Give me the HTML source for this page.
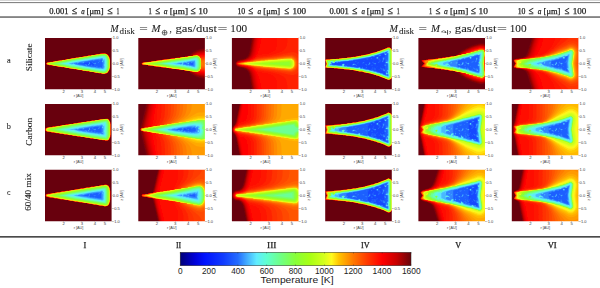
<!DOCTYPE html><html><head><meta charset="utf-8"><style>html,body{margin:0;padding:0;background:#fff;width:600px;height:288px;overflow:hidden}svg{display:block}</style></head><body>
<svg width="600" height="288" viewBox="0 0 600 288">
<defs><filter id="bl" x="-5%" y="-5%" width="110%" height="110%"><feGaussianBlur stdDeviation="0.45"/></filter><filter id="tb" x="-2%" y="-10%" width="104%" height="120%"><feGaussianBlur stdDeviation="0.3"/></filter></defs><rect width="600" height="288" fill="#fff"/>
<rect x="0" y="0" width="600" height="0.7" fill="#c4c4c4"/>
<rect x="0" y="2.1" width="600" height="1.0" fill="#777"/>
<rect x="0" y="16.4" width="600" height="1.3" fill="#505050"/>
<rect x="0" y="236.1" width="600" height="1.5" fill="#383838"/>
<g filter="url(#tb)" stroke="#222" stroke-width="0.25">
<text x="49.25" y="13.60" textLength="19.24" lengthAdjust="spacingAndGlyphs" style="font-family:'Liberation Serif';font-size:8.6px" fill="#222" >0.001</text>
<text x="72.04" y="13.60" textLength="5.28" lengthAdjust="spacingAndGlyphs" style="font-family:'Liberation Serif';font-size:10.4px" fill="#222" >≤</text>
<text x="81.30" y="13.60" textLength="3.44" lengthAdjust="spacingAndGlyphs" style="font-family:'Liberation Serif';font-size:8.6px;font-style:italic" fill="#222" >a</text>
<text x="86.55" y="13.60" textLength="16.96" lengthAdjust="spacingAndGlyphs" style="font-family:'Liberation Serif';font-size:8.6px" fill="#222" >[μm]</text>
<text x="107.54" y="13.60" textLength="5.28" lengthAdjust="spacingAndGlyphs" style="font-family:'Liberation Serif';font-size:10.4px" fill="#222" >≤</text>
<text x="116.50" y="13.60" textLength="2.86" lengthAdjust="spacingAndGlyphs" style="font-family:'Liberation Serif';font-size:8.6px" fill="#222" >1</text>
<text x="148.62" y="13.60" textLength="3.29" lengthAdjust="spacingAndGlyphs" style="font-family:'Liberation Serif';font-size:8.6px" fill="#222" >1</text>
<text x="155.38" y="13.60" textLength="4.80" lengthAdjust="spacingAndGlyphs" style="font-family:'Liberation Serif';font-size:10.4px" fill="#222" >≤</text>
<text x="163.78" y="13.60" textLength="3.78" lengthAdjust="spacingAndGlyphs" style="font-family:'Liberation Serif';font-size:8.6px;font-style:italic" fill="#222" >a</text>
<text x="169.80" y="13.60" textLength="18.15" lengthAdjust="spacingAndGlyphs" style="font-family:'Liberation Serif';font-size:8.6px" fill="#222" >[μm]</text>
<text x="190.86" y="13.60" textLength="5.04" lengthAdjust="spacingAndGlyphs" style="font-family:'Liberation Serif';font-size:10.4px" fill="#222" >≤</text>
<text x="198.38" y="13.60" textLength="9.40" lengthAdjust="spacingAndGlyphs" style="font-family:'Liberation Serif';font-size:8.6px" fill="#222" >10</text>
<text x="237.42" y="13.60" textLength="7.79" lengthAdjust="spacingAndGlyphs" style="font-family:'Liberation Serif';font-size:8.6px" fill="#222" >10</text>
<text x="248.47" y="13.60" textLength="4.92" lengthAdjust="spacingAndGlyphs" style="font-family:'Liberation Serif';font-size:10.4px" fill="#222" >≤</text>
<text x="257.49" y="13.60" textLength="3.67" lengthAdjust="spacingAndGlyphs" style="font-family:'Liberation Serif';font-size:8.6px;font-style:italic" fill="#222" >a</text>
<text x="263.36" y="13.60" textLength="16.75" lengthAdjust="spacingAndGlyphs" style="font-family:'Liberation Serif';font-size:8.6px" fill="#222" >[μm]</text>
<text x="284.58" y="13.60" textLength="4.80" lengthAdjust="spacingAndGlyphs" style="font-family:'Liberation Serif';font-size:10.4px" fill="#222" >≤</text>
<text x="292.41" y="13.60" textLength="13.64" lengthAdjust="spacingAndGlyphs" style="font-family:'Liberation Serif';font-size:8.6px" fill="#222" >100</text>
<text x="329.50" y="13.60" textLength="19.24" lengthAdjust="spacingAndGlyphs" style="font-family:'Liberation Serif';font-size:8.6px" fill="#222" >0.001</text>
<text x="352.29" y="13.60" textLength="5.28" lengthAdjust="spacingAndGlyphs" style="font-family:'Liberation Serif';font-size:10.4px" fill="#222" >≤</text>
<text x="361.55" y="13.60" textLength="3.44" lengthAdjust="spacingAndGlyphs" style="font-family:'Liberation Serif';font-size:8.6px;font-style:italic" fill="#222" >a</text>
<text x="366.80" y="13.60" textLength="16.96" lengthAdjust="spacingAndGlyphs" style="font-family:'Liberation Serif';font-size:8.6px" fill="#222" >[μm]</text>
<text x="387.79" y="13.60" textLength="5.28" lengthAdjust="spacingAndGlyphs" style="font-family:'Liberation Serif';font-size:10.4px" fill="#222" >≤</text>
<text x="396.75" y="13.60" textLength="2.86" lengthAdjust="spacingAndGlyphs" style="font-family:'Liberation Serif';font-size:8.6px" fill="#222" >1</text>
<text x="428.88" y="13.60" textLength="3.29" lengthAdjust="spacingAndGlyphs" style="font-family:'Liberation Serif';font-size:8.6px" fill="#222" >1</text>
<text x="435.63" y="13.60" textLength="4.80" lengthAdjust="spacingAndGlyphs" style="font-family:'Liberation Serif';font-size:10.4px" fill="#222" >≤</text>
<text x="444.03" y="13.60" textLength="3.78" lengthAdjust="spacingAndGlyphs" style="font-family:'Liberation Serif';font-size:8.6px;font-style:italic" fill="#222" >a</text>
<text x="450.05" y="13.60" textLength="18.15" lengthAdjust="spacingAndGlyphs" style="font-family:'Liberation Serif';font-size:8.6px" fill="#222" >[μm]</text>
<text x="471.11" y="13.60" textLength="5.04" lengthAdjust="spacingAndGlyphs" style="font-family:'Liberation Serif';font-size:10.4px" fill="#222" >≤</text>
<text x="478.63" y="13.60" textLength="9.40" lengthAdjust="spacingAndGlyphs" style="font-family:'Liberation Serif';font-size:8.6px" fill="#222" >10</text>
<text x="517.67" y="13.60" textLength="7.79" lengthAdjust="spacingAndGlyphs" style="font-family:'Liberation Serif';font-size:8.6px" fill="#222" >10</text>
<text x="528.72" y="13.60" textLength="4.92" lengthAdjust="spacingAndGlyphs" style="font-family:'Liberation Serif';font-size:10.4px" fill="#222" >≤</text>
<text x="537.74" y="13.60" textLength="3.67" lengthAdjust="spacingAndGlyphs" style="font-family:'Liberation Serif';font-size:8.6px;font-style:italic" fill="#222" >a</text>
<text x="543.61" y="13.60" textLength="16.75" lengthAdjust="spacingAndGlyphs" style="font-family:'Liberation Serif';font-size:8.6px" fill="#222" >[μm]</text>
<text x="564.83" y="13.60" textLength="4.80" lengthAdjust="spacingAndGlyphs" style="font-family:'Liberation Serif';font-size:10.4px" fill="#222" >≤</text>
<text x="572.66" y="13.60" textLength="13.64" lengthAdjust="spacingAndGlyphs" style="font-family:'Liberation Serif';font-size:8.6px" fill="#222" >100</text>
<g stroke-width="0.08">
<text x="110.20" y="32.00" textLength="8.36" lengthAdjust="spacingAndGlyphs" style="font-family:'Liberation Serif';font-size:11.4px;font-style:italic" fill="#222" >M</text>
<text x="119.62" y="33.70" textLength="15.09" lengthAdjust="spacingAndGlyphs" style="font-family:'Liberation Serif';font-size:8px" fill="#222" >disk</text>
<text x="139.24" y="32.00" textLength="8.54" lengthAdjust="spacingAndGlyphs" style="font-family:'Liberation Serif';font-size:11.4px" fill="#222" >=</text>
<text x="151.60" y="32.00" textLength="8.93" lengthAdjust="spacingAndGlyphs" style="font-family:'Liberation Serif';font-size:11.4px;font-style:italic" fill="#222" >M</text>
<circle cx="164.6" cy="32.7" r="2.4" fill="none" stroke="#222" stroke-width="0.6"/><path d="M162.2 32.7H167.0M164.6 30.300000000000004V35.1" stroke="#222" stroke-width="0.6"/>
<text x="169.50" y="32.00" textLength="2.29" lengthAdjust="spacingAndGlyphs" style="font-family:'Liberation Serif';font-size:11.4px" fill="#222" >,</text>
<text x="175.44" y="32.00" textLength="41.66" lengthAdjust="spacingAndGlyphs" style="font-family:'Liberation Serif';font-size:11.4px" fill="#222" >gas/dust</text>
<text x="217.63" y="32.00" textLength="9.95" lengthAdjust="spacingAndGlyphs" style="font-family:'Liberation Serif';font-size:11.4px" fill="#222" >=</text>
<text x="230.32" y="32.00" textLength="16.82" lengthAdjust="spacingAndGlyphs" style="font-family:'Liberation Serif';font-size:11.4px" fill="#222" >100</text>
<text x="389.60" y="32.00" textLength="8.36" lengthAdjust="spacingAndGlyphs" style="font-family:'Liberation Serif';font-size:11.4px;font-style:italic" fill="#222" >M</text>
<text x="399.02" y="33.70" textLength="15.09" lengthAdjust="spacingAndGlyphs" style="font-family:'Liberation Serif';font-size:8px" fill="#222" >disk</text>
<text x="418.64" y="32.00" textLength="8.54" lengthAdjust="spacingAndGlyphs" style="font-family:'Liberation Serif';font-size:11.4px" fill="#222" >=</text>
<text x="431.00" y="32.00" textLength="8.93" lengthAdjust="spacingAndGlyphs" style="font-family:'Liberation Serif';font-size:11.4px;font-style:italic" fill="#222" >M</text>
<text x="439.06" y="35.20" textLength="11.47" lengthAdjust="spacingAndGlyphs" style="font-family:'Liberation Sans';font-size:8.7px" fill="#222" >♃</text>
<text x="448.90" y="32.00" textLength="2.29" lengthAdjust="spacingAndGlyphs" style="font-family:'Liberation Serif';font-size:11.4px" fill="#222" >,</text>
<text x="454.84" y="32.00" textLength="41.66" lengthAdjust="spacingAndGlyphs" style="font-family:'Liberation Serif';font-size:11.4px" fill="#222" >gas/dust</text>
<text x="497.03" y="32.00" textLength="9.95" lengthAdjust="spacingAndGlyphs" style="font-family:'Liberation Serif';font-size:11.4px" fill="#222" >=</text>
<text x="509.72" y="32.00" textLength="16.82" lengthAdjust="spacingAndGlyphs" style="font-family:'Liberation Serif';font-size:11.4px" fill="#222" >100</text>
</g>
<g stroke-width="0.1">
<text x="7.06" y="62.70" textLength="3.68" lengthAdjust="spacingAndGlyphs" style="font-family:'Liberation Serif';font-size:8.8px" fill="#222" >a</text>
<text x="6.77" y="128.60" textLength="4.11" lengthAdjust="spacingAndGlyphs" style="font-family:'Liberation Serif';font-size:8.8px" fill="#222" >b</text>
<text x="7.08" y="194.50" textLength="3.46" lengthAdjust="spacingAndGlyphs" style="font-family:'Liberation Serif';font-size:8.8px" fill="#222" >c</text>
<text transform="translate(32.40,71.23) rotate(-90)" x="0" y="0" textLength="27.77" lengthAdjust="spacingAndGlyphs" style="font-family:'Liberation Serif';font-size:8.8px" fill="#222">Silicate</text>
<text transform="translate(32.30,145.77) rotate(-90)" x="0" y="0" textLength="28.04" lengthAdjust="spacingAndGlyphs" style="font-family:'Liberation Serif';font-size:8.8px" fill="#222">Carbon</text>
<text transform="translate(30.60,210.82) rotate(-90)" x="0" y="0" textLength="37.72" lengthAdjust="spacingAndGlyphs" style="font-family:'Liberation Serif';font-size:8.8px" fill="#222">60/40 mix</text>
</g>
</g>
<clipPath id="cp00"><rect x="45.0" y="37.9" width="66.6" height="51.4"/></clipPath>
<g clip-path="url(#cp00)"><g filter="url(#bl)">
<rect x="43.0" y="35.9" width="70.6" height="55.4" fill="rgb(104,4,10)"/>
<path fill="#68040a" d="M100.8 53.6l.2-.2 4.2 0 .3.3 1.3.2 1.4 1.3.8 1 .7 1.4.3 2 .2.3 0 7.5-.2.2-.3 2-1.5 2.6-.7.7-.7.5-.8 0-1.2.5-2.6 0-.2-.3-1 0-.2-.2-2 0-1.3-.5-2 0-.3-.3-1 0-1.2-.5-2 0-.2-.2-1 0-1.3-.5-2 0-.3-.3-1 0-.2-.2-2 0-1.2-.5-1 0-.3-.3-2 0-.3-.2-2-.3-.2-.2-2 0-1.2-.5-2 0-.3-.3-1 0-1.3-.5-2 0-.2-.2-1 0-1.2-.5-2 0-.3-.3-1 0-.3-.2-2 0-.2-.3-2-.2-.2-.3-2 0-.3-.2-2-.3-.3-.2-2 0-1.2-.5-1-.1-.7-.4-.2-.5.2-1 .5-.4.4-.1.3-.2 1.5 0 .2-.3 1 0 .3-.2 2 0 1.3-.5 1 0 .2-.3 2 0 1.2-.5 1 0 .3-.2 2 0 1.3-.5 2 0 .2-.3 2-.2.2-.3 2 0 .3-.2 2-.3.3-.2 2 0 .2-.3 2-.2.2-.3 2 0 .3-.2 1 0 .3-.3 2 0 1.2-.5 1 0 .2-.2 2 0 1.3-.5 1 0 .3-.3 2 0 1.2-.5 2 0 .2-.2 2-.3.3-.2 2 0 .3-.3z"/>
<path fill="#980205" d="M100.9 53.6l4.3-.1.3.2.7.1 1.3.7.9.9 1.2 2.2.3 2 .2.3 0 7.5-.2.2-.3 2-1.5 2.6-.6.6-.7.5-.8 0-1.2.5-2.6 0-1.4-.5-2 0-1.3-.5-2 0-.3-.2-1-.1-1.2-.4-2-.1-.2-.2-1 0-1.3-.5-2 0-1.5-.5-2 0-1.2-.5-3.3-.3-.3-.2-2-.3-.2-.2-2 0-1.2-.5-2 0-.3-.2-1-.1-1.3-.4-2-.1-.2-.2-1 0-1.2-.5-2 0-1.6-.5-2 0-.2-.2-2-.3-.2-.2-2-.1-.3-.2-2-.3-.3-.2-2 0-1.2-.5-1 0-.6-.4-.3-.5.3-1 1.1-.6 1.5 0 1.5-.5 2-.1 1.3-.4 1-.1.2-.2 2 0 1.2-.5 1 0 .3-.2 2-.1 1.3-.4 2-.1.2-.2 2-.3.2-.2 2 0 .3-.2 2-.3.3-.2 2-.1.2-.2 2-.3.2-.2 2 0 1.6-.5 2 0 1.2-.5 1 0 .2-.2 2-.1 1.3-.4 1-.1.3-.2 2 0 1.2-.5 2 0 .2-.2 2-.3.3-.2 2-.1.3-.2z"/>
<path fill="#d60000" d="M100.9 53.6l4.3 0 .3.2.7 0 1.3.8.8.8 1.3 2.2.2 2 .3.3 0 7.5-.3.2-.2 2-1.5 2.6-.6.5-.7.5-.8.1-1.2.4-2.3.1-1.7-.5-2-.1-1.3-.4-2-.1-2.5-.7-2 0-2.5-.7-1.7 0-1.8-.5-2-.1-1.2-.4-3.3-.3-2.5-.7-2-.1-1.2-.4-2-.1-2.6-.7-2 0-2.4-.7-2-.1-1.6-.4-2-.1-2.4-.7-2 0-2.6-.8-1.7 0-1.5-.5-1 0-.5-.3-.3-.5.3-1 1-.6 1.5 0 1.8-.5 1.7 0 2.5-.7 2 0 2.5-.8 2 0 1.5-.5 1.8 0 2.4-.7 2-.1 2.6-.7 2 0 2.4-.7 2-.1 1.6-.4 2-.1 2.4-.7 2 0 2.6-.7 2-.1 1.4-.5 1.8 0 2.5-.7 2 0 .3-.2 1-.1z"/>
<path fill="#ff0000" d="M101 53.6l4 0 1.2.3 1.3.7.8.8 1.2 2.2.3 2 .2.3 0 7.5-.2.2-.3 2-2 3.1-.7.5-2 .5-2.3 0-1.7-.5-1.8 0-1.5-.5-1.7 0-.6-.2-1-.1-1.2-.4-2-.1-2.5-.7-1.7 0-1.8-.5-1.8 0-2.7-.7-2-.1-2.5-.7-1.8 0-1.4-.5-1.8 0-.5-.2-1-.1-1.3-.5-2 0-2.4-.7-1.8 0-1.8-.5-2 0-2.4-.8-1.8 0-2.8-.7-1.7 0-1.5-.5-.9-.1-.8-.7.3-1 1-.5 1.4 0 1.8-.5 1.7 0 2.5-.8 2 0 1.2-.5 1 0 .6-.2 1.7 0 1.5-.5 1.8 0 2.4-.8 2 0 2.8-.8 1.8 0 2.4-.7 2 0 1.8-.5 1.8 0 1.2-.5 1 0 .5-.3 1.7 0 2.6-.7 2 0 1.4-.5 1.8 0 2.5-.7 2-.1z"/>
<path fill="#ff2a00" d="M101.2 53.6l3.8 0 1.2.4 1.3.8 1.1 1.4.8 1.4.3 2 .2.3 0 7.3-.5 2.4-1.9 2.9-1 .7-2 .4-2 .1-1.7-.5-1.8 0-1.5-.5-1.7 0-2.8-.8-3-.3-1.5-.4-1.7 0-1.8-.6-1.8 0-1.4-.5-3-.2-2.8-.8-1.8 0-1.4-.5-3-.2-1.6-.5-1.7 0-2.7-.8-1.8 0-1.8-.5-1.7 0-2.7-.7-1.8 0-2.8-.8-1.7 0-1.5-.5-.8 0-.4-.3-.4-.7.4-.7 1-.4 1.2 0 1.8-.5 1.7-.1 2.7-.7 1.8 0 1.5-.5 3-.3 1.5-.5 1.8 0 2.7-.7 3-.3 1.5-.5 1.8 0 2.7-.7 1.7 0 1.8-.5 1.8 0 1.4-.5 3-.3 2.8-.8 1.8 0 1.4-.5 1.8 0 2.7-.7 3.1-.3z"/>
<path fill="#ff5800" d="M101 53.9l4-.2 1 .3 1.5.9 1 1.3.7 1.5.6 2.5 0 7-.6 2.4-1.7 2.8-1 .7-2 .5-2 0-1.7-.5-1.8 0-1.5-.5-1.7 0-2.8-.8-3-.2-1.5-.5-1.7 0-1.8-.5-1.8 0-1.4-.5-3-.3-2.8-.7-1.8-.1-1.4-.4-3-.3-1.6-.5-1.7 0-2.7-.8-1.8 0-1.8-.5-1.7 0-2.7-.7-1.8 0-2.8-.8-1.7 0-2.3-.5-.7-.9.4-.7.9-.3 1.2 0 1.8-.5 1.7-.1 1.5-.5 3-.2 2.8-.8 1.7 0 1.5-.5 1.8 0 2.7-.7 1.7-.1 2.8-.7 1.8 0 2.7-.8 1.7 0 1.8-.5 1.8 0 2.7-.7 1.7 0 2.8-.8 1.8 0 1.4-.5 1.8 0 2.8-.7 1.7 0z"/>
<path fill="#ff8b00" d="M101.2 53.9l3.8-.1 1 .3 1.3.8 1 1.3.9 1.7.5 2.3 0 7-.5 2.2-1.9 3-.8.6-2 .5-2 0-1.7-.5-1.8 0-1.5-.5-3-.3-1.5-.5-1.8 0-2.7-.7-1.7 0-1.8-.5-1.8 0-1.4-.5-3-.3-2.8-.7-1.8 0-1.4-.5-3-.3-1.6-.5-1.7 0-2.7-.7-1.8-.1-1.8-.5-1.7 0-2.7-.7-1.8 0-2.5-.7-2-.2-2.3-.5-.5-.7.3-.6.8-.3 1.4-.1 1.7-.4 1.6-.1 2.7-.7 1.8 0 1.5-.5 3-.3 1.5-.5 1.8 0 2.7-.7 1.7-.1 2.8-.7 1.8 0 2.7-.8 1.7 0 1.8-.5 1.8 0 1.4-.5 3-.2 2.8-.8 1.8 0 1.4-.5 1.8 0 2.8-.7 1.7 0z"/>
<path fill="#ffc400" d="M100.8 54.2l.7-.3 3.3 0 1.2.3 1.2.8 1 1.2.9 1.7.5 2.3 0 7-.5 2.2-1.9 2.9-.7.5-2.3.6-1.4 0-2-.5-1.6 0-1.7-.5-1.5 0-2.8-.7-3-.3-1.4-.5-1.8 0-2-.5-1.5 0-1.5-.5-3-.3-3-.7-1.5 0-1.5-.5-1.8 0-3-.8-1.4 0-3-.8-1.6 0-2-.5-1.4 0-2.8-.7-1.8-.1-2.7-.7-1.7-.1-2.3-.5-.6-.6.3-.4.8-.4 1.2 0 1.8-.5 1.8-.1 2.7-.7 1.5 0 3-.8 1.5 0 1.7-.5 1.6 0 3-.8 1.4 0 3-.7 3-.3 1.6-.5 5-.5 3-.7 1.4 0 3-.8 1.6 0 1.7-.5 1.5 0 3-.7 1.5 0z"/>
<path fill="#eafc1e" d="M101.2 54.2l3.6-.2 1.2.4 1.2.7 1.7 2.8.5 2.3 0 7-.5 2.2-1.7 2.8-1 .6-2 .5-1.4 0-1.8-.5-1.8 0-1.4-.5-1.8 0-2.8-.8-3-.3-1.4-.4-1.8-.1-2-.5-1.5 0-1.5-.4-3-.3-2.8-.7-1.7-.1-1.5-.4-3-.3-1.5-.5-1.7 0-2.8-.8-5.2-.5-2.8-.8-1.8 0-2.7-.8-1.7-.1-2.3-.5-.3-.4.8-.5 1.2-.1 1.8-.5 1.8-.1 2.7-.8 1.7 0 2.8-.7 1.5 0 1.7-.6 1.8 0 2.8-.7 1.7-.1 2.7-.7 3-.3 1.6-.4 1.4 0 2-.5 1.8-.1 2.8-.7 1.7 0 2.7-.7 1.6 0 1.7-.5 1.7-.1 2.8-.7 1.8 0z"/>
<path fill="#caff1c" d="M101.5 54.2l3.3-.1 1 .3 1.3.8 1 1.2.7 1.5.5 2.3 0 6.7-.5 2.5-1.7 2.8-.9.5-2 .5-1.4 0-1.8-.5-1.8 0-1.4-.5-1.8 0-2.8-.8-3-.2-1.4-.5-1.8 0-1.8-.5-1.7 0-1.5-.5-3-.3-2.8-.7-1.7-.1-1.5-.4-1.8-.1-2.7-.7-1.7 0-2.8-.8-5.2-.6-2.8-.7-1.8-.1-2.7-.7-1.5-.1-2.5-.8.7-.4 3-.6 1.6 0 2.7-.8 1.7-.1 2.8-.7 1.8-.1 1.4-.4 1.8-.1 2.8-.7 3-.3 1.4-.5 1.8 0 2.8-.7 1.7-.1 1.7-.5 1.8 0 1.5-.5 3-.2 2.7-.8 1.8 0 1.5-.5 1.7 0 2.8-.7 1.8 0z"/>
<path fill="#b4ff16" d="M101.3 54.4l3.5-.1 1 .2 1.2.8.9 1.1.7 1.5.6 2.5 0 6.5-.6 2.5-1.6 2.6-.8.5-2 .5-5-.5-1.4-.4-3-.3-1.6-.5-1.7 0-2.7-.8-5.3-.5-2.7-.7-1.8-.1-2.8-.7-5-.5-2.7-.8-1.7 0-2.8-.7-1.8-.1-1.7-.5-1.5 0-3-.8-1.5 0-3-.9-1.5 0-1.5-.6 2.7-.8 1.6 0 7.3-1.6 4.9-.6 7.2-1.5 1.8-.1 2.8-.7 1.7 0 1.7-.5 1.8 0 2.8-.7 1.7-.1 2.7-.7 5-.5 2.8-.8 1.8 0z"/>
<path fill="#a0ff1d" d="M101 54.6l.8-.2 2.7 0 1.3.3 1.1.7 1.5 2.5.6 2.5 0 6.5-.6 2.5-1.5 2.5-.9.5-2 .5-4.5-.5-1.7-.5-1.6 0-7.4-1.5-5-.5-3-.8-1.6 0-6.2-1.3-1.5 0-7.5-1.5-5-.6-9.4-2.1 1.6-.5 1.6-.1 3-.8 1.4-.1 3-.8 1.6 0 6.2-1.3 1.5 0 3-.8 1.5 0 3-.7 5-.6 3-.7 1.5 0 3-.8 4.7-.5 3-.7 1.6-.1z"/>
<path fill="#90ff2f" d="M101.7 54.6l2.8 0 1.3.4 1 .6 1.4 2.6.5 2.2 0 6.5-.5 2.3-1.4 2.5-.8.5-2 .5-1 0-2-.5-1.5 0-1.7-.5-1.6 0-7.4-1.5-5-.5-7.6-1.6-4.7-.5-7.5-1.6-5-.6-7.1-1.8 3.9-1.1 1.7-.1 2.7-.8 4.8-.6 3-.8 1.5 0 7.5-1.5 5-.6 3-.7 1.5 0 3-.8 4.7-.5 3-.7 1.6 0z"/>
<path fill="#82ff4a" d="M101.9 54.9l2.6 0 1 .3 1.1.7 1.3 2.3.5 2.2 0 6.5-.5 2.3-1.7 2.4-2.2.8-4.5-.5-1.7-.5-1.6 0-7.2-1.5-5.2-.5-7.6-1.6-4.7-.5-7.3-1.6-5-.7-5.7-1.4 2.5-.7 1.5-.1 6.3-1.4 1.4-.1 2.8-.7 1.8-.1 2.7-.7 1.7-.1 2.8-.7 5.2-.6 2.8-.7 1.8-.1 2.7-.7 5-.6 2.7-.6 1.8-.1z"/>
<path fill="#76ff70" d="M101.5 55.4l2.7-.1 1 .2 1 .6 1.2 2.1.5 2.4 0 6-.5 2.6-1.5 2.2-2.1.6-4-.5-1.8-.4-1.5-.1-7.5-1.4-5-.6-3-.7-1.5-.1-6.3-1.2-1.4-.1-7.6-1.6-5-.8-3.2-.9.2-.2 1.3-.1 3-.9 4.7-.7 3-.7 1.6-.1 3-.8 1.4 0 3-.8 1.6 0 2-.5 1.4 0 3-.8 1.6 0 3-.7 4.7-.6z"/>
<path fill="#6cff96" d="M101.3 55.9l2.9-.2 1.6.7 1 1.8.6 2.4 0 6-.5 2.3-1.4 2.2-1.7.5-7.3-1-7.5-1.5-5-.6-3-.7-1.5 0-3-.8-1.5 0-6.2-1.3-1.3-.1-9.4-2 2.7-.7 4.7-.7 7.3-1.6 1.7-.1 2.7-.7 5-.6 3-.7 1.6-.1 3-.7 4.7-.5z"/>
<path fill="#64ffbc" d="M101.2 56.4l1-.2 1.8 0 1.2.4 1.1 1.8.5 2.2 0 6-.5 2.3-1.1 1.7-1.7.5-5.3-.9-1.4-.1-3-.7-1.6 0-3-.7-5-.6-10.7-2.1-1.5 0-11.4-2.4.4-.2 3-.6 1.5-.1 3-.8 1.5-.1 7.5-1.5 5-.6 3-.7 1.5-.1 3-.7 4.8-.6z"/>
<path fill="#60f8e1" d="M102.3 56.6l1.7.1.8.2.9 1.5.5 2.5 0 5.5-.5 2.5-.9 1.4-1.3.3-6.7-1-3-.6-1.6-.1-3-.7-5-.6-21.3-4 14.6-2.8 5-.7 3-.6 9.3-1.4z"/>
<path fill="#5ee7ff" d="M102.3 57.2l1.5-.1.6.3.7 1.2.5 2.3 0 5.5-.2 1.2-.3 1-.8 1.3-.8.2-11-1.7-3-.7-5-.6-18.8-3.5 3.1-.7 1.4-.1 7.6-1.6 5-.6 3-.7 9.2-1.4z"/>
<path fill="#48b9ff" d="M101.6 57.9l1.2 0 .2 1.9.5-.1.7-.9.4.8.2 1.6 0 3-1 .7.7.7.3.8-.5 2.2-.3.2-.5-.1-1.5.4-1-.6-.2.4-.6.2-4.2-.7-1.8-.5-1.2 0-.8-.3-1 0-6.7-1-2.7-.8-1.8 0-4.2-1-1.3-.6-1.5-.1-1 .3-3.3-.8 4.5-1 9.6-1.5 7.4-1.4 6.3-.9.7.1 1-.5 1 .2.6-.3zM102.8 60.8l-.3.4 0 .5.3 0 .3-.5-.1-.5z"/>
<path fill="#3086ff" d="M101.7 58.6l.5-.1.5.9-.1.8-.6 1.4.2.6.6-.1.7-1.4.3.1 0 .4 0 3-.4.7.4.5 0 .8-.3 1.7-.7.6-1-.1-1.3-.6-.5-.5-.4.3-.1.6-1.7-.5-.8.3-2.5-.7-2.8-.1-7.2-1.2-2.5-.6-1.8-.1-4.4-.9-1.8-.7-.2-.3.2-.3 3.2-.6.3.7.3.1.6-.4.4-.6 2.4-.5 4.8-.8 1 .2.5-.3 1.7-.5 4-.6.6.6.7-.7 3.7-.7 1.3.3.5-.3zM83.2 62.6l-.4.3.3.3.7-.3 0-.4zM86.2 64.7l0 .5.3.1.1-.4zM89.5 62.3l-.3.3.2.6-.2.4-.9 1-.1.3.3.1 1.3-1.4zM95 63l-.5.6.3.4.9-.6-.2-.4zM98.2 62.1l0 .5.5-.2 0-.2zM72.4 63.4l.6-.2.4.2-.2.2-.7.3-1.2-.3z"/>
<path fill="#1f60ff" d="M101.5 59.6l.8 0-.3 1.3-.4.7.4.8.6.2 0 3-.5.8.1 1.1-1.4.1-.8-.6-.5.4-2.3-.1-.2-.1.5-.8-.3-.3-1.4.9-8.6-1.3-.2-.1 0-.7-.8-.6-1.4.1 0 .4 1 .3 0 .3-1 0-7.3-1.5 1.3-1 4-.5-.8 0-.2.5.2.3 1.2.2.9-.5.1-.9.8-.2 8-1.2.8.4.4-.6 3.6-.5.4.6.8-.6.7.3.1.2-.5 1.5.5.1.4-.6-.1-.8.1-.2.8-.7zM89.8 61.8l-.7.6 0 1-1.1 1.2 0 .5.2.2.6-.2 1.3-1.5zM91.8 64.6l-.8.8.2.4.7-.6zM92.5 61.8l-.3.4.6.3.1-.6zM93 62.7l.1.7.9.3.8.7 1.2-1-.2-.5-.3-.1-1.3.4zM98.2 61.8l-.3.8.6.2.7-.6-.3-.3zM95 64.9l-.4.5.2.4.5-.4zM76.2 63.4l.6-.1.4.3-.2.3-1.8-.3z"/>
<path fill="#1548ff" d="M93.4 61.9l1 0 0 .7-.7 0-.4-.4zM90.2 62.2l1-.2.3.8.7.1 1 1 1.1.5-.1.8-1.4.2-.3-.2-.1-.8-.4-.3-.5.1-.7.9-1.6-.2 1.2-1 .2-.5-.4-.5zM88.5 62.4l.3 0 0 1-1.3 1.3-1.3-.7-1.2 0-.5.2-3-.6 2 0 1.4-.7z"/>
</g></g>
<text x="112.8" y="39.3" style="font-family:'Liberation Sans',sans-serif;font-size:4px" fill="#3c3c3c">1.0</text>
<rect x="111.6" y="37.7" width="0.9" height="0.4" fill="#888"/>
<text x="112.8" y="52.1" style="font-family:'Liberation Sans',sans-serif;font-size:4px" fill="#3c3c3c">0.5</text>
<rect x="111.6" y="50.5" width="0.9" height="0.4" fill="#888"/>
<text x="112.8" y="65.0" style="font-family:'Liberation Sans',sans-serif;font-size:4px" fill="#3c3c3c">0.0</text>
<rect x="111.6" y="63.4" width="0.9" height="0.4" fill="#888"/>
<text x="111.9" y="77.8" style="font-family:'Liberation Sans',sans-serif;font-size:4px" fill="#3c3c3c">−0.5</text>
<rect x="111.6" y="76.2" width="0.9" height="0.4" fill="#888"/>
<text x="111.9" y="90.7" style="font-family:'Liberation Sans',sans-serif;font-size:4px" fill="#3c3c3c">−1.0</text>
<rect x="111.6" y="89.1" width="0.9" height="0.4" fill="#888"/>
<text transform="translate(123.1,63.6) rotate(-90)" text-anchor="middle" style="font-family:'Liberation Sans',sans-serif;font-size:3.8px" fill="#3c3c3c">z [AU]</text>
<text x="63.7" y="93.1" text-anchor="middle" style="font-family:'Liberation Sans',sans-serif;font-size:4.2px" fill="#3c3c3c">2</text>
<rect x="63.5" y="89.3" width="0.4" height="0.9" fill="#888"/>
<text x="81.9" y="93.1" text-anchor="middle" style="font-family:'Liberation Sans',sans-serif;font-size:4.2px" fill="#3c3c3c">3</text>
<rect x="81.7" y="89.3" width="0.4" height="0.9" fill="#888"/>
<text x="94.9" y="93.1" text-anchor="middle" style="font-family:'Liberation Sans',sans-serif;font-size:4.2px" fill="#3c3c3c">4</text>
<rect x="94.7" y="89.3" width="0.4" height="0.9" fill="#888"/>
<text x="104.9" y="93.1" text-anchor="middle" style="font-family:'Liberation Sans',sans-serif;font-size:4.2px" fill="#3c3c3c">5</text>
<rect x="104.7" y="89.3" width="0.4" height="0.9" fill="#888"/>
<text x="78.5" y="96.7" text-anchor="middle" style="font-family:'Liberation Sans',sans-serif;font-size:3.8px" fill="#3c3c3c">r [AU]</text>
<clipPath id="cp01"><rect x="138.3" y="37.9" width="66.6" height="51.4"/></clipPath>
<g clip-path="url(#cp01)"><g filter="url(#bl)">
<rect x="136.3" y="35.9" width="70.6" height="55.4" fill="rgb(104,4,10)"/>
<path fill="#68040a" d="M204 42.4l2.8-.2 0 42.8-4.5-.4-4.3-.9-3.7-1.2-3.5-1.8-3-2-2.7-2.5-2.5-3.3-1.6-3-2.2-.3-.2-.2-1.8 0-.2-.3-4-.2-.3-.3-1 0-.3-.2-4-.3-1.2-.5-4-.2-.2-.3-1 0-.3-.2-6-.5-.3-.3-1 0-.2-.2-4-.3-1.2-.5-4-.2-.3-.3-1 0-.7-1 .7-.9 1 0 1.3-.5 2 0 .2-.3 1.8 0 .2-.2 2 0 1.2-.5 4-.3 1.3-.5 4.3-.2 1.2-.5 2 0 .2-.3 1.8 0 .2-.2 2 0 1.3-.5 2 0 .3-.3 1.7 0 1.3-.5 2 0 .2-.2 2 0 .2-.3.8 0 1.9-3.2 2.1-2.8 2.2-2.3 2.8-2 3.2-1.8 3.3-1.3 3.7-1z"/>
<path fill="#68040a" d="M203.8 44.9l3-.2 0 37.8-3.8-.3-4-.8-3.4-1.1-2.8-1.3-2.8-1.8-2.2-2-1.9-2.3-1.4-2.5-.5-.3-2 0-.2-.2-1.8 0-.2-.3-1 0-.2-.2-6-.5-.3-.3-3-.2-.3-.3-2 0-1.2-.5-2 0-.2-.2-1.8 0-.2-.3-1 0-.3-.2-6-.5-.3-.3-1 0-.2-.2-4-.3-1.2-.5-4-.2-.3-.3-1 0-.7-1 .7-.9 1 0 1.3-.5 2 0 .2-.3 1.8 0 .2-.2 2 0 1.2-.5 4-.3 1.3-.5 4.3-.2 1.2-.5 2 0 .2-.3 1.8 0 .2-.2 2 0 1.3-.5 4-.3 1.3-.5 4.2-.2 1.2-.5 3.5-.3 1.2-2.3 1.9-2.3 2.2-2.1 2.2-1.5 2.6-1.3 3-1.2 2.7-.7z"/>
<path fill="#68040a" d="M204.9 46.4l1.9-.1 0 34.6-3.5-.3-3.3-.6-2.7-.8-2.7-1.1-2.6-1.5-2.2-1.7-2.2-2.4-1.3-1.9-1 0-1.3-.5-4-.2-.2-.3-1 0-.2-.2-6-.6-.3-.2-1 0-.3-.2-4-.3-1.2-.5-4-.3-.2-.2-1 0-.3-.2-6-.6-.3-.2-3-.3-.2-.2-2 0-1.2-.5-4-.3-.3-.2-1 0-.7-1 .7-.9 1 0 1.3-.5 2 0 .2-.2 1.8 0 .2-.3 2 0 1.2-.5 4-.3 1.3-.4 4.3-.3 1.2-.5 2 0 .2-.2 1.8-.1.2-.2 2 0 1.3-.5 4-.3 1.3-.4 4.2-.3 1.2-.5 2 0 .3-.3 2.9-.3 1.1-1.6 1.6-1.8 1.9-1.7 2.8-1.9 2.4-1.1 2.8-1z"/>
<path fill="#6d040a" d="M204.8 47.6l2-.1 0 32.2-6.5-.9-2.7-.7-2.3-1-2.7-1.5-2-1.5-3.3-3.5-2 0-1.3-.5-4-.3-.2-.2-3-.3-.2-.2-4-.3-1.6-.5-4-.2-1.2-.5-4-.3-1.5-.5-6-.5-1.5-.5-4-.2-1.2-.5-4-.3-.3-.2-1 0-.7-1 .7-.9 1 0 1.3-.5 2 0 .2-.2 1.8 0 .2-.3 2 0 1.2-.5 4-.2 1.3-.5 4.3-.3 1.2-.5 2 0 .2-.2 1.8 0 .2-.3 2 0 1.3-.5 4-.2 1.3-.5 2 0 .2-.3 2 0 1.2-.5 2 0 .3-.3 1.7 0 .3-.2 2 0 3.3-3.5 3.7-2.6 4.5-1.8z"/>
<path fill="#800308" d="M205.1 48.6l1.7-.1 0 30.2-5.8-.7-4.7-1.5-4-2.2-1.8-1.4-1.8-2-3.4-.3-1.3-.5-4-.3-1.4-.5-6-.5-1.6-.5-4-.2-1.2-.5-4-.3-1.5-.5-6-.5-.3-.2-3-.3-.2-.2-2-.1-1.2-.4-4-.3-.3-.2-1-.1-.6-.9.6-.8 1-.1 1.3-.4 6.2-.6 1.2-.4 4-.3 1.3-.5 4.3-.3 1.2-.5 6.2-.5 1.3-.5 4-.2 1.3-.5 2 0 .2-.3 2 0 1.2-.5 2 0 .3-.2 1.7-.1.3-.2 2 0 .3-.3 1.2-.2 1.8-1.9 2.2-1.7 3.2-1.8 4-1.3z"/>
<path fill="#930206" d="M204.1 49.6l2.7-.2 0 28.4-5.5-.7-4.3-1.1-2.2-1-2-1.3-3.5-2.8-4-.3-1.3-.5-4-.3-.2-.2-3-.3-.2-.2-4-.3-1.6-.5-4-.3-1.2-.4-4-.3-1.5-.5-6-.5-1.5-.5-4-.3-1.2-.5-4-.2-.3-.3-1 0-.6-.9.6-.8 1 0 1.3-.5 6.2-.5 1.2-.5 4-.3 1.3-.5 2 0 .3-.2 2-.1 1.2-.4 6.2-.6 1.3-.4 4-.3 1.3-.5 4.2-.3 1.2-.5 2 0 .3-.2 4-.3 1.3-.5 1.1 0 3.6-3.1 2.7-1.4 3-1.1z"/>
<path fill="#a60104" d="M204.6 50.4l2.2-.2 0 26.8-5.5-.7-4-1-2.7-1.2-4-3-1 0-.3-.2-4-.3-1.3-.5-4-.3-.2-.3-3-.2-.2-.3-4-.2-1.6-.5-4-.3-1.2-.5-4-.2-1.5-.5-6-.5-1.5-.5-4-.3-1.2-.5-4-.3-.3-.2-1 0-.6-.9.6-.8 1 0 1.3-.5 6.2-.5 1.2-.5 4-.3 1.3-.5 4.3-.2 1.2-.5 6.2-.5 1.3-.5 4-.3 1.3-.5 4.2-.2 1.2-.5 2-.1.3-.2 1.7 0 .3-.3 2 0 1.3-.5 2 0 3-2.5 3.4-1.7 3-.9z"/>
<path fill="#ba0102" d="M204.5 51.2l2.3-.2 0 25.2-5.8-.6-3.4-.8-2.8-1.2-3.1-2.2-2.1-.3-.3-.2-4-.4-1.3-.5-4-.2-.2-.3-3-.2-.2-.3-4-.3-1.6-.4-4-.3-1.2-.5-4-.3-1.5-.4-6-.6-1.5-.4-4-.3-1.2-.5-4-.3-.3-.2-1 0-.6-.9.6-.8 1 0 1.3-.5 6.2-.5 1.2-.5 4-.3 1.3-.4 4.3-.3 1.2-.5 6.2-.5 1.3-.5 4-.3 1.3-.5 4.2-.2 1.2-.5 2 0 .3-.3 1.7 0 .3-.2 2-.1 1.3-.5 2 0 .2-.3.8 0 2.2-1.7 3.8-1.7 2.4-.7z"/>
<path fill="#cb0000" d="M203.9 51.9l2.9-.2 0 23.8-6.8-.7-2.7-.7-2.5-1.1-2.3-1.6-1.7 0-.2-.3-3-.3-.3-.2-2-.1-1.3-.5-4-.3-1.4-.4-6-.6-.3-.2-3-.3-.3-.2-2 0-1.2-.5-4-.3-1.5-.4-6-.6-.3-.2-3-.3-.2-.2-2 0-1.2-.5-4-.3-.3-.2-1 0-.6-.9.6-.8 1 0 1.3-.5 6.2-.5 1.2-.5 4-.3 1.3-.4 4.3-.3 1.2-.5 6.2-.5 1.3-.5 4-.3 1.3-.4 4.2-.3 1.2-.5 2 0 .3-.3 1.7 0 .3-.2 2-.1 1.3-.5 3.9-.3 1.3-1.1 3.8-1.8z"/>
<path fill="#d60000" d="M205.3 52.4l1.5-.1 0 22.6-8.2-1-2-.6-3.1-1.7-.7 0-.2-.2-1.8-.1-.2-.2-3-.3-.3-.3-2 0-1.3-.5-4-.3-1.4-.5-6-.5-1.6-.5-4-.2-1.2-.5-4-.3-1.5-.5-6-.5-.3-.2-3-.3-.2-.2-2-.1-1.2-.4-4-.3-.3-.2-1-.1-.5-.8.5-.7 1-.1 1.3-.4 6.2-.6 1.2-.4 4-.3 1.3-.5 4.3-.3 1.2-.5 6.2-.5 1.3-.5 4-.2 1.3-.5 4.2-.3 1.2-.5 2 0 .3-.2 1.7-.1.3-.2 2 0 1.3-.5 4-.4 5.2-2.4z"/>
<path fill="#e10000" d="M204 53.2l2.8-.3 0 21.4-8-.8-2.2-.7-2.3-1.2-3.5-.3-.2-.2-3-.3-.3-.3-2 0-1.3-.5-1.7 0-.5-.3-3-.3-.2-.2-5.8-.5-1.8-.5-1.7 0-.3-.2-1.7 0-1.5-.5-1.8 0-.4-.3-1.8 0-1.5-.5-5.7-.5-1.8-.5-3.8-.2-1.4-.5-4-.3-.3-.3-1 0-.5-.8.5-.7 1 0 1.5-.6 6-.5 1.2-.4 4-.3 1.6-.5 4-.3 1.2-.4 6.2-.6 1.3-.4 4-.3 1.3-.5 4.2-.3 1.2-.5 2 0 .3-.2 1.7-.1.3-.2 2 0 1.3-.5 4-.4 5.2-1.9z"/>
<path fill="#ec0000" d="M204.8 53.6l2-.1 0 20.2-8-.7-2-.5-2-.9-4-.3-.2-.2-3-.4-.3-.2-2 0-1.3-.5-1.7 0-.5-.3-3-.3-.2-.2-5.8-.5-1.8-.5-1.7 0-.3-.2-1.7 0-1.5-.5-1.8 0-.4-.3-1.8 0-1.5-.5-5.7-.5-1.8-.5-3.8-.3-1.4-.5-3.8-.2-1.5-.3-.5-.8.6-.7.9 0 1.5-.5 6-.5 1.2-.5 4-.3 1.6-.5 4-.3 1.4-.5 6-.5 1.3-.4 4-.3 1.5-.5 4-.3 1.5-.5 1.7 0 .3-.2 1.7 0 .6-.3 1.7 0 1.3-.5 2-.1.2-.2 1.8 0 1.2-.6 1.4 0 3.4-1.1z"/>
<path fill="#f70000" d="M205.9 54.2l.9-.1 0 19-8.2-.5-2.4-.7-1.2 0-.2-.3-4-.3-.2-.3-3-.3-.3-.2-2-.1-1.3-.4-1.7 0-.5-.3-3-.3-.2-.2-5.8-.5-1.8-.5-1.7 0-.3-.3-1.7 0-1.5-.5-1.8 0-.4-.2-1.8 0-1.5-.5-5.7-.5-1.8-.5-3.8-.3-1.4-.5-3.8-.2-1.5-.4-.4-.7.6-.7.8 0 1.5-.5 6-.5 1.3-.5 3.9-.3 1.6-.5 4-.2 1.4-.5 6-.5 1.3-.5 4-.3 1.5-.5 4-.3 1.5-.5 1.7 0 .3-.2 1.7 0 .6-.3 1.7 0 1.3-.5 4-.3 1.2-.5 2.3-.1 2.5-.7z"/>
<path fill="#ff0300" d="M203.7 54.9l3.1-.2 0 17.8-8.5-.4-1.3-.3-2 0-.2-.2-2-.1-.2-.2-1.8 0-1.5-.5-4-.4-1.3-.5-1.7 0-.5-.2-1.7-.1-1.5-.4-5.8-.5-1.8-.5-1.6 0-.4-.3-1.7 0-1.5-.5-1.8 0-.4-.2-1.7 0-1.6-.5-5.7-.5-1.8-.5-3.8-.3-1.4-.5-3.8-.3-1.5-.3-.4-.7.7-.7.7 0 1.5-.5 6-.5 1.4-.5 3.8-.3 1.6-.5 4-.2 1.4-.5 6-.5 1.4-.5 3.9-.3 1.5-.5 1.8 0 .4-.2 1.8 0 1.5-.5 1.7 0 .3-.3 1.7 0 .6-.3 1.7 0 1.3-.5 4-.3 1.2-.5z"/>
<path fill="#ff0e00" d="M204.5 55.4l2.3-.1 0 16.6-4.8-.3-7 .2-.2-.2-4-.4-1.5-.5-4-.3-1.3-.5-3.7-.2-1.7-.5-5.8-.5-1.8-.5-3.7-.3-1.5-.5-3.8-.2-1.7-.5-3.7-.3-3.8-.8-3.8-.2-1.4-.5-3.8-.3-1.2-.2-.6-.8.6-.7.7 0 1.5-.5 6-.5 1.5-.5 3.7-.3 1.6-.5 4-.2 1.4-.5 6-.5 1.5-.5 3.8-.3 1.5-.5 1.8 0 .4-.2 1.8 0 1.5-.5 1.7 0 .4-.2 1.6-.1.6-.2 1.7-.1 1.3-.4 4-.4 1.2-.5 3.5-.1.3.3 1.2-.2z"/>
<path fill="#ff1900" d="M193.7 55.6l3.6-.2 1 .5 4 .2 4.5-.3 0 15.6-5.5-.3-2.5.2-.8.3-1 0-.2.2-1.8 0-.2-.2-4-.4-1.5-.5-3.9-.3-1.4-.5-3.7-.2-1.7-.5-5.8-.6-1.8-.5-3.7-.2-1.5-.5-3.8-.3-1.7-.5-3.7-.2-3.8-.8-3.8-.2-1.4-.5-3.8-.3-1.2-.3-.6-.7.6-.6.7 0 1.5-.5 6-.6 1.5-.5 3.7-.2 1.6-.5 1.7 0 .5-.3 1.8 0 1.4-.5 6-.5 1.6-.5 1.7 0 .5-.2 1.5 0 1.5-.5 4-.3 1.5-.5 1.7 0 2.6-.5 1.7 0 1.3-.5 2-.1.2-.2 1.8-.1z"/>
<path fill="#ff2400" d="M193.7 55.6l3.6-.1 1.7.7 3 .4 4.8-.2 0 14.4-6.2-.1-1.8.2-.8.7-3 .2-.2-.3-4-.3-1.5-.5-3.8-.3-1.5-.5-3.7-.3-1.7-.5-5.8-.5-1.8-.5-3.7-.2-1.5-.5-3.8-.3-1.7-.5-3.7-.3-3.8-.7-3.8-.3-1.4-.5-3.8-.3-1.2-.2-.5-.7.5-.6.7 0 1.5-.5 6-.5 1.5-.5 3.7-.3 1.6-.5 1.7 0 .5-.2 1.8-.1 1.4-.5 6-.5 1.6-.5 1.7 0 .5-.2 1.5 0 1.5-.5 4-.3 1.5-.5 6-.5 1.3-.5 4-.4z"/>
<path fill="#ff3000" d="M193.7 55.6l3.6-.1 1.3.4.7.8 3 .5 4.5-.2 0 13.2-4.8-.1-2.2.3-1 .5-.8.7-2.7.2-.5-.3-4-.3-1.5-.5-3.7-.3-1.6-.5-3.7-.3-1.7-.5-5.8-.5-1.8-.5-3.7-.3-1.5-.5-3.8-.2-1.7-.5-3.7-.3-3.8-.7-3.8-.3-1.4-.5-3.8-.3-1.2-.2-.5-.7.5-.6 2.2-.5 6-.5 1.5-.5 3.7-.3 1.6-.5 1.7 0 .5-.2 1.8 0 1.4-.5 6-.5 1.6-.5 1.7 0 .5-.3 1.5 0 1.5-.5 4-.3 1.5-.5 6-.5 1.3-.5 4-.3z"/>
<path fill="#ff3b00" d="M193.7 55.6l3.6-.1 1.3.5 1.2 1.2 2 .5 5-.1 0 12-5-.1-2 .5-1.8 1.6-2.7.2-.5-.3-4-.3-1.5-.5-3.7-.3-1.6-.6-3.7-.2-1.7-.5-5.8-.5-1.8-.5-3.7-.3-1.5-.5-3.8-.3-1.7-.5-3.7-.2-3.8-.8-3.8-.2-1.4-.5-3.8-.3-1.2-.3-.4-.6.4-.5 2.2-.5 6-.6 1.5-.5 3.7-.2 1.6-.5 1.7 0 .5-.3 1.8 0 1.4-.5 6-.5 1.6-.5 1.7 0 .5-.3 1.5 0 1.5-.5 4-.2 1.5-.5 6-.6 1.4-.5 3.9-.3z"/>
<path fill="#ff4800" d="M193.8 55.6l3.2-.1 1 .3 2 1.6 0 .3 1 .4 2.6.3 3.2-.1 0 10.6-3.2-.1-2 .2-1.6.6-.5.8-1.5 1.1-2.7.2-.5-.2-3.9-.3-1.6-.5-3.7-.4-1.6-.5-3.7-.3-1.7-.5-5.8-.5-1.8-.5-3.7-.2-1.5-.5-3.8-.3-1.7-.5-3.7-.2-3.8-.8-3.8-.3-1.4-.5-3.8-.2-1.2-.3-.4-.6.4-.5 2.2-.5 6-.6 1.5-.4 3.7-.3 1.6-.5 4-.3 1.4-.5 6-.5 1.6-.5 3.7-.2 1.5-.5 4-.3 1.5-.5 6-.6 1.5-.5 3.8-.3z"/>
<path fill="#ff5500" d="M193.8 55.6l3.2-.1 1 .3 2 1.6.3 1 2.3.7 4.2-.1 0 9.2-3-.2-1.5.2-2 .7 0 .5-.8.8 0 .2-1.5 1.1-2.7.2-.5-.2-3.8-.3-1.7-.6-3.7-.3-1.6-.5-3.7-.3-1.7-.5-5.8-.5-1.8-.5-3.7-.3-1.5-.4-3.8-.3-1.7-.5-3.7-.3-3.8-.7-3.8-.3-1.4-.5-3.8-.3-1.2-.2-.3-.6.3-.5 2.2-.5 6-.5 1.5-.5 3.7-.3 1.6-.5 4-.2 1.4-.5 6-.6 1.6-.4 3.7-.3 1.5-.5 4-.3 1.5-.5 6-.5 1.5-.6 3.8-.3z"/>
<path fill="#ff6200" d="M193.8 55.6l3.2 0 1.6.4 1.4 1.4.3 1 1.5 1.3 2 .3 3-.2 0 7.6-3.2-.2-1.8.2-1.3 1-.2 1-.8.8 0 .2-1.5 1.1-2.7.2-.5-.2-3.8-.4-1.7-.5-3.7-.3-1.6-.5-3.7-.3-1.7-.5-5.8-.5-1.8-.5-3.7-.3-1.5-.5-3.8-.2-1.7-.5-3.7-.3-3.8-.7-3.8-.3-1.4-.5-3.7-.3-1.3-.3-.3-.5.3-.4 2.3-.6 5.9-.5 1.5-.5 3.7-.3 1.6-.4 4-.3 1.4-.5 6-.5 1.6-.5 3.7-.3 1.5-.5 4-.2 1.5-.5 6-.6 1.5-.5 3.8-.4z"/>
<path fill="#ff6e00" d="M193.9 55.6l3.1 0 1.6.5 1.4 1.3.2 1 .6.5 0 1.1 1.8.9 1.2.1 3-.3 0 5.8-3-.3-1.5.2-1.5.8 0 .9-.6.8 0 .5-1.2 1.4-1 .7-2.7.2-.5-.3-3.8-.3-1.7-.5-3.7-.4-1.6-.5-3.7-.2-1.7-.5-5.8-.6-1.8-.4-3.7-.3-1.5-.5-3.8-.3-1.7-.5-3.7-.2-3.8-.8-3.6-.2-1.6-.5-3.6-.3-1.4-.4-.2-.4.4-.4 2.2-.5 5.8-.6 1.5-.5 3.7-.2 1.6-.5 4-.3 1.4-.5 6-.5 1.6-.5 3.7-.3 1.5-.4 4-.3 1.5-.5 6-.6 1.5-.5 3.8-.3z"/>
<path fill="#ff7c00" d="M194 55.6l3 0 1.6.5 1.3 1.3.3 1 .5.5.1 1.3.2.2 0 .5 1.9 2.5 0 .5-2.1 3-.1 1.3-.5.7 0 .5-1.1 1.2-1.1.8-1 .1-.4.2-3.6-.3-3.7-.9-3.7-.3-1.6-.5-3.7-.3-1.7-.5-5.8-.5-1.8-.5-3.7-.2-1.5-.5-3.7-.3-1.8-.5-5.6-.5-1.9-.5-3.5-.3-1.7-.5-3.6-.3-1.2-.2-.3-.5.3-.4 2.2-.5 5.8-.5 1.8-.5 3.7-.3 1.4-.5 3.9-.3 1.5-.4 5.9-.6 1.6-.5 3.7-.2 1.5-.5 4-.3 1.5-.5 6-.6 1.5-.5 3.8-.3zM205.8 62.4l1-.2 0 2.8-1.9-.6-.8-.8.3-.4z"/>
<path fill="#ff8b00" d="M194.9 55.6l2.1 0 1.6.5 1.3 1.3.3 1 .5.5 0 1.3.3.2 0 6.2-.2.3-.1 1.3-.5.7 0 .5-1.2 1.3-1 .7-1 0-.2.2-3.8-.3-3.7-.8-3.7-.3-1.6-.5-1.7 0-3.7-.8-5.6-.5-4-.7-1.5-.1-1.5-.4-3.7-.3-2-.5-5.5-.5-4-.8-1.5 0-1.7-.5-3.6-.3-1.2-.3-.3-.4.3-.3 2.2-.5 5.8-.6 1.8-.5 3.4-.3 1.8-.5 3.8-.2 1.7-.5 5.7-.6 1.8-.4 3.8-.3 1.3-.5 3.9-.3 1.5-.5 6-.5 1.5-.5 1.8-.1z"/>
<path fill="#ff9a00" d="M196 55.6l1.2 0 1.4.5 1.3 1.3.3 1 .5.5 0 1.3.3.2 0 6.2-.3.3 0 1.3-.5.7-.1.5-1.1 1.3-1 .7-1 0-.4.2-5.6-.6-1.7-.5-3.7-.3-1.3-.5-3.7-.3-2-.5-5.6-.5-2-.5-3.4-.3-1.8-.5-1.5 0-4-.8-5.5-.5-4-.7-1.5-.1-1.7-.5-3.6-.3-1.2-.2-.2-.4.2-.3 2.2-.5 5.8-.6 1.8-.5 3.4-.2 1.8-.5 3.8-.3 1.7-.5 5.7-.5 1.8-.5 1.5 0 .7-.3 1.6 0 1.4-.5 3.8-.2 1.8-.5 5.7-.6 1.5-.5 3.8-.4 1.4-.5z"/>
<path fill="#ffa900" d="M193.8 55.9l3.2-.2 1.6.5 1.3 1.2.2 1 .6.5 0 1.3.3.2 0 3.2 0 3-.3.3 0 1.3-.6.7 0 .5-.8.8 0 .2-1.4 1-1.6.2-3.3-.3-3.7-.8-3.5-.3-1.8-.6-1.4 0-4-.8-5.6-.5-4-.7-1.4 0-1.8-.5-1.5 0-4-.8-5.5-.5-2-.5-3.5-.3-1.5-.5-3.8-.3-1.2-.3-.1-.3.1-.2 2.2-.6 5.8-.5 1.8-.5 3.4-.3 1.8-.5 3.8-.3 1.7-.5 5.7-.5 1.8-.5 3.8-.3 1.4-.4 3.8-.3 1.8-.5 5.7-.6 1.5-.5 1.8 0z"/>
<path fill="#ffb900" d="M193.9 55.9l3.1-.2 1.6.5 1.2 1.2.3 1 .5.5.1 1.3.2.2.1 3.2-.1 3-.2.3-.1 1.3-.5.7 0 .5-.8.8 0 .2-1.5 1-2.2.2-.8-.3-1.8-.1-3.7-.8-3.5-.3-1.8-.5-1.4 0-4-.8-5.6-.5-4-.8-1.4 0-1.6-.4-1.7-.1-4-.7-5.5-.6-2-.5-3.5-.2-1.5-.5-3.8-.4-1.3-.5 2.3-.7 6-.6 1.6-.5 3.7-.3 1.5-.5 3.8-.2 1.7-.5 5.7-.5 1.8-.5 3.8-.3 1.4-.5 3.8-.3 1.8-.5 5.7-.5 1.5-.6 3.8-.3z"/>
<path fill="#ffc903" d="M193.9 55.9l3.1-.2 1.6.6 1.2 1.1.3 1 .5.5 0 1.3.3.2 0 3.2 0 3-.3.3 0 1.3-.5.7 0 .5-.9 1-1.4 1-2.2.1-.8-.2-1.8-.1-3.7-.8-3.5-.3-1.8-.6-1.4 0-4-.7-5.6-.6-4-.7-1.4 0-1.6-.5-3.7-.3-1.7-.4-5.8-.6-1.8-.5-3.7-.3-1.5-.5-3.8-.3-1.2-.5 2.2-.6 6-.6 1.6-.5 3.7-.3 1.5-.5 4-.3 1.5-.5 6-.5 1.5-.5 3.8-.3 1.4-.5 4-.3 1.6-.4 5.7-.6 1.7-.5 3.6-.4z"/>
<path fill="#ffdf0f" d="M194 55.9l3-.1.8.2.8.3 1.1 1.1.4 1 .5.5 0 1.3.3.2 0 3.2 0 3-.3.3 0 1.3-.5.7-.1.5-.8 1-1.4.9-2.2.2-.8-.3-1.8 0-3.7-.8-3.5-.4-1.8-.5-1.4 0-3.8-.7-5.8-.6-3.7-.7-1.7-.1-1.6-.4-3.7-.3-1.7-.5-5.8-.5-1.8-.5-3.7-.4-1.5-.4-1.8-.1-3.1-.7 2.1-.6 6-.6 1.6-.5 3.7-.3 1.5-.5 4-.3 1.5-.4 6-.6 1.5-.5 3.8-.2 1.4-.5 3.8-.3 1.8-.5 5.7-.6 1.7-.5 3.6-.3z"/>
<path fill="#fff51b" d="M194 55.9l3-.1 1.3.4 1.4 1.2.3 1 .5.5.1 1.3.2.2.1 3-.1 3.2-.2.3 0 1.3-.6.7 0 .5-.9 1-1.3.9-2.2.2-.8-.3-1.7 0-3.8-.9-3.5-.3-1.5-.5-1.7-.1-3.8-.7-5.8-.5-3.7-.8-1.7 0-1.6-.5-1.7 0-3.7-.7-5.8-.6-1.8-.5-3.7-.3-1.5-.5-4.8-.7 2-.5 6-.6 1.6-.5 3.7-.3 1.5-.5 4-.3 1.5-.5 6-.5 1.5-.5 3.8-.3 1.4-.5 4-.3 1.6-.4 5.7-.6 1.7-.6 3.8-.4z"/>
<path fill="#f3fc1e" d="M194.2 55.9l2.8-.1 1.3.5 1.3 1.1.4 1 .5.5 0 1.3.3.2 0 3 0 3.2-.2.3-.1 1.3-.6 1.2-.9 1-1.2.8-1.5.3-3-.4-4-.8-3.5-.4-1.5-.5-1.7 0-3.8-.7-5.8-.6-4-.8-1.4 0-1.6-.4-1.7-.1-3.7-.7-5.8-.6-1.8-.5-3.7-.3-1.5-.5-1.5 0-2.6-.6 1.6-.4 5.7-.7 1.6-.4 3.7-.4 1.5-.4 4-.4 1.5-.4 6-.6 1.5-.4 3.8-.3 1.4-.5 4-.3 1.6-.5 6-.6 1.4-.5 3.8-.4z"/>
<path fill="#e2fe1e" d="M194.9 55.9l2.1 0 1.4.5 1.1 1 .4 1 .5.5.1 1.3.2.2.1 6-.3.5-.1 1.3-.6 1.2-.8 1-1.2.8-1.2.2-5.3-.6-3.7-.8-1.8-.1-1.5-.5-1.7-.1-3.8-.7-5.8-.6-3.7-.7-1.7 0-1.6-.5-1.7 0-3.7-.8-5.8-.6-1.8-.4-3.4-.3-1.8-.6-3.8-.5 1.3-.3 5.7-.7 1.6-.5 3.7-.3 1.5-.5 4-.3 1.5-.4 6-.6 1.5-.5 3.8-.3 1.4-.4 4-.4 1.6-.4 6-.7 1.4-.5 3.6-.3z"/>
<path fill="#d4ff1e" d="M196.1 55.9l1.7.2 1.7 1.3.8 1.5.2 1.3.2.4 0 5.8-.2.5-.2 1.3-.5 1.1-.9 1.1-1.1.8-1.2.2-5.3-.7-3.7-.8-1.8-.1-1.5-.5-11.3-1.3-3.7-.8-1.7 0-1.6-.5-1.4 0-4-.7-5.6-.6-2-.5-3.4-.3-1.8-.6-3.5-.4 5.3-.9 1.4 0 1.8-.5 3.5-.3 1.6-.5 11.4-1.3 1.5-.5 1.8-.1 3.4-.7 4-.3 1.6-.5 1.7 0 2.5-.5 1.8-.1 1.4-.5 3.6-.4 1.7-.5z"/>
<path fill="#caff1c" d="M194 56.2l2.8-.3 1.5.5 1.1 1 1 1.8 0 1 .3.4 0 3 0 2.8-.3.5 0 1-.7 1.5-.8 1-1.1.7-2.2.2-.8-.2-3.5-.4-1.7-.5-3.8-.4-1.5-.5-3.7-.4-1.8-.4-5.5-.6-2-.5-3.6-.2-1.7-.5-1.4-.1-4-.7-5.6-.6-2-.5-3.4-.3-1.8-.6-2.1-.3 1.9-.5 3.4-.3 1.8-.5 3.5-.3 1.7-.5 3.8-.4 1.8-.4 5.7-.6 1.6-.5 3.7-.2 1.4-.5 4-.3 1.6-.5 6-.6 1.4-.6 3.6-.3z"/>
<path fill="#b4ff16" d="M194.3 56.2l2.5-.1 1.5.5 1 .9 1 1.7 0 1 .3.4 0 2.8 0 3-.3.5 0 1-.6 1.3-.9 1.1-1.2.7-2 .2-.6-.2-1.7-.1-3.7-.9-3.6-.4-1.7-.5-3.5-.3-2-.5-5.5-.6-2-.5-3.5-.3-1.8-.5-1.4 0-4-.7-5.6-.6-2-.6-3.4-.3-1.7-.6 1.7-.5 6.7-.9 1.7-.5 3.8-.3 1.8-.5 5.7-.6 1.7-.5 3.6-.2 1.7-.5 3.7-.3 1.8-.5 5.8-.7 1.4-.5 3.8-.4z"/>
<path fill="#a0ff1d" d="M194.2 56.4l2.6-.2 1.4.4 1 1 .4 1 .5.6 0 1 .3.4.1 3-.1 2.8-.3.5 0 1-.6 1.3-.8 1-1.1.7-2 .1-4-.6-2-.6-3.6-.4-1.7-.6-11-1.4-2-.5-3.5-.3-1.5-.4-3.7-.4-2-.5-5.3-.6-6-1.1 3.7-.7 3.6-.4 1.4-.5 3.8-.3 1.8-.5 5.7-.6 1.7-.5 3.6-.3 1.7-.5 3.7-.3 1.8-.5 5.8-.6 1.7-.6 3.5-.4z"/>
<path fill="#90ff2f" d="M196.5 56.4l1.5.4 1 .8.4 1 .5.6 0 1 .3.4 0 5.6-.3 1.7-.6 1.3-1.7 1.5-1.8.2-4.2-.8-2-.6-3.6-.5-1.7-.5-16.3-2.2-1.7-.5-3.5-.3-2-.5-3.5-.4-5.4-1 1.1-.3 3.6-.4 1.7-.5 3.7-.4 1.8-.4 5.5-.6 2-.5 3.3-.3 2-.5 3.4-.3 2-.5 5.6-.7 1.7-.6 3.5-.5 1.8-.6z"/>
<path fill="#82ff4a" d="M194.4 56.9l2.2-.2 1.2.3.8.6.9 1.5.5 1.8 0 5.3-.4 1.4-.7 1.6-1.6 1.2-1.5.2-11.2-2.5-16.6-2.2-1.7-.5-3.5-.4-8.2-1.4 4-.8 3.4-.3 1.8-.5 5.8-.6 1.7-.5 3.5-.3 1.8-.5 3.7-.3 1.7-.5 5.6-.7z"/>
<path fill="#76ff70" d="M195.4 57.2l1.9.1 1 .6.9 1.5.4 1.5 0 5.3-.4 1.4-.6 1.3-1.6 1.1-1 .2-2.2-.4-9.2-2.1-16.3-2.3-2-.5-9-1.3 6.7-1.2 5.6-.6 2-.5 3.2-.3 2-.5 3.5-.3 2-.5 5.5-.7z"/>
<path fill="#6cff96" d="M195.3 57.6l1.5.1.8.5 1 1.4.4 1.6-.1 5-.4 1.4-.6 1-1.1.9-.8.1-2-.3-9.4-2.1-16.3-2.2-7.5-1.4 3.2-.7 5.8-.7 1.8-.4 3.4-.4 1.8-.4 3.5-.4 2-.5 5.5-.7z"/>
<path fill="#64ffbc" d="M195.7 58.2l.9 0 .4.4.7 1.3.4 1.5 0 4.5-.5 1.7-.5.8-.8.6-2.3-.2-9.2-2-21.8-3.2 24.8-3.7z"/>
<path fill="#60f8e1" d="M194.7 58.9l1.1-.2.5.2.5 1 .4 1.5 0 4.2-.4 1.8-.8 1-11.2-2.1-16.2-2.2-1.7-.5 4.9-.9 16.2-2.4z"/>
<path fill="#5ee7ff" d="M194.9 59.4l.7 0 .7 2 0 4.2-.3 1.6-.4.6-3.3-.5-2.3-.6-1 0-4.4-.9-4-.5-1-.7-.8.3-2.5-.2-7-1.1 5-.8 2.3.4 1-.9 10.7-1.5zM181.8 64.4l-.2.5.2.1.5-.6z"/>
<path fill="#48b9ff" d="M194.5 60.2l.6 0 .1 1.7.3.7 0 2.8-.5 1.8-3.7-.7-.7-.4-1.3.1-1-.2.2-.6-.2-.3-.7.8-2-.5-.6-.6-1 .5-1.6-.4 1.2-2.9 1.4-.3.6.5.4 0 .4-.6.4-.1 5.8-1 .7.1zM188.6 63.1l-.5.3.1.2.5-.2.1-.3zM182.2 62.2l.1 0 .3 1.2-1.6 1.4-1.4-.5-3.3-.1-3.4-.6 1.4-.2 2.3 0 1.2-.6z"/>
<path fill="#3086ff" d="M194.3 60.9l.3.7 0 1.8 0 2-.3 1-5.5-1-.5-.6-.7.5-.6 0-1.2-.4-.5-.5-1 .3-1.3-.3.6-1.8 1-.2 1.2.2 1 .9.4-.3-.6-.7.1-.3 5.9-1 0 .4.4.3.8-.9zM188.6 62.8l-1 .6 0 .5.4.3 1.1-.8-.1-.4zM191.6 61.7l-.3.7.5.3.4-.5-.2-.3zM181.7 62.9l.3-.1.3.6-1 .8-4.2-.6z"/>
<path fill="#1f60ff" d="M193.2 62.2l.2 0-.1 3-4.7-.8.9-1-.2-.8 1.5-.3.8.6zM185.6 63.2l1.5.7.5.5-3.8-.7.2-.3z"/>
</g></g>
<text x="206.1" y="39.3" style="font-family:'Liberation Sans',sans-serif;font-size:4px" fill="#3c3c3c">1.0</text>
<rect x="204.9" y="37.7" width="0.9" height="0.4" fill="#888"/>
<text x="206.1" y="52.1" style="font-family:'Liberation Sans',sans-serif;font-size:4px" fill="#3c3c3c">0.5</text>
<rect x="204.9" y="50.5" width="0.9" height="0.4" fill="#888"/>
<text x="206.1" y="65.0" style="font-family:'Liberation Sans',sans-serif;font-size:4px" fill="#3c3c3c">0.0</text>
<rect x="204.9" y="63.4" width="0.9" height="0.4" fill="#888"/>
<text x="205.2" y="77.8" style="font-family:'Liberation Sans',sans-serif;font-size:4px" fill="#3c3c3c">−0.5</text>
<rect x="204.9" y="76.2" width="0.9" height="0.4" fill="#888"/>
<text x="205.2" y="90.7" style="font-family:'Liberation Sans',sans-serif;font-size:4px" fill="#3c3c3c">−1.0</text>
<rect x="204.9" y="89.1" width="0.9" height="0.4" fill="#888"/>
<text transform="translate(216.4,63.6) rotate(-90)" text-anchor="middle" style="font-family:'Liberation Sans',sans-serif;font-size:3.8px" fill="#3c3c3c">z [AU]</text>
<text x="157.0" y="93.1" text-anchor="middle" style="font-family:'Liberation Sans',sans-serif;font-size:4.2px" fill="#3c3c3c">2</text>
<rect x="156.8" y="89.3" width="0.4" height="0.9" fill="#888"/>
<text x="175.2" y="93.1" text-anchor="middle" style="font-family:'Liberation Sans',sans-serif;font-size:4.2px" fill="#3c3c3c">3</text>
<rect x="175.0" y="89.3" width="0.4" height="0.9" fill="#888"/>
<text x="188.2" y="93.1" text-anchor="middle" style="font-family:'Liberation Sans',sans-serif;font-size:4.2px" fill="#3c3c3c">4</text>
<rect x="188.0" y="89.3" width="0.4" height="0.9" fill="#888"/>
<text x="198.2" y="93.1" text-anchor="middle" style="font-family:'Liberation Sans',sans-serif;font-size:4.2px" fill="#3c3c3c">5</text>
<rect x="198.0" y="89.3" width="0.4" height="0.9" fill="#888"/>
<text x="171.8" y="96.7" text-anchor="middle" style="font-family:'Liberation Sans',sans-serif;font-size:3.8px" fill="#3c3c3c">r [AU]</text>
<clipPath id="cp02"><rect x="231.9" y="37.9" width="66.6" height="51.4"/></clipPath>
<g clip-path="url(#cp02)"><g filter="url(#bl)">
<rect x="229.9" y="35.9" width="70.6" height="55.4" fill="rgb(104,4,10)"/>
<path fill="#68040a" d="M248.7 35.9l51.7 0 0 55.3-51.7 0-2.1-12.6-.7-3.1-.7-1.8-.8-1-1-.7-5.2-1.2-2.6-1.4-1-1.1-.7-1.4-.4-1.5-.2-1.8.2-1.7.4-1.5 1-1.8 1-1 1.7-1 6-1.5.8-.6.7-.9.8-2 .7-3z"/>
<path fill="#68040a" d="M249.9 35.9l50.5 0 0 55.3-50.5 0-2.3-13.5-.7-2.8-.7-2-1.2-1.5-1.6-1.1-5-1.1-2.2-1.2-.9-.8-.7-1.3-.5-2.3.2-1.2.4-1.2.7-1.3 1-1 1-.5 2.5-.8 2.3-.4 1.7-.6 1.1-.7 1.1-1.5.8-2 .7-2.9z"/>
<path fill="#68040a" d="M250.8 35.9l49.6 0 0 55.3-49.6 0-2.4-14.4-.8-2.8-.9-2.1-1.1-1.3-2.2-1.3-5-1.1-1.8-.8-.7-.8-.7-1-.5-2 .5-2 1.4-1.8 3.6-1.3 2.2-.4 2-.7 1.1-.8 1.4-1.7.9-2 .7-2.7z"/>
<path fill="#6d040a" d="M251.6 35.9l48.8 0 0 55.3-48.8 0-2.4-14.6-.7-2.7-.9-2-1.4-1.7-2.7-1.6-5.1-1.1-1.5-.7-1.3-1.4-.5-1.8.4-1.4 1.4-1.9 3.3-1.1 2.2-.4 2.6-.9 1.5-1.3 1.1-1.4.9-2 .8-3z"/>
<path fill="#800308" d="M252.4 36.2l0-.3 48 0 0 55.3-48 0-2.4-14.6-.8-3.1-.9-1.9-1.7-1.9-1.2-.8-2-.8-5-1.1-1.5-.8-1.1-1.3-.3-1.3.4-1.4 1.3-1.5 3.2-1 2.2-.4 2.8-.9 1.9-1.5 1-1.3.9-2.2.8-3z"/>
<path fill="#930206" d="M253.1 35.9l47.3 0 0 55.3-47.3 0-2.4-14.6-.8-3-.9-2.2-1.3-1.5-1.7-1.3-2.4-.9-5-1.1-1.4-.7-1-1-.4-1.3.4-1.2 1.2-1.4 3-.9 2.2-.3 2.8-.9 2.2-1.5 1.1-1.2 1.1-2.3.8-3z"/>
<path fill="#a60104" d="M253.9 35.9l46.5 0 0 55.3-46.6 0-2.5-15-.8-3-1.1-2.3-.9-1-2-1.5-2.9-1.1-2.2-.3-3-.8-1.2-.6-.9-1-.2-1 .2-1 1.1-1.2 3-.9 2.2-.3 3-1 2.6-1.6 1.4-1.7 1-2 .8-3z"/>
<path fill="#ba0102" d="M254.6 35.9l45.8 0 0 55.3-45.9 0-2.5-15.3-.8-2.7-1.1-2.3-1.1-1.3-2.4-1.6-3-1-2.2-.3-3.2-.9-1.3-.8-.6-1.4.2-.7.9-1.1 3-1 2.2-.3 3-.9 3-1.6 1.8-2.1.9-2 .8-3z"/>
<path fill="#cb0000" d="M255.3 35.9l45.1 0 0 55.3-45.1 0-2.6-15.3-.8-3-1.1-2-1.2-1.5-2.7-1.7-3.3-1-2.2-.3-3-.8-1.3-.7-.6-1.3.4-1 .7-.7 2.8-.8 2.5-.4 2.7-.8 2.8-1.2 2.6-2.5.9-2 .9-3.3z"/>
<path fill="#d60000" d="M256 35.9l44.4 0 0 55.3-44.4 0-2.5-15-.9-3.3-1-2-2-2-2.7-1.5-3-.9-2.5-.4-3-.8-1.2-.7-.5-1 .7-1.2.5-.3 7.7-1.9 3-1.2 2-1.6.9-1 1.1-2.2.9-3z"/>
<path fill="#e10000" d="M256.8 35.9l43.6 0 0 55.3-43.6 0-2.5-15-.9-3-1.1-2.3-1.1-1.3-2-1.4-2.3-1.1-3-.9-2.3-.3-3.2-.8-1-.5-.5-1 .5-1 .5-.3 2.7-.8 2.3-.3 3-.8 3-1.1 2-1.4 1-1 1.3-2.3.9-3z"/>
<path fill="#ec0000" d="M257.6 35.9l42.8 0 0 55.3-42.8 0-2.6-15.3-.9-3-1.4-2.5-1-1-2.2-1.5-2.6-1.1-8.3-1.8-1.2-.7-.4-.7.9-1.1 2.7-.8 5.3-1 3-1.1 2.8-1.7 1.3-1.5 1.2-2.2.9-3z"/>
<path fill="#f70000" d="M258.5 35.9l41.9 0 0 55.3-41.9 0-2.6-15.6-1-3-1.4-2.2-1.3-1.2-2.4-1.6-2.6-1-8.6-1.8-1.1-.6-.3-.6.7-.9 2.7-.8 5.3-1 3.1-1 2.9-1.5 2.1-2.2 1.1-2 .9-3.3z"/>
<path fill="#ff0300" d="M259.7 35.9l40.7 0 0 55.3-40.7 0-2.5-14.6-1.1-3.4-1.3-2.3-1.9-1.9-3-1.7-2.7-.9-8.6-1.8-1-.5-.4-.5.7-.7 2.7-.8 5.3-1 3.3-.9 3-1.5 2.4-2.2 1.5-2.6 1-3z"/>
<path fill="#ff0e00" d="M262.1 35.9l38.3 0 0 55.3-38.3 0-1.3-7.8-1.5-5.8-1.5-3.7-2-3-2.6-2.3-3-1.5-3-.9-8.6-1.8-.2-.3-.8 0-.3-.5.6-.6 11.3-2.6 3-1.2 2.8-2 2.5-3.3 1.5-3.5 1.8-6.8z"/>
<path fill="#ff1900" d="M277.5 35.9l22.9 0 0 55.3-22.9 0-.2-7.3-.5-3.7-1-2.3-2.4-2.3-3.2-1.4-3-.9-8-1.2-1.3-.6-2-1.6-2.7-1.8-3-1.3-6-1.5-2.6-.3-.4-.3-2.6-.3-.2-.3-.8-.1-.3-.4.6-.6 8.3-1.5.7-.4 2.3-.4 3-1.1 2.7-1.5 4-3 7.3-1 3-.7 3.2-1.3 1.5-.9 1.8-1.8 1.2-2.8.5-3.7z"/>
<path fill="#ff2400" d="M287.6 35.9l12.8 0 0 55.3-12.8 0-.3-7.6-.4-2.2-.6-1.8-1.2-1.7-2-1.7-3.5-1.8-2.7-.9-6.5-1.5-12.2-1.7-5-2.6-3-1.1-2.3-.4-.5-.3-2.5-.4-.7-.3-2.6-.3-.4-.3-2.6-.3-1.2-.7.8-.6 2-.1.4-.4 2.6-.3.7-.3 5.3-1 3.2-1.1 4-2.1 2.5-1 7.5-.8 6.2-1.1 6-1.7 3.3-1.3 3-2.2 1.1-1.4.7-1.6.7-3.7z"/>
<path fill="#ff3000" d="M291 52.2l2.6-.1 2.8.9 2.4 1.9 1.6 2.3 0 12.6-1.1 1.8-1.9 1.9-1.2.8-2.6.8-2.7 0-7.7-1.9-9.3-1.8-16-2.1-4.5-1.9-3.2-1-2-.4-.8-.3-2.5-.3-.7-.4-2.6-.2-.4-.4-2.3-.1-1.4-.7.7-.5 2.2-.2.2-.2 2.8-.4.5-.3 5.5-1 3-.8 3.8-1.7 2.7-.8 7.7-.8 9.6-1.4z"/>
<path fill="#ff3b00" d="M288.6 54.4l3.6-.2 3 1.2 1.4 1.1.9.9 1 2 .6 2 0 4.5-.6 1.7-.9 1.8-2.2 2.3-3.2 1.3-4.3-.2-10.7-1.8-19.6-2.4-7.2-2.4-2.2-.3-.8-.4-2.5-.3-.5-.3-2.8-.3-.2-.2-2.5-.2-1.3-.6.6-.5 2.2-.1.2-.3 2.8-.2.5-.3 5.5-.9.5-.3 2.5-.5 3.8-1.5 3-.7 13.7-1.5z"/>
<path fill="#ff4800" d="M288.7 55.4l3.2-.1 2.6 1.1 2 1.8.9 1.7.5 1.7 0 4-1.2 3-2.1 2.1-3 1.3-3.7-.2-10.5-1.5-19.8-2.2-7.2-2.1-5.5-.9-.5-.3-2.8-.2-.2-.3-2.5-.1-1.1-.6.6-.4 5-.6.5-.3 5.5-.9 6-1.6.8-.4 3.2-.6 13.8-1.4 13.4-1.9z"/>
<path fill="#ff5500" d="M287.7 56.2l3.9-.1 2 .7 2.1 1.6 1.1 2.2.3 1.6 0 2.7-.5 2-.7 1.5-1.3 1.3-2.7 1.4-4 0-10.5-1.3-19.8-2.1-7.2-1.9-5.5-.8-.5-.3-5.2-.6-1.3-.5.5-.3 2-.2.5-.3 2.7-.1.3-.3 5.5-.8.8-.3 2.4-.4 3.6-1.1 3.2-.5 17-1.7z"/>
<path fill="#ff6200" d="M289 56.6l2.6 0 2 .9 1.7 1.4.8 1.5.4 1.5 0 3.5-1 2.5-1.6 1.6-2.5 1.2-3.5-.1-1-.3-8.5-.7-.8-.3-2.4-.1-.8-.2-2.5-.1-.7-.2-2.3-.1-.7-.3-2.6 0-.7-.3-2.3 0-3-.6-2-.1-3.4-.7-.6-.3-2.4-.3-.8-.4-2.2-.2-.6-.3-2.7-.2-.3-.3-2.7-.1-.5-.3-2.2-.2-1.1-.4.3-.2 2-.3.5-.2 5.5-.6.5-.3 5.7-.9 3.8-1 5-.7 5.8-.4.7-.3 8.7-.7.8-.3 5.2-.4 4-.6z"/>
<path fill="#ff6e00" d="M286.8 57.2l5.1 0 1.4.7 1.3 1 1.1 1.7.3 1.8 0 2.8-.3 1.2-.8 1.5-1 1-2.3 1.2-3.4.1-1-.3-8.8-.7-.8-.2-15-1.4-3-.5-2.2-.1-.5-.3-2.5-.3-.8-.3-2.4-.3-.8-.3-2.2-.2-.6-.3-5.7-.6-.5-.2-2.2-.3-.6-.3.2-.2 1.6-.2.5-.3 5.7-.5.3-.3 2.7-.2.6-.3 2.4-.3 3.8-.9 2.2-.2 2.8-.5 15.2-1.3.8-.3 5.5-.4z"/>
<path fill="#ff7c00" d="M286.3 57.6l5.1-.1 1.8.7 1.4 1.2.7 1.5.3 1.3 0 2.9-1 2.4-1.2 1.3-2.2 1-6.3-.3-1-.3-2.3 0-1-.3-8.4-.6-3.8-.6-5.8-.3-2.7-.6-2.3 0-.7-.3-2.5-.3-.8-.3-2.4-.3-.6-.2-2.4-.3-.3-.2-5.9-.5-.6-.3-2.5-.5 2.3-.6 8.4-1 .6-.3 2.4-.2 3.8-.9 2.5-.1 2.5-.5 2.8-.1.7-.3 2.5 0 .8-.3 2 0 1-.3 2.2 0 1-.3 2.2 0 .8-.3z"/>
<path fill="#ff8b00" d="M286.5 57.9l4.9-.1 1.5.7 1.4 1.1 1 2.6 0 3-1 2.2-1.1 1.2-2.3.9-6-.3-.7-.3-2.6 0-.7-.3-8.7-.6-.8-.2-2.2-.1-.8-.2-2.5-.1-.7-.2-4.6-.4-.7-.2-2.3-.1-.7-.3-2.5-.2-.5-.3-2.7-.2-.6-.3-5.4-.5-.6-.2-2.4-.2-.8-.3-2.3-.4 2.1-.5 2.4-.2.6-.3 5.7-.4.3-.3 2.7-.2.5-.3 2.2-.2.8-.3 2.5-.1 2.7-.6 2.6-.1.7-.2 2.5-.1.8-.2 8.7-.6.7-.3 2.3 0 .5-.3 2.8 0 .4-.3z"/>
<path fill="#ff9a00" d="M286.6 58.2l4.8-.1 1.2.6 1.5 1.2.9 2.3 0 3-.9 2-1.2 1.2-2 .8-2.7 0-.8-.2-5.8-.4-3.7-.5-2.5 0-.8-.3-2.4 0-3.8-.6-5.5-.3-3-.6-5.5-.5-.5-.3-2.7-.1-.3-.3-5.7-.4-.6-.3-5.2-.8 4.2-.6.6-.3 8.7-.9.5-.3 5.5-.5 2.8-.6 2.5 0 .7-.3 2.5 0 .8-.3 8.7-.6.7-.2 5.6-.4.4-.2 2.6 0z"/>
<path fill="#ffa900" d="M286.7 58.4l4.7 0 2.4 1.5.9 2.3 0 2.7-.9 2.3-.9.9-1.7.8-3 .1-.8-.3-2.5 0-.7-.3-2.6 0-3.7-.5-2.5-.1-.8-.2-2.4 0-3.8-.6-5.5-.3-.5-.3-1.7 0-.5-.3-5.8-.5-.2-.2-2.8-.1-.5-.2-5.5-.5-.8-.3-4.2-.7 4-.8 2.2-.2.6-.2 6-.5.2-.2 5.8-.5 2.4-.6 2.8 0 .5-.3 2.5 0 .8-.3 8.7-.6.7-.2 5.6-.3.7-.3 2.3 0z"/>
<path fill="#ffb900" d="M286.6 58.6l4.6 0 1.2.5 1.2 1 .9 2.3 0 2.5-.8 2-1 1-1.8.8-6-.2-.5-.3-2.8 0-.4-.3-2.6 0-.4-.2-2.8-.1-.5-.2-5.7-.3-.6-.3-2.7 0-.5-.3-4.8-.3-.4-.3-2.6 0-.2-.3-2.8 0-.4-.3-5.8-.4-.5-.2-2.5-.2-3.9-.9.1-.2 5-.7.8-.3 5.8-.4.4-.3 2.6 0 .2-.3 2.8 0 2.4-.6 2.8 0 .5-.3 2.7 0 .6-.3 5.7-.3.5-.2 2.8-.1.4-.2 2.6 0 .4-.3 2.8 0 .5-.2 2.5-.1z"/>
<path fill="#ffc903" d="M286.6 58.9l4.6-.1 2.2 1.4.9 2.2 0 2.5-.9 2-.8.8-1.7.8-2.7 0-.6-.2-6-.3-.4-.3-9-.5-.6-.3-2.4 0-.3-.2-3-.1-.3-.2-2.7 0-.3-.3-1.9 0-.3-.3-2.5 0-.5-.2-6-.4-.5-.3-2.3-.1-.7-.3-2.5-.2-.5-.2-2.9-.5 5.4-1 2.5-.2.5-.3 2.8 0 .4-.3 2.6 0 .4-.3 2.8 0 .2-.3 1.8 0 .2-.2 3-.1.3-.2 3 0 .3-.3 2.4 0 .6-.3 2.7 0 .5-.2 2.8-.1.4-.2 2.6 0 .4-.3 2.8 0 .5-.2z"/>
<path fill="#ffdf0f" d="M286.7 59.2l.2-.3 4.3 0 2.2 1.5.7 2 0 2.5-.7 1.7-1 1-1.8.8-5.7-.3-.3-.2-2.9-.1-.3-.2-6-.3-.2-.2-3 0-.3-.3-2.7 0-.3-.2-5.7-.3-.6-.3-2 0-.2-.2-2.5-.1-.5-.2-2.8-.1-.4-.2-2.6-.1-.7-.3-2.3-.1-.7-.3-5.6-.8 4.6-.7.5-.2 2.5-.2.7-.2 5.6-.5.4-.2 2.8-.1.2-.2 1.8 0 .5-.3 2.7 0 .6-.3 5.7-.2.3-.3 3 0 .2-.2 3 0 .2-.3 2.8 0 .2-.2z"/>
<path fill="#fff51b" d="M286.8 59.2l4.4-.2 2.1 1.4.7 2 0 2.5-.7 1.7-.9.9-1.8.8-5.4-.3-.6-.2-2.7 0-.5-.3-5.8-.2-.4-.3-2.8 0-.5-.2-2.5-.1-.5-.2-5.7-.3-.6-.2-1.9-.1-.3-.2-2.5 0-.5-.3-5.8-.5-.7-.2-2-.1-5.5-1 4.2-.8 2.6-.2.4-.2 5.6-.5.4-.2 2.8-.1.3-.2 1.7 0 .5-.3 2.7 0 .6-.3 2.7 0 .5-.2 2.5 0 .5-.3 2.8 0 .4-.3 2.8 0 .5-.2 2.5 0 .5-.3 2.7 0 .3-.2z"/>
<path fill="#f3fc1e" d="M286.9 59.2l4.3-.1 2 1.3.7 2 0 2.5-.7 1.7-.8.8-1.8.8-5.4-.3-.6-.2-2.7 0-.5-.3-2.5 0-.5-.2-2.8 0-.4-.3-2.8 0-.5-.2-2.5 0-.5-.3-5.7-.3-2.8-.5-2.2-.1-.8-.3-5.5-.4-.7-.3-5.6-.6-.6-.3.4-.2 2.2-.4 5.6-.6.7-.2 2.3-.1.7-.3 2.5 0 2.8-.6 5.7-.3.5-.3 2.5 0 .5-.2 2.8 0 .4-.3 2.8 0 .5-.2 2.5 0 .5-.3 2.7 0 .6-.2 2.4 0z"/>
<path fill="#e2fe1e" d="M287 59.4l.4-.2 3.5.1 1.2.6 1 1 .5 1.7 0 2-.8 2-.6.7-1.6.7-2 .1-.7-.3-2.5 0-.8-.2-2.4 0-.8-.3-2.2 0-.8-.3-2.5 0-.7-.2-2.6 0-3.7-.5-5.5-.4-2.8-.5-8.7-.8-.7-.2-5.7-.8 2.1-.4 8.8-1 .8-.2 2.2-.1 2.8-.5 2.4-.1.8-.2 2.5 0 3.7-.6 2.6 0 .7-.2 2.5 0 .8-.3z"/>
<path fill="#d4ff1e" d="M286.8 59.6l.6-.2 3.3 0 1.9 1.2.8 2 0 2-.8 1.8-.7.8-1.5.7-1.8 0-.7-.3-2.5 0-.8-.2-2.4 0-.8-.3-2.2 0-.8-.2-2.5-.1-.7-.2-2.6 0-.7-.3-8.3-.5-3-.6-5.4-.4-.8-.3-2.5-.1-5.1-.8 4.1-.7 5.5-.5.8-.2 2.4-.1 2.8-.5 5.5-.4 4-.5 2.3 0 .7-.2 2.5-.1.8-.2 2.2 0 .8-.3 2.4 0 .8-.2z"/>
<path fill="#caff1c" d="M287.6 59.6l3 .1 1 .5 1.2 1.4.2 1 0 2-.2.8-1 1.5-1.4.7-1.5.1-.7-.3-2.6 0-.7-.2-2.5 0-3.8-.5-12-.9-6-.8-8.4-.8-3.6-.6 2.6-.5 5.2-.5.8-.2 2.4-.1 2.8-.5 18.2-1.4.8-.3 2.5 0z"/>
<path fill="#b4ff16" d="M287.4 60.4l2.8-.2.7.4.8 1 .4 1.3 0 1.5-.9 2-1 .6-1 .1-1-.3-2.3 0-1-.2-18-1.4-14.7-1.6 7.4-.7 3-.5z"/>
<path fill="#a0ff1d" d="M287.4 61.2l2.5-.2.8.9.3 1.3 0 1.2-.7 1.5-.7.4-22.4-1.8-8.4-.9 4.1-.5z"/>
<path fill="#90ff2f" d="M288 61.9l1.2-.1.2.4.3 2-.5 1.2-22-1.8z"/>
</g></g>
<text x="299.7" y="39.3" style="font-family:'Liberation Sans',sans-serif;font-size:4px" fill="#3c3c3c">1.0</text>
<rect x="298.5" y="37.7" width="0.9" height="0.4" fill="#888"/>
<text x="299.7" y="52.1" style="font-family:'Liberation Sans',sans-serif;font-size:4px" fill="#3c3c3c">0.5</text>
<rect x="298.5" y="50.5" width="0.9" height="0.4" fill="#888"/>
<text x="299.7" y="65.0" style="font-family:'Liberation Sans',sans-serif;font-size:4px" fill="#3c3c3c">0.0</text>
<rect x="298.5" y="63.4" width="0.9" height="0.4" fill="#888"/>
<text x="298.8" y="77.8" style="font-family:'Liberation Sans',sans-serif;font-size:4px" fill="#3c3c3c">−0.5</text>
<rect x="298.5" y="76.2" width="0.9" height="0.4" fill="#888"/>
<text x="298.8" y="90.7" style="font-family:'Liberation Sans',sans-serif;font-size:4px" fill="#3c3c3c">−1.0</text>
<rect x="298.5" y="89.1" width="0.9" height="0.4" fill="#888"/>
<text transform="translate(310.0,63.6) rotate(-90)" text-anchor="middle" style="font-family:'Liberation Sans',sans-serif;font-size:3.8px" fill="#3c3c3c">z [AU]</text>
<text x="250.6" y="93.1" text-anchor="middle" style="font-family:'Liberation Sans',sans-serif;font-size:4.2px" fill="#3c3c3c">2</text>
<rect x="250.4" y="89.3" width="0.4" height="0.9" fill="#888"/>
<text x="268.8" y="93.1" text-anchor="middle" style="font-family:'Liberation Sans',sans-serif;font-size:4.2px" fill="#3c3c3c">3</text>
<rect x="268.6" y="89.3" width="0.4" height="0.9" fill="#888"/>
<text x="281.8" y="93.1" text-anchor="middle" style="font-family:'Liberation Sans',sans-serif;font-size:4.2px" fill="#3c3c3c">4</text>
<rect x="281.6" y="89.3" width="0.4" height="0.9" fill="#888"/>
<text x="291.8" y="93.1" text-anchor="middle" style="font-family:'Liberation Sans',sans-serif;font-size:4.2px" fill="#3c3c3c">5</text>
<rect x="291.6" y="89.3" width="0.4" height="0.9" fill="#888"/>
<text x="265.4" y="96.7" text-anchor="middle" style="font-family:'Liberation Sans',sans-serif;font-size:3.8px" fill="#3c3c3c">r [AU]</text>
<clipPath id="cp03"><rect x="325.2" y="37.9" width="66.6" height="51.4"/></clipPath>
<g clip-path="url(#cp03)"><g filter="url(#bl)">
<rect x="323.2" y="35.9" width="70.6" height="55.4" fill="rgb(104,4,10)"/>
<path fill="#68040a" d="M387.7 47.6l.3-.2 1.4 0 1 .5 1.3 1.3.7 1.4 0 26-.7 1.6-1.3 1.2-1 .5-1.4 0-.8-.5-1.8-.5-2-1-2-.5-3.2-1.5-1.8-.3-.7-.5-.7 0-.3-.2-.7 0-.8-.5-2-.3-.8-.5-.7 0-.3-.2-1 0-.2-.3-3.5-.5-2.7-1-2.6 0-.2-.2-1 0-.2-.3-1 0-.3-.2-1 0-.3-.3-1 0-.2-.2-1 0-.2-.3-2.3 0-.3-.2-1.2 0-.2-.3-4.8-.2-.2-.3-1 0-.3-.2-5-.3-.3-.2-3.4 0-.3-.3-2.3 0-.2-.2-3.8 0-.2-.3-1.8 0-.2-.2 1-3.2.3-.3-1.3-4 1-.5 3.8 0 .2-.2 2.2 0 .3-.3 3.5 0 .2-.2 2.6 0 .2-.3 2.2 0 .3-.2 2.3 0 .2-.3 2.2 0 .3-.2 1 0 .3-.3 2.4 0 .3-.2 1 0 .3-.3 1 0 .2-.2 2.2 0 .3-.3 2.3-.2.2-.3 1 0 .2-.2 1.3 0 .3-.3 1 0 .2-.2 1 0 .2-.3 1 0 .3-.2 3.5-.5.2-.3.8 0 .8-.5 1.7-.2 1-.5 3-.5 2-1 1.7-.3 2-1 2-.5.8-.5.5 0 .7-.5.6 0 .7-.5z"/>
<path fill="#980205" d="M387.8 47.6l.2-.1 1.4 0 1 .5 1.2 1.2.8 1.4 0 26-.8 1.6-1.2 1.1-1 .5-1.4 0-.8-.5-.5 0-3.3-1.5-2-.5-3.2-1.5-1.8-.2-.7-.5-.7 0-.3-.3-.7 0-.8-.5-2-.2-.8-.5-.7 0-.3-.3-4.7-.7-2.7-1-2.6 0-1.4-.5-3.6-.5-.2-.3-1 0-.2-.2-2.3 0-.3-.3-1.2 0-.2-.2-4.8-.3-1.5-.5-5-.2-.3-.3-3.4 0-.3-.2-2.3 0-.2-.3-3.8 0-.2-.2-1.8 0-.1-.2 1-3.2.2-.3-1.2-4 .9-.4 3.8 0 .2-.3 2.2 0 .3-.2 3.5 0 .2-.3 2.6 0 .2-.2 7.2-.5 1.6-.5 2.4 0 .3-.3 1 0 1.5-.5 2.2 0 .3-.2 1 0 .3-.3 1 0 1.4-.5 1.3 0 .3-.2 1 0 .2-.3 1 0 .2-.2 4.8-.8.2-.2.8 0 .8-.5 1.7-.3 1-.5 3-.5 2-1 1.7-.2 2-1 2-.5.8-.5.5 0 .7-.5.6 0z"/>
<path fill="#d60000" d="M387.8 47.6l1.6-.1 1 .5 1.2 1.2.7 1.4 0 26-.7 1.6-1.2 1.1-1 .5-1.4 0-.8-.5-.5 0-3.3-1.5-2-.5-3.2-1.5-1.8-.3-.7-.5-1.7-.2-.8-.5-2-.3-.8-.5-.7 0-.3-.2-4.7-.8-2.7-1-2.6 0-.2-.2-1 0-.2-.3-1 0-.3-.2-1 0-.3-.3-1 0-1.4-.5-2.3 0-.3-.2-1.2 0-.2-.3-4.8-.2-1.5-.5-5-.3-.3-.2-3.4 0-.3-.3-2.3 0-.2-.2-3.8 0-.2-.3-1.9-.1 1-3.2.3-.3 0-.5-1.3-3.2.1-.4.8-.3 3.8 0 .2-.2 2.2 0 .3-.3 3.5 0 .2-.2 2.6 0 .2-.3 7.2-.5 1.6-.5 2.4 0 1.6-.5 1 0 .2-.2 2.2 0 .3-.3 1 0 .3-.2 1 0 1.4-.5 1.3 0 .3-.3 2.2-.2.2-.3 1 0 .3-.2 1 0 1.5-.5 1 0 4.5-1.5 3-.5 2-1 1.7-.3.8-.5 3.2-1 .8-.5.5 0z"/>
<path fill="#ff0000" d="M387.9 47.6l1.5 0 1 .5 1.1 1.1.8 1.4 0 26-.8 1.6-1.1 1-1 .5-1.4 0-.8-.5-.5 0-3.3-1.5-2-.5-3.2-1.5-1.8-.2-.7-.5-1.7-.3-.8-.5-2-.2-.8-.5-.7 0-.3-.3-4.7-.7-2.7-1-2.6 0-.2-.3-1 0-.2-.2-1 0-.3-.3-1 0-.3-.2-1 0-1.4-.5-2 0-.6-.3-1.2 0-.2-.2-4.8-.3-1.5-.5-4.7-.2-.6-.3-3.2 0-.5-.2-2.3 0-.2-.3-3.5 0-.5-.2-1.8-.1 1-3.2.2-.3 0-.5-1.2-3.2 0-.4.8-.2 3.8 0 .2-.3 2.2 0 .6-.2 3.2 0 .2-.3 2.6 0 .2-.2 7.2-.5 1.6-.5 2.4 0 .3-.3 1 0 1.5-.5 2.2 0 .3-.2 1 0 .3-.3 1 0 1.4-.5 1.3 0 .3-.2 7.2-1.3 4.5-1.5 3-.5 2-1 1.7-.2 2-1 2-.5z"/>
<path fill="#ff2a00" d="M387.9 47.6l1.5 0 1 .5 1.1 1.1.7 1.4 0 26-.7 1.6-1.1 1-1 .5-1.4 0-4.6-2-4.4-1.5-.8-.5-1.8-.3-.7-.5-1.7-.2-.8-.5-2-.3-1.8-.7-4.7-.8-2.7-1-2.6 0-1.4-.5-3.6-.5-.2-.2-1 0-.2-.3-2 0-.6-.2-1.2 0-.2-.3-4.6-.2-1.7-.5-2 0-.5-.3-2.5 0-.3-.2-3.2 0-.5-.3-2.3 0-.2-.2-3.5 0-.5-.3-1.8 0 1-3.2.3-.3 0-.5-1.3-3.2 0-.3.8-.3 3.8 0 .2-.2 2.2 0 .6-.3 3.2 0 .5-.2 2.3 0 .4-.3 7-.5 1.6-.5 2.4 0 2.8-.7 2.2 0 .3-.3 1 0 2.7-.7 1.3 0 .3-.3 7.2-1.2 4.5-1.5 3-.5 2-1 1.7-.3 2-1 2-.5z"/>
<path fill="#ff5800" d="M388.1 47.6l1.2 0 1.1.6 1 1 .7 1.7 0 25.5-.7 1.8-1 .9-1.1.5-1.2 0-9.9-3.9-1.6-.3-.9-.5-1.6-.3-1.9-.7-.8 0-2-.7-5.5-1-1.9-.8-2.4 0-6.6-1.5-2 0-2-.5-4.6-.2-1.7-.5-4.7-.3-.6-.2-3.2 0-.5-.3-2.1 0-.4-.2-3.5 0-.5-.3-1.6 0-.1-.2 1.3-3.3 0-.5-1.3-3.2.1-.3.8-.3 3.6 0 .4-.2 2 0 .6-.3 3.2 0 .5-.2 2.3 0 .4-.3 7-.5 1.7-.5 2.3 0 3-.7 2 0 4.2-1 1.1 0 .4-.3 7.1-1.2 4.7-1.5 2.8-.5 2.2-1 1.5-.3 2.2-.9 1.8-.6z"/>
<path fill="#ff8b00" d="M387.9 47.9l1.3-.2 1.2.7.8.8.8 1.7 0 25.5-.8 1.8-.8.7-1.2.7-1 0-10-4-1.5-.3-3.5-1.2-1.8-.3-1-.5-5.4-1-3-1-2.3 0-6.7-1.5-2 0-2-.5-4.6-.2-1.7-.5-4.7-.3-.6-.2-3.2 0-.5-.3-2 0-.5-.2-3.5 0-2-.4 1.2-3.3-1.2-3.7.7-.5 3.6 0 .4-.2 2 0 .6-.3 3.2 0 .5-.2 2.3 0 .4-.3 2 0 .6-.2 4.4-.3 1.8-.5 2.2 0 3-.7 2 0 4.3-1 1 0 7.5-1.5 4.8-1.5 2.7-.5z"/>
<path fill="#ffc400" d="M388.1 47.9l1.1 0 1.1.5.7.8.9 1.7 0 25.5-.9 1.8-.7.7-1.1.5-1 0-9.8-3.9-1.7-.3-3.3-1.2-2-.3-.7-.4-5.7-1.1-3-1-2.3 0-6.7-1.5-2 0-2-.5-4.6-.3-1.7-.4-4.7-.3-.6-.2-3.2-.1-.5-.2-2 0-.5-.2-3.5-.1-.5-.2-1.3 0 1.1-3.3-1.1-3.7.5-.3 3.6-.1.4-.2 2 0 .6-.2 3.2-.1.5-.2 2.3 0 .4-.2 2-.1.6-.2 4.4-.3 1.8-.4 2.2-.1 3-.7 2 0 4.3-1 1 0 7.7-1.6 4.6-1.4 3-.6 2-.9 1.7-.3 2-.9 2-.6z"/>
<path fill="#eafc1e" d="M388 48.2l1-.2 1.2.6.8.8.7 1.5 0 25.5-.9 1.8-.6.5-1 .5-1 0-9.8-3.8-1.4-.3-3.6-1.2-1.7-.3-1-.5-5.5-1-3-1-2.2 0-7-1.5-1.8 0-2.2-.5-4.3-.3-2-.5-4.5-.2-.8-.3-3 0-3.2-.5-3.2 0-1.8-.4 1-3-.1-.7-.9-2.6.2-.5 3.6-.1 3.2-.5 3 0 .8-.3 2 0 3.2-.5 4.2-.2 2-.5 2 0 3.3-.8 1.7 0 5.6-1 7.4-1.5 4.8-1.5 2.8-.5 2-.9 1.7-.4 4-1.5z"/>
<path fill="#caff1c" d="M388.4 48.2l.6-.1 1 .5.8.8.7 1.8 0 25.2-.8 1.6-.7.6-1 .6-.6 0-10-4-4-1-1-.5-1.7-.3-1-.4-5.5-1.1-3-.9-2.2-.1-6.8-1.4-2-.1-2-.4-2-.1-.8-.2-1.7 0-1.7-.5-4.8-.3-.8-.2-3 0-3.2-.5-3.2 0-1.6-.3 1-3-.1-.7-.9-2.6.3-.5 3.3 0 3.2-.5 3 0 .8-.2 2 0 .7-.3 7-.5 1.7-.5 2.3 0 3-.7 2-.1 4.3-.9 1-.1 7.4-1.5 4.8-1.4 2.8-.6 2.2-.9 1.5-.3 4-1.5z"/>
<path fill="#b4ff16" d="M388.3 48.4l.7-.1 1 .5.5.6.8 1.8 0 25-.8 1.7-1.5 1.1-.6 0-9.7-3.9-5.3-1.6-1.7-.3-1-.4-5.5-1.1-3-.9-2.2-.1-6.8-1.4-8.5-.8-1.7-.5-4.6-.3-1-.2-2.7 0-3.5-.5-3 0-1.6-.4 1-2.7-.9-3.6 3.3 0 3.4-.5 2.8 0 1-.2 9.5-.8 1.7-.5 2.3 0 3-.7 2-.1 5.3-1 7.4-1.5 4.8-1.4 3-.6 2-.9 1.8-.4 4-1.5z"/>
<path fill="#a0ff1d" d="M388.3 48.6l.7 0 .9.6 1.2 2 0 25-.9 1.7-1.2.8-.6 0-9.7-3.8-7.7-2.3-5.6-1.1-3.2-.9-2-.1-7-1.4-8.2-.8-2-.5-4.6-.3-1-.2-2.7 0-3.5-.5-3 0-1.1-.4.7-2.5 0-.7-.9-2.6.3-.1 3 0 3.2-.5 3 0 .8-.2 9.5-.8 2-.5 2 0 3.3-.7 1.7-.1 5.3-1 7.7-1.5 4.7-1.4 2.8-.6zM334.4 60.8l-.2.4.2.5.6-.5-.1-.3z"/>
<path fill="#90ff2f" d="M388.3 48.9l.4-.2 1 .6 1.1 1.9 0 25-.7 1.4-1.4 1-10-4-7.7-2.2-5.6-1.1-3-.9-2.2-.1-7-1.5-1.8 0-2.2-.5-4.2-.2-2-.5-4.6-.3-.7-.2-3 0-3.5-.5-3 0-.8-.4.7-2.3 0-.7-.7-2 0-.4 2.8-.1 3.2-.5 3 0 .8-.2 9.5-.8 2-.5 2 0 3.3-.7 1.7 0 5.5-1.1 7.5-1.5 4.7-1.4 2.8-.6zM330.2 62.6l-.1.6.3.1.3-.1 0-.4-.3-.2zM334.7 60.6l-.5.2-.2.4.4.6.7-.6 0-.3z"/>
<path fill="#82ff4a" d="M388.3 49.2l.4-.2 1 .6.8 1.8 0 24.8-.8 1.4-1 .7-9.7-3.8-8-2.3-5.6-1.1-2.7-.9-2.5-.1-6.9-1.5-8.3-.7-2-.5-5.3-.5-2.7 0-3.6-.5-3 0-.7-.2.6-2 .1-.8-.7-2.4 2.5-.1 3.5-.5.3.2-.1.8.5.5.5-.3.5-1.1.3-.1 11-1 2.3-.5 1.7 0 3.3-.7 1.7 0 5.5-1.1 7.5-1.5 7.7-2 2-.9 1.8-.4zM330.4 62.4l-.2 0-.2.5.2.5.6-.2z"/>
<path fill="#76ff70" d="M388.5 49.4l.2-.1.7.5.7 1.6-.2 2.5.2 1-.1 5-.5 1.3.1 1.4.4 1 .1 12.3-.5 1.5-.9.6-.5-.3-.8-.1-5.1-2-3.3-1.5-1.8-.2-8.5-2.6-.7.1-2.6-.5-2.7-1-2.3 0-2.2-.7-1.5 0-3.5-.8-1.5 0-2.3-.5-1.7 0-1-.3-1.5.1-4.8-.8-4.3-.3-.3-.2.5-.5-.3-.4-.5.1 0 .8-.5.3-3.6-.5-3 0-.4-.3.6-1.7.1-1.3-.7-1.8 1.2.1.5.3 1.3-.5 2.4-.3.5.9.5.4.4-.1.9-1.2 1.7-.3 8.6-.6 3-.6 2-.1 3.2-.7 1.8-.1 5.2-1 7.5-1.5 7.7-2 2-.9 2-.4zM330.2 62.2l-.4 1 .6.3.3-.1.2-.5-.2-.4z"/>
<path fill="#6cff96" d="M388.7 49.6l.5.3.6 1.5-.1 8.5-.4 1-.1 1.5.5 1.2.1 8-.6.9-.1.7.7 1.2 0 1.5-.6 1.5-.5.3-7.5-2.7-2.2-1.3-.8.2-.8-.2-5.4-1.5-3.3-1.3-.7.2-2.3-.4-3.3-1-2 0-1.2-.2-1-.5-1.5 0-3.3-.7-1.7-.1-1.5-.3-.8-.5-.7.3-1 0-1-.4-1.5.2-2.2-.5-6.6-.6.3-.5-.7-.5-.6.2-.4.9-3.6-.5-3.1-.1.7-3-.6-1 0-.6.8.1.6 1 .1 1 .5.2.5-.2.1-.5-.8-1.3.8-.5 2.4 0 .6.8.7.2.7-1 .6-.3 12.2-1.1 6-1.1 1.8-.1 9-1.7 4-.8 7.4-2 2.3-.9 1.7-.3 2-1zM333 62l-.2.4.4.2.1-.4z"/>
<path fill="#64ffbc" d="M387.5 50.2l1.2-.3.5.5.3 1-.1 8.5-.5 2.7.5 1 .1 8-.5.7-.3.9.8 1.4 0 1.3-.5 1.3-.3.3-7.5-2.7-2-1.4-1.8.1-3-1-3.7-1-.7-.5-1.3-.3-.7.2-1-.1-4.6-1.3-3.2-.3-.8-.5-1 .2-4-.8-1.7-.1-1.5-.3-.8-.6-1 .4-.7 0-1-.5-1.5.3-2.2-.5-4.3-.3-1.5-.8-1.2-.3-.6 0-.4.8-6.4-.6.5-2.2.3-.5-.2-.7-.5-.3 0-.4.4.1.1.6.3.2 0 .8.9.5.6-.2.1-.3-.7-1.6.8-.3 2 .2 1.2.7 1.3-1.1 1.7-.3 2.6.1.4-.4 4.8-.4 2.2-.2.8.2 1-.5 1.8-.1 3.2-.7 1.8-.1 5.2-1 7.8-1.5 7.7-2.1 2-.8 1.7-.3zM333 61.7l-.3.7.3.3.4-.1 0-.7z"/>
<path fill="#60f8e1" d="M387.6 50.4l1.1-.1.6 1.1-.2 8.5-.4 2.7.4 1 .1 7.8-.5.5-.2 1.5.7 1.2.1 1.3-.6 1.3-7.3-2.6-2.2-1.4-1.8.1-2-.7-.7-.4-3.7-.8-.8-.5-1.8-.6-.7.4-.7-.1-4.6-1.3-3.2-.4-.3-.3.5-.4-.2-.4-.8.6-1 .3-4-.8-3-.3-1-.6-1.4.3-1.3-.5-1.3.3-1.4-.3-.8-.4-1.5.2-3-.3-1.3-.7-1.4-.3-.6.1-.4.6-3.6-.4-2.2 0-.3-.2.5-1.9 1 .2.7-.3 0-.8-.5-.7.1-.3.5-.1 1.2.1.3 1 .5.2.5-.2.3-.4.7.1 1-1.1 2-.2 2.3.2.4-.5 4.8-.4 2-.1 1 .3 1-.7 1.8-.1 3.2-.7 1.8-.1 12.7-2.4 11.7-3.4zM343.2 64.5l-.3.4.3 1.2z"/>
<path fill="#5ee7ff" d="M387.6 50.6l.8-.1.6.9-.6.8.5.7.1 1.3-.1 6-.4 2.4.3 1 .1 7.3-.2.2-.7-.2.5 1.3-.2 1.2.7 1.5 0 1-.6 1-7-2.5-2-1.3-1.7.1-2.7-1.2-4-.8-2.8-1.2-.5.4-.5 0-4.5-1.2-2.3-.2-.5-.4-.1-.7-.4-.3-.4 0-1.6.8-4-.7-3-.3-1-.6-1.4.3-1.6-.5-1 .3-1.4-.3-.5-.4.3-1.8-.4-.3-.9.5.3 1-.1.6-.3.2-3.4-.3-1.8-.7-1.2-.2-.6.1-.4.5-5.6-.4-.1-.2.4-1.4 1 0 .6-.4-.5-1.5.4-.2 1 0 .5 1.1.9.1 1.1-.4 1-1.1 2-.2 2.3.2.4-.5 4.8-.4 1.8-.1 1.2.3 1-.7 7-.9 12.5-2.4 8.3-2.2zM377.2 57.5l-.2.1.2.5.2-.1.1-.4zM385.2 54.1l-.2.3.4.2.3-.2zM386.4 62.3l-.1.3.4.2.4-.2-.1-.4z"/>
<path fill="#48b9ff" d="M387.7 50.9l.5-.1.3.6-1.3 1-.1.2 1.1 0 .4.6.1.7-.1 6.7-.4 2 .3 1 .1 6.6-.2.3-.7-.3-.2.4.7 1.3-.1 1.7.6 1 0 1.3-.5.7-5.2-1.8-3.6-1.8-1.4 0-1.7-.6-.3-.6-1.8 0-.8-.2-.4-.4-.8.1-1.2-.4-2-.7-.8-.5-1 .5-4.5-1.2-2-.1-.4-.3-.3-.9-.6-.2-.4 0-1.6.7-3.7-.7-3.3-.3-.7-.5-1.7.2-1.6-.5-1 .3-1.3-.3-.5-.2.4-1.8-.3-.5-1.5.7.4 1-.2.5-3.4-.2-1.6-.5-1.7-.2-.7.4-5.3-.4.2-1.3 1.4-.3.1-.4-.4-1 .4-.3.8 0 .5 1.1 1.5 0 .5-.3.7-1.1 4-.2.6.2.4-.4 5-.6 2.8.2 1-.6 7-.9 11-2.2 1.8-.1 5-1.6 3-.7zM377 57.4l-.3.5.3.3.4.1.4-.4-.1-.4zM385.2 53.8l-.2.1-.2.5.2.3.4.1.6-.6zM387 61.8l-1.2.6 0 .2.9.4.7-.1 0-.5zM386.4 73l-.2.4.2.5.8 0 .1-.5-.6-.5z"/>
<path fill="#3086ff" d="M387 51.4l.7-.2.3.2-1 1 0 .6 1-.2.3.4-.1 8-.2.7-.3.1-.5-.8-1.8 1.2.6.6 2.1.4.2 6.2-.1.3-.8.1-.2.6.8 1.3 0 1.1-.6.2-.7-.6-.3 0-.4.8.2.6.5.4 1-.4.5.2.2 1.4-.2.6-5-1.6-1-1.2-1.5.1-1.3-.7-1.4-.1-1.3-.5-.5-.6-2.5-.2-.7-.6-.8.2-3-.8-1.2-.8-.8.5-5-1.4-1.5.2-.5-1.1-.5-.3-.7.1-1.6.6-3.7-.8-3.3-.3-.7-.3-1.7.1-1.6-.5-1 .2-1.2-.2-.2-.1-.2-.5.5-1.2-.2-.5-.4-.2-1.7.7 0 .5.4.7-.2.3-3.2-.2-3.3-.6-.7.2-2.3-.1-1.5-.6-.4.3-.8 0 .2-.7 1-.2.4-.4 0-.4-.4-.8.2-.3.8 0 .2.9 1.8.2.5-.3.7-1 4-.3.6.4.4-.6 5-.5 3 0 .8-.5 1.8 0 3.4-.8 1.8 0 12.8-2.4.7-.3.7 0 1-.6 1.6-.3 1 .7.3-.3-.1-.8 4.2-1.1.6-.3 4.4-1.6.8.1.8-.5zM337.2 62.1l-.5.7.3.4.5-.8-.1-.3zM353.2 64.1l-.5.3 0 .6 2-.6-1-.4zM362.2 67.6l-.2.3.2.4.3-.4zM369.7 62.9l-1 1.8 1-.8.2-.5zM375 63.4l-.2.2.2.2.7-.4-.3-.2zM377.2 57.1l-.5.3-.2.5.5.6.4.1.3-.2.3-.8-.3-.4zM383.4 58.3l-.2.6.2.5.4-.2.1-.6zM384 70l-.3.4.1.2.7 0 .2-.2-.3-.5zM385 53.6l-.4.6.4.7.7 0 .8-.7-.2-.3zM385 64.6l-.5.3.1.3.4.3.4 0 .2-.6z"/>
<path fill="#1f60ff" d="M386.7 51.9l.2 0-.3 1.5-.9.1-.7-.3 0-.6zM382.9 53.2l.8-.2.3.2.5 1.4.5.5.4.1 1.3-.8.3-1 .9-.2-.2 7.4-.3 0-.4-.9-.6-.1.2 1.8-1.4 1 .5.7 2 .5 0 .3 0 3.3-.2.4.3.6 0 1.2-.6.4-1 1.6.1.8-.5 1.2.5 1.5-.3.3-2.8-1-.8-1-1.7.1-1-.6-2.7-.7-.8-.6-1.2 0-1.2-.2-.8-.9-.8.3-3.2-.7-.8-.7-1 .4-4.5-1.2 0-.8-.3-.3-.4.2-.3.7-.7.2-.3 0-.4-1-.3-.2-1 0-1.3.5-4-.8-5.7-.5-1.8-.5-.8.2-1.2-.2-.2-.3.4-.5.8.2.3-.1-1.5-1.6-2 .6-.3.4.3.9-9.3-.6-1-.2-.2-.3 0-.2.7-1 2.2 0 1-1 1.3 0-.2.7.5.4 1-1.4 1.4 0 .6.4.4-.6 5-.5.8.1 2.2-.3 1-.3.8.3.2-.3 1.3-.1.5.6.5-.8.5-.2 3.2-.4 11.8-2.2 2.5-.5 1.7-.7.6-.1 1 .7.5-.4.2-.7.3-.2 3.2-.9.5.1.5-.5zM383.2 57.8l-.3.6.1 1.8-.8 1.4.2.4.5-.1.3-.4.2-1.3 1-1.6-.4-.7zM385 64.4l-.9.5.9.9.4.2.5-.4.1-.4-.6-.8zM353.2 63.9l-.8.5 0 1 2.6-.6 1.2.8.5-.2-.3-.4-1.4-1-1-.3zM355.7 61.2l-.3.5.6.1.2-.2 0-.3zM358 62.5l-.3.7.3.1.5-.7-.3-.2zM363.2 62.6l-.5.3.1.3.6.1.7-.4-.1-.5zM366 64.4l-.5.2.9.6.5 0-.2-.6zM369.4 62.4l-.2 1-.9 1.2.1.4.6-.1 1.2-1.3-.2-1.4zM371.4 58.3l-.2.3.5.3.2-.3zM373.4 62.9l0 .4 1.6 1 .4-.2.6-.7-.3-.4-1.5.3zM377 57.1l-.7.5 0 .6.9.7.5-.1.3-.4.2-1-.5-.4zM378.4 62.1l0 .4.3 0 .3-.3zM379 55.1l-.1.5.3.5 1.5-.4.3-.3-.3-.4-1 .2zM381.2 68.5l-.2.1.2.5.5.2.1-.4zM383 68.9l-.3.3 1 .4-.5 1 .1.3 1.5 0 .2-.5-.3-.7-.7-.3-.3-.6zM366 67.6l0 .4.2.2.2-.6-.2-.2zM331.4 62.6l.3-.2.5.2-.2.5zM387 71.6l.4 0 .3.2 0 .9-.6-.3zM387.6 74.4l.3 0 0 .2 0 .8-.2.2-.5 0-.4-.4z"/>
<path fill="#1548ff" d="M383 53.6l.7-.2.6 1.5 1 .7-.1.3-.2.5-.6.3-1 0-.7.7-.9.2.5.6.2 1.2-.8 2.5.5.6.8-.2.6-.9.4-1.3.6-.7.5 0-.2 2.8-.1.2.1 1.5-1.3 1 1.4 1.5.2 3-.2 0-1-1.1-.6-.2-1.2.4-2-1.3-.4.4 0 .6 1.6 1.6.3.2.7-.3.4.2 0 .5-.4.5.3.4 1.9.1.6 1.3.2 1.5-2-.4-.7-.8-1.7-.1-5-1.8-2.3-.5-.1-1-.9-.1-.5-.6 1.2-1 .3.5 0 1 1.3 1.1.4 0 1-1.3 0-.3-.7-.3-.1-.7-.9-.5-1.3.4-.7-.6-.7.2-.5.5.4.7-.1.3-1.1.9-2-.4-.5-.5-1 .2-4-1.1-.8-1.3-.5.5-.5.7-.4 0-.3-.1-.2-.9-.3-.1-1.2.2-.8.3-4.2-.8-7-.8-.4-.5-.9-.3-.6-.5-.9-1.1-2.2.7-.5.4-.1.6-6-.3-3.5-.5.5-.8 1.8.2 1-1 1.1 0 .3.8.4.2 1-1.2 2 .2.5-.4 6.7-.6 2.2-.5.8.3 1.2-.3.8.5 1.1-1 3.1-.3 9.6-1.9.4 1.2.8.4.8-.2.6-.6-.2-1 .2-.3 4.4-1.1.7.5.5 0 .9-.7.2-.4 2.9-.9.3.1 0 1.2-2.1.4-.7 1.2 1.5 1.1.8-.1.4-.2.2.2-.3.7.1.6 1-.4 0 1-.2.3-.8.1-.4.7.2.7.5.1 1.6-1.1.3-.5.2-1.2-.6-.7-.3-.9-.5-.3-.7.1-.1-.5.3-1 .5-.5 1.6-.5.4-.5 0-.5-.2-.2-1.2-.1 1 0 0-.2zM382.7 66l-.3.4.2.5.4.2.1-.7zM347 64.1l0 .8.7-.2-.1-.5-.4-.3zM353.4 63.3l-1.3 1.1 0 1.2.3.4.8-.6 1-.3 1 0 1.2.9.7-.4-.2-.7-1.7-1.1-1.2-.6zM355.4 61.1l-.3.5.3.4.6.1 1.1-.9-1.1-.3zM358.2 62.1l-.5.2-.4.6.1.8.6.1.8-.9.1-.5zM361.7 65.6l0 .3.5.5.2-.2 0-.6-.2-.2zM364 59.8l-.4.4 0 .2.8.7.3-.5zM365.2 64l-.4.6 1.6 1.1.6 0 .6-.5 0-.3-1.2-.9zM369.7 61.7l-.6.7-.1.8-1.3 1.7.1.3 1.2.1 1.5-1.4.2-.5-.4-1.2-.3-.5zM371.2 58l-.3.6.3.5.5.2.6-.4-.3-.7zM372.7 61.6l-.7.6-.1.4 2.4 1.6.5.4-.1 1 .5.2.4-.6 0-.8.7-.8 0-.4-.6-.5-1.3.2-.4-.2-.4-.3-.2-.8zM374 59.6l-.4.6.1.9.3-.1.3-.8-.1-.6zM377 66.3l-.6.6-.2.6.5 0 .8-.6.1-.5-.2-.2zM377.7 67.8l-.2.4.7.3.2-.3-.2-.3zM379.2 69.1l-.5.2-.2.3.2.7.5-.1.4-.3.1-.5zM363.7 62.1l-1.5.5-.2.6.2.2.8.2 1.2-.3.4-.4-.1-.5-.3-.4zM366.2 66.8l-.5.4-.2.4.1.6.6.4.6-.4.4-1-.2-.4zM371.7 64.4l-.5.8 0 .4.5.4 1 .1.1-.5-.5-1.2zM385.1 57.2l.1.7-.2.1-.2-.6z"/>
</g></g>
<text x="393.0" y="39.3" style="font-family:'Liberation Sans',sans-serif;font-size:4px" fill="#3c3c3c">1.0</text>
<rect x="391.8" y="37.7" width="0.9" height="0.4" fill="#888"/>
<text x="393.0" y="52.1" style="font-family:'Liberation Sans',sans-serif;font-size:4px" fill="#3c3c3c">0.5</text>
<rect x="391.8" y="50.5" width="0.9" height="0.4" fill="#888"/>
<text x="393.0" y="65.0" style="font-family:'Liberation Sans',sans-serif;font-size:4px" fill="#3c3c3c">0.0</text>
<rect x="391.8" y="63.4" width="0.9" height="0.4" fill="#888"/>
<text x="392.1" y="77.8" style="font-family:'Liberation Sans',sans-serif;font-size:4px" fill="#3c3c3c">−0.5</text>
<rect x="391.8" y="76.2" width="0.9" height="0.4" fill="#888"/>
<text x="392.1" y="90.7" style="font-family:'Liberation Sans',sans-serif;font-size:4px" fill="#3c3c3c">−1.0</text>
<rect x="391.8" y="89.1" width="0.9" height="0.4" fill="#888"/>
<text transform="translate(403.3,63.6) rotate(-90)" text-anchor="middle" style="font-family:'Liberation Sans',sans-serif;font-size:3.8px" fill="#3c3c3c">z [AU]</text>
<text x="343.9" y="93.1" text-anchor="middle" style="font-family:'Liberation Sans',sans-serif;font-size:4.2px" fill="#3c3c3c">2</text>
<rect x="343.7" y="89.3" width="0.4" height="0.9" fill="#888"/>
<text x="362.1" y="93.1" text-anchor="middle" style="font-family:'Liberation Sans',sans-serif;font-size:4.2px" fill="#3c3c3c">3</text>
<rect x="361.9" y="89.3" width="0.4" height="0.9" fill="#888"/>
<text x="375.1" y="93.1" text-anchor="middle" style="font-family:'Liberation Sans',sans-serif;font-size:4.2px" fill="#3c3c3c">4</text>
<rect x="374.9" y="89.3" width="0.4" height="0.9" fill="#888"/>
<text x="385.1" y="93.1" text-anchor="middle" style="font-family:'Liberation Sans',sans-serif;font-size:4.2px" fill="#3c3c3c">5</text>
<rect x="384.9" y="89.3" width="0.4" height="0.9" fill="#888"/>
<text x="358.7" y="96.7" text-anchor="middle" style="font-family:'Liberation Sans',sans-serif;font-size:3.8px" fill="#3c3c3c">r [AU]</text>
<clipPath id="cp04"><rect x="418.4" y="37.9" width="66.6" height="51.4"/></clipPath>
<g clip-path="url(#cp04)"><g filter="url(#bl)">
<rect x="416.4" y="35.9" width="70.6" height="55.4" fill="rgb(104,4,10)"/>
<path fill="#68040a" d="M480.2 36.9l3.7.1 3 .8 0 51.7-3.7.9-3 0-2-.3-6.8-2.2-6.2-3-4.8-3.2-4-3.4-3-4.1-1.7-3.6-1.5 0-.3-.2-1 0-1.3-.5-2.2 0-.2-.3-1 0-.3-.2-2.3 0-.2-.3-1 0-.2-.2-4.6-.3-.2-.2-1 0-.2-.3-2.3 0-.3-.2-2.2 0-.2-.3-4.6-.2-.2-.3-3 0-.2-.2 3.2-3.3-3.2-3.2.2-.2 4.2-.3.3-.2 2 0 .3-.3 2.2 0 .2-.2 2.3 0 .3-.3 2.2 0 .2-.2 2 0 .3-.3 1 0 .3-.2 2.2 0 .2-.3 1 0 .3-.2 2.3 0 .2-.3 1 0 .2-.2 2 0 .3-.3 2.3-.2.5-.3 2.4-4.5 2.1-2.6 2.2-2.3 3.2-2.6 7.3-4 3.5-1.5 4-1.4z"/>
<path fill="#68040a" d="M478.4 39.9l2-.2 3 0 1.8.4 1.7.7 0 45.7-.3.1-3.2 1-4.2-.1-4.8-1.4-6.8-2.7-3.4-1.9-6.8-5-2.7-3.1-1.5-2.5-.6 0-.2-.3-2.2 0-.3-.2-1 0-1.3-.5-2.2 0-.2-.3-1 0-.3-.2-2.3 0-.2-.3-1 0-.2-.2-4.6-.3-.2-.2-1 0-.2-.3-2.3 0-.3-.2-2.2 0-.2-.3-4.6-.2-.2-.3-3 0-.2-.2 3.2-3.3-3.2-3.2.2-.2 4.2-.3.3-.2 2 0 .3-.3 2.2 0 .2-.2 2.3 0 .3-.3 2.2 0 .2-.2 2 0 .3-.3 1 0 .3-.2 2.2 0 .2-.3 1 0 .3-.2 2.3 0 .2-.3 1 0 .2-.2 2 0 .3-.3 2.3-.2.2-.3 1.8 0 1.5-2.5 2.7-3.2 2.5-2.2 2.3-1.6 7.7-4.1 3.7-1.5z"/>
<path fill="#68040a" d="M479.2 41.4l4.4 0 1.6.4 1.7.8 0 42-1.3.7-2.7.7-3.7-.2-6.6-2-4.7-2-3.3-1.7-4.4-3.1-3-2.4-2.9-3.4-.7-.3-1 0-.2-.3-2.2 0-.3-.2-1 0-1.3-.5-2.2 0-.2-.3-1 0-.3-.2-2.3 0-.2-.3-1 0-.2-.2-4.6-.3-.2-.2-1-.1-.2-.2-2.3 0-.3-.2-2.2-.1-.2-.2-2 0-.3-.3-2.3 0-.2-.2-3.2-.2 3.3-3.3-3.3-3.2.2-.2 4.2-.2.3-.3 2 0 .3-.2 2.2 0 .2-.3 2.3 0 .3-.2 2.2-.1.2-.2 2 0 .3-.2 1-.1.3-.2 2.2 0 .2-.3 1 0 .3-.2 2.3 0 .2-.3 1 0 .2-.2 2 0 .3-.3 2.3-.2.2-.3 2.2 0 .7-.2 1.7-2.3 2.9-2.9 4.7-3.3 7.6-3.7 3-1.2z"/>
<path fill="#6d040a" d="M478.9 42.6l1.5-.2 3 .1 1.5.4 2 1 0 39.3-1.7 1.1-2.6.5-3.2-.1-6.5-2-4.7-1.9-3.3-1.7-4.5-3-3-2.4-1.8-2-.7-.6-1 0-.3-.2-1 0-.2-.3-2.2 0-.3-.3-1 0-1.3-.5-2.2 0-.2-.2-1 0-.3-.3-2.3 0-.2-.2-1 0-.2-.3-2.3 0-.3-.2-2 0-.2-.3-1 0-.2-.2-2.3 0-.3-.3-2.2 0-.2-.2-2 0-.3-.3-5.6-.4 3.2-3.3-3.2-3.2.1-.1 6.5-.6.3-.2 2.2 0 .2-.3 2.3 0 .3-.2 2.2 0 .2-.3 2 0 .3-.2 1 0 .3-.3 2.2 0 .2-.2 1 0 .3-.3 2.3 0 .2-.2 1 0 .2-.3 2 0 .3-.2 2.3-.3.2-.3 2.2 0 .3-.2 1 0 4.3-4.2 4.7-3.3 6.7-3.3 3.6-1.4z"/>
<path fill="#800308" d="M479.7 43.4l3.9.1 3.3 1.5 0 37.2-2.3 1.3-2 .5-2.7-.1-8-2.5-7-3.2-5.5-3.8-2-1.6-1.2-1.4-1 0-.3-.3-1 0-.3-.2-1-.1-.2-.2-2.2 0-.3-.3-1 0-1.3-.5-2.2 0-1.5-.5-2.3 0-1.4-.5-2.3 0-.3-.2-2 0-1.4-.5-2.3 0-.3-.3-2.2 0-.2-.2-2-.1-.3-.2-5.6-.4 3.2-3.3-3.1-3.3 6.5-.6.3-.2 2.2 0 .2-.3 2.3 0 .3-.2 2.2 0 .2-.3 2 0 1.6-.5 2.2 0 1.5-.5 2.3 0 1.4-.5 2 0 .3-.2 2.3-.3.2-.2 2.2-.1.3-.2 1 0 .3-.3 1 0 3.2-3.2 2.2-1.7 3.6-2.1 6.7-3.1z"/>
<path fill="#930206" d="M479.6 44.2l2.8-.1 1.2.1 3.3 1.7 0 35.3-2.5 1.6-1.8.4-2.7 0-7.7-2.4-6.8-3.1-4.8-3.1-3-2.3-.4-.7-.8 0-.2-.2-1 0-.3-.3-1 0-.3-.2-1-.1-.2-.2-2.2 0-.3-.3-1 0-1.3-.5-2.2 0-1.5-.5-2.3 0-1.4-.5-2.3 0-.3-.2-2-.1-1.4-.4-2.3-.1-.3-.2-2.2 0-.2-.3-2 0-.3-.2-5.6-.4 3.2-3.3-3.1-3.3 6.5-.5.3-.3 2.2 0 .2-.2 2.3-.1.3-.2 2.2 0 .2-.2 2-.1 1.6-.4 2.2-.1 1.5-.5 2.3 0 1.4-.5 2 0 .3-.2 2.3-.3.2-.2 2.2-.1.3-.2 3.3-.6 1.2-1.3 2.2-1.8 4.8-3 6.5-3z"/>
<path fill="#a60104" d="M479.1 44.9l1.5-.2 2.8.1 2.2 1 1.3.9 0 33.7-2.7 1.8-1.6.4-2.7-.1-7.5-2.3-7-3.1-8-5.5-1 0-.2-.2-1-.1-.3-.2-1 0-.3-.3-1 0-.2-.2-2.2-.1-.3-.2-1 0-1.3-.5-2.2 0-1.5-.5-2.3 0-1.4-.5-4.6-.3-1.4-.5-4.8-.2-.2-.3-4.6-.3-.2-.2-3-.1 3.2-3.3-3.2-3.2 6.5-.6.3-.3 2.2 0 .2-.2 2.3 0 .3-.3 2.2 0 .2-.2 2 0 1.6-.5 2.2-.1 1.5-.4 2.3-.1 1.4-.4 2-.1.3-.2 2.3-.3.2-.2 2.2 0 .3-.3 1 0 .3-.2 1-.1.2-.2 1 0 .8-.4 1.4-1.5 2.3-1.6 4.7-2.6 5.6-2.5z"/>
<path fill="#ba0102" d="M479.3 45.4l1.3-.2 2.8.2 2.2 1 1.3 1 0 32.2-1.1 1-1.9 1.2-1.5.3-2.2-.1-7.8-2.3-6.8-3-4.7-3.1-2.1-1.7-1.2 0-.2-.3-1 0-.2-.2-1-.1-.3-.2-1 0-1.5-.5-2.2-.1-.3-.2-1 0-1.3-.5-2.2 0-1.5-.5-2.3 0-1.4-.5-4.6-.3-1.4-.5-4.8-.3-.2-.2-4.3-.3-.5-.2-3-.1 3.2-3.3-3.2-3.2 6.5-.6.5-.3 2 0 .2-.2 2.3 0 .3-.3 2.2 0 .2-.2 2 0 1.6-.5 2.2 0 1.5-.5 2.3 0 1.4-.5 2 0 .3-.3 2.3-.3.2-.2 2.2 0 .3-.3 1 0 .3-.2 1-.1.2-.2 1 0 .2-.3.8 0 3.7-2.8 4.5-2.5 5.6-2.5z"/>
<path fill="#cb0000" d="M479.3 45.9l1.3-.2 2.8.2 2.2 1 1.3 1.2 0 30.9-1.3 1.2-2 1.2-1.2.2-2.2 0-7.8-2.4-6.8-3-4.7-3.1-1.4-1.2-1.9 0-.2-.3-1 0-.2-.3-1 0-.3-.2-1-.1-1.5-.5-2.2 0-.3-.2-1 0-1.3-.5-2.2 0-1.5-.5-2.3 0-1.4-.5-4.6-.3-1.4-.5-4.8-.3-.2-.2-4.3-.3-.5-.2-2.8-.1 3-3.3-3-3.2 6.3-.6.5-.2 2 0 .5-.3 2 0 .3-.2 2.2-.1.2-.2 2 0 1.6-.5 2.2 0 1.5-.5 2.3 0 1.4-.5 2 0 .3-.3 2.3-.2.2-.3 2.2 0 1.6-.5 1 0 .2-.3 1 0 1.2-.5.9 0 1.4-1.3 3.5-2.2 6.8-3.2 3.7-1.4z"/>
<path fill="#d60000" d="M480.1 46.2l2.3-.1 1.2.3 2 1 1.3 1.3 0 29.6-1.5 1.5-2 1.2-1 .2-2.2-.1-7.6-2.2-6-2.6-7-4.4-2-.1-.2-.2-1 0-.2-.3-1 0-.3-.2-1-.1-1.5-.5-2 0-.5-.2-1-.1-1.3-.4-2.2-.1-1.5-.4-2.3-.1-1.4-.4-4.6-.3-1.4-.5-4.6-.3-.4-.2-2-.1-.3-.2-5-.3-.1-.3 2.8-3-2.8-3 .1-.2 1.3 0 .4-.3 2 0 .6-.3 1.7 0 .5-.2 2 0 .5-.3 6.7-.5 1.6-.5 2.2 0 1.5-.5 2.3 0 1.4-.5 2 0 .3-.2 2.3-.3.2-.3 2.2 0 1.6-.5 1 0 .2-.3 1 0 1.2-.5 1 0 4.8-3 7-3.4 3.8-1.3z"/>
<path fill="#e10000" d="M479.6 46.6l2.6-.1 1.2.2 2 1.1 1.5 1.7 0 28.1-1.6 1.8-1.9 1.2-1 .2-2.2-.1-7.6-2.2-6.7-3-5-3.4-1 0-.3-.2-2-.1-.2-.2-1 0-.2-.3-1 0-.3-.3-1 0-1.5-.5-2.2 0-2.6-.7-2.2-.1-1.5-.5-2.3 0-1.4-.5-4.6-.2-1.4-.5-4.6-.3-.4-.2-4.3-.3-.5-.3-2.2-.1-.3-.2 2.8-3-2.8-3 .3-.1 1-.1.4-.3 2 0 .6-.2 1.7 0 .5-.3 2 0 .5-.3 6.7-.5 1.6-.5 2.2 0 1.5-.5 2.3 0 1.4-.5 2 0 .3-.2 2.3-.3.2-.2 2.2-.1 1.6-.5 1 0 .2-.3 1 0 1.2-.5 2.3-.3 3.7-2.5 6.8-3.2z"/>
<path fill="#ec0000" d="M480 46.9l2.4-.1 1.2.4 1.8 1 .9 1 .6 1 0 10.1-.4 3.3.4 3.4 0 9.8-.6 1.1-1.1 1.2-2 1.2-3 .1-7.3-2.2-6-2.5-5-3.2-.7-.1-.3-.3-1 0-.3-.2-2-.1-.2-.2-1-.1-.2-.2-1 0-.3-.3-1 0-1.5-.5-2.2 0-2.6-.8-2.2 0-1.5-.5-2.3 0-1.4-.5-4.3-.2-1.7-.5-4.6-.3-.4-.3-1.8 0-.5-.2-2-.1-.5-.2-2.4-.3 2.7-3-2.7-3 .2-.1 1 0 .4-.3 2-.1.6-.2 1.7 0 .5-.3 2 0 .5-.2 6.7-.6 1.6-.4 2.2-.1 1.5-.5 2.3 0 1.4-.5 2 0 .3-.2 2.3-.3.2-.2 2.2-.1 1.6-.5 1 0 .2-.2 1-.1 1.2-.5 2.3-.3.3-.2.7-.1 4-2.5 5.7-2.6z"/>
<path fill="#f70000" d="M479.4 47.4l1-.2 2 0 2 .7 1.7 1.5.8 1.8 0 6-.8 6.2.8 6.8 0 5.9-1 1.8-1.3 1.2-1.4.9-2.8.1-7.5-2.2-6-2.6-4.7-2.9-1 0-.3-.3-1 0-.3-.3-2 0-.2-.2-1-.1-.2-.2-1 0-.3-.3-1 0-1.5-.5-2 0-.5-.3-1 0-1.3-.5-2.2 0-1.5-.5-2.3 0-1.4-.5-2 0-.6-.2-2-.1-1.4-.5-4.6-.2-.4-.3-1.8 0-.5-.3-4.8-.5 2.7-3-2.6-3 1.4-.3 2-.1.6-.3 1.7 0 .5-.3 2 0 .5-.2 6.7-.6 1.6-.4 2.2-.1 1.5-.4 2.3-.1 1.4-.4 2-.1.3-.2 2.3-.3.2-.2 2.2-.1 1.6-.5 1 0 .2-.2 1-.1 1.2-.5 3.6-.5 3.7-2.3 5.7-2.6z"/>
<path fill="#ff0300" d="M479.6 47.6l.8-.1 2.2 0 2 .9 1.4 1.5.8 2.3 0 2.4-.9 8.8.9 9.2 0 2.8-1.2 2.3-1.2 1.2-1.5.8-2.5.1-7.2-2.2-6-2.4-4-2.6-3.3-.5-.3-.3-2 0-.2-.3-1 0-.2-.2-1-.1-.3-.2-1 0-1.5-.5-2 0-.5-.3-1 0-1.3-.5-2 0-1.7-.5-2.3 0-1.4-.5-2 0-.6-.3-2 0-1.4-.5-4.6-.2-.4-.3-7-.8 2.6-3-2.6-3 1.4-.3 2-.1.6-.2 1.7-.1.5-.2 9.2-.8 1.6-.5 2.2-.1 1.8-.5 2 0 1.4-.4 2-.1.3-.2 2.3-.3.2-.2 2.2 0 1.6-.5 1-.1.2-.2 1 0 1.2-.5 1-.1.3-.2 3.3-.6 2.7-1.7 5.7-2.6z"/>
<path fill="#ff0e00" d="M479.8 47.9l2.6-.2 2 .9 1.3 1.3.9 2.3 0 2.4-1 8.8 1 9.2 0 2.6-1 2.2-1.2 1.2-1.5.9-2.5 0-6.2-1.8-7-2.8-3.8-2.3-1 0-.2-.2-1-.1-.3-.2-1 0-.3-.3-2 0-.2-.3-1 0-.2-.2-1-.1-.3-.2-1 0-1.5-.5-2 0-.5-.3-1 0-1.3-.5-2 0-1.7-.5-2.3 0-1.4-.5-2 0-.6-.3-1.9 0-1.5-.5-4.6-.3-.4-.2-6.4-.8-.3-.2 2.4-2.8-2.4-2.7.1-.2 1-.3 2-.1.6-.3 1.7 0 .5-.3 4.5-.3.5-.3 2 0 .5-.2 1.7 0 1.8-.5 2 0 1.8-.5 2 0 1.4-.5 2 0 2.8-.8 2.2 0 1.6-.5 1-.1.2-.2 1 0 1.2-.5 3.6-.6.2-.3 1 0 3.8-2 4.7-2.1z"/>
<path fill="#ff1900" d="M479.8 48.2l2.6-.2 2 .9 1.2 1.3.7 2 0 2.4-1 8.8 1 9.2 0 2.6-1.1 2.2-1 1-1.3.8-2.5.1-6.2-1.9-7-2.8-2.6-1.7-1 0-.2-.3-1 0-.2-.3-1 0-1.6-.5-2-.1-.2-.2-1 0-.2-.3-1 0-.3-.2-1-.1-1.5-.4-2-.1-.5-.2-1 0-1.3-.5-2 0-1.7-.5-2.2 0-1.5-.5-4.3-.3-1.7-.5-4.6-.3-.4-.3-4.3-.4-2.3-.5 2.4-2.8-2.4-2.7 1.3-.5 4-.4.5-.2 2-.1.5-.2 2-.1.5-.2 4.2-.3 1.7-.5 2.1 0 1.8-.5 2 0 1.5-.5 1.9 0 2.8-.8 2.2 0 1.6-.5 1 0 .2-.3 1 0 1.2-.5 3.6-.6.2-.2 1-.1.2-.2 1 0 1.6-1 5.7-2.6z"/>
<path fill="#ff2400" d="M479.8 48.4l2.6-.2 1.8.8 1.1 1.2.8 2 0 2.4-1 8.6.7 8.7.3.7 0 2.6-1 2-1 1-1.5.8-2.2 0-6.2-1.8-7-2.8-1.8-1.2-1.8-.3-.2-.3-1 0-.2-.3-1 0-.3-.2-1-.1-.3-.2-2-.1-.2-.2-1 0-.2-.3-1 0-.3-.2-1-.1-1.5-.5-2.2 0-2.6-.7-2 0-1.7-.5-2 0-1.7-.5-4.3-.3-1.7-.5-4.6-.4-.4-.2-4.1-.4-2.3-.5 2.2-2.8-2.2-2.7 1.1-.4 4-.4.5-.3 2-.1.5-.2 2 0 .5-.3 4.2-.3 1.8-.5 2 0 1.8-.5 2 0 1.6-.5 1.8 0 2.8-.8 2.2 0 1.6-.5 1 0 .2-.3 1 0 1.2-.5 4.8-.9.2-.2 1 0 7.3-3.4z"/>
<path fill="#ff3000" d="M479.8 48.6l2.6-.1 1.5.7 1.1 1 .8 2 0 2.4-1 8.6.8 8.7.2.7 0 2.6-.9 1.8-1 1-1.3.8-2 0-6.2-1.8-5-1.9-3-1.4-.8-.6-3.2-.5-.2-.3-1 0-.3-.3-1 0-.3-.2-2-.1-.2-.2-1-.1-.2-.2-1 0-2.8-.8-2.1 0-2.7-.7-2 0-1.7-.5-2-.1-1.7-.5-2 0-.6-.2-1.7-.1-1.7-.5-2 0-.6-.3-4.2-.3-.5-.3-1.7-.1-1.8-.4-.2-.3 1.9-2.5-1.9-2.4.7-.6 4-.5.5-.3 2 0 .5-.3 6.7-.6 1.8-.5 2 0 1.8-.5 2 0 1.7-.5 1.7 0 2.9-.8 2.1 0 1.6-.5 1 0 2.4-.8 4.8-.8.2-.3 1 0 .3-.3 1 0 6.3-2.9z"/>
<path fill="#ff3b00" d="M479.8 48.9l.8-.2 1.8 0 1.5.7 1 1 .7 1.8 0 2.4-1 8.6 1 9.7 0 2.3-.9 1.7-2.1 1.6-2 .1-3.7-1.1-3.5-1-1-.6-3-1-3.8-1.8-3.2-.6-.2-.2-1 0-.3-.3-1 0-.3-.2-2-.1-.2-.2-1-.1-.2-.2-1 0-2.8-.8-2 0-2.8-.8-2 0-1.7-.5-2 0-1.7-.5-2 0-.6-.3-1.7 0-1.7-.5-2-.1-.6-.2-4-.3-.7-.3-1.7-.2-1.8-.5 1.8-2.6-1.8-2.4.5-.5 4.5-.8 9.2-.9 1.8-.5 2-.1 1.8-.5 2 0 1.7-.5 1.7 0 3-.8 2 0 .3-.2 1 0 .3-.3 3.2-.5.2-.3 1 0 .3-.2 1-.1.3-.2 1-.1.2-.2 1 0 .2-.3 3.4-.6 5.2-2.4z"/>
<path fill="#ff4800" d="M480.4 48.9l2 0 1.5.7.9 1 .6 1.8 0 2-.2.8-.3 4.4-.5 3.6.8 9 .2.7 0 2.2-.8 1.6-1 1-1.2.7-1.8 0-1-.5-2.4-.5-1-.5-2.8-.6-5.2-2.3-1.8-.4-.8-.5-4.4-.9-.3-.2-1 0-.3-.3-2 0-.2-.2-1-.1-.2-.2-1 0-2.8-.8-2 0-2.8-.8-2 0-1.7-.5-2 0-1.7-.5-2-.1-.6-.2-1.7 0-1.7-.5-4.5-.4-.5-.2-4-.6-1.4-.4 0-.3 1.5-2.3-1.7-2.4.6-.4 4.4-.9 9-.9 1.8-.5 2 0 1.8-.5 2 0 1.7-.5 1.7-.1 3-.7 2-.1 1.6-.4 1-.1 2.4-.7 4.8-.9.2-.3 1 0 .3-.2 1-.1.3-.2 1 0 5-2.3z"/>
<path fill="#ff5500" d="M480.3 49.2l2.1-.1 1.2.6 1 .9.6 1.8 0 2-.2.8-.3 4.4-.5 3.3.5 6.7.5 3.3 0 2-.8 1.7-2 1.6-1.8 0-1-.5-6.2-1.6-5-2.2-1 0-.2-.3-.8 0-.8-.5-4.4-.9-.3-.2-1 0-.3-.3-2 0-.2-.3-1 0-4-1-2-.1-2.8-.7-2 0-1.7-.5-2-.1-1.7-.5-2 0-.6-.2-1.7-.1-1.7-.5-4.3-.3-4.5-.9-1.4-.6 1.5-2.3-1.5-2.2-.1-.2.3-.2 4.4-1 4.3-.4.5-.2 2-.1.5-.2 1.7-.1 1.8-.5 2 0 1.8-.5 2 0 1.7-.5 1.7 0 3-.8 3.3-.3 3.5-.8.2-.2 4.8-.9.2-.2 1-.1.3-.2 1 0 .3-.3 1 0 .2-.3 1 0 4.8-2.1z"/>
<path fill="#ff6200" d="M480.2 49.4l2.2-.1 1.2.6.8.8.6 1.7 0 2-.2.8-.3 4.4-.5 3.3.5 6.7.5 3.3 0 2-.6 1.5-2 1.6-1.8 0-1-.5-6.2-1.6-.8-.5-3-1-.2-.3-2-.2-.2-.3-.8 0-.8-.5-5.7-1.2-.3-.2-1.9-.1-.3-.2-.9 0-4.1-1.1-2 0-2.8-.8-2 0-1.7-.5-2 0-1.7-.5-2 0-.6-.3-1.7 0-1.7-.5-4.3-.4-4.5-.9-1-.5 1.2-2.3-.1-.4-1.3-1.8.2-.2 4.2-1.1 4.3-.5.5-.2 2 0 .5-.3 1.7 0 1.8-.5 2-.1 1.8-.5 2 0 1.7-.5 1.7 0 3-.8 2 0 2.9-.8.9 0 1.2-.5 1-.1.3-.2 1 0 .3-.3 1 0 .2-.2 1-.1.2-.2 1-.1.3-.2 1 0 .3-.3 3.2-.5 3.8-1.7z"/>
<path fill="#ff6e00" d="M480.1 49.6l.5-.2 1.6 0 1.2.6.9.9.6 1.5 0 2-.3.8-.2 4.4-.5 3.3.7 9.3.3.7 0 2-.7 1.5-1.8 1.4-1.8 0-.7-.4-6.5-1.7-.8-.5-1.7-.5-.3-.3-1 0-1.2-.5-1-.1-.2-.2-.8 0-.8-.5-5.7-1.2-.3-.2-1.9-.1-5.3-1.3-2 0-2.8-.8-2 0-1.7-.5-2 0-1.7-.5-2-.1-.6-.2-1.7 0-1.7-.6-4.3-.4-4.5-1-.8-.6 1-1.3.2-.7-.2-.6-1.1-1.6 2.1-.8 4.6-.8 6.4-.7 1.8-.5 2 0 1.8-.5 2-.1 1.7-.4 1.7-.1 3-.7 2-.1 3-.8.8 0 1.2-.5 6-1.1.3-.3 1 0 .3-.3 1 0 .2-.2 1-.1 1.2-.5 1 0 2.6-1.3z"/>
<path fill="#ff7c00" d="M480.5 49.6l1.7 0 1.2.6.7.7.6 1.5-.5 7.2-.2.6-.1 2-.2.7.3 4.3.2.4 0 2.3.2.5.1 2 .2.5 0 2-.6 1.3-1.7 1.4-1.7 0-.8-.4-6.3-1.6-1.8-1-.9 0-.3-.2-1 0-1.2-.6-1 0-.2-.2-.8-.1-.8-.5-5.7-1.1-.3-.2-1.8-.1-5.4-1.3-2-.1-2.8-.7-2 0-1.7-.5-2-.1-1.7-.5-2 0-4-.8-4.3-.5-4.5-1.1-.5-.4.9-1.2.2-.8-1.1-2.1 1.7-.7 4.6-.9 6.4-.8 1.8-.5 2 0 1.8-.5 2 0 1.7-.5 1.7 0 3-.8 2-.1 5.1-1.3 5.9-1.1.3-.3 1 0 .3-.2 1-.1.2-.2 1 0 1.2-.6 1 0 .3-.2.7 0 .8-.6 1-.4.8 0 2.8-1.1.9 0zM427.6 61.4l-.3.2.3.4.4-.4z"/>
<path fill="#ff8b00" d="M480.4 49.9l1.8-.1 1.2.6.5.5.6 1.5 0 2-.2.5 0 2-.3.5 0 2.2-.2.6 0 2-.3.4 0 2 .3.6 0 2 .2.4 0 2.3.3.5.2 4.5-.6 1.3-1.7 1.3-1.3 0-1-.5-6.3-1.6-.7-.5-3.3-.6-1.2-.5-1 0-.2-.2-.8-.1-.8-.5-5.6-1.1-.4-.2-1.7-.1-5.5-1.3-2-.1-2.8-.7-2-.1-1.7-.5-2 0-1.5-.5-2 0-.8-.3-1.4 0-2-.6-1.8-.1-4.5-.9-2.7-.9.9-1.4-.1-1.3.6-.1.2-.4-.6-.5-.6.5-.5-.8 1.5-.6 4.6-1 6.4-.8 2-.5 1.8-.1 1.8-.5 2 0 1.7-.5 1.7 0 3-.8 2 0 5.2-1.4 5.8-1.1.3-.2 1-.1.3-.2 1-.1.2-.2 1 0 1.2-.5 1-.1.3-.2.7 0 .8-.5.8 0 3-1.2 1.7-.2zM427.4 61.3l-.3.3.5.6.3-.1.2-.7z"/>
<path fill="#ff9a00" d="M480.4 50.2l.2-.3 1.6 0 1 .5.7.8.5 1.2-.3 4.5-.2.3 0 2.4-.3.3 0 2.3-.2.2 0 2.5.2.3 0 2.2.3.2 0 2.6.2.2.3 4.5-.5 1-1.7 1.5-1.3 0-.7-.5-2.8-.5-.8-.5-3-.5-.7-.5-3.3-.6-1.2-.5-1 0-.2-.3-.8 0-.8-.5-6-1.3-1.7-.1-5.5-1.4-2 0-2.8-.8-1.9 0-1.5-.5-2 0-2-.6-1.8 0-.8-.3-1.4 0-1.8-.5-2-.2-4.5-1-2.3-.6-.1-.3.8-1.2 0-1 .7-.6-.1-.4-.6-.6.1-.1.4-.3 2.1-.6 4.3-.7.4-.3 4-.3 2-.6 1.8 0 2-.5 1.8-.1 1.7-.5 1.7 0 3-.7 2-.1 6.5-1.6 5.8-1.2.3-.2 1 0 .2-.3 1 0 1.2-.5 1 0 .3-.3.7 0 .8-.5 2-.3.2-.2.8 0 .8-.5 2-.3 1.4-.7zM426.9 61.3l.1.6.6.5.3-.2.3-.9z"/>
<path fill="#ffa900" d="M480.4 50.2l.2-.3 1.6 0 1 .5.7.8.5 1.2-.3 4.5-.2.3 0 2.4-.3.3 0 2.3-.2.2 0 2.5.2.3 0 2.2.3.2 0 2.6.2.2.3 4.5-.5 1-1.7 1.5-1.3 0-.7-.5-2.8-.5-.8-.5-3-.5-.7-.5-3.3-.6-1.2-.5-1 0-.2-.3-.8 0-.8-.5-5.4-1.1-.6-.3-1.7 0-5.5-1.4-1.9 0-2.9-.8-1.7 0-2-.6-1.7 0-2-.5-4-.4-1.8-.5-4.2-.7-4.5-1.3.7-1 .2-1.2 1.3-.8.3-.5.2-.5-.7-.2 1.2-.5 4.7-.9 4.3-.5 1.7-.5 1.8 0 2-.6 1.8 0 2-.5 1.7-.1 2.7-.7 2-.1 6.6-1.6 5.7-1.1.3-.3 1 0 .2-.3 1 0 1.2-.5 1 0 .3-.3.7 0 .8-.5 3-.5.8-.5 2-.3 1.4-.7zM428.6 65.6l.3.4.5-.4-.5-.2z"/>
<path fill="#ffb900" d="M480.4 50.2l.2-.3 1.6 0 1 .5.7.8.5 1.2-.3 4.5-.2.3 0 2.4-.3.3 0 2.3-.2.2 0 2.5.2.3 0 2.2.3.2 0 2.6.2.2.3 4.5-.5 1-1.7 1.5-1.3 0-.7-.5-2.8-.5-.8-.5-3-.6-.7-.5-3.3-.5-1.2-.5-1-.1-.2-.2-.8 0-.8-.5-4.2-.8-1.8-.6-1.7-.1-5.3-1.3-2-.1-3-.8-1.7 0-2-.5-1.7-.1-1.8-.5-2 0-.5-.3-1.7-.1-1.8-.5-1.8-.2-3.9-.9.8-.3.1-.3-.4-.2-.5 0-.5.7-2.3-.7.6-1 .2-1 1.2-.9 1-1.6 5-1.1 4-.4 1.7-.5 1.8-.1 2-.5 1.8 0 2-.6 1.4 0 3.3-.8 2-.1 7.5-1.9 5.8-1.1.2-.2 1-.1 1.2-.5 1 0 .3-.3.7 0 .8-.5 3-.5.8-.5 2-.3 1.4-.7z"/>
<path fill="#ffc903" d="M480.5 50.2l.1-.2 1.6 0 1 .5.6.7.5 1.2-.2 4.5-.3.3 0 2.4-.2.3 0 2.3-.3.2 0 2.5.3.3 0 2.2.2.2 0 2.6.3.2.2 4.5-.5 1-1.6 1.4-1.3 0-.7-.5-2.8-.5-.8-.5-3-.5-.7-.5-3.3-.5-1.2-.5-1-.1-1.8-.7-6-1.4-1.7-.1-5.3-1.3-2-.1-2.7-.8-2-.1-1.7-.5-2 0-1.8-.5-4.2-.5-1.8-.6-4.2-.7-.5-.2.2-.6-.5-.2-.8 0-.4.5-2-.7.5-.8.1-1 .8-.5 1-1.6.6-.3 4.7-1 4-.5 1.7-.6 2 0 1.8-.6 1.8 0 2-.5 1.7-.1 3-.7 2-.1 8.7-2.3 5.8-1.1 1.2-.5 1 0 .3-.2.7-.1.8-.5 3-.5.8-.5 2-.2 1.4-.8z"/>
<path fill="#ffdf0f" d="M480.5 50.2l1.7-.2 1 .5.6.7.5 1.2-.2 4.5-.3.3 0 2.4-.2.3 0 2.3-.3.2 0 2.5.3.3 0 2.2.2.2 0 2.6.3.2.2 4.5-.5 1-1.6 1.4-1.3 0-.7-.5-2.8-.5-.8-.5-2-.2-.2-.3-.8 0-.7-.5-3.3-.6-1.2-.5-1 0-1.8-.8-6-1.4-1.7 0-5.3-1.4-2-.1-2.7-.8-2 0-1.7-.5-2-.1-1.8-.5-4-.5-2-.6-3.5-.6-.5-.2.1-.3-.2-.3-.9-.2-.8-.1-.4.4-1.7-.5.6-1.8.8-.7.7-1.3.6-.2 4.7-1.1 4-.5 1.7-.5 2-.2 1.8-.5 2 0 1.8-.5 1.7-.1 3-.8 1.7 0 9-2.3 5.8-1.1 1.2-.5 1-.1.3-.2.7 0 .8-.5 3-.6.8-.5 2-.2 1.4-.8z"/>
<path fill="#fff51b" d="M480.5 50.2l1.7-.2 1 .5.6.7.5 1.2-.3 4.5-.2.3 0 2.4-.3.3 0 2.3-.2.2 0 2.5.2.3 0 2.2.3.2 0 2.6.2.2.3 4.5-.5 1-1.6 1.4-1.3 0-.7-.5-2.8-.5-.8-.5-2-.3-.2-.2-.8 0-.7-.5-3.3-.6-1.2-.5-1 0-1.8-.8-6-1.4-1.7-.1-5.3-1.4-2-.1-2.7-.7-2-.1-1.7-.5-2-.1-1.8-.5-4-.5-5-1.2-.8-.7-1.4-.4-.6 0-.4.4-1.4-.7.5-1.5.6-.6.7-1.2.6-.3 4.7-1 4-.6 2-.6 1.7-.1 1.8-.5 2-.1 1.8-.5 1.7 0 3-.8 2-.1 10-2.6 4.5-.8 1.2-.5 1-.1.3-.2.7 0 .8-.5 3-.6.8-.4 2-.3 1.4-.7z"/>
<path fill="#f3fc1e" d="M480.5 50.2l1.7-.2 1 .5.6.7.5 1.2-.3 4.5-.2.3 0 2.4-.3.3 0 2.3-.2.2 0 2.5.2.3 0 2.2.3.2 0 2.6.2.2.3 4.5-.5 1-1.6 1.4-1.3 0-.7-.5-2.8-.5-.8-.5-2-.3-.2-.2-.8 0-.7-.5-3.3-.6-1.2-.5-1 0-1.8-.8-6-1.4-1.6-.1-5.4-1.4-2-.1-2.7-.8-2-.1-1.7-.5-1.8-.1-2-.6-4-.4-5-1.3-1.3-.7-1.2-.2-.7.2-1.2-.5.5-1.5.9-1.4.8-.5 2.4-.6 1.6-.1.7-.4 2.5-.5 1.5-.1 2-.6 1.7-.1 2-.5 1.8-.1 1.8-.5 1.7 0 3-.9 2-.1 11.2-2.8 3.3-.6 1.2-.5 1 0 .3-.3.7 0 .8-.5 3-.5.8-.5 2-.3 1.4-.7z"/>
<path fill="#e2fe1e" d="M480.6 50.2l1.6-.1 1 .5.5.6.5 1.2-.2 4.5-.3.3 0 2.4-.2.3 0 2.3-.3.2 0 2.5.3.3 0 2.2.2.2 0 2.6.3.2.2 4.5-.5 1-1.5 1.3-1.3 0-.7-.4-2.8-.6-.8-.4-2-.3-2.7-1-4.4-.9-2.9-1-4.7-1.1-1.7-.1-5.6-1.5-2-.2-2.7-.7-1.7-.1-2-.5-1.8-.1-2-.6-4-.5-2-.6-3-.6-1-.6-1.5-.3-.7.2-.9-.4.3-1.5.8-1.3.8-.5 2.4-.6 1.6.1 1-.6 3.7-.5 2-.6 1.7-.1 2-.6 1.8-.1 2-.5 1.5 0 3-.9 2-.1 6.3-1.7 7-1.5.3-.3.9 0 1.2-.5 1 0 .3-.3.7 0 .8-.5 3-.5.8-.5 2-.3 1.4-.7z"/>
<path fill="#d4ff1e" d="M480.6 50.2l1.6-.1 1 .5.5.6.5 1.2-.2 4.5-.3.3 0 2.4-.2.3 0 2.3-.3.2 0 2.5.3.3 0 2.2.2.2 0 2.6.3.2.2 4.5-.5 1-1.5 1.3-1.3 0-.7-.5-2.8-.5-.8-.5-2-.2-2.7-1-4.3-.9-2-.8-5.7-1.4-1.7-.1-5.6-1.5-1.9-.2-2.8-.7-1.7-.1-2-.6-1.8 0-2-.6-4-.5-2-.7-3-.5-1-.5-2.2-.3-.8-.5.3-1.2.7-1.2.8-.4 2.4-.6 1.6 0 1-.6 3.7-.5 2-.6 1.7-.1 2-.6 1.8 0 2-.6 1.5 0 3-.8 2-.2 7.5-2.1 10.2-2.3.8-.5 3-.5.8-.5 2-.2 1.4-.8z"/>
<path fill="#caff1c" d="M480.6 50.2l1.6-.1 1 .5.5.6.5 1.2-.2 4.5-.3.3 0 2.4-.2.3 0 2.3-.3.2 0 2.5.3.3 0 2.2.2.2 0 2.6.3.2.2 4.5-.5 1-1.5 1.3-1.3 0-.7-.5-2.8-.5-.8-.5-3-.5-.7-.5-3.2-.5-3.1-.9-2-.8-5-1.2-1.4-.1-5.6-1.5-1.7-.1-3-.9-1.7 0-2-.6-1.8-.1-2-.5-3.8-.5-2-.7-1.7-.2-2.5-.8-2.2-.4-.6-.3.2-1.2.6-1.1 1-.5 2.5-.5 1.3.1 1-.6 3.7-.6 2-.6 1.7-.1 2-.5 1.8-.1 2-.6 1.5 0 3.3-.9 1.7-.1 7.6-2.1 10.1-2.3.8-.5 3-.6.8-.5 2-.2 1.4-.8zM430.4 62.2l-.2.2 0 .5.5-.5zM436.2 64.9l-.2.5.4.4.2-.4-.2-.5z"/>
<path fill="#b4ff16" d="M480.6 50.2l1.6-.1 1 .5.5.6.5 1.2-.3 4.5-.2.3 0 2.4-.3.3 0 2.3-.2.2 0 2.5.2.3 0 2.2.3.2 0 2.6.2.2.3 4.5-.5 1-1.5 1.3-1.3 0-.7-.5-2.8-.5-.8-.5-1.9-.3-1.8-.7-6.3-1.5-1.7-.7-5-1.3-1.7-.2-5.6-1.6-1.7-.1-3-.9-1.7 0-2.8-.7-.8-.5-1.2.2-1.5-.6-1 .3-2.3-.4-.1-.3.3-1.2-.4-.6-.7.3.3 1-.4.4-7.2-1.6-.3-.3 0-1.2.3-.6 1-.4.6 0-.1.7.3.2.5-.5.4-.7.8-.3.7-.1.6.3 1-.7 5-.8 1-.4 1.2.4 1-.6 1.2-.4 1.8-.1 2-.5 1.8-.2 3-.8 1.7-.1 6.5-2 10.2-2.4 2.9-1 1.9-.3.8-.5 2-.3z"/>
<path fill="#a0ff1d" d="M480.5 50.4l.4-.2 1 0 1.3.6.5.8.3 1-.2 4-.3.6 0 2.2-.2.5 0 2-.3.5 0 2.5.3.5 0 2 .2.5 0 2.3.3.4.2 4-.5 1.3-1.6 1.2-.7 0-1-.5-2.6-.5-1-.5-1.7-.2-3-1.1-4.3-.9-2.7-1.1-13.3-3.5-.7.1-2.7-.7-1.8-.1-2.8-.6-1-.5-1.2.1-1.8-.6-.7.2-2-.3 0-1.2-.3-.9-1.1.3-.2.3.4.7-.1.4-.2 0-4.8-1-2.1-.8.1-1.3.8-.3.2 0 .3.6.3 0 1-1 .7-.3.7-.1.6.4 1-.7 5-.9 1-.4 1.2.5 1.2-.8 1.3-.3 1.7-.2 6.8-1.4 1.8-.2 8.7-2.6 7.7-1.9 2-.8 2.8-.6 1-.5 1.8-.2 1.7-.8zM452.4 67.6l-.4.3.2.2.6-.2z"/>
<path fill="#90ff2f" d="M480.8 50.4l1.1-.1 1.1.6.9 1.7-.2 4-.3.6 0 2.2-.2.5 0 2-.3.5 0 2.5.3.5 0 2 .2.5 0 2.3.3.4.2 4-.6 1.3-1.4 1.1-.7 0-.8-.4-2.8-.6-.7-.4-2-.4-1.7-.7-5.3-1.2-3-1.2-4.7-1.5-1.8-.2-4.8-1.4-.7-.4.2-.7-.5-.3-.6 0-.7.8-.7.1-2.4-.6-1.8-.1-2.8-.6-.7-.4-1.3.1-2-.6-.7.1-1.7-.3-.2-1.7-.4-.3-1.2.4-.5.8-.3.1-3.7-.8-1.9-.7.1-.7.5-.2.6.3 1.7-1 1.3 0 1.2-.6 5-.8.8-.3 1.2.2 1.2-.6 1.3-.4 1.7-.1 6.8-1.4 1.8-.2z"/>
<path fill="#82ff4a" d="M480.6 50.6l1-.2 1.3.6.8 1.6-.2 4-.3.6 0 2.2-.2.5 0 2-.3.5 0 2.5.3.5 0 2 .2.5 0 2.3.3.4.2 4-.6 1.3-1.2.9-.7 0-4.3-1.4-2.7-.6-2-.8-2-.3-5-1.9-3.2-.9-.4-.3-3-.5-4.7-1.3-.3-.2-.3-.7-.4-.4-.7 0-1 .7-.6.1-2.4-.7-1.8-.1-4.8-.9-2-.6-2.2-.2-.2-.2 0-1.2-.3-.4-1.7.4-.6.7-3.7-.9-1.4-.6.1-.2.6.1 1.7-.9 1.3-.1 1.2-.5 5-.8 1-.4 1.2.1 2.3-.8 1.7-.1 6.8-1.4 1.9-.2z"/>
<path fill="#76ff70" d="M480.7 50.9l.9-.2 1 .5.5.7.3 1-.2 3.7-.3.6 0 2.2-.2.5-.1 2-.2.5 0 2.5.2.5.1 2 .2.5 0 2.3.3.5.2 3.7-.5 1.2-1.3 1-13.4-4-6-2.2-.8-.7-.8.4-2-.3-4.7-1.3-.5-.9-.5-.2-.7 0-1.3.6-.7-.1-10.3-2-2.3-1.1-.7-1-1.7.4-.6.5-3.8-1.1 1.4-.6 8.2-1.9 1.2 0 1.3-.4.5.2.2-.4 1.3-.2.5.6.5-.6.7-.3 6-1.2 1.6-.1 3-.7z"/>
<path fill="#6cff96" d="M481.3 51.2l1.1.4.5 1.3-.2 3.5-.3.8 0 2-.2.7 0 1.7-.3.8 0 2.5.3.7 0 1.8.2.8 0 2 .3.7.2 3.5-.7 1.2-.8.5-14-4.2-1.2-.8-1.6-.2-2.4-.8-.8-.7-1 .3-1.5-.2-3.3-.8-.1-.3.2-.5-.3-.1-.5.7-1-.2-.5-.8-.5-.2-.7 0-1.3.5-2.7-.7-1.6-.1-6.7-1.4-2-1-1-.9-2.3.6-2.1-.7.2-.2 1.9-.7 5.8-1.3 3-.3.8-.4.4-.1.8.5 1.2-.8 6-1.2 1.8-.2 6.5-1.7 1-.1zM479.6 62.3l0 .5.6-.2 0-.2z"/>
<path fill="#64ffbc" d="M481.3 51.9l.6.4.4.9-.8 8.2-.3 1.2.8 8.6-.4-.1-.5-.7-.2-.1-.1.3 1 1.3-.2 1.5.6 1-.3.8-.5.4-4.8-1.4-1.3-.8-.9.1-1.8-.7-2-.3-.7-.3-.5-.6-2-.1-1.2-1-1 .1-3-.7-.8-.7-1 .2-1.5-.2-2.5-.6-.5-.2-.3-.8-.4 0-.6.5-.7-.1-.7-.8-.8 0-1.2.3-2.8-.7-1.8-.1-7.4-1.7-1.2-.6-.8-.8-1.8.3-1.2-.3.7-.4 5.7-1.5 2.8-.4 1-.4 1 .3 1.2-.6 6-1.2 1.8-.2 9.5-2.3 2-.7 1.3.5.4-.3 0-.5.8-.4 11.5-3.4.4.1-.1.4.4.1zM446.2 64.4l0 .4.5-.4zM478.2 53.8l-.2.4.2.4.3 0 .5-.2-.1-.5zM479.6 62.1l-.3.5.6.4.7-.1-.2-.8-.2-.2zM479.6 73.3l-.2.3.2.3.6.1 0-.6z"/>
<path fill="#60f8e1" d="M479 52.9l.6-.2.6.4 1.2-.3.3.4.1.4-.8 7.3-2 1.5.3.5 1.4.7.6 5.8-.1.3-.6.3-.2.6.9 1.3.1.5-.5.9-1-.4-.5.3-.2 1-.3.2-3.3-1.2-1.2-.1-3.8-1-1.2-.8-1.8-.1-.7-.4-.5-.5-1.5-.6-1.3.2-1.7-.5-.5-.3-2.5-.2-2.5-.6-.8-.9-1 .4-.7-.1-.7-.6-1.8.2-3-.8-5.2-.8-2.3-.7-.5-.3-1 .1-1.4-.6-.9-1 3.5-1.1 3.8-.8 1.2.1 2.3-.8 6.7-1.1 5.3-1.4 1.3-.2 5-1.4 1 .4.5-.3.7-.7 2.2-.7 1-.1.6.5.4.1.7-.3-.7-.2-.1-.3.4-.3 4-1.2.7.2.4 1 .6.2.8-.6-.1-.3-.8-.5 0-.2zM446.4 64.1l-.6.3.1.7 1.8-.7-.8-.4zM470.4 57.3l-.4.3.4.6.2-.1.2-.5zM480.7 73.9l.5-.1.4.4-.2.8-.9-.4z"/>
<path fill="#5ee7ff" d="M480.6 53.2l.6 0-.5 3.7 0 2-.3.9-.4.1-.1 1.5-1.1 1 .2.5 1.2.7.3 2.3 0 1.3-.3.4.5.8 0 .8-.5 1.7.7.9.1.6-.4.4-.7-.2-.3.1-1 1.2-10.7-3-3-1.5-1 .2-4.2-1-.3-.6-.1.4-.4.2-2.5-.6-.8-.7-1 .2-.7-.1-.5-.4-1.8.1-5.4-1.2-.1-.5.3-.3 2.2-.5-.4-.5-1-.3-1.3.4-.7 1.4-3.3-.7-.7-.3-.8-.6-.5.3-.7-.4 0-.5.7-.5 4.5-1.3 1.2 0 7.3-1.7 1.5-.1 4.8-1.2.7.4.3-.6 1 0 1.2-.6 3.8-1 1 .3 1.4-.9 2.3-.6.7-.1.8.5 1.2-.3.6-.5 0-.6 3-.8.7.9.7.2.8-.5.5-.9zM448.9 61l-.3.5.6.2.3-.3-.1-.2zM470.2 57.3l-.3.6.3.3.4.1.4-.4-.1-.5zM449.2 64.9l.1.5.3 0z"/>
<path fill="#48b9ff" d="M480.6 53.4l-.4 5.5-.7.7.2 1.6-1.1 1.2.2.5.9.7 0 2 .2.6-.2 1.7.5.7 0 1-.5 1.6 0 1-1.1 1.2-10-2.8-.2-.7-.2-.1-.2.1.1.5-.2.1-2.7-1.3-1.3.1-3.7-.9-.8-.9-.8.7-2.2-.6-.8-.5-.7.1-1.5-.4-1.8-.1-3-.8-1.7-.3-.5-.2 1.5-.5.7.2.8.7.6-.4-.3-.5-2.5-1.5-1.6.7-.4 1-2.1-.7 0-1.5 1.5-.7 3.6-.9.4.5.6.1 1.4-1 2.3-.6 1.7-.2 4.6-1.1 1 .3 1-.3.5-.6.9-.3 3.8-.9.8 0 3.7-1.2.7-.1.8.3 1.2-.3 1-.9 2.6-.7 1 .7.4 0 1.2-.6zM451.4 62.4l-.5.4 0 .5.5-.1.3-.3.1-.3zM456.6 62.6l-.4.3.2.3.8-.3 0-.3zM462.9 62.6l-.4 1-.7.8.1.4 1.3-1.2zM468.2 63.4l-.2.2.2.2.6-.4-.2-.2zM470.2 57.1l-.4.3-.1.5.5.5.4.2.5-.4.1-.8-.3-.3zM477.4 70.1l-.2.4.5-.1zM478.2 64.6l-.4.3.4.5.4.2.6-.2-.4-.8z"/>
<path fill="#3086ff" d="M476.8 54.9l.6-.2 1 .5 1.2-.4.3.1 0 1-.3.7 0 2-.4.8.2 1.8-.2.4-.8.8.7 1 0 1-.9 0-.7.5.7.8 1 .4.2.3.2 4-.3.8 0 1.2-.4.3-.5.1-2.5-.6-6.7-1.9-.6-.7-1-.6-.4.5-.8-.1-1.2-.5-5-1-.6-.7-.4.1-.6.4-3-.9-5-.9-.5-1-.9-.5-.7-.8 0-1.4.9-.1 1.2-.7 6-1.3.8.6.2-.9 1.6-.4 1 .3.7-.2 1-.8 2-.5.5.6.5.1.3-.3-.3-.4.3-.3 4.7-1.1.4.1-.7.3-.1.7.4.6.7.3.6-.4.2-1.2-1-.6 1.2-.2.6.1 1.7-.5.7-.6zM450.9 62.3l-.5.9.2.4.3.2.7-.5.4-.7-.4-.4zM456.6 62.4l-1 .3-.1.5 1.1.2.9-.5-.1-.5zM458.6 64.3l-.2.4 1.2.6.6-.1-.1-.6-.5-.3zM462.9 62.1l-.4.5-.3 1-.7 1 .1.5.7-.2 1.2-1.3-.3-1.2zM466.6 63l0 .2.8.3.8.7.4-.2.6-.6-.6-.4-1.2.3zM475.9 60.9l-.3.7.3.2.5-.9-.2-.2zM476.4 58.1l-.2 1.1.2.5.2.1.6-.6.1-.8-.4-.4zM477.2 69.8l-.6.8.6.2.7-.1 0-.8-.3-.2z"/>
<path fill="#1f60ff" d="M477.1 55.4l.8-.2 1.3.2-.6 1 .3.5 0 1.7-.3.3.1 2.3-.5 1.2.2 1.5 0 .3-1.3.7 1.6 1.7.3 4-.4.6 0 .7-1 .1-5.2-1.5-.2-.1.3-.8-.1-.1-.4.1-.4.7-2.2-.5-1-1 0-.9-.5-.3-.8.3 0 .7-.5.3-.7-.3.4-.7-.4-.6-1 .3-.3.8-3.9-1-.5-.7-1.6.3-1.1-.6 0-3 .3-.2.1-.6-.4-1.2.5-.2.3-.8 1.3-.4 1 0 1.3-.7 2-.5 1 .4.5-.3.2-.5 3.3-.8 1.3 1.3.7.2.5-.5.4-1.2.6-.6zM458.2 64.1l-.3.3.1.5 1.6.9.6-.1.6-.5.1-.3-1.3-.9zM462.9 61.8l-.6.6-.1.9-1.3 1.6.1.3 1.2.1 1.6-1.7-.3-1.4-.3-.4zM465.2 64.4l-.6.4-.2.6.2.4 1 .1-.1-1.3zM465.6 61.8l-.3.6 1.1 1.1 1.5.9.2.2-.1.8.2.3.2-.1.2-1.2.7-.8.1-.4-.5-.4-1.5.1-.7-.5-.3-.6zM470.4 66.3l-.4.3-.2.5.6-.2.2-.5zM473.2 60.7l-.6.9-1 .2-.2.8.5.2 1.5-1.1.1-.8zM476.4 57.5l-.4.4 0 2-.8 1.7.2.6.2 0 .8-.5.4-1.5 1-1.6-.4-.8-.5-.3zM473.4 67.5l-.2.3 0 .4 1.2 1.2.5.2.7-.2.8.5-.4 1.3 2.4-.3-.2-1-1.1-1.3-.5-.1-1.2.4z"/>
</g></g>
<text x="486.2" y="39.3" style="font-family:'Liberation Sans',sans-serif;font-size:4px" fill="#3c3c3c">1.0</text>
<rect x="485.0" y="37.7" width="0.9" height="0.4" fill="#888"/>
<text x="486.2" y="52.1" style="font-family:'Liberation Sans',sans-serif;font-size:4px" fill="#3c3c3c">0.5</text>
<rect x="485.0" y="50.5" width="0.9" height="0.4" fill="#888"/>
<text x="486.2" y="65.0" style="font-family:'Liberation Sans',sans-serif;font-size:4px" fill="#3c3c3c">0.0</text>
<rect x="485.0" y="63.4" width="0.9" height="0.4" fill="#888"/>
<text x="485.3" y="77.8" style="font-family:'Liberation Sans',sans-serif;font-size:4px" fill="#3c3c3c">−0.5</text>
<rect x="485.0" y="76.2" width="0.9" height="0.4" fill="#888"/>
<text x="485.3" y="90.7" style="font-family:'Liberation Sans',sans-serif;font-size:4px" fill="#3c3c3c">−1.0</text>
<rect x="485.0" y="89.1" width="0.9" height="0.4" fill="#888"/>
<text transform="translate(496.5,63.6) rotate(-90)" text-anchor="middle" style="font-family:'Liberation Sans',sans-serif;font-size:3.8px" fill="#3c3c3c">z [AU]</text>
<text x="437.1" y="93.1" text-anchor="middle" style="font-family:'Liberation Sans',sans-serif;font-size:4.2px" fill="#3c3c3c">2</text>
<rect x="436.9" y="89.3" width="0.4" height="0.9" fill="#888"/>
<text x="455.3" y="93.1" text-anchor="middle" style="font-family:'Liberation Sans',sans-serif;font-size:4.2px" fill="#3c3c3c">3</text>
<rect x="455.1" y="89.3" width="0.4" height="0.9" fill="#888"/>
<text x="468.3" y="93.1" text-anchor="middle" style="font-family:'Liberation Sans',sans-serif;font-size:4.2px" fill="#3c3c3c">4</text>
<rect x="468.1" y="89.3" width="0.4" height="0.9" fill="#888"/>
<text x="478.3" y="93.1" text-anchor="middle" style="font-family:'Liberation Sans',sans-serif;font-size:4.2px" fill="#3c3c3c">5</text>
<rect x="478.1" y="89.3" width="0.4" height="0.9" fill="#888"/>
<text x="451.9" y="96.7" text-anchor="middle" style="font-family:'Liberation Sans',sans-serif;font-size:3.8px" fill="#3c3c3c">r [AU]</text>
<clipPath id="cp05"><rect x="511.8" y="37.9" width="66.6" height="51.4"/></clipPath>
<g clip-path="url(#cp05)"><g filter="url(#bl)">
<rect x="509.8" y="35.9" width="70.6" height="55.4" fill="rgb(104,4,10)"/>
<path fill="#68040a" d="M528.4 35.9l51.9 0 0 55.3-51.9 0-4.8-15.5-1.4-3.3-.9-1-1.7-.9-3.8-.4-2-.8-.8-.9-.4-1 0-1 1-2.8-.7-1.7-.3-1.5.4-1.6 1.3-1.1 1.3-.5 3-.3 1.6-.5 1.1-.6.8-.9 1.5-3.4z"/>
<path fill="#68040a" d="M529.8 35.9l50.5 0 0 55.3-50.6 0-4.9-15.8-1.1-2.8-.8-1.2-1.1-.8-2.2-.8-3.6-.4-2.4-1-.5-.8-.1-1 1.2-3-.9-2-.3-1.2.4-1.2 1.2-1 4-.6 2.6-.7.8-.4 1.4-1.3 1.2-2.8z"/>
<path fill="#68040a" d="M530.9 35.9l49.4 0 0 55.3-49.5 0-5-16-1.1-2.8-1-1.2-1.1-.9-2.9-.9-3.7-.4-2-.7-.4-.4-.4-1.3 1.4-3-1.1-2.2-.3-1 .4-1 1.2-.9 4-.5 3.2-.8 2.4-1.8 1.4-3.2z"/>
<path fill="#6d040a" d="M531.8 36.2l.1-.3 48.4 0 0 55.3-48.5 0-5.2-16.6-1.3-2.9-.9-.8-1.7-1-2.9-.8-3.5-.3-2-.7-.6-.5-.3-.7.3-1 1.2-2.3-1.5-3 .4-1.1 1.3-.8 3.7-.4 3.5-.8 2.1-1.1 1.1-1.2 1.3-3.1z"/>
<path fill="#800308" d="M532.8 35.9l47.5 0 0 55.3-47.6 0-5-16-1.3-3.3-1-1-2.4-1.2-3.2-.8-3.5-.3-2.4-1-.3-1 1.5-3-.9-1.4-.6-1.8.2-.7 1-.7 7.5-1.2 2.7-1.2 1.3-1.2 1.3-3z"/>
<path fill="#930206" d="M533.6 35.9l46.7 0 0 55.3-46.7 0-5.1-16.3-1.3-3-1.2-1.3-2.7-1.2-3.5-.7-3.5-.3-2.3-.8-.3-.4 0-.6 1.6-3-.9-1.4-.7-1.8.3-.7 1-.6 7.3-1.1 2.7-.8 1.9-1.6.7-1 .9-2.2z"/>
<path fill="#a60104" d="M534.5 35.9l45.8 0 0 55.3-45.8 0-5.2-16.6-.8-2-.6-1-1.4-1.2-3.2-1.2-3.5-.7-3.5-.3-2.3-.8-.2-.5.2-.7 1.4-2.6-1.4-2.4-.2-.8.2-.5 1-.6 7.3-1.1 3-.8 1.7-1 1-1 1.3-3z"/>
<path fill="#ba0102" d="M535.3 36.2l0-.3 45 0 0 55.3-45 0-5.2-16.6-.7-1.7-.8-1.4-2-1.5-3.3-1-2.5-.3-.8-.3-3.7-.3-2.3-.8-.1-.4.2-.7 1.4-2.6-1.4-2.4-.2-.8.1-.4 1-.6 7.3-1 3.3-.8 2.2-1.2 1.2-1.2 1.3-3z"/>
<path fill="#cb0000" d="M536.2 35.9l44.1 0 0 55.3-44.1 0-5.4-17.1-.8-1.7-1-1.2-2.6-1.6-3.1-.7-2.7-.3-.6-.3-3.7-.3-2.2-.8.1-1 1.4-2.6-1.4-2.4-.1-1 .9-.7 7.3-1 3.3-.7 2.3-.9 1.9-1.7 1.3-3z"/>
<path fill="#d60000" d="M537 36.2l.1-.3 43.2 0 0 55.3-43.3 0-5.1-16.3-.8-2-.8-1.3-1.5-1.2-2-.9-3.5-.8-2.5-.2-.8-.3-3.7-.3-2.1-.7-.1-.3.2-.6 1.4-2.7-1.4-2.6-.2-.6.2-.3 1.3-.6 7-.8.7-.4 2.3-.3 2.4-.8 1.7-1 1-1 1.4-3.3z"/>
<path fill="#e10000" d="M538 35.9l42.3 0 0 55.3-42.4 0-5.1-16.6-.8-1.7-1-1.4-2-1.4-2.2-.8-2.5-.3-.7-.4-2.8-.2-.8-.3-3.7-.3-2.2-.9 1.7-3.3-1.7-3.2.2-.2 1-.5 10.3-1.5 2.4-.7 2.2-1.1 1-.8.9-1.4.7-1.8z"/>
<path fill="#ec0000" d="M539 35.9l41.3 0 0 55.3-41.4 0-5.2-16.6-.7-1.7-1-1.3-1-.8-2-1-2.2-.7-2.5-.3-.7-.3-2.8-.2-.8-.3-3.7-.3-2.2-.8 1.8-3.3-1.6-2.7-.2-.5.2-.2 1-.4 3.7-.4.8-.3 2.8-.2 5.4-1.2 3-1.2 1.5-1.3 1.4-3z"/>
<path fill="#f70000" d="M540 36.2l.1-.3 40.2 0 0 55.3-40.3 0-5-16-.8-2-.9-1.3-2.2-1.5-4.1-1.4-2.7-.3-.7-.3-2.8-.2-.8-.3-3.7-.3-2.2-.7 1.9-3.3-1.6-2.7-.3-.5.2-.2 1.3-.4 7-.8 5.4-1.1 3.3-1.1 2.2-1.6.8-1.3.8-2.3z"/>
<path fill="#ff0300" d="M541.4 35.9l38.9 0 0 55.3-38.9 0-5.2-16.6-.9-1.7-1.5-1.5-2.5-1.3-4.3-1.2-6.2-.8-.8-.3-3.7-.3-.5-.3-1.6-.3 1.3-2 .6-1.3-.6-1.2-1.1-1.5-.1-.6.7-.4 4-.4.8-.3 2.8-.2.7-.3 2.5-.2 2.5-.5 3-.8 2.3-1.1.9-.9 1.1-1.6.8-1.7z"/>
<path fill="#ff0e00" d="M543.9 35.9l36.4 0 0 55.3-36.4 0-2.1-8.8-1.4-3.8-1.9-4-1-1.2-1.7-1.5-2.2-1.2-2.3-.8-4.3-1.1-10.7-1.3-.4-.3-1.7-.3 2-3.3-.6-1.2-1.2-1.5-.1-.6.7-.3 4.3-.4.5-.3 6-.6 5.5-1.3 2.5-.9 3.1-2.1 2-2.5 2.1-4.7.8-2.3z"/>
<path fill="#ff1900" d="M555.4 35.9l24.9 0 0 55.3-24.9 0-.9-5-1.7-4-2.1-3-1.9-2.1-4-3.2-3.2-1.4-4.8-.9-3-1.2-4.5-1.3-1.5-.1-.8-.3-2.7-.2-.7-.3-7.3-.8-.3-.3-1.8-.2 2.1-3.3-1.4-2-.6-1.3.7-.3 10.8-1.3 5.5-1.1 2.5-.7 1.8-.9 2.2-.7 1.5-.1 3.5-.9 4.2-2.5 3.5-3.4 2.7-4 1.5-4z"/>
<path fill="#ff2400" d="M562.5 35.9l17.8 0 0 55.3-17.9 0-.8-2.3-1.7-2.7-4.6-5.4-5-4.3-5.3-3.5-3.2-1.2-5-.8-7.5-2-1.5-.1-.8-.3-2.7-.2-.7-.3-2.8-.2-.5-.2-4-.3-.3-.3-1.7-.2 2-3.3-2-3.2.7-.4 10.8-1.2.8-.3 5-.7 2.2-.6 1.8-.8 2.4-.5 1.6 0 3.2-.8 5.5-2.8 5.3-4.1 4-4.2 3.3-4.6z"/>
<path fill="#ff3000" d="M570.8 36.2l.2-.3 9.3 0 0 55.3-9.5 0-7.3-6.6-7.7-5.5-7.2-4.8-3.6-1.9-3.2-1-5-.7-9.8-2.2-6.2-.6-.5-.3-4-.3-.3-.2-1.7-.2 2.1-3.3-2.1-3.2.7-.3 7.8-.8.5-.3 2.5-.1 3.2-.7 2.6-.3.4-.2 1.9-.3 1.7-.7 4-.4 1.7-.5 1.7-.3 4.3-1.8 6.5-4.1 10.2-7.5z"/>
<path fill="#ff3b00" d="M571.5 41.2l2.5-.1 2.3.6 1.9 1.2 2.1 2.1 0 37.3-1.7 1.7-2.3 1.4-1.5.5-2.2.3-2-.2-1.8-.6-4.5-2.8-3.7-1.9-9.8-5.8-5.5-2.8-3.5-1-5-.7-9.8-2-6.2-.6-.5-.2-4-.3-.3-.3-1.5-.1.5-1.3 1.4-2-1.8-2.7-.1-.5.5-.3 10.8-1.1.8-.3 7.4-1.1 1.6-.6 4-.4 1.7-.5 1.7-.2 5.6-2.3 6.2-3.5 5.5-3.5 4.5-2.3 3.2-2.1 1.6-.6z"/>
<path fill="#ff4800" d="M570 43.4l3.3-.1 1.3.3 1.7.9 2.4 2.4 1.6 3.3 0 5.6-1 7.8 1 7.9 0 5.6-1.1 2.5-.9 1.3-1.3 1.3-2 1.1-3 .8-1.7-.1-1.5-.4-4.2-2.4-6.8-3.1-1.5-1-7.5-3.8-3.5-1.5-1.5-.3-1.8-.6-7.2-1.1-7.8-1.5-6.2-.5-.5-.3-4-.2-.3-.3-1.3-.1 0-.5.3-.8 1.4-2-1.7-2.7 0-.5.3-.3 4.3-.2.5-.3 6.2-.6.6-.2 7.4-1 1.6-.6 4.2-.4 1.5-.5 1.7-.2 5.8-2.1 11.8-6.2 4.7-2.1 3-1.7z"/>
<path fill="#ff5500" d="M569.9 44.6l2.9 0 2.8 1.1 2.2 2.4.9 1.8.4 1.5 0 2.5-1.3 9.7 1.3 9.8 0 2.8-.5 1.4-1.3 2.3-1.3 1.2-2 1.1-2.4.6-2.6-.4-4-2.1-7-2.9-9.2-4.5-3.5-1.4-1.5-.2-1.8-.7-7.2-.9-5.5-1.1-1.5-.1-.5-.2-6.5-.6-.5-.3-4-.2-.3-.2-1-.1-.3-.3.4-1 1.3-2-1.6-2.7-.1-.3.4-.4 4.5-.3.2-.3 6.2-.5.6-.3 1.7-.1.7-.2 5-.6 1.8-.6 4-.3 1.5-.5 2-.2 5.5-1.9 7.2-3.4 1.8-1.1z"/>
<path fill="#ff6200" d="M569.6 45.6l3-.1 2.2.9 2.2 2.2.8 1.8.3 1.2 0 2.3-1.3 9.7 1.3 9.8 0 2.5-.4 1.3-1.1 2-1.3 1.2-1.7.9-2 .5-2.3-.2-4-2.1-7.3-2.7-1.4-.9-7.8-3.3-3.2-1.2-1.8-.3-1.8-.6-9.7-1.3-2.7-.6-1.8-.1-.5-.3-6.5-.5-.3-.3-4.2-.2-1.4-.6 1.6-3-1.6-2.7-.1-.3.5-.4 4.3-.3.2-.2 6.3-.5.5-.3 2-.1.4-.3 5-.5 1.8-.6 4-.2 1.5-.5 2-.2 2.7-1.1 2.8-.7 6.5-2.8 2.5-1.3 8.2-3.3z"/>
<path fill="#ff6e00" d="M569.5 46.4l2.8-.2 2 .9 1.9 1.8.9 1.7.2 1 0 2.3-1.3 9.7 1.3 9.8 0 2.2-.3 1.3-1 1.7-1 1-1.7 1-2 .5-2-.3-3.8-1.9-7.2-2.6-1.7-.9-11-4.3-1.8-.2-1.8-.6-9.7-1.2-2.7-.6-1.8-.1-.5-.3-6.5-.5-.2-.2-4.3-.2-1.3-.6.8-2 .7-1-1.4-2.7-.1-.3.6-.4 7.2-.6.5-.3 2.7-.1.6-.2 2-.1.4-.3 5-.5 1.8-.5 4-.3 1.8-.6 1.7-.1 2.7-1 1.6-.2 3.4-1.3 7-3.1 8.3-3z"/>
<path fill="#ff7c00" d="M570 46.9l2.3 0 1.7.8 1.7 1.7.8 1.5.2 1 0 2-1.4 9.7 1.4 9.8 0 2.2-.3 1-1 1.8-2.4 1.6-1.7.5-1.7-.2-4-2-7.3-2.5-1.5-.7-11.2-4.1-7-1.4-6.3-.6-.5-.3-1.8 0-.4-.3-1.8-.1-.5-.2-11-.9-1.1-.8 1.3-2.8-1.3-2.7.2-.5.6-.2 10-.9.6-.3 5.2-.4.5-.3 2-.1 1.5-.5 4-.3 1.8-.5 1.7-.1 2.7-1 1.8-.2 6.8-2.5 3.4-1.6 8.6-3z"/>
<path fill="#ff8b00" d="M570 47.4l2 0 1.8.7 1.5 1.5.9 2.3 0 1.7-1.5 10 1.5 10 0 1.8-.3 1-.9 1.5-.7.8-1.5.9-1.5.4-1.5-.2-4-1.9-20.2-7.1-1.6-.1-1.7-.6-1.7-.1-1.8-.4-6.5-.7-.5-.3-1.8 0-.4-.3-1.8 0-.5-.3-10.8-.8-1.1-.8 1.2-2.8-1.2-2.7.2-.4.4-.2 3.6-.3.2-.3 3.2 0 .3-.3 2.7-.1.6-.2 2-.1.4-.3 2.8 0 .5-.3 2-.1 1.5-.5 4.2-.3 1.6-.5 1.7-.1 2.7-.9 1.8-.2 6.8-2.4 3.7-1.6 8.3-2.8z"/>
<path fill="#ff9a00" d="M569.9 47.9l1.9-.1 1.6.6 1.5 1.5.8 2 0 1.7-1.5 10 1.5 10 0 1.8-1 2.2-2.1 1.6-1.3.3-1.5-.1-4-2-20.2-6.7-1.6-.1-1.7-.6-1.7 0-1.8-.5-1.8-.1-.4-.2-1.8-.1-.5-.2-2-.1-.5-.2-4-.4-.5-.3-3 0-.3-.3-7.2-.4-1.1-.8 1-2.8-1.1-2.7.4-.5.8-.2 2.8-.2.2-.2 3.2-.1.3-.3 2.7 0 .6-.3 2 0 .4-.3 5.3-.4 1.5-.5 4.2-.3 1.6-.5 2-.1 2.7-.9 1.5-.2 6.8-2.2 3.7-1.5 8.5-2.9z"/>
<path fill="#ffa900" d="M569.7 48.4l2.1-.2 1.2.5 1.4 1.2.9 2 0 1.7-1.5 10 1.5 10 0 1.8-.9 2-1.8 1.3-1.3.4-1.3-.1-4.2-2-7.2-2.2-1.6-.7-11.2-3.5-1.8-.1-1.7-.6-1.7 0-1.8-.5-1.8 0-.4-.3-1.8 0-.5-.3-2 0-.5-.3-4-.3-.2-.3-3.3 0-.3-.3-6.8-.4-.6-.3-.7-.7.9-2.6-.9-2.7.5-.5.8-.2 2.4-.2.2-.2 3.2-.1.3-.2 3-.1.3-.2 2-.1.4-.2 2.8-.1.5-.3 2 0 1.5-.5 2-.1.5-.2 1.8 0 1.5-.5 2-.1 2.7-.9 1.5-.1 7-2.2 3.5-1.4 8.5-2.7z"/>
<path fill="#ffb900" d="M570 48.6l1.8 0 1.2.5 1.3 1.3.6 1.8 0 1.4-1.5 10 1.5 10 0 1.8-.9 1.8-1.7 1.2-1 .3-1.3 0-4-1.9-7.4-2.4-1.6-.7-11.2-3.2-1.8-.1-1.7-.6-1.7 0-1.8-.5-1.8 0-.4-.3-1.8 0-.5-.3-2 0-.5-.3-1.8 0-.2-.3-2 0-.2-.2-3.3-.1-.3-.2-6.3-.4-.9-.3-.6-.7.7-2.6-.7-2.4.6-.8 2.8-.3.2-.3 3.2-.1.3-.2 3-.1.3-.2 2.2 0 .2-.3 5.3-.3 1.5-.6 2 0 .5-.2 1.7 0 1.6-.5 2-.1 2.7-.9 1.7-.1 8.8-2.6 1.5-.7 2-.5 6.7-2.4z"/>
<path fill="#ffc903" d="M570.3 48.9l1.5 0 1 .4 1.1 1.1.7 1.8 0 1.4-1.5 10 1.5 10 0 1.8-.7 1.5-.5.5-1.8.9-1.3.1-4.3-2-1.4-.3-4-1.5-1.8-.4-1.8-.7-11.2-3.2-1.8 0-1.7-.6-1.7 0-1.8-.5-6.5-.6-.3-.2-2 0-.2-.3-2 0-.2-.2-3.3-.1-.3-.2-3.2-.1-.2-.3-2.4 0-1.3-.6-.4-.7.6-2.3-.6-2.4.8-.8 2.3-.3.2-.3 3.2 0 .3-.3 5.5-.3.2-.3 5.3-.3 1.5-.5 4.2-.3 1.6-.5 2 0 2.7-.9 1.7-.1 8.8-2.4 1.8-.8 1.7-.4 6.7-2.3zM519.6 62.3l-.3.3.3.2.6-.2z"/>
<path fill="#ffdf0f" d="M569.9 49.4l1.7-.2 1 .3 1.1 1.1.6 1.6-.5 5.2-1 6 1.5 10.2 0 1.6-.6 1.4-.5.6-1.9.9-1 0-4.3-2-1.4-.3-4-1.5-1.8-.3-1.8-.8-4.2-1-3.5-1.1-2-.3-1.5-.6-1.8 0-1.4-.5-2-.1-.3-.2-1 0-.3-.3-2 0-.2-.2-2 0-.2-.3-2.3 0-.3-.2-4.2-.3-.2-.3-6.8-.3-.2-.3-2.8-.3-1-1 .5-2.3-.5-2.2 1-1 1.8-.3.2-.2 3.2-.1.3-.3 5.5-.3.2-.2 5.6-.3 1.2-.5 4.5-.3 1.3-.5 2 0 2.7-.9 1.7 0 8.8-2.4 1.8-.8 1.7-.3 6.8-2.3zM519.3 62.4l0 .2.3.3.5 0 .2-.3-.5-.4z"/>
<path fill="#fff51b" d="M570 49.6l1.6-.2.7.3 1 .9.7 1.6-.5 5-1 6.2 1.5 10.5 0 1.3-1 1.7-1.7.9-1 0-4-1.9-1.7-.4-3.8-1.4-2-.4-1.5-.7-4.3-.9-3.7-1.1-2-.3-1.3-.5-2-.1-.2-.2-1 0-.2-.3-2 0-.3-.2-1 0-.3-.3-2 0-.2-.2-2 0-.2-.3-2.3 0-.3-.2-2-.1-.2-.2-2 0-.2-.3-6.8-.4-.2-.2-2.3-.3-1.2-1 .4-2.3-.4-2.2.7-.8 2-.7 6.5-.4.3-.2 2.2-.1.2-.2 3-.1.3-.2 2.3 0 1.2-.5 4.5-.3 1.3-.5 2.2 0 .2-.2 2-.3.3-.3 1.7 0 9-2.3 1.6-.7 2-.4.7-.4 6-1.9zM519.6 62.1l-.4.3.1.4 1 .1.2-.3-.3-.2z"/>
<path fill="#f3fc1e" d="M570.1 49.9l1.5-.2.7.3.9.9.6 1.3-.5 5-.5 2.2 0 1.2-.3.6 0 1.4-.2.6.2 3 .3.4 0 1.3.5 2.3 0 1.4.5 2.3 0 1.3-1 1.6-1.8.8-.7-.1-4-1.9-1.5-.3-4-1.5-.7 0-2.8-1-4.3-.8-1.2-.5-1-.1-.2-.2-.8-.1-.2-.2-2.3-.3-1.3-.5-2 0-.2-.2-1 0-.2-.3-2 0-.3-.2-1-.1-.3-.2-2 0-.2-.2-2-.1-.2-.2-2.3 0-.3-.3-2 0-.2-.2-2-.1-.2-.2-6.8-.4-.2-.2-2.3-.5-.9-1.1.4-2-.4-2 .9-1 1.7-.7 3-.1.3-.2 5.5-.4.2-.2 5.6-.3 1.2-.5 4.5-.3 1.3-.5 2.2 0 1.2-.5 1 0 .3-.2 2 0 .3-.3 1 0 1.2-.5 1-.1 1.2-.5 4-.8 1.8-.8 1.8-.2 1-.5 5.7-1.8zM521 61.6l-.2 0 0 1-1.2-.6-.5.4.2.5 1 .1.7-.3.3-.8z"/>
<path fill="#e2fe1e" d="M570.3 50.2l.3-.3 1 0 .4.3 1 1 .5 1-.2 3-.3.2 0 1.8-.2.2 0 1.5-.3.3 0 1.4-.2.3 0 1.7-.3.3 0 1.5.3.2 0 1.8.2.2 0 1.6.3.2 0 1.5.2.3 0 1.7.3.2.2 3.1-.9 1.4-1.5.8-.5 0-4-2-1.8-.3-.8-.5-1.4-.2-1.6-.8-2-.2-1.4-.8-1 0-1.3-.5-2.3-.2-.2-.3-2-.2-.2-.3-2-.2-.3-.3-1 0-1.3-.5-2 0-.2-.3-1 0-.2-.2-2 0-.3-.3-1 0-.3-.2-2 0-.2-.3-2 0-.2-.2-2.3 0-.3-.3-2 0-.2-.3-2 0-.2-.2-6.7-.4-2.1-.8-1-1.1.3-2.1-.3-1.6 1-1.1 1.2-.7 3-.2.3-.2 3-.1.3-.2 2.2 0 .2-.3 5.6-.3 1.2-.5 4.5-.2 1.3-.5 2.2 0 1.2-.5 1-.1.3-.2 2 0 .3-.3 2-.2.2-.3 2-.2.2-.3 1 0 .3-.2 1 0 1.3-.5.7 0 1.5-.8 2-.2.8-.5 1.4-.3 1.6-.7.7 0 .7-.5 1.6-.3zM520.8 61.5l-.2.8-1.3-.3-.2.4 0 .5 1.5.1.6-.4.2-1z"/>
<path fill="#d4ff1e" d="M570.3 50.2l.3-.3 1 0 .4.3 1 1 .5 1-.2 3-.3.2 0 1.8-.2.2 0 1.5-.3.3 0 1.4-.2.3 0 1.7-.3.3 0 1.5.3.2 0 1.8.2.2 0 1.6.3.2 0 1.5.2.3 0 1.7.3.3.2 3-.9 1.4-1.6.8-.4 0-4-2-1.8-.3-.8-.5-1.4-.2-1.6-.8-2-.2-1.4-.8-1 0-1.3-.5-2.3-.2-.2-.3-2-.2-1.2-.5-2.3-.3-1.3-.5-2 0-.2-.3-1 0-.2-.2-2 0-.3-.3-1 0-.3-.2-2 0-.2-.3-2 0-.2-.2-2.3-.1-.3-.2-2 0-.2-.3-2 0-.2-.2-3-.1-.6-.2-3-.2-1.6-.7-1.3-1.2.5-2.2-.3-.6-.2-.7 2-1.7 2.9-.3.3-.3 5.5-.3.2-.3 5.6-.3 1.2-.4 4.5-.3 1.3-.5 2.2 0 1.2-.5 1 0 .3-.3 2 0 .3-.2 2-.3.2-.3 2-.2.2-.3 1 0 .3-.2 1 0 1.3-.5.7 0 1.5-.8 2-.2.8-.5 1.4-.3 1.6-.7.7 0 .7-.5 1.6-.3zM521 61.4l-.7.6-1-.2-.4 1.1 1.1.2 1-.2.3-.3.2-1z"/>
<path fill="#caff1c" d="M570.4 50.2l.2-.2 1 0 .4.2 1 1 .5 1-.3 3-.2.2 0 1.8-.3.2 0 1.5-.2.3 0 1.4-.3.3 0 1.7-.2.3 0 1.5.2.2 0 1.8.3.2 0 1.6.2.2 0 1.5.3.3 0 1.7.2.3.3 3-.9 1.4-1.6.7-.4 0-4-1.9-1.8-.3-.8-.5-1.4-.3-1.6-.7-2-.3-1.4-.7-1 0-1.3-.5-2.3-.3-.2-.2-2-.3-1.2-.5-2.3-.2-1.3-.5-2-.1-.2-.2-1 0-.2-.2-2-.1-.3-.2-1 0-.3-.3-2 0-.2-.2-2 0-.2-.3-2.3 0-.3-.2-2-.1-.2-.2-2 0-.2-.3-3.3 0-.3-.3-2.7-.2-1.6-.8-1.2-1.2.2-1.6.3-.4 1.8-.1.6-.5.1-1.2-.7-.1-.8.5-.9-.4 1.6-1.2 2.3-.3.3-.3 5.5-.3.2-.2 5.6-.3 1.2-.5 4.5-.3 1.3-.5 2.2 0 1.2-.5 1 0 .3-.3 2 0 .3-.2 2-.3.2-.2 2-.3.2-.2 1 0 .3-.3 1 0 1.3-.5.7 0 1.5-.7 2-.3.8-.5 1.4-.3 1.6-.7.7 0 .7-.5 1.6-.3zM518.7 61.9l.2 0-.1.7-.2-.1-.1-.3z"/>
<path fill="#b4ff16" d="M570.4 50.2l1.2-.2.4.3.9.9.5 1-.2 3-.3.2 0 1.8-.2.2 0 1.5-.3.3 0 1.4-.2.3 0 1.7-.3.3 0 1.5.3.2 0 1.8.2.2 0 1.6.3.2 0 1.5.2.3 0 1.7.3.3.2 3-.8 1.3-1.6.8-.4 0-4-2-1.8-.3-.8-.5-1.4-.2-1.6-.8-1 0-2.4-1-1 0-1.3-.5-2.3-.2-1.2-.5-2-.3-.2-.2-2.3-.3-1.3-.5-2 0-1.4-.5-2 0-1.6-.5-2 0-.2-.3-2 0-.2-.2-2.3-.1-.3-.2-4.2-.3-.2-.2-3-.1-.6-.3-1.2-.1-1.4-.6-2.1-2 .1-1.2 1.4-.2.7-.6.3-1.2-1.1-.2 1.2-.8 1.7-.6 2.7-.2.3-.2 2.2 0 .2-.3 5.6-.3 1.2-.5 4.5-.2 1.3-.5 2.2-.1.2-.2 2-.3.3-.2 3.3-.3 1.2-.5 1 0 1.2-.5 1 0 .3-.2 1 0 1.3-.5.7 0 1.5-.8 2-.2.8-.5 1.4-.3 1.6-.7.7 0 .7-.5 1.6-.3zM522 65.3l-.1.3.1.3 1-.3-.1-.2zM529.6 64.6l-.2.6.4.1.2-.4-.2-.3z"/>
<path fill="#a0ff1d" d="M570.5 50.2l1.1-.1.4.2.9.9.5 1-.3 3-.2.2 0 1.8-.3.2 0 1.5-.2.3 0 1.4-.3.3 0 1.7-.2.3 0 1.5.2.2 0 1.8.3.2 0 1.6.2.2 0 1.5.3.3 0 1.7.2.3.3 3-.8 1.3-1.6.7-.4 0-4-2-1.8-.2-.8-.5-1.4-.3-1.6-.7-1 0-2.4-1-4.6-.8-1.2-.5-2-.3-.2-.2-2.3-.3-1.3-.4-2-.1-1.4-.4-2-.1-1.6-.5-6.6-.5-.4-.2-1.7-.1-.5-.2-5-.6-2.2-1.1 1.2-.4 0-.3-1.5-.4-.7.3-1.4-1.2 0-.8.6 0 .7-.5.5-1.4 2.2-1.3 2.1-.4.5-.2 2-.1.5-.3 5.3-.3 1.2-.5 4.5-.3 1.3-.5 2.2 0 2.5-.7 3.3-.3 1.2-.5 1 0 1.2-.5 1 0 .3-.3 3-.5 1.5-.7 2-.3.8-.5 1.4-.2 1.6-.8.7 0 .7-.5 1.6-.2zM523.6 62.4l-.4.5.4.2.5-.7zM529.6 64.4l-.5.2-.1.3.8.6.4-.3 0-.8z"/>
<path fill="#90ff2f" d="M570.5 50.2l1.1-.1.4.3.8.8.5 1-.2 3-.3.2 0 1.8-.2.2 0 1.5-.3.3 0 1.4-.2.3 0 1.7-.3.3 0 1.5.3.2 0 1.8.2.2 0 1.6.3.2 0 1.5.2.3 0 1.7.3.3.2 3-.7 1.2-1.6.8-.4 0-4-2-1.8-.3-.8-.5-1.4-.2-1.6-.8-1.9-.2-1.5-.8-4.5-.8-7.1-1.7-1.7 0-1.7-.5-1.8 0-1.8-.5-1.7-.1-.5-.2-4.2-.4-.6-.2-3.7-.5-3.3-1.1-.8-1-1.8-.5-1.4-1.3.8-.8 2.5-1.6 2.7-1.2 1.8-.3.8-.3 5-.4 1.4-.5 4.3-.3 1.5-.5 2-.1 2.7-.7 1.8 0 4.8-1.3 2.2-.2 2-.5 1.5-.7 2-.3.8-.5 1.4-.3 1.6-.7.7 0 .8-.5 1.5-.3zM523.8 62l-.7.6.2.6.5-.1.5-.7-.3-.4zM529.8 64.1l-1.1.5.2.6.9.6.6-.6.1-.8-.2-.3z"/>
<path fill="#82ff4a" d="M570.5 50.4l.8-.2.7.4.6.6.6 1.2-.8 6.2-.2.6 0 1.2-.3.5 0 1.5-.2.5 0 1.5.2.5 0 1.5.3.5 0 1.3.2.4.8 6.3-.6 1.3-1.8.9-4.2-2-1.6-.3-4-1.5-1.7-.2-1.7-.8-4.3-.8-7.3-1.7-1.7-.1-1.7-.5-1.8 0-1.8-.5-1.7-.1-6.7-1.2-5-1.8-3.3-2 .7-.4.6.2.6-.5.4-.8 1.4-.6.3.6.3.1.7-1.3 2.5-.9 2.5-.4.5-.3 1.8-.1 1.7-.5 4-.4 1.5-.5 2 0 2.8-.8 1.7 0 5-1.2 2-.3 2-.5 1.7-.8 1.8-.2 4-1.5 2.8-.8zM529.6 64.1l-1 .3-.1.5 1.1 1.2.2 0 .8-.9.1-.8-.4-.5z"/>
<path fill="#76ff70" d="M570.8 50.4l1 .2 1.2 1.8-.8 6.2-.2.6 0 1.2-.3.5 0 1.5-.2.5 0 1.5.2.5 0 1.5.3.5 0 1.3.2.4.8 6.3-.7 1.3-1.5.7-4-1.9-1.8-.3-3.7-1.5-2-.3-1.5-.7-4.5-.9-7-1.7-1.7-.1-1.8-.5-1.8-.1-1.7-.5-3.7-.5-4.6-1.2-.7-.5.7-1.6-.2-.5-.5-.3-1.7.5-.3.3 0 .8-.3 0-2.2-.7-1.6-1.1.9-.7 1.5-.4 1-.7 2.4-1 4.8-1 1.8-.7 4-.5 1.4-.5 2-.1 2.8-.8 1.5 0 9.3-2.1 1.4-.7 2-.3.8-.5 6-1.8zM545.6 67.6l-.1.3.3 0 .4-.3z"/>
<path fill="#6cff96" d="M571 50.6l1 .7.7 1.3-1.1 7.8-.2.5 0 1.5-.3.5 0 1.5.3.5 0 1.5.2.5 1 8-.5 1-.8.5-.5.2-4-1.9-1.5-.3-7.5-2.5-4.2-.9-7.3-1.9-1.5-.1-6.8-1.4-1.7-.8-2.5-.3-3.2-2.8-2 .4-.6.5-2.1-1 1.9-1 2.5-1 2.5-.3.8-.5 1.4.1.8-.7 1-.3 3.8-.6 1.7-.7 1.7-.1 3-.8 1.6-.1 9-2.2 1.7-.7 1.7-.3 6.8-2.3zM545.6 67.4l-.6.5.3.3 1 0 .3-.3-.3-.5zM531 65.4l.3-.1 1 .3.1.3-1.1 0-.5-.2z"/>
<path fill="#64ffbc" d="M570.7 51.4l.3-.2.3.2.7 1.2-1.5 10.3.3 3.7 1.2 7.8-.4 1-.6.5-3.7-1.6-1.7-.4-4-1.5-6.6-1.7.3-.3-.5-.8-.3 0 .3.8-1 0-6.5-1.7-.7-1.4-1 0-1.3.8-2.7-.5-8-1.8-.6-.6-1.5-.8-.9-.9-1.8.4-.6-.3.1-.2 2.3-1 5.4-1.5.8.3.2-.6 1.3-.1.1.4.4.3.4-.3.1-.8 1.5-.2 1.8-.5 1.7-.2 3-.8 1.5-.2 9-2.2 10.2-3.4zM539.6 64.3l-.3.7.5-.1.5-.5zM548.8 67.5l-.3.4.3.3.4-.3z"/>
<path fill="#60f8e1" d="M570.2 52.4l.6 0-.1 4-1.1 2 0 1.5-.6 1.7.3.4.5-.1.1.3-.2 2.2.5 3.5-.6 1.3.4.4-.1 1 .8.8.4 3-.3.8-1.6-.8-.2-1-2 0-1-.5-1 0-1.6-.5-.6-.9-1.8.2-.9-.3-.5-1-.8.5-3.2-.9-.8-.8-.5.1-.5.4-4.2-1.1-.4-.2.2-.5-.4-.5-.4.1-.6.7-.7-.2-.3-.6-.4-.3-2.3.3-8.3-1.8-1.7-.5-.2-.2 0-.5-.3-.2-.5.6-1.5-.5-.8-.9 2.8-1.1 3.5-1.1 1.7.2.6-.7 6-1.1 1.7-.6 1.5-.1 7.8-1.9.4.1 2.6-1.1.4.6.6.3.6-.5-.2-.8zM539.6 64.1l-.5.5-.1 1.2.7-.6 1.5-.8-.9-.4zM563.8 57.3l-.4.3.4.6.2-.1.2-.5z"/>
<path fill="#5ee7ff" d="M569.4 53.4l.6-.2.2 1.2-.2 2-.7 1.5-.1 2-.6 1.7.4 1 .1 4 .4.8-.1 1-.4.7.5.8 0 1 .5.5.2 1.5 0 1-.2.2-1-1-2-.2-3.2-1-1-.7-2.5-.4-.5-.8-1.2-.5-.6 0-.7.4-2-.5-.5-.4-1 .1-4-1-.8-.9-1 .4-.7-.2-.5-.5-1.8.1-5.4-1.4.4-.5 1.6-.3.4.1.8.8.4-.1-.2-.5-2.4-1.3-1.4.4-.6 1.3-2.3-.6-3.1-1.3 4.1-1.6 3.7-.8 1.8-.5 1.8-.2 3-.9 1.4-.1 3.6-.9.7.7.3-.1 0-.9.4-.1.6.3.7-.6 4.3-1.3.7.4.5 0 1.2-1 2.8-1 1 .8 1.2-.3.3-.1 0-.3-1 0-.4-.2 0-.3zM542.3 60.9l-.4.5 0 .2.7.2.4-.4 0-.2zM552.8 67.6l-.4.6.2.3.2.1.2-.7zM563.6 57.2l-.4.7.4.4.4.1.4-.5 0-.5z"/>
<path fill="#48b9ff" d="M569.1 54.2l.4 0 0 .2-.3 2-.4 1.2 0 2-.5 3.3.5 5.5-1 .1-.1.1.3.8 1 .5.5 3-.2.1-7.2-2.4-.1-.7-.4-.3-.3.1.2.7-.2.1-2.7-1.3-1 .2-4-1-.5-1-.6 0-.5.6-2.2-.6-.8-.5-.7.1-4-.9-.6-.2-.1-.5-.4-.5-2.6-1.5-1.6.7-.4.5-2-1 1-.6 2.2-.8 1.8-.3 1 .1 1.2-.7 4-1.1 2.2-.4.8.7-.1-.6.2-.3 1.7-.4.7.4 1-.2.6-.2.4-.7 1.7-.4.6-.1.2.7.5.1.2-.2-.6-.7.1-.1 1.8-.7 1 .1 4.2-1.7.6.6 1.4-.3.6-.4.2-.8zM544.8 62.4l-.5.4 0 .5.5-.1.3-.3-.1-.5zM550 62.6l-.4.3.2.3.8-.3 0-.3zM556.3 62.6l-.4 1-.7.8.1.4 1.3-1.2zM561.6 63.4l-.2.2.2.2.6-.4-.2-.2zM563.6 57.1l-.5.3-.1.5.6.6.4.1.5-.4.1-.8-.3-.3zM540.7 65.2l1.1-.2.5.6z"/>
<path fill="#3086ff" d="M568.2 55.2l.3 0 0 1-.3 1.2-.7 6.2.5 4.3-1.2 0 1.5 2.3.2 1 0 .7-.2.2-5.7-2-.5-.7-1.1-.7-1 .6-1.2-.5-.8 0-3.4-.8-.8-.2-.5-.7-1.3.2-2.7-.8-.7-.8-.3.5-3.7-.9-2-.9-.7-.8 0-.4.6-.6 1.8-.5-.5 1.3.2.3.6 0 .8-1.1-.4-.7 1-.4 4-.9 1 .3.5-.7 1.3-.4 1.2 0 1.3-.6 2-.5.5.3.5.1.3-.2.2-.6 1.2-.6 5-1.5.6.2 1.7-.5zM550 62.4l-1 .3-.1.5 1.1.2.9-.5-.1-.5zM552 64.3l-.2.4 1.2.6.6-.1-.1-.6-.5-.3zM556.3 62.1l-.4.5-.3 1-.7 1 .1.5.7-.2 1.2-1.3-.3-1.2zM559 67.6l-.3.3.1.4.5-.4zM560 63l0 .2.8.3.8.7.4-.2.6-.6-.6-.4-1.2.3zM563.8 56.8l-.8.2-.2.9.5.6.7.3.6-.4.2-1.2z"/>
<path fill="#1f60ff" d="M567.4 56.2l.2 0-.5 3.2-.5.4-.6 1.7-.2.2-.8.1-.2.6.2.4 1.3-.6.3.2 0 2.2.3 2.6-.5.7.9 1.5.2 1.5-.2.1-1.6-.6.3-.8-.2-.2-1 .8-1.8-.7-.2-.4-1-.5 0-.7-.5-.3-.5 0-.5.9-.3.1-.3-.2.1-.5-.5-.6-.5 0-1 .6-5.1-1.5-1.7-.8-.1-2.2.3-.2.1-.6-.3-1 2.3-.9.5.3.2-.6 4.6-1.1 2-.9 1.7-.2 1.5.9.5 0 .3-.2.5-1.3.7-.9zM551.6 64.1l-.3.3.1.5 1.6.9.6-.1.6-.5.1-.3-1.3-.9zM556.3 61.8l-.6.6-.1.9-1.3 1.6.1.3 1.2.1 1.6-1.7-.3-1.4-.3-.4zM558.6 64.4l-.6.4-.2.6.2.4 1 .1-.1-1.3zM559 61.8l-.3.6 1.1 1.1 1.5.9.2.2-.1.8.2.3.2-.1.2-1.2.7-.8.1-.4-.5-.4-1.5.1-.7-.5-.3-.6zM563.8 66.3l-.4.3-.2.6.6-.3.2-.5zM565.8 58.6l.2.6.5 0-.2-.6z"/>
</g></g>
<text x="579.6" y="39.3" style="font-family:'Liberation Sans',sans-serif;font-size:4px" fill="#3c3c3c">1.0</text>
<rect x="578.4" y="37.7" width="0.9" height="0.4" fill="#888"/>
<text x="579.6" y="52.1" style="font-family:'Liberation Sans',sans-serif;font-size:4px" fill="#3c3c3c">0.5</text>
<rect x="578.4" y="50.5" width="0.9" height="0.4" fill="#888"/>
<text x="579.6" y="65.0" style="font-family:'Liberation Sans',sans-serif;font-size:4px" fill="#3c3c3c">0.0</text>
<rect x="578.4" y="63.4" width="0.9" height="0.4" fill="#888"/>
<text x="578.7" y="77.8" style="font-family:'Liberation Sans',sans-serif;font-size:4px" fill="#3c3c3c">−0.5</text>
<rect x="578.4" y="76.2" width="0.9" height="0.4" fill="#888"/>
<text x="578.7" y="90.7" style="font-family:'Liberation Sans',sans-serif;font-size:4px" fill="#3c3c3c">−1.0</text>
<rect x="578.4" y="89.1" width="0.9" height="0.4" fill="#888"/>
<text transform="translate(589.9,63.6) rotate(-90)" text-anchor="middle" style="font-family:'Liberation Sans',sans-serif;font-size:3.8px" fill="#3c3c3c">z [AU]</text>
<text x="530.5" y="93.1" text-anchor="middle" style="font-family:'Liberation Sans',sans-serif;font-size:4.2px" fill="#3c3c3c">2</text>
<rect x="530.3" y="89.3" width="0.4" height="0.9" fill="#888"/>
<text x="548.7" y="93.1" text-anchor="middle" style="font-family:'Liberation Sans',sans-serif;font-size:4.2px" fill="#3c3c3c">3</text>
<rect x="548.5" y="89.3" width="0.4" height="0.9" fill="#888"/>
<text x="561.7" y="93.1" text-anchor="middle" style="font-family:'Liberation Sans',sans-serif;font-size:4.2px" fill="#3c3c3c">4</text>
<rect x="561.5" y="89.3" width="0.4" height="0.9" fill="#888"/>
<text x="571.7" y="93.1" text-anchor="middle" style="font-family:'Liberation Sans',sans-serif;font-size:4.2px" fill="#3c3c3c">5</text>
<rect x="571.5" y="89.3" width="0.4" height="0.9" fill="#888"/>
<text x="545.3" y="96.7" text-anchor="middle" style="font-family:'Liberation Sans',sans-serif;font-size:3.8px" fill="#3c3c3c">r [AU]</text>
<clipPath id="cp10"><rect x="45.0" y="103.9" width="66.6" height="51.4"/></clipPath>
<g clip-path="url(#cp10)"><g filter="url(#bl)">
<rect x="43.0" y="101.9" width="70.6" height="55.4" fill="rgb(104,4,10)"/>
<path fill="#68040a" d="M103.8 118.9l.2-.2 3.2 0 1 .2 1.5 1.7.3 1 .5.8 0 1.2.2.3 0 11.3-.2.2 0 1.5-1.3 2.5-1 1-.4 0-.3.2-2.5 0-.2-.2-2 0-.3-.3-1 0-.3-.2-2 0-.2-.3-1 0-.2-.2-1 0-.3-.3-2 0-.3-.2-1 0-.2-.3-2.2 0-.3-.2-2-.3-.3-.2-2.2 0-.2-.3-2-.2-.3-.3-2.3 0-1.2-.5-2.2 0-.3-.2-1 0-1.3-.5-2.2 0-.2-.3-1 0-.3-.2-2 0-.3-.3-1 0-1.2-.5-2.2 0-.3-.2-1 0-1.3-.5-2.2 0-.2-.3-1 0-.3-.2-2 0-.3-.3-1 0-.2-.2-1 0-.2-.3-2 0-.3-.2-1 0-.3-.3-2 0-.2-.2-1-.1-1.7-1.2 0-2 .5-.4 1.2-.7 1-.1 1.2-.5 2.3 0 .3-.2 1 0 .2-.3 2 0 .2-.2 1 0 .3-.3 1 0 .3-.2 2 0 .2-.3 1 0 .2-.2 1 0 .3-.3 2 0 .3-.2 1 0 .2-.3 2 0 .2-.2 1 0 .3-.3 1 0 .3-.2 2 0 .2-.3 1 0 .2-.2 2 0 .3-.3 1 0 .3-.2 1 0 .2-.3 2 0 .2-.2 1 0 .3-.3 1 0 .3-.2 2 0 .2-.3 1 0 .2-.2 2.3 0 1.3-.5 1 0 .2-.3 2.2 0 1.3-.5 2.3 0 .2-.2 2-.3.2-.2 2.3 0 .3-.3z"/>
<path fill="#980205" d="M103.9 118.9l3.3-.2 1 .3 1.4 1.6.3 1 .5.8 0 1.2.2.3 0 11.3-.2.2 0 1.5-1.3 2.5-.9.9-.7.2-2.5 0-.2-.2-2 0-1.6-.5-2 0-.2-.2-1-.1-1.5-.4-2-.1-1.5-.4-2.2-.1-.3-.2-2-.3-.3-.2-2.2 0-.2-.2-2-.3-.3-.2-2.3-.1-1.2-.4-2.2-.1-.3-.2-1 0-1.3-.5-2.2 0-1.5-.5-3.3-.3-1.2-.4-2.2-.1-.3-.2-1 0-1.3-.5-2.2 0-1.5-.5-2 0-.3-.2-1-.1-1.4-.4-2-.1-1.6-.5-2 0-.2-.2-1 0-1.6-1.2 0-2 .4-.3 1.2-.8 1 0 1.2-.5 2.3 0 1.5-.5 2 0 1.5-.5 1 0 .3-.2 2-.1 1.4-.4 1-.1.3-.2 2 0 1.5-.5 2 0 1.5-.5 1 0 .3-.2 2-.1 1.4-.4 2-.1 1.6-.4 1-.1.2-.2 2 0 1.5-.5 1 0 .3-.2 2-.1 1.4-.4 2.3-.1 1.3-.4 1-.1.2-.2 2.2 0 1.3-.5 2.3 0 .2-.2 2-.3.2-.2 2.3-.1.3-.2z"/>
<path fill="#d60000" d="M103.9 118.9l3.3-.1 1 .3.9.8.7 1.3 0 .4.5.8 0 1.2.3.3 0 11.3-.3.2 0 1.5-1.2 2.5-.9.8-.7.3-2.3 0-.4-.2-2-.1-1.6-.4-2-.1-.2-.2-1 0-1.5-.5-2 0-1.5-.5-2.2 0-2.6-.7-2.2-.1-2.5-.7-2.3 0-1.2-.5-2.2 0-2.6-.7-2.2-.1-1.5-.4-3.3-.3-1.2-.5-2.2 0-2.6-.8-2.2 0-1.5-.5-2 0-2.7-.7-1.8 0-1.8-.5-2-.1-.2-.2-1 0-1.5-1.1 0-2 .3-.2 1.2-.8 1 0 1.2-.5 2.3 0 1.5-.5 2 0 2.8-.8 2 0 1.4-.5 1 0 .3-.2 2-.1 1.7-.5 1.8 0 1.5-.4 1-.1.3-.2 2 0 1.7-.5 1.7 0 1.6-.5 1 0 .2-.2 2-.1 1.5-.4 1-.1.3-.2 2 0 1.4-.5 2.3 0 2.5-.7 2.2-.1 1.3-.4 2.3-.1 2.4-.7 2.3 0z"/>
<path fill="#ff0000" d="M104 118.9l3.2-.1 1 .3.8.8.8 1.3 0 .4.5.8 0 1.2.2.3 0 11.3-.2.2 0 1.5-1.3 2.5-.8.8-.7.2-2.3.1-.4-.3-2 0-1.6-.5-1.7 0-3-.7-1.7 0-1.8-.5-2.2-.1-2.6-.7-2.2 0-2.5-.7-2-.1-1.5-.5-2.2 0-2.6-.7-2 0-1.7-.5-2 0-2.5-.8-2.2 0-2.6-.7-2 0-1.7-.5-2 0-2.7-.8-1.8 0-1.8-.5-1.7 0-1.3-.3-1.6-1 0-1.7.2-.4 1.4-.9.8 0 1.4-.4 2.1-.1 1.7-.5 1.8 0 2.8-.7 2 0 3-.8 1.7 0 1.7-.5 1.8 0 2.8-.7 2 0 1.7-.5 1.7 0 2.8-.8 2 0 2.8-.7 2-.1 1.7-.5 2 0 2.5-.7 2.2 0 1.6-.5 2 0 2.4-.7 2.3-.1z"/>
<path fill="#ff2a00" d="M103.8 119.2l.4-.3 3 0 1 .4 1.4 1.9.5 1.2.1 1.2.2.6 0 10.7-.2.5-.1 1.5-1.2 2.5-.7.6-1 .4-2 0-.4-.3-1.8 0-1.8-.5-1.7 0-3-.7-1.7 0-1.8-.5-2 0-2.8-.8-2 0-2.7-.7-2 0-1.5-.5-2 0-2.8-.8-2 0-1.7-.5-1.7 0-2.8-.7-2 0-2.8-.8-2 0-1.7-.5-1.7 0-3-.7-1.8-.1-1.8-.5-1.7 0-1.3-.2-1.5-1.2.1-1.8 1.4-.9.8 0 1.5-.5 2 0 1.7-.5 1.8 0 3-.8 1.8 0 3-.7 1.7 0 1.7-.5 1.8 0 3-.8 1.8 0 1.7-.5 1.7 0 3-.7 1.8 0 3-.8 1.8 0 1.7-.5 2 0 2.7-.7 2 0 1.6-.5 2 0 2.7-.8 2 0z"/>
<path fill="#ff5800" d="M104 119.2l3.2-.2 1 .4 1.3 1.8.6 1.4 0 1 .2.6 0 10.7-.2.5 0 1.2-1.4 2.8-.7.6-.8.3-2 0-.4-.2-1.8-.1-1.8-.4-1.7-.1-3-.7-1.7 0-1.8-.5-2 0-2.8-.7-2-.1-2.7-.7-2 0-1.5-.5-2 0-2.8-.7-2-.1-1.7-.5-1.7 0-2.8-.7-2 0-2.8-.8-2 0-1.7-.5-1.7 0-3-.7-1.8-.1-1.8-.5-1.7 0-1.3-.3-1.4-1 .1-1.8 1.3-.7 2.3-.6 2 0 1.7-.5 1.8 0 3-.8 1.8 0 3-.7 1.7 0 1.7-.5 1.8 0 3-.8 1.8 0 1.7-.5 1.7 0 3-.7 1.8-.1 3-.7 1.8 0 1.7-.5 2 0 2.7-.7 2-.1 1.6-.4 2-.1 2.7-.7 2 0z"/>
<path fill="#ff8b00" d="M104.2 119.2l2.8-.1 1.1.3 1.4 2 .5 1.2 0 1 .2.6 0 10.7-.2.5 0 1.2-1.4 2.8-.6.6-.8.2-2 0-.4-.2-1.8 0-1.8-.5-1.7 0-3-.8-1.7 0-1.8-.5-2 0-2.8-.7-2-.1-2.7-.7-2 0-1.5-.5-2 0-2.8-.7-2-.1-1.7-.4-1.7-.1-2.8-.7-2 0-2.8-.8-2 0-1.7-.5-1.7 0-2.8-.7-1.8 0-1.7-.5-3-.4-1.5-.9 0-1.6 1.2-.8 2.6-.6 1.7 0 1.9-.5 1.6 0 3-.8 1.8 0 3-.7 1.7 0 1.7-.5 1.8-.1 3-.7 1.8 0 1.7-.5 1.7 0 3-.7 1.8-.1 3-.7 1.8 0 1.7-.5 2 0 2.7-.8 2 0 1.6-.5 2 0 2.7-.7 2 0z"/>
<path fill="#ffc400" d="M103.9 119.4l.6-.2 2.5 0 1 .3 1.3 1.9.5 1.2 0 1 .3.6 0 10.7-.3.5 0 1.2-1.4 2.8-.4.4-1 .3-1.5 0-4.3-.7-1.4 0-3.3-.8-1.5 0-2-.5-1.8 0-3-.7-1.7 0-3-.8-1.7 0-1.8-.5-1.8 0-3-.7-1.7 0-2-.6-1.5 0-3-.7-1.8 0-3-.8-1.7 0-2-.5-1.5 0-3-.7-1.8-.1-1.7-.5-3-.3-1.3-.8 0-1.5 1.3-.8 2.3-.5 2-.1 6.4-1.3 1.8 0 3-.7 5-.5 3.2-.8 5-.5 8-1.5 1.6 0 2-.5 1.7 0 3-.8 1.7 0 1.8-.5 1.8 0 3-.7 1.7 0z"/>
<path fill="#eafc1e" d="M104.3 119.4l2.7-.1 1 .4 1.2 1.7.5 1.2 0 1 .2.6 0 10.4-.2.8 0 1.2-1.5 2.8-1.2.6-1.5 0-.7-.3-1.6 0-1.7-.4-1.7-.1-3-.7-1.8 0-2-.5-1.8 0-2.7-.7-2-.1-2.7-.7-2 0-1.8-.5-1.8 0-2.7-.8-2 0-1.7-.5-1.8 0-2.8-.7-2-.1-2.7-.7-2 0-1.7-.5-1.8-.1-3-.7-1.8-.1-1.7-.5-3-.4-1-.7 0-1 .6-.6 2.7-.8 2-.1 6.4-1.3 1.8 0 3-.8 5.2-.5 3-.8 1.6 0 2-.5 1.7 0 7.7-1.5 1.8 0 1.8-.5 2 0 2.7-.7 2-.1 1.5-.4 2-.1 2.8-.7 1.7 0z"/>
<path fill="#caff1c" d="M103.9 119.6l.6-.2 2.3 0 1 .3 1.2 1.7.5 1.2.3 1.6 0 10.4-.3 2-1.3 2.6-1.2.7-3.8-.3-1.7-.4-1.7-.1-3-.7-1.8 0-2-.5-1.8 0-2.7-.7-2-.1-2.7-.7-2 0-1.8-.5-1.8 0-2.7-.8-2 0-1.7-.5-1.8 0-2.8-.8-2 0-2.7-.7-2-.1-1.7-.5-1.8 0-3-.8-1.5-.1-4.7-.9-1-.8.1-.7.6-.5 2.5-.7 5.2-.7 7.8-1.5 5.2-.6 3-.7 5.3-.6 3-.7 1.7 0 3-.8 1.8 0 1.8-.5 2 0 2.7-.7 2-.1 1.5-.4 2-.1 2.8-.7z"/>
<path fill="#b4ff16" d="M104.4 119.6l2.4 0 1 .3 1 1.5.5 1.2.3 1.8 0 10.2-.2 1.8-1.3 2.8-1.1.5-1.5 0-4-.7-1.7 0-3-.7-1.8-.1-1.8-.5-2 0-2.7-.7-2-.1-2.7-.7-1.8 0-1.8-.5-2 0-2.7-.7-1.7-.1-2-.4-1.8-.1-2.8-.7-1.8-.1-2.9-.7-1.7 0-6.8-1.4-1.5-.1-4.7-1-.6-.5 0-.5.6-.5 2.2-.6 5.2-.8 3.3-.8 1.5 0 3.2-.8 5-.5 3-.8 5.3-.5 7.7-1.5 1.8 0 2-.5 1.8 0 2.7-.8 2 0 1.5-.5 2 0 2.8-.7 2-.1z"/>
<path fill="#a0ff1d" d="M104.3 119.9l2.5-.2 1 .4 1.2 2.5.4 1.8 0 10.2-.3 1.8-1.3 2.8-1 .4-6.8-.8-6.8-1.2-1.7-.1-3-.7-1.7 0-3-.7-1.8-.1-1.8-.5-1.7 0-3-.7-1.7-.1-2-.4-1.6-.1-3-.7-1.7-.1-3-.7-1.7-.1-6.8-1.4-1.5-.2-3.3-.7-1.4-.7.2-.2 2.2-.8 5-.8 3.3-.8 1.5-.1 3.2-.8 1.6 0 6.7-1.3 5-.5 3.3-.8 1.4 0 3.3-.7 1.5-.1 2-.4 1.8-.1 3-.7 1.7 0 1.7-.5 1.8 0 3-.8 1.8 0z"/>
<path fill="#90ff2f" d="M104.3 120.2l2.5-.2.7.3 1.3 2.6.3 1.5 0 10.2-.3 1.8-1.2 2.5-.8.4-6.8-.7-3.2-.8-1.6 0-2-.5-1.7 0-3-.7-1.7-.1-3-.7-1.8 0-1.8-.5-1.7-.1-3-.7-1.7 0-2-.5-1.6-.1-2.7-.7-2-.1-3-.8-5-.7-8.3-2 4.8-1.2 1.5-.2 7.7-1.7 5-.6 6.8-1.3 1.5-.1 3.3-.7 1.4 0 3.3-.8 1.5 0 2-.5 1.8 0 3-.7 1.7-.1 1.7-.4 1.8-.1 3-.7 1.8 0z"/>
<path fill="#82ff4a" d="M104.7 120.4l1.8-.1.7.3 1.2 2.3.2 1.7 0 10-.2 1.8-1.2 2.2-.4.3-6.6-.7-3.2-.7-5.2-.6-3-.7-1.8 0-3-.7-5.2-.6-3-.7-5.3-.7-3-.7-1.7-.1-3-.8-1.8-.1-2-.6-1.5-.1-5.6-1.5 2.3-.7 9.3-2 5-.6 6.7-1.4 1.6 0 3.2-.7 1.5-.1 3.3-.7 5.2-.6 3-.7 5.2-.6 3-.7 1.6 0z"/>
<path fill="#76ff70" d="M104.8 120.9l2 .1.9 1.9.3 1.7 0 9.8-.3 2-1.2 2.1-6.3-.8-6.7-1.2-1.7-.1-3-.7-1.8 0-3-.7-1.8-.1-6.4-1.3-5.3-.6-3-.8-1.5-.1-3.2-.8-5-.8-3-.9 4.2-1.1 12.8-2.5z"/>
<path fill="#6cff96" d="M105.2 121.4l.9 0 .4.4.6 1.4.2 1.4 0 9.8-.2 1.8-.9 1.6-5.7-.6-3.5-.8-5-.5-3-.7-1.8-.1-3-.7-5.2-.6-3-.7-1.8-.1-6.4-1.3-1.8-.2-3-.8-1.8-.1-4.2-1 6.8-1.5 5-.7 3.2-.8z"/>
<path fill="#64ffbc" d="M104.5 122.2l1-.2.4.2.7 2.7 0 9.3-.3 2-.5 1-5.3-.6-6.7-1.2-1.8-.1-11.2-2-1.8-.1-3-.7-1.5-.1-6.7-1.3-1.6-.1-6.2-1.4 4-.9 8.2-1.5z"/>
<path fill="#60f8e1" d="M104.9 122.6l.4 0 .6 2.3 0 9.3-.2 1.7-.5.6-4.4-.5-6.8-1.2-1.8 0-7.7-1.5-1.7-.1-6.6-1.2-1.7-.2-2-.5-1.5 0-3.8-.9-2-.2-1.7-.8 21.7-3.8 5-.6 3.3-.7 1.5-.1z"/>
<path fill="#5ee7ff" d="M104.1 123.4l.8 0 .3 2 0 2.2-.3.8.3.8 0 1-1.3.7.8.7.5 1 0 1.6-.4 1.6-.6-.3-1 .1 0-.7-.4 0-.8.5-1-.8-.2.8-5.8-.9-.8-.4-1.4.1-.3-.6-.3 0-1 .3-12-1.8-1.7-.4-3-1.4-1.7-.2-.8.6-.8 0-5.4-1.1 14.7-2.6 2.7-.4.8.1 1.2-.5 5.3-.7 3-.6 2.7-.3 1 .2 1-.5.8.1.8-.4 2.2-.4 1.2.3-.4.7.4 1 .3-.1.4-1.1-.4-.8zM74.1 130.9l.7-.2.5.5-.8 0-.4 0z"/>
<path fill="#48b9ff" d="M101.3 124.4l.9-.1.8 1.6.2.2 1.1-.7 0 4.8-.8.7.8 1 0 2-.3.6-2 .2-1.5-.7-.5-.5-.3.1.2.8-.1.1-1.3-.2-.7-.5-.6.3-1 0-1.7-.7-1.3.2-.7-.3-1 0-3.7-.5-3-.6-2.3-.3-.5-.4-2.5 0-6-1.8-1.7.4-2.4-.5 6.6-1.2 1.2-.1.3.1 0 .5.5.2.5-.5 0-.5 1.3-.4 4.4-.6 1.3-.4 1 0 .3.4.2 0 .2-.5.6-.1 5.7-1 .5.2 4.5-.8 1 .3.5-.5zM102.8 126.6l-.5.8.2.5.5-.3.3-.7-.3-.5z"/>
<path fill="#3086ff" d="M100.8 125.4l1.4-.2.3.2-.1 1-.5 1.2.3.7.9-.1 0 4.2-.1.1-.1-.3-.4-.2-.3.4.3.6.5-.1.1.3-.1.8-2-.1-1-.7-.8.5-2.2-.4-.1-.1.4-.6-.1-.3-1.4.9-8-1.1-1-.2-.2-.3.2-.7-.6-.4-1.2 0-.1.1.9.2.3.6-.1.3-6.5-.9-5.3-1.2.3-.2 2.3-.4 1 .5 1-.8 1.2-.3 13-2.1.8.5.4-.6 3.3-.5.5.1.2.5.8-.6.8.1zM83.8 128l-.6.5-1.2.4 1.2.3.4 0 .4-.6zM89.5 128.1l-.3.5 0 .8-1 1.2 0 .5.6-.1 1-1.4 0-1.4zM95 129l-.6.6.4.4.9-.6-.2-.5zM98.2 128.1l0 .5.6-.2-.1-.2z"/>
<path fill="#1f60ff" d="M100.5 126.6l1 .1.1.2-.3.7.3 1-.1 4-3.7-.2-.6-.4-1 .4-1.2-.2-.1-.3.5-.5-.4-.7-.6.7-.2.7-1.2-.1-.8-.6-.1-.8-.3-.1-1 1.1-1.8-.3.2-.7 1-1-.2-1 .2-.9 2.8-.4.8 0 .4-.2 5-.4 0 .9-1 .1-.3.5-.1.4.7.3 1.6-1zM92.5 127.5l-.6.7.8.4.3.8 1 .4.8.7 1.3-1.1-.2-.5-.4-.2-1.5.3-1-.6 0-.8zM88.4 127.9l.8-.2-.3.7.1 1-1.5 1.7-1.3-.9-1.2-.1-.8.5-1-.1-5-.9 3.3-.6.5.3 1.2.2.8-.3.5-.7z"/>
</g></g>
<text x="112.8" y="105.3" style="font-family:'Liberation Sans',sans-serif;font-size:4px" fill="#3c3c3c">1.0</text>
<rect x="111.6" y="103.7" width="0.9" height="0.4" fill="#888"/>
<text x="112.8" y="118.2" style="font-family:'Liberation Sans',sans-serif;font-size:4px" fill="#3c3c3c">0.5</text>
<rect x="111.6" y="116.5" width="0.9" height="0.4" fill="#888"/>
<text x="112.8" y="131.0" style="font-family:'Liberation Sans',sans-serif;font-size:4px" fill="#3c3c3c">0.0</text>
<rect x="111.6" y="129.4" width="0.9" height="0.4" fill="#888"/>
<text x="111.9" y="143.8" style="font-family:'Liberation Sans',sans-serif;font-size:4px" fill="#3c3c3c">−0.5</text>
<rect x="111.6" y="142.2" width="0.9" height="0.4" fill="#888"/>
<text x="111.9" y="156.7" style="font-family:'Liberation Sans',sans-serif;font-size:4px" fill="#3c3c3c">−1.0</text>
<rect x="111.6" y="155.1" width="0.9" height="0.4" fill="#888"/>
<text transform="translate(123.1,129.6) rotate(-90)" text-anchor="middle" style="font-family:'Liberation Sans',sans-serif;font-size:3.8px" fill="#3c3c3c">z [AU]</text>
<text x="63.7" y="159.1" text-anchor="middle" style="font-family:'Liberation Sans',sans-serif;font-size:4.2px" fill="#3c3c3c">2</text>
<rect x="63.5" y="155.3" width="0.4" height="0.9" fill="#888"/>
<text x="81.9" y="159.1" text-anchor="middle" style="font-family:'Liberation Sans',sans-serif;font-size:4.2px" fill="#3c3c3c">3</text>
<rect x="81.7" y="155.3" width="0.4" height="0.9" fill="#888"/>
<text x="94.9" y="159.1" text-anchor="middle" style="font-family:'Liberation Sans',sans-serif;font-size:4.2px" fill="#3c3c3c">4</text>
<rect x="94.7" y="155.3" width="0.4" height="0.9" fill="#888"/>
<text x="104.9" y="159.1" text-anchor="middle" style="font-family:'Liberation Sans',sans-serif;font-size:4.2px" fill="#3c3c3c">5</text>
<rect x="104.7" y="155.3" width="0.4" height="0.9" fill="#888"/>
<text x="78.5" y="162.7" text-anchor="middle" style="font-family:'Liberation Sans',sans-serif;font-size:3.8px" fill="#3c3c3c">r [AU]</text>
<clipPath id="cp11"><rect x="138.3" y="103.9" width="66.6" height="51.4"/></clipPath>
<g clip-path="url(#cp11)"><g filter="url(#bl)">
<rect x="136.3" y="101.9" width="70.6" height="55.4" fill="rgb(104,4,10)"/>
<path fill="#68040a" d="M142 102.2l.1-.3 64.7 0 0 55.3-64.8 0-5.7-24.6 0-6z"/>
<path fill="#68040a" d="M143.5 102.2l.1-.3 63.2 0 0 55.3-63.3 0-6.4-27.6z"/>
<path fill="#68040a" d="M144.8 101.9l62 0 0 55.3-62 0-6.5-27.6z"/>
<path fill="#6d040a" d="M145.9 101.9l60.9 0 0 55.3-61 0-6.4-27.6z"/>
<path fill="#800308" d="M146.9 101.9l59.9 0 0 55.3-59.9 0-6.5-27.6z"/>
<path fill="#930206" d="M147.9 101.9l58.9 0 0 55.3-59 0-6-26-1-.8-.2-.8.2-1 1-.7z"/>
<path fill="#a60104" d="M148.8 101.9l58 0 0 55.3-58 0-6.1-26-1.1-.1-.7-.7-.3-.8 0-.4.7-1 .5-.3.9 0z"/>
<path fill="#ba0102" d="M149.7 101.9l57.1 0 0 55.3-57.1 0-6-25.8-2.1-.3-.7-.7-.3-.8 0-.4.7-1 .5-.2 1.9-.1z"/>
<path fill="#cb0000" d="M150.6 101.9l56.2 0 0 55.3-56.2 0-5.9-25.6-1.7-.3-.2-.2-1.2-.1-.7-.6-.2-.8.2-1 .9-.6 2-.1.2-.2.7-.1z"/>
<path fill="#d60000" d="M151.5 101.9l55.3 0 0 55.3-55.3 0-5.8-25.6-1.7 0-1.2-.5-1.2-.1-.6-.6-.3-.8.3-1 .8-.6 2 0 .2-.3 1.7-.3z"/>
<path fill="#e10000" d="M152.4 101.9l54.4 0 0 55.3-54.4 0-5.7-25.3-.4-.3-2.3 0-1.2-.6-1.2 0-.6-.6-.3-.8.3-1 .8-.5 2-.1 1.5-.6 1.4 0z"/>
<path fill="#ec0000" d="M153.4 101.9l53.4 0 0 55.3-53.5 0-5.4-25-.3-.3-1 0-.3-.3-2.3-.1-1.2-.5-1.2-.1-.6-.5-.2-.8.2-1 .8-.5 2-.1 1.5-.5 2.3-.1.2-.2z"/>
<path fill="#f70000" d="M154.4 101.9l52.4 0 0 55.3-52.5 0-5.2-25-1.3-.1-.2-.2-1-.1-.3-.2-2.3-.1-1.2-.5-1.2-.1-.6-.5-.2-.8.2-1 .8-.5 2-.1 1.5-.5 2.3-.1.2-.2 1 0 .3-.3z"/>
<path fill="#ff0300" d="M155.5 101.9l51.3 0 0 55.3-51.4 0-5-24.8-.4-.3-2.2 0-1.5-.5-2-.1-1.5-.5-1.2-.1-.5-.5-.3-.8.3-1 .7-.4 2-.1 1.5-.6 2.3 0 .2-.3 1 0 .2-.3 1.4 0z"/>
<path fill="#ff0e00" d="M156.7 101.9l50.1 0 0 55.3-50.1 0-3-17-1.7-7.6-1.7-.2-.3-.3-2.2-.1-1.5-.5-2 0-1.5-.6-1 0-.6-.5-.3-.8.3-1 .8-.4 1.8-.1 1.5-.5 2.3-.1 1.4-.5 2-.1.3-.2.6-.1 1.8-7.7z"/>
<path fill="#ff1900" d="M158.3 102.2l0-.3 48.5 0 0 55.3-48.5 0-.7-6.7-.8-10.4-.9-3.2-1.7-4-1.6 0-.3-.3-1 0-1.3-.5-2.2-.1-1.5-.5-2-.1-1.5-.5-1 0-.6-.5-.3-.8.3-1 .8-.4 1.8-.1 1.8-.5 2-.1 1.4-.5 2-.1.3-.2 1 0 .3-.3 1.6-.2 1.7-3.8.9-3.5.8-10.2z"/>
<path fill="#ff2400" d="M161.6 101.9l45.2 0 0 55.3-45.2 0-.1-10-.5-5-.9-3.6-2.4-4.2-.8-1-.6 0-.3-.3-1 0-.2-.2-2.2-.1-.3-.2-1 0-1.3-.5-2.2-.1-1.5-.5-2-.1-1.5-.5-1-.1-.5-.4-.3-.8.3-1 .7-.4 1.8-.1 1.8-.5 2-.1 1.4-.5 2 0 1.6-.5 1-.1.2-.2 2.2 0 1-.5 2.6-4.1 1.4-4.2.4-5z"/>
<path fill="#ff3000" d="M165 101.9l41.8 0 0 55.3-41.8 0-.1-9.3-.4-4.7-1-3.3-2.4-4-2-2.3-.5 0-.3-.2-2 0-.3-.3-1 0-.2-.3-2.2 0-.3-.2-1-.1-1.3-.5-2 0-1.7-.6-2 0-1.5-.6-1 0-.4-.4-.4-1 .4-.8.6-.3 1.8-.1 1.8-.6 2 0 1.4-.5 2-.1 1.6-.5 1 0 .2-.3 2.2 0 .3-.3 2.8-.3.2-.1 3-3.8 1.2-2.3.8-2.5.6-5z"/>
<path fill="#ff3b00" d="M168.1 101.9l38.7 0 0 55.3-38.7 0-.1-9.6-.7-5-1.7-3.8-1-1.4-2.9-3-.7-.5-1.2 0-.2-.3-1 0-.3-.2-2-.1-1.5-.5-2.2 0-2.6-.8-2 0-1.7-.6-2-.1-1.5-.5-1-.1-.4-.3-.3-1 .3-.8.6-.3 1.8-.1 1.8-.5 2-.1 1.7-.5 1.7-.1 1.6-.5 1 0 .2-.2 2.2-.1.3-.2 1 0 .3-.3 2 0 .2-.3 1 0 1.8-1.5 3-3.5 1-1.8.8-2.4.6-4.8z"/>
<path fill="#ff4800" d="M171.1 101.9l35.7 0 0 55.3-35.7 0-.2-9-.7-4.8-1-2.5-1-1.7-3.4-3.5-1.8-1.4-1-.4-2.2-.1-.2-.2-1 0-.3-.3-2 0-1.5-.5-2.2-.1-2.6-.7-2-.1-1.7-.5-2-.1-1.5-.5-1-.1-.3-.3-.4-1 .4-.8.5-.3 1.8 0 1.8-.6 2-.1 1.7-.5 1.7 0 1.6-.5 1-.1.2-.2 2.2-.1 1.6-.5 2 0 .2-.2 1-.1.2-.2 1.9 0 3.1-2.8 3-3.7 1.3-3.3.6-4.8z"/>
<path fill="#ff5500" d="M174 101.9l32.8 0 0 55.3-32.8 0-.2-8.6-.7-4.4-.7-2-1-1.8-3.1-3.2-3.7-2.8-1 0-.3-.3-1 0-.3-.2-2.2-.1-1.5-.5-2 0-1.5-.5-2.2-.1-2.6-.8-2 0-1.7-.6-2 0-1.5-.6-1 0-.2-.3-.4-1 .4-.7.4-.3 1.8-.1 1.8-.6 2 0 1.7-.6 1.7 0 2.8-.8 2.2 0 1.6-.5 2-.1 1.4-.5 2.3 0 .3-.3.7 0 2-1.2 3.3-2.7 2.5-3.4 1.1-3 .6-4.4z"/>
<path fill="#ff6200" d="M176.9 101.9l29.9 0 0 55.3-29.9 0-.2-8-.7-4.6-1.2-2.7-3-3.5-3.2-2.4-1.6-.8-.4-.4-.8-.2-.2-.2-2-.1-.3-.2-1 0-.3-.3-2.2 0-1.5-.5-2-.1-1.5-.5-2.2 0-2.6-.8-2 0-1.7-.6-2-.1-1.3-.5-1.2-.1-.3-.4-.3-.8.4-.6.4-.3 1.8-.2 1.8-.5 2-.1 1.7-.5 1.7-.1 2.8-.7 2.2-.1 1.6-.5 2 0 1.4-.5 2.3-.1 1.3-.5 1.7-.1 1.7-1.3 1.8-.9 3-2.5 1.1-1.3 1.9-3.4.9-4.8z"/>
<path fill="#ff6e00" d="M180 101.9l26.8 0 0 55.3-26.8 0-.3-8.3-.4-2.7-.6-2-.8-1.6-1.6-2-1-1-3.3-2.4-3.9-2.3-1.1 0-.2-.3-1 0-.2-.2-2-.1-1.6-.5-2.2-.1-1.5-.5-2 0-1.5-.5-2 0-2.8-.8-2-.1-1.7-.5-2-.1-2.5-.7-.3-.3-.2-.8.3-.5.7-.4 1.5-.1 1.8-.6 2-.1 1.7-.5 1.7-.1 3-.7 2-.1 1.6-.4 2-.1 1.4-.5 2.3-.1 1.3-.5 2.2 0 .2-.3 1 0 .3-.4 1.7-.7 1.6-1.2 1.4-.8 3.6-2.9 1.3-2 1-2 .8-4.2z"/>
<path fill="#ff7c00" d="M183.2 101.9l23.6 0 0 55.3-23.6 0-.3-7.8-.9-4.5-2.2-3.3-1-1-3.2-2.4-6.3-3.3-2.3-.1-.2-.2-1 0-.2-.3-2 0-1.6-.5-2.2-.1-1.5-.5-1.7 0-1.8-.5-2 0-2.8-.9-2 0-1.7-.6-1.8 0-2.7-.8-.4-.8.2-.7.4-.3 1.8-.2 1.8-.5 2-.1 1.7-.6 1.7 0 3-.8 2 0 1.8-.6 1.8 0 1.4-.5 2.3 0 1.3-.5 2.2-.1.2-.2 1-.1.3-.2 1.5 0 7-4 3.2-2.8 1.1-1.5 1.1-2.3.8-4.2z"/>
<path fill="#ff8b00" d="M187 101.9l19.8 0 0 55.3-19.8 0-.4-7.3-.4-2.3-.6-2-1-1.7-2-2.4-3.6-2.5-7.4-3.6-2-.3-.3-.2-2.3-.1-1.4-.5-2-.1-1.6-.5-2 0-1.7-.5-1.7 0-1.8-.6-2 0-2.8-.8-2-.1-1.7-.5-1.7-.1-2.7-.7-.5-.8.3-.7.6-.3 1.5-.1 1.9-.6 1.9-.1 1.7-.5 1.7-.1 3-.8 2 0 1.8-.5 1.8-.1 1.7-.5 2 0 1.3-.5 2.2-.1 1.5-.5 2.3 0 3-1.2 6.7-3.6 3.3-2.7 1.1-1.5 1.1-2.3.9-4z"/>
<path fill="#ff9a00" d="M191.9 101.9l14.9 0 0 55.3-14.9 0-.2-4.3-.4-3-.8-2.5-1.2-2.2-3.3-3.3-3.2-2.1-6.8-3.2-3.2-1.2-2-.1-.2-.2-1 0-.3-.3-2.3 0-1.4-.5-2-.1-1.6-.5-2 0-1.7-.5-1.7-.1-1.8-.5-2 0-2.8-.8-2-.1-1.7-.6-1.7-.1-1.6-.5-1-.1-.2-.2-.3-.8.3-.5.5-.3 1.5-.1 2-.6 1.8 0 1.7-.6 1.7 0 3-.8 2-.1 1.8-.5 1.8 0 1.7-.5 2-.1 1.3-.5 2.2 0 1.5-.5 2.3-.1 1.2-.5 1.8-.1 2-1 1.7-.5 1.5-.9 1.8-.6 3.1-1.7 3.6-2.7 1.6-1.8 1.3-2 .8-2 .5-2.2z"/>
<path fill="#ffa900" d="M199.1 112.6l4.7-.1 3 .5 0 33.1-5 .8-2-.1-2.8-.6-1.2-.5-6-3.6-3.5-1.9-1.7-.6-1.6-.9-1.7-.5-1.7-.9-1.6-.4-1.7-.9-2-.1-.3-.3-1 0-.2-.2-2-.1-1.5-.5-2.3-.1-1.4-.5-1.8 0-1.8-.5-2-.1-1.7-.5-1.7 0-1.8-.5-2-.1-2.8-.8-1.8-.1-1.9-.5-1.7-.1-2.6-.7-.4-.7.2-.5.5-.4 1.7-.1 1.8-.6 1.8-.1 1.7-.5 1.7-.1 3-.8 2 0 1.8-.5 1.8-.1 1.7-.5 2 0 1.5-.6 2 0 1.5-.5 2.3-.1 1.2-.5 2.2 0 .3-.3 1 0 8.7-3.3 3.6-1.7 8.4-5 1.6-.6z"/>
<path fill="#ffb900" d="M199.7 115.9l4.1-.1 2 .4 1 .4 0 26.1-.8.2-4.2.7-5-.6-5-1.6-5.2-2.3-1.8-.4-1.5-.8-1.7-.4-1.8-.8-1.8-.3-.2-.3-1 0-.2-.2-2.3-.1-1.5-.5-2 0-1.5-.5-2.3-.1-1.4-.5-1.8 0-1.8-.6-2 0-1.7-.5-1.7-.1-1.8-.5-2 0-2.8-.8-1.7-.1-2-.6-1.7-.1-2.6-.7-.3-.6.2-.4.4-.4 1.7-.2 1.8-.5 1.8-.1 1.9-.6 1.5 0 3-.8 2-.1 1.8-.5 1.8 0 1.7-.6 2 0 1.5-.5 2-.1 1.5-.5 2.3 0 1.2-.5 2.2-.1.3-.2 1-.1.3-.2 2.2 0 1.2-.7 1.8-.3 5.2-2.1 1.8-.5 5.2-2.2 4.8-1.3z"/>
<path fill="#ffc903" d="M200 117.4l3.6-.1 1.7.3 1.5.7 0 22.7-1.2.5-3.8.5-4.8-.5-3.2-1-1.8-.3-1.7-.7-1.7-.4-1.8-.8-1.8-.3-1.4-.7-2-.4-.3-.3-1 0-.3-.2-2 0-.2-.3-1 0-.2-.3-2.3 0-1.5-.5-2-.1-1.5-.5-2 0-1.7-.5-1.8-.1-1.8-.5-2-.1-1.7-.5-1.7 0-1.8-.5-2-.1-2.8-.8-1.7-.1-1.7-.5-2-.2-2.5-.6-.2-.6.4-.7 1.7-.2 1.8-.6 2-.1 1.8-.5 1.7-.1 2.7-.8 2 0 1.8-.6 1.8 0 1.7-.5 2-.1 1.5-.5 2 0 1.8-.6 2 0 1.2-.5 2.2-.1 1.6-.5 2.2 0 1.2-.5 2.3 0 1.5-.8 1.5-.2 1.7-.8 2-.4 5.3-1.8 4.7-1.1z"/>
<path fill="#ffdf0f" d="M200.2 118.4l3.4-.1 1.4.3 1.8 1 0 20.1-1.5.8-4.5.5-2.2-.5-1.6 0-3-.9-2-.3-1.4-.6-1.8-.2-1.8-.8-2-.3-1.2-.5-2.2 0-.3-.3-1 0-.3-.3-2 0-1.4-.5-2.3 0-1.5-.5-2-.1-1.5-.5-2 0-1.7-.6-1.8 0-1.8-.5-2-.1-1.7-.5-1.7-.1-1.8-.5-1.8 0-3-.8-1.7-.1-1.7-.6-2-.1-2.3-.7-.3-.5.1-.4.5-.3 1.4-.1 1.8-.6 2-.1 1.8-.6 1.4 0 3.1-.9 1.9 0 1.8-.5 1.8-.1 1.7-.5 2 0 1.5-.6 2 0 1.8-.5 2-.1 1.2-.5 2.2 0 1.6-.5 2.2-.1 1.2-.5 2.3 0 .3-.3 1 0 .2-.2 2 0 1.5-.7 1.7-.3 1.8-.7 1.8-.3 1.7-.6 1.7-.2 3.3-.8z"/>
<path fill="#fff51b" d="M200.4 119.2l2.9-.2 1.5.3 2 1.1 0 18.5-1.5.8-3.5.6-1.2-.1-1.8-.4-1.5 0-3.3-.9-1.7-.2-1.5-.6-3.2-.5-.3-.2-2.3 0-1.2-.5-2.2-.1-1.6-.5-2 0-1.4-.5-2.3-.1-1.5-.5-1.8 0-1.7-.5-2-.1-1.7-.5-1.8-.1-1.8-.5-2 0-1.7-.6-1.6 0-1.9-.5-1.8-.1-2.7-.8-2-.1-1.7-.5-2-.2-2.3-.7-.2-.4.2-.4.3-.2 1.4-.1 1.8-.6 2-.2 1.8-.5 1.7-.1 3-.8 1.7 0 1.8-.6 1.8 0 1.7-.5 2-.1 1.5-.5 2-.1 1.8-.5 2 0 1.4-.6 2 0 1.6-.5 2.2 0 1.2-.5 2.3-.1 1.5-.5 2 0 .2-.3 1 0 .3-.2 2.3 0 .2-.3 3-.5 1.8-.7 1.7-.1 3-.8z"/>
<path fill="#f3fc1e" d="M200.8 119.6l2.5 0 .3.3 1 0 2.2 1.5 0 16.5-1.7 1.3-1.1 0-.2.2-3 .3-1.5-.5-2 0-.3-.3-1 0-.2-.3-1 0-.2-.2-2.3 0-1.3-.5-2.2 0-.2-.3-1 0-.3-.3-2.3 0-1.2-.5-2.2 0-1.6-.5-2-.1-1.4-.5-2 0-1.8-.5-1.8 0-1.7-.6-2 0-1.7-.6-1.8 0-1.8-.5-2-.1-1.4-.5-1.8 0-2-.6-1.8 0-2.7-.8-2-.2-1.7-.5-1.8-.2-2.3-.7-.2-.3.3-.5 1.4-.1 2-.7 1.8-.1 1.8-.6 1.7-.1 3-.7 1.7-.1 5.3-1.1 2 0 1.5-.6 2 0 1.8-.6 2 0 1.4-.5 2-.1 1.6-.4 2.2-.1 1.2-.5 2.3 0 1.5-.5 2-.1 1.5-.5 2.3 0 .2-.3 1 0 .2-.2 2 0 .3-.3 1 0 .3-.2 2.2 0 .2-.3 1 0 .3-.3 1 0 .3-.2 2 0z"/>
<path fill="#e2fe1e" d="M200.6 119.9l.2-.2 2.2 0 .6.2 1 0 2.2 1.5 0 16.5-1.8 1.2-1 0-.2.3-3 .2-.2-.2-1 0-.3-.3-2 0-.3-.2-1 0-.2-.3-1 0-.2-.2-2.3-.1-1.3-.5-2.2 0-1.5-.5-2.3 0-1.2-.5-2.2-.1-1.6-.5-2 0-1.4-.5-2 0-1.8-.5-1.8-.1-1.7-.5-2-.1-1.7-.5-1.8-.1-1.8-.5-1.7 0-5.5-1.2-1.8 0-2.7-.8-2-.2-1.7-.5-1.8-.2-2.4-.9.2-.3 1.4-.2 2-.7 1.8-.1 1.8-.6 1.7-.1 3-.8 1.7 0 5.5-1.2 1.8 0 1.5-.5 2-.1 1.8-.5 2-.1 1.4-.5 2 0 1.8-.6 2 0 1.2-.5 2.3 0 1.5-.5 2 0 1.5-.5 2.3-.1 1.4-.5 2 0 .3-.2 1-.1.3-.2 2.2 0 .2-.3 2.3-.2.3-.3z"/>
<path fill="#d4ff1e" d="M200.6 119.9l.2-.2 2.2 0 .6.3 1 0 2.2 1.5 0 16.3-1.8 1.3-1 0-.2.2-3 .3-1.5-.5-2 0-.3-.3-1 0-1.4-.5-2.3 0-1.3-.5-2.2 0-1.5-.5-2.3-.1-1.2-.5-2 0-1.8-.5-2 0-1.4-.5-2 0-1.8-.6-1.8 0-1.7-.6-2 0-1.7-.6-1.7 0-1.9-.5-1.7-.1-5.3-1.1-2-.1-2.7-.8-1.7-.1-2-.6-1.8-.2-2.2-.8 0-.2 1.4-.2 2-.7 5.3-.8 3-.8 2-.1 5.3-1.1 2-.1 1.2-.5 2 0 1.8-.6 2 0 1.4-.5 2-.1 1.8-.5 2 0 1.5-.6 2 0 1.5-.5 2 0 1.5-.5 2.3 0 1.4-.5 2-.1 1.6-.5 2.2 0 .2-.2 2.3-.3.3-.2z"/>
<path fill="#caff1c" d="M200.7 119.9l2.3-.1.6.2 1 0 2.2 1.5 0 16.3-1.8 1.2-1 0-.2.3-3 .2-1.5-.5-2 0-.3-.2-1 0-1.4-.5-2.3 0-1.3-.5-2.2-.1-1.5-.5-2.3 0-1.2-.5-2 0-1.8-.5-1.8 0-1.6-.6-2 0-1.8-.5-1.8-.1-1.7-.5-2-.1-5.3-1.1-1.7 0-5.3-1.2-2-.1-2.7-.8-1.7-.1-2-.6-1.8-.2-1.5-.7 2.7-1 1.8-.1 2-.6 1.5-.1 3-.8 2-.1 5.3-1.1 1.7-.1 1.7-.5 1.8-.1 1.8-.5 2-.1 1.4-.5 2 0 1.8-.6 2 0 1.5-.5 2 0 1.7-.6 1.8 0 1.5-.5 2.3 0 1.4-.5 2 0 1.6-.5 2.2 0 .2-.3 2.3-.2.3-.3z"/>
<path fill="#b4ff16" d="M200.8 119.9l2.2 0 .6.2 1 0 2.2 1.5 0 16.1-1.8 1.2-1 0-.2.3-2.8.2-1.7-.5-2 0-2.7-.7-2 0-1.6-.5-2 0-1.7-.5-2-.1-1.5-.5-2 0-1.8-.5-1.7-.1-1.7-.5-2 0-1.8-.6-1.6 0-1.9-.6-1.7 0-5.3-1.1-2-.1-5.3-1.2-1.7-.1-8.9-2.2 5.4-1.4 1.5-.2 3.3-.8 1.7-.1 1.7-.5 1.8-.1 1.8-.6 2-.1 1.4-.5 1.8 0 2-.6 2-.1 1.3-.4 1.9-.1 1.8-.5 2-.1 1.5-.5 2 0 1.7-.5 1.8-.1 1.8-.5 2 0 1.6-.5 1.8 0 1.8-.5 2 0 2.8-.8 2 0z"/>
<path fill="#a0ff1d" d="M200.8 120.2l2-.2 1.5.2 2.5 1.5 0 6.3-.4.2 0 .2.4.2 0 9-2 1.2-1.2.3-2.6.2-1.7-.5-1.7 0-3-.7-2-.1-1.6-.5-2 0-1.7-.5-2 0-1.5-.5-2-.1-5.2-1-1.8-.1-1.8-.5-1.7-.1-1.7-.5-2-.1-1.8-.5-5.2-.8-2-.5-1.6-.1-2-.6-1.7-.1-6.9-1.9 0-.2 8.2-1.9 1.7-.1 5.5-1.2 1.8-.1 1.4-.5 2-.2 1.8-.5 2-.1 1.5-.5 1.7-.1 2-.5 1.8 0 1.6-.5 1.9-.1 1.7-.5 1.8 0 1.8-.5 2-.1 1.7-.5 1.7 0 1.8-.5 2 0 3-.8z"/>
<path fill="#90ff2f" d="M201 120.2l1.8-.1 1.5.3 2.5 1.5 0 5.9-.8.4.1.2.7.4 0 8.6-2 1.3-1.2.2-2.6.3-1.7-.5-1.7 0-3-.8-1.9 0-1.7-.5-1.7 0-2-.5-1.7-.1-1.8-.5-1.8 0-1.7-.5-1.7-.1-1.8-.5-2-.1-1.8-.5-5.2-.7-2-.6-5.2-.8-5.6-1.3-1.4-.1-5.6-1.5 6.8-1.7 1.5-.1 2-.6 1.5-.1 2-.6 1.8-.1 1.7-.6 1.7-.1 1.9-.5 1.9-.2 1.5-.5 1.7-.1 2-.5 2-.1 1.6-.5 1.7 0 2-.5 1.5-.1 2-.5 1.8 0 5.3-1 1.9-.1 3-.7 1.8 0zM205.6 130.1l0 .5.6-.2-.2-.3z"/>
<path fill="#82ff4a" d="M201.1 120.4l1.7 0 1.4.2 2.1 1.6.5 0 0 5.2-.2.2-.8 0-.5.6.7.7.8.3 0 .7-.5-.3-1.3 0-.2 2 .2.8.6.2.4-.4 0-1 .8-.6 0 6.6-.5 0-1.7 1.2-1.3.3-1.5 0-.5.2-1.7-.4-1.8 0-3-.8-2 0-1.5-.5-2 0-1.7-.5-2-.1-1.6-.5-2-.1-5.2-1.1-1.8 0-5.4-1.3-1.8-.1-5.5-1.3-1.5-.1-5.5-1.3-1.7-.2-3.1-1 .3-.2 4-1 1.8-.2 5.4-1.3 1.8-.2 1.5-.5 1.7-.1 2-.6 1.8-.2 1.8-.5 1.7-.1 2-.6 1.7 0 1.6-.5 2-.1 1.7-.5 1.7-.1 1.8-.5 2 0 1.8-.5 1.7-.1 1.7-.5 2 0 3-.7zM204.6 126.6l-.2.8.6.5.3-.3 0-.4-.3-.6z"/>
<path fill="#76ff70" d="M198.8 121.2l2.8-.2 1 .4.9 1.2.6 2.6.2 5.4-.5 4.9-.8 1.9-1.7.9-3.3-.2-3.2-.7-1.8 0-1.7-.5-1.7 0-2-.5-1.8-.1-1.8-.5-1.7-.1-2-.5-1.5-.1-2-.5-1.8-.1-22.8-4.9 2.8-.7 1.6-.2 5.4-1.3 1.8-.2 1.8-.6 1.4-.1 2.3-.6 1.5-.1 1.8-.6 1.7-.1 2-.6 1.7-.1 1.8-.5 1.8-.1 5.4-1.1 1.8 0 2-.5 1.5-.1 1.9-.5 1.8 0zM203 126.4l-.4.5.2.8.6-.8z"/>
<path fill="#6cff96" d="M198 121.9l1.6-.1 2.4.9.7.9.6 2 0 .4-.7.4-.2.8.1 1.7 1.2.5 0 .2-.4 4.1-.4 1.5-.6.9-1 .8-.7.3-2.6.2-3.2-.5-1.8 0-1.7-.4-1.7-.1-2-.5-1.8-.1-1.8-.5-1.4 0-5.8-1.2-1.5-.1-20.2-4.4.1-.2 8.6-1.6 5.5-1.3 1.7-.2 1.8-.6 5.5-.8 1.7-.5 1.6-.1 2-.5 1.4-.1 2-.5 1.8-.1 2-.5z"/>
<path fill="#64ffbc" d="M194.5 122.9l5.3.1 1.8 1 .6.9.4 1-.4.7-.2 2.3 1 .7 0 1.8-.7 2.8-1.3 1.5-2.4.7-5.3-.2-1.7-.4-1.8 0-14.2-2.4-18.3-3.8 22.7-4.6 1.8-.1 5.5-1.1zM199.6 128.4l.2.4.4-.2-.2-.3z"/>
<path fill="#60f8e1" d="M193.5 123.9l1.3-.2 4 .3 1.5.4 1.3 1.2.3 1.3-.4 2 .7.7 0 1.8-.3 1.2-.6.8.2.2-.7.8-2 .9-1.2.1-4 0-2-.4-1.6 0-14.4-2.3-15.4-3.1 20.1-3.9 1.5-.1 5.8-1.1zM199.6 128.1l-.6.5 1 .5.6-.2-.1-.5-.5-.5z"/>
<path fill="#5ee7ff" d="M194.5 124.6l1.3.1.8 1 1-.8 1.2.3.9 1.2.2 1-.4.5-.9.4-.1.3 1.8.8.8 0 .1 2-.2 1-.4.7-.6-.1-1.2 1.2-5 .4-7.2-.8-10.8-1.7-9.2-2-1.6 0-1.5-.5 2.5-.7 14.6-2.6 7.2-1.1zM198 130.6l-.2.3.2.3.6 0 0-.6zM200.5 126.2l.5 1-.2 0-.2-.5z"/>
<path fill="#48b9ff" d="M192.3 125.6l3.3-.1.4.9-.2 1 .2.1.6-1.1.4-.5 1 .1 1.3.7.3.2 0 .6-1.4.9.4.5 1.4.7-.1 1.8-.5.2.1.6-.2.4-1 .6-1.5.3-2.8.2-.7-.4-.5.3-2.5-.1-.7-.3-3-.1-10.8-1.7-7-1.2-1.5-.6 2.7-.8 1.3.4.7-.6 1.3-.4 7.5-1.2 6.2-.7.8-.3zM198 130.4l-.6.5.9 1.3.9-.8-.4-.8z"/>
<path fill="#3086ff" d="M190.1 126.6l2.5-.1.4 1.2.8-1.2 1.5 0 0 1.1.5.6 1-1.2 1 .4.3.5-.1.5.3.8 0 .7-1.4 1 .7.7 0 .4-1 .4-.8-.4-.5.6-1.3.2-3-.1-.4-.6-1 .4-2.8-.2-1-.4-.8 0 0-.7-.2-.2-.8.9-.7 0-2.7-.6-1-.8-1.3-.2-.5.6-1.8-.2-4.4-.8-.4-.3 2.4-.7 1.2-.1.5.4 1.5 0 .6-.3.4-.6 5-.7.2 0-.6.8.4.7.5-1.7 3.7-.3 1-.4zM182.6 129.9l-1.2.7-.1.8.7-.2zM188.3 131.1l-.3.3 0 .4.5-.4z"/>
<path fill="#1f60ff" d="M187.9 127.6l3.4-.1.1.1-.2.8.4.4 2.2-1.2.8.1.7.8.5.1 0 2-.5.6-1 .4-3.5.2-2-.3-.5-.7-.7.7-.6 0-1.2-.3-.8-.7-1 .5-1.3-.1.5-1 .4-1.7 1.2-.1 1.3.5.3.6.4.2.3-.2-.7-.6.2-.7zM188.6 128.9l-.9.5 0 .5.3.3 1.1-.8-.1-.4zM180.3 128.6l1.7-.1.4.7-.1.4-1.5 1-1.5-.5-3-.1-1.5-.4 2-.1 1-.4z"/>
<path fill="#1548ff" d="M185.6 129.2l1.5.7.2.3-3.5-.3.2-.6zM189.8 129.2l.7.2 0 .5-1.5.3z"/>
</g></g>
<text x="206.1" y="105.3" style="font-family:'Liberation Sans',sans-serif;font-size:4px" fill="#3c3c3c">1.0</text>
<rect x="204.9" y="103.7" width="0.9" height="0.4" fill="#888"/>
<text x="206.1" y="118.2" style="font-family:'Liberation Sans',sans-serif;font-size:4px" fill="#3c3c3c">0.5</text>
<rect x="204.9" y="116.5" width="0.9" height="0.4" fill="#888"/>
<text x="206.1" y="131.0" style="font-family:'Liberation Sans',sans-serif;font-size:4px" fill="#3c3c3c">0.0</text>
<rect x="204.9" y="129.4" width="0.9" height="0.4" fill="#888"/>
<text x="205.2" y="143.8" style="font-family:'Liberation Sans',sans-serif;font-size:4px" fill="#3c3c3c">−0.5</text>
<rect x="204.9" y="142.2" width="0.9" height="0.4" fill="#888"/>
<text x="205.2" y="156.7" style="font-family:'Liberation Sans',sans-serif;font-size:4px" fill="#3c3c3c">−1.0</text>
<rect x="204.9" y="155.1" width="0.9" height="0.4" fill="#888"/>
<text transform="translate(216.4,129.6) rotate(-90)" text-anchor="middle" style="font-family:'Liberation Sans',sans-serif;font-size:3.8px" fill="#3c3c3c">z [AU]</text>
<text x="157.0" y="159.1" text-anchor="middle" style="font-family:'Liberation Sans',sans-serif;font-size:4.2px" fill="#3c3c3c">2</text>
<rect x="156.8" y="155.3" width="0.4" height="0.9" fill="#888"/>
<text x="175.2" y="159.1" text-anchor="middle" style="font-family:'Liberation Sans',sans-serif;font-size:4.2px" fill="#3c3c3c">3</text>
<rect x="175.0" y="155.3" width="0.4" height="0.9" fill="#888"/>
<text x="188.2" y="159.1" text-anchor="middle" style="font-family:'Liberation Sans',sans-serif;font-size:4.2px" fill="#3c3c3c">4</text>
<rect x="188.0" y="155.3" width="0.4" height="0.9" fill="#888"/>
<text x="198.2" y="159.1" text-anchor="middle" style="font-family:'Liberation Sans',sans-serif;font-size:4.2px" fill="#3c3c3c">5</text>
<rect x="198.0" y="155.3" width="0.4" height="0.9" fill="#888"/>
<text x="171.8" y="162.7" text-anchor="middle" style="font-family:'Liberation Sans',sans-serif;font-size:3.8px" fill="#3c3c3c">r [AU]</text>
<clipPath id="cp12"><rect x="231.9" y="103.9" width="66.6" height="51.4"/></clipPath>
<g clip-path="url(#cp12)"><g filter="url(#bl)">
<rect x="229.9" y="101.9" width="70.6" height="55.4" fill="rgb(104,4,10)"/>
<path fill="#68040a" d="M238.4 102.2l0-.3 62 0 0 55.3-62 0-2.8-14.1-1.2-4.8-1-1.8-2-1.1-1.5-1.7 0-8.2 1.7-1.8 1.8-1.1 1-1.7 1.2-4.8z"/>
<path fill="#68040a" d="M239 101.9l61.4 0 0 55.3-61.5 0-2.7-14.2-1.3-5.1-1.3-2.5-1.7-1.4-.8-1.1-.8-1.7-.3-1.8.3-1.5.5-1.3 2.8-2.9 1.3-2.5 1.3-5z"/>
<path fill="#68040a" d="M239.4 101.9l61 0 0 55.3-61.1 0-3.9-19.2-1.1-2.6-2.7-3.2-.6-1.3-.1-1.5.1-1.2.5-1 2.7-3.3 1.2-2.7z"/>
<path fill="#6d040a" d="M239.8 101.9l60.6 0 0 55.3-60.7 0-3.9-19.3-1.2-2.7-2.5-3.3-.5-1.3-.2-1.2.4-1.8 2.8-3.7 1.2-2.7z"/>
<path fill="#800308" d="M240.1 101.9l60.3 0 0 55.3-60.3 0-4-19.3-.9-2.5-2.6-3.5-.6-1.3-.1-1.2.4-1.8 2.8-3.7 1-2.5z"/>
<path fill="#930206" d="M240.5 101.9l59.9 0 0 55.3-60 0-4-19.6-1.1-2.7-2.4-3-.7-2.3.4-1.7 2.8-3.9 1-2.4z"/>
<path fill="#a60104" d="M240.8 101.9l59.6 0 0 55.3-59.6 0-4-19.6-1.3-3-2.3-2.7-.7-2.3.4-1.7 2.8-3.7 1-2.6z"/>
<path fill="#ba0102" d="M241.1 101.9l59.3 0 0 55.3-59.3 0-3-15.3-1.1-4.5-1.3-3-2.3-2.8-.7-2 .5-1.7 2.7-3.5 1.1-2.5 1.2-5z"/>
<path fill="#cb0000" d="M241.4 101.9l59 0 0 55.3-59 0-2.9-15-1.1-4.8-1.4-3-2.4-2.8-.7-2 .5-1.7 2.9-3.5 1-2.5 1.2-5z"/>
<path fill="#d60000" d="M241.8 101.9l58.6 0 0 55.3-58.6 0-3-15.3-1.1-4.5-1.3-3-2.6-2.8-.7-2 .4-1.4.9-1.4 2.1-2.2 1.2-2.7 1.1-4.7z"/>
<path fill="#e10000" d="M242.1 102.2l.1-.3 58.2 0 0 55.3-58.3 0-2.8-14.8-1.2-5-1.5-3.1-2.7-2.8-.6-1.9.4-1.4.9-1.4 2.1-1.9 1.3-3 1.3-5z"/>
<path fill="#ec0000" d="M242.6 101.9l57.8 0 0 55.3-57.9 0-2.7-14.6-1.3-5.2-1.4-3-1.2-1.4-1.7-1.4-.8-2 .2-1 .8-1.2 2.7-2.5 1.4-3.3 1.3-5.2z"/>
<path fill="#f70000" d="M243 101.9l57.4 0 0 55.3-57.4 0-2.7-14.6-1.4-5.2-1.3-2.8-.7-1-2.5-2-.8-2 .2-1 .8-1.2 2.3-1.8.7-1 1.4-3 1.3-5.2z"/>
<path fill="#ff0300" d="M243.7 101.9l56.7 0 0 55.3-56.7 0-2.4-14-1.5-5.3-1.5-3-1.4-1.6-2.5-1.9-.7-1.8.2-1 .7-1 2.3-1.6.9-1.1 1.3-2 .9-2.3 1.5-5.7z"/>
<path fill="#ff0e00" d="M247.7 101.9l52.7 0 0 55.3-52.7 0-.1-12.8-.3-2.5-.6-1.7-.7-1-1.6-1.4-1-.5-3.5-1.1-2.8-3-2.5-1.8-.7-1.8.2-1 .8-1.1 2.2-1.3 2.5-2.9 5-2 1.1-.9 1-1.5.6-1.7.3-2.6z"/>
<path fill="#ff1900" d="M251.3 101.9l49.1 0 0 55.3-49.1 0-.1-13.3-.4-2.5-.8-1.8-1.2-1.4-1.6-1.3-3.6-1.2-4-.9-2.4-2-2.3-1.3-.5-.6-.4-1.3.2-1 .8-1 2.2-1.1 2-1.8 5.7-1.5 1.3-.5 2.4-1.3 1.4-1.8.8-2 .4-2.4z"/>
<path fill="#ff2400" d="M254.2 101.9l46.2 0 0 55.3-46.2 0-.1-13.6-.5-2.4-.9-2-1.2-1.3-3.9-2.1-3.7-1-4.5-.9-4.5-2.6-.8-1.7.3-1 .8-.9 2-.9 1.7-1.4 6.3-1.3 3.4-1.1 2.3-1.3 2-1.8.8-2 .4-2.5z"/>
<path fill="#ff3000" d="M256.8 101.9l43.6 0 0 55.3-43.6 0-.1-13.6-.4-2.4-.9-2-2-1.8-1.2-.8-4.6-1.6-8-1.6-1.7-.7-3.2-1.8-.4-1 0-.7.9-1.3.4-.3 1.6-.5 2-1.3 6-1 3.7-.9 4.5-2 1.8-1.7 1-2 .5-2.6z"/>
<path fill="#ff3b00" d="M259.3 101.9l41.1 0 0 55.3-41.1 0-.2-14-.7-2.8-1.4-2-1.4-1.1-3.2-1.5-1.8-.4-2.9-1-5.1-.8-4-.9-3.7-1.8-.5-1 0-.7 1.2-1.5 1.6-.4 1.7-1 1.7-.1 8.3-1.7 4.7-1.5 2-1.2 2-1.7 1.1-1.9.4-2.6z"/>
<path fill="#ff4800" d="M261.7 101.9l38.7 0 0 55.3-38.7 0-.3-13.8-.5-2.8-1.1-1.7-1.6-1.3-2.3-1.3-8-2.3-1.7-.1-2-.6-1.6-.1-4.4-.9-2.8-1.2-.5-.4-.4-.8 0-.7 1.1-1.3 1.6-.4 1.7-.9 1.7 0 3.3-.8 1.5-.1 2-.6 1.8-.1 2.7-1 1.7-.3 4.6-2 1.2-1 1.4-2.1.6-2.4z"/>
<path fill="#ff5500" d="M264 101.9l36.4 0 0 55.3-36.4 0-.1-10-.2-4-.7-2.8-1.5-2-.9-.8-4.7-2-3.3-.9-1.7-.2-3-.9-1.7-.1-2-.5-1.6-.1-4.4-.9-3.2-1.4-.4-.7 0-.7 1-1.2 1.8-.3 1.5-.8 1.7 0 6.8-1.4 1.8-.1 3-1 1.7-.2 4.5-1.5 3.2-1.9 1.4-1.9.7-2.7.2-4z"/>
<path fill="#ff6200" d="M266.3 101.9l34.1 0 0 55.3-34.1 0 0-10.6-.3-4-.8-2.5-2-2-2.3-1.4-4.7-1.6-1.6-.2-2-.6-1.7-.1-2.7-.9-2-.1-1.8-.5-1.8-.1-3-.7-1.4-.1-3.1-1.2-.3-.7 0-.7.8-1 1.8-.3 1.5-.7 2-.1 3-.7 1.7-.1 1.8-.5 2-.1 2.8-.9 1.7-.1 3-1.1 1.7-.3 3.3-1.2 2.2-1.7 1.4-2 .6-2.5z"/>
<path fill="#ff6e00" d="M268.7 101.9l31.7 0 0 55.3-31.7 0 0-10.3-.3-4-.8-2.5-.9-1.2-1.1-1.1-4.4-2.1-1.8-.3-3.2-1-1.6-.2-1.7-.5-2-.2-2.7-.8-2 0-1.8-.5-1.5-.1-3.3-.7-1.4-.1-2.8-.9-.3-.3-.3-.8.1-.4.7-.9 1.8-.3 1.5-.6 2 0 3-.8 1.7 0 2-.6 1.8 0 2.8-.9 2-.1 2.7-.9 1.7-.2 3.6-1.1 2.2-1.1 2.2-1.5 1.2-1.8.7-2.8z"/>
<path fill="#ff7c00" d="M271.2 101.9l29.2 0 0 55.3-29.2 0 0-9.8-.2-4-.8-2.8-1.3-1.7-3-1.8-4.7-1.6-1.8-.2-3-1-1.8-.1-1.7-.5-2-.1-2.7-.8-1.8 0-2-.6-1.5 0-3.3-.7-1.4-.1-3-1-.3-.8.1-.4.9-.8 1.5-.2 1.8-.6 1.7 0 3.3-.8 1.4 0 2-.5 1.8-.1 2.8-.8 2-.1 2.7-.8 2-.2 4.5-1.3 3.5-1.3 1-.7 2-1.8 1-2.8.3-4z"/>
<path fill="#ff8b00" d="M274 101.9l26.4 0 0 55.3-26.4 0-.1-10.6-.3-4-.9-2.2-1.1-1.2-1.2-1-1.2-.7-3.3-1.2-1.7-.3-2.8-.9-2-.2-3-.9-1.5 0-2-.6-1.7 0-2.8-.8-2 0-6.5-1.3-1.7-.1-2.6-.6-.5-.7 0-.7.8-.7 1.7-.2 1.6-.5 2-.1 3-.7 1.7 0 1.7-.5 1.8-.1 2.8-.7 2-.1 2.7-.8 2-.2 1.7-.5 1.8-.2 3-1 1.8-.3 3.2-1.5 1.2-1 1-1.2 1-2.7.3-4z"/>
<path fill="#ff9a00" d="M277.2 101.9l23.2 0 0 55.3-23.2 0-.1-9.8-.3-4-.8-2.5-.8-1.2-1.3-1.1-4.5-2-1.5-.2-1.7-.6-2-.2-2.8-.9-1.8-.1-3-.8-1.7-.1-1.7-.5-2 0-2.8-.8-2 0-1.8-.5-1.7 0-3-.8-1.7 0-2.6-.7-.4-.7 0-.4.7-.7 1.7-.1 1.6-.5 2 0 3-.8 1.7 0 1.7-.5 2-.1 2.8-.7 2-.1 2.8-.8 1.7-.1 2-.5 1.5-.1 3.2-1 1.8-.1 1.5-.7 1.7-.3 1.3-.5 2.7-1.7 1.5-1.8.8-2.8.2-3.8z"/>
<path fill="#ffa900" d="M281.5 101.9l18.9 0 0 55.3-18.9 0-.1-10.3-.6-4-.8-1.7-1.1-1.5-1.3-.9-2.2-1-5.8-1.8-1.4-.1-2-.6-1.8-.1-2.8-.8-2 0-3-.8-1.7-.1-1.7-.5-2 0-2.8-.8-2 0-1.8-.5-1.7 0-3-.8-1.7 0-.3-.2-1-.1-.3-.2-1 0-.4-.8.7-.9 2-.1 1.3-.5 2 0 3-.7 1.7-.1 1.7-.5 2 0 2.8-.7 2-.1 2.8-.8 2 0 1.7-.5 1.7-.1 3-.8 1.9-.2 1.7-.5 1.7-.2 4.5-1.4 3-1.6.6-.5 1.2-1.5.9-2.7.3-4z"/>
<path fill="#ffb900" d="M293.5 118.2l2.7-.2 1.7.3 1.3.9 1.2 1.1 0 18.7-1.2 1.2-2 .8-3 .3-3-.7-2-.1-4.6-.9-6.4-2.3-1.8-.2-1.8-.6-1.7-.1-3-.8-1.7-.1-1.8-.5-2-.1-.2-.2-1 0-.3-.3-.7 0-.3-.3-2.3 0-.2-.2-1 0-.2-.3-1 0-.3-.2-2 0-.3-.3-1 0-.2-.2-2.2 0-.3-.3-2-.2-.3-.3-2.2 0-.2-.2-1-.1-.3-.2-2 0-.3-.2-2.2-.3-.2-.2-2-.1-.3-.2-2.3-.3-.3-.7.6-.9 2 0 1.3-.5 2.2 0 1.5-.5 1 0 .3-.2 2-.1.2-.2 1 0 .2-.2 2.3-.1 1.3-.5 1 0 .2-.2 2.2 0 .3-.3 2-.2.3-.3 2.2 0 .2-.2 1 0 .3-.3 2 0 .3-.3 1 0 1.4-.5 2 0 1.6-.6 2 0 3-.9 1.4-.1 2-.7 1.8-.2 2.8-1.2 1.7-.4 2.7-1 2.1-.1z"/>
<path fill="#ffc903" d="M294.2 120.2l.2-.3 1.8 0 .2.3.8 0 .7.5 1.2 1.2 0 .3.8.4 0 .8.5 1 0 10.8-.5.7 0 .5-2 2.2-1.3.5-1.2 0-.2.3-2-.3-1.3-.5-2.3 0-.2-.2-1 0-.2-.3-1 0-.3-.2-2 0-.3-.3-.9 0-.3-.2-2.2 0-.3-.3-2-.2-.3-.3-2.2 0-1.5-.5-2 0-.3-.2-1-.1-1.4-.5-2 0-1.6-.5-2.2 0-2.5-.7-2.3-.1-.2-.2-1 0-1.5-.5-2 0-1.5-.5-2.2 0-2.6-.8-2.2 0-1.5-.5-2 0-.3-.2-2.2-.3-.2-.2-2 0-1.6-.5-1-.1-.3-.6.6-.8 2 0 1.5-.5 2 0 .2-.3 2.3-.2.3-.3 2 0 1.4-.5 2.3 0 2.5-.7 2.2-.1.3-.2 1 0 1.3-.5 2.2 0 1.5-.5 2 0 1.5-.5 1 0 .2-.3 2.3 0 1.3-.5 2.2 0 1.5-.5 1 0 .3-.2 2-.1 1.4-.5 2.3 0 1.3-.5 1 0 .2-.2 2.2 0 .3-.3 2-.2.3-.3 2.2 0 .2-.2 1 0 .3-.3 2 0 .3-.2z"/>
<path fill="#ffdf0f" d="M294.3 120.2l1.6-.2 1.3.3.7.5 1.1 1.1 0 .3.7.4 0 .8.7 1.1 0 10.3-.7 1.1 0 .5-1.8 2.1-1.3.5-1.2 0-.5.3-3-.8-2 0-3-.7-1.7 0-1.8-.5-2 0-2.8-.8-2 0-1.7-.5-1.7 0-3-.7-1.8 0-1.8-.5-2-.1-2.7-.7-2 0-3-.8-1.7 0-1.8-.5-2 0-2.8-.7-2 0-1.7-.5-2-.1-2.7-.7-2 0-1.6-.5-1 0-.2-.6.5-.7 2-.1 1.5-.5 2 0 2.8-.7 2 0 1.7-.5 2 0 1.3-.5 1 0 .4-.3 2 0 2.8-.7 2 0 1.8-.5 1.7 0 3-.8 2 0 1.5-.5 2 0 3-.8 1.8 0 1.7-.5 2 0 2.7-.7 2 0 2.8-.8 2 0 1.8-.5 1.7 0z"/>
<path fill="#fff51b" d="M294.6 120.2l1.3-.1 1 .3 1 .6 1 1.3.6.3.1.8.5 1 .3.2 0 10.1-.3.2-.5 1-.1.5-1.6 1.9-1.5.6-1 0-.5.3-3-.8-2 0-3-.7-1.7 0-1.8-.5-2 0-2.8-.8-2 0-1.7-.5-1.7 0-3-.7-1.8 0-1.8-.5-2 0-2.7-.8-2 0-3-.7-1.7 0-1.8-.5-2 0-2.8-.8-2 0-1.7-.5-1.8 0-2.9-.7-1.8 0-2.6-.5-.3-.6 0-.2.7-.5 1.7 0 1.5-.5 2 0 2.9-.8 1.9 0 1.7-.5 2 0 2.7-.7 2 0 2.8-.8 2 0 1.8-.5 1.7 0 3-.7 2 0 1.5-.5 2 0 3-.8 1.8 0 1.7-.5 2 0 2.7-.7 2 0 2.8-.8 2 0 1.8-.5 1.7 0z"/>
<path fill="#f3fc1e" d="M294.5 120.4l1.4-.1 1 .2.9.7 1 1.2.5.2.1.8.5 1 .5.3 0 9.9-.5.3-.6 1.5-1.5 1.8-1.4.6-1.5.2-3-.7-1.7 0-3.3-.7-1.5 0-2-.5-1.8 0-3-.8-1.7 0-2-.5-1.5 0-3.2-.7-1.6 0-2-.5-1.7 0-3-.8-1.7 0-3.3-.7-1.5 0-2-.5-1.8 0-3-.8-1.7 0-6.7-1.2-1.6 0-2.4-.5-.5-.5 0-.2.7-.4 1.5 0 1.7-.5 1.8 0 6.8-1.3 1.7 0 3-.7 2-.1 2.7-.7 1.8 0 2-.5 1.5 0 3.3-.7 1.7 0 1.7-.5 1.8 0 3.2-.8 1.6 0 2-.5 1.7 0 3-.7 1.7 0 3-.8 1.8 0 2-.5 1.5 0z"/>
<path fill="#e2fe1e" d="M294.8 120.4l1.8.2.9.6 1.7 1.6 0 .6.6 1.2.6.3 0 9.5-.6.2-.8 1.8-1.1 1.4-1.7.9-1.6.1-2.4-.6-2 0-3-.7-1.8-.1-2-.5-1.8 0-2.7-.7-2 0-1.7-.5-1.8 0-3-.7-1.8-.1-2-.5-1.7 0-2.7-.7-2 0-3-.7-1.8-.1-2-.5-1.8 0-2.7-.7-2 0-1.7-.5-1.8 0-3-.7-1.8-.1-2.4-.5-.2-.3.4-.5 1.8 0 1.4-.5 2 0 3-.7 1.8-.1 1.8-.4 2-.1 2.7-.7 2 0 2.7-.7 2-.1 1.8-.4 1.8-.1 3-.7 1.7 0 1.7-.5 2 0 3-.7 1.8-.1 1.8-.4 2-.1 2.7-.7 2 0 2.7-.7 2-.1z"/>
<path fill="#d4ff1e" d="M294.7 120.6l.9-.1 1 .3.8.5 1.6 1.6 0 .5.5 1.2.9.4 0 9.3-.9.3-.5 1.6-1.5 1.7-1.3.6-1.6.1-2.4-.5-2-.1-3-.7-5.6-.5-2.7-.7-2-.1-6.5-1.2-5.5-.5-2.7-.7-2-.1-6.6-1.2-2 0-2.7-.7-1.7-.1-2-.4-1.8-.1-3-.7-1.8 0-2.3-.7.1-.3 1.8-.1 1.4-.4 2-.1 3-.7 1.8 0 2-.5 1.8 0 2.7-.7 2-.1 2.7-.7 5.6-.5 3-.7 2-.1 1.7-.4 1.7-.1 3-.7 1.8 0 2-.5 1.8 0 2.7-.7 2-.1 2.7-.7 2 0 1.8-.5 1.8 0z"/>
<path fill="#caff1c" d="M294.2 120.9l1.2-.2 1.9.7.9 1.1.5.4.1.7.6 1.2 1 .4 0 8.9-1 .4-.7 1.7-1.4 1.7-1.4.5-2 0-1.7-.5-1.8 0-3.2-.7-1.6-.1-2-.4-1.7-.1-3-.7-1.7 0-6.8-1.2-1.5-.1-2-.4-1.7-.1-3-.7-1.8 0-3.2-.7-1.6-.1-2-.4-1.7-.1-3-.7-1.7 0-2-.5-1.6 0-6.9-1.3 3.2-.7 1.7 0 3.3-.7 1.5-.1 2-.4 1.8-.1 3-.7 1.7 0 3-.7 1.7-.1 2-.4 1.6-.1 3.2-.7 1.8 0 1.7-.5 1.7 0 3.3-.7 1.5-.1 2-.4 1.8-.1 3-.7 1.7 0 3-.7 1.7-.1 2-.4z"/>
<path fill="#b4ff16" d="M295.1 121.2l1.1.1.7.5 1.2 1.4 0 .4.8 1.4 1.5.6 0 8.1-1.4.5-1 2-1 1.2-1.4.6-5-.5-3.2-.7-5.2-.6-3-.7-5.3-.5-3.3-.7-5.2-.6-3-.7-1.8 0-3.2-.7-5.2-.6-3-.7-1.8 0-6.8-1.2-1.8-.2 9.8-1.5 1.8-.1 3-.7 1.8 0 3-.7 1.4 0 7-1.3 5.3-.5 3.3-.7 5.2-.6 3-.7 1.8 0 3-.7 1.4 0z"/>
<path fill="#a0ff1d" d="M294 121.9l1.4-.2.8.3 1.1 1.4 1.1 2 .9.5 1.1.2 0 7.1-1.1.2-.9.5-1.1 2-.9 1.3-.8.3-1.2 0-2-.5-1.8 0-3.2-.7-5.2-.6-3-.7-5.3-.5-3.3-.7-5.2-.6-3-.7-1.8 0-3.2-.7-5-.6-3.2-.7-1.6 0-5.1-.9 6.4-1 1.5-.1 3-.7 1.8 0 3-.7 5.2-.6 3.2-.7 5.3-.5 3.3-.7 5.4-.6 2.8-.7 1.8 0 3-.7z"/>
<path fill="#90ff2f" d="M294.3 122.4l.9-.1.4.2.9 1.1.7 1.6.7.7 1.3.6 1.2.1 0 6.1-1.5.2-1.3.7-1.2 2.2-1 1.1-4.5-.5-6.7-1.2-1.8 0-3-.7-5.2-.6-3.3-.7-5.3-.5-3-.7-1.7-.1-3.3-.7-5.2-.5-3-.7-3.1-.4 2.6-.5 1.7 0 3-.7 1.8-.1 3-.7 5.2-.5 3.3-.7 5.3-.6 3.2-.7 5.2-.5 3-.7 1.8-.1 3-.7z"/>
<path fill="#82ff4a" d="M293.9 123.2l1-.2 1.6 2.6.9.8 1.5.7 1.5.1 0 4.9-1.8.2-1.4.7-.7.6-.9 1.8-.7.9-10.5-1.7-1.8 0-3-.7-5.2-.6-3.2-.7-5.3-.5-3-.7-1.7-.1-10.3-1.7 7.7-1.4 5.3-.5 3.3-.7 13.7-1.8 3-.7 1.7-.1 3-.7z"/>
<path fill="#76ff70" d="M293.4 123.9l1.1 0 1 2 1.4 1.2 1.7.6 1.8.2 0 3.5-2 .2-1.8.8-1.1 1-1.1 2-38.9-5.8 3.4-.7 5.3-.6 11.7-1.9 5.3-.6 7.7-1.4z"/>
<path fill="#6cff96" d="M292.1 124.9l1.3-.2 1.3 1.9 1.9 1.4 1.8.6 2 .1 0 1.9-2.2.2-2 .7-1.5 1.1-1.1 1.7-.2.1-32.6-4.8z"/>
</g></g>
<text x="299.7" y="105.3" style="font-family:'Liberation Sans',sans-serif;font-size:4px" fill="#3c3c3c">1.0</text>
<rect x="298.5" y="103.7" width="0.9" height="0.4" fill="#888"/>
<text x="299.7" y="118.2" style="font-family:'Liberation Sans',sans-serif;font-size:4px" fill="#3c3c3c">0.5</text>
<rect x="298.5" y="116.5" width="0.9" height="0.4" fill="#888"/>
<text x="299.7" y="131.0" style="font-family:'Liberation Sans',sans-serif;font-size:4px" fill="#3c3c3c">0.0</text>
<rect x="298.5" y="129.4" width="0.9" height="0.4" fill="#888"/>
<text x="298.8" y="143.8" style="font-family:'Liberation Sans',sans-serif;font-size:4px" fill="#3c3c3c">−0.5</text>
<rect x="298.5" y="142.2" width="0.9" height="0.4" fill="#888"/>
<text x="298.8" y="156.7" style="font-family:'Liberation Sans',sans-serif;font-size:4px" fill="#3c3c3c">−1.0</text>
<rect x="298.5" y="155.1" width="0.9" height="0.4" fill="#888"/>
<text transform="translate(310.0,129.6) rotate(-90)" text-anchor="middle" style="font-family:'Liberation Sans',sans-serif;font-size:3.8px" fill="#3c3c3c">z [AU]</text>
<text x="250.6" y="159.1" text-anchor="middle" style="font-family:'Liberation Sans',sans-serif;font-size:4.2px" fill="#3c3c3c">2</text>
<rect x="250.4" y="155.3" width="0.4" height="0.9" fill="#888"/>
<text x="268.8" y="159.1" text-anchor="middle" style="font-family:'Liberation Sans',sans-serif;font-size:4.2px" fill="#3c3c3c">3</text>
<rect x="268.6" y="155.3" width="0.4" height="0.9" fill="#888"/>
<text x="281.8" y="159.1" text-anchor="middle" style="font-family:'Liberation Sans',sans-serif;font-size:4.2px" fill="#3c3c3c">4</text>
<rect x="281.6" y="155.3" width="0.4" height="0.9" fill="#888"/>
<text x="291.8" y="159.1" text-anchor="middle" style="font-family:'Liberation Sans',sans-serif;font-size:4.2px" fill="#3c3c3c">5</text>
<rect x="291.6" y="155.3" width="0.4" height="0.9" fill="#888"/>
<text x="265.4" y="162.7" text-anchor="middle" style="font-family:'Liberation Sans',sans-serif;font-size:3.8px" fill="#3c3c3c">r [AU]</text>
<clipPath id="cp13"><rect x="325.2" y="103.9" width="66.6" height="51.4"/></clipPath>
<g clip-path="url(#cp13)"><g filter="url(#bl)">
<rect x="323.2" y="101.9" width="70.6" height="55.4" fill="rgb(104,4,10)"/>
<path fill="#68040a" d="M388 112.6l.7-.2 2.5 1.3.5.5.2 1 .5.7 0 27.5-.7 1.5-1.3 1.2-1 .5-1.4 0-4.6-2.2-2-.5-2-1-1.7-.3-2-1-1.7-.2-.8-.5-.8 0-.2-.3-1 0-.8-.5-.7 0-.3-.2-2-.3-.7-.5-.7 0-.3-.2-1 0-.3-.3-1 0-.2-.2-1 0-.2-.3-1 0-.3-.2-1.3 0-.2-.3-1 0-.2-.2-1 0-.3-.3-1 0-.3-.2-1 0-.2-.3-1 0-.2-.2-2.3 0-.3-.3-1.2 0-.2-.2-2.3 0-.3-.3-1 0-.2-.2-2.2 0-.3-.3-5-.2-.3-.3-2.2 0-.2-.2-2.3 0-.3-.3-3.4 0-.3-.2-3.3 0-.2-.3.5-1.2 0-.8.8-1.7 0-.5-.8-1.8 0-.7-.5-1 .2-.5 1.8 0 .2-.2 3.8 0 .2-.3 2.3 0 .3-.2 3.4 0 .3-.3 2.5 0 .2-.2 1 0 .3-.3 4.7-.2.3-.3 1 0 .3-.2 2.4 0 .3-.3 1 0 .3-.2 1 0 .2-.3 2.2 0 .3-.2 1 0 .3-.3 1 0 .2-.2 1 0 .2-.3 1.3 0 .3-.2 1 0 .2-.3 1 0 .2-.2 1 0 .3-.3.7 0 .8-.5 3-.5.8-.5.7 0 .3-.2 2.2-.3 2-1 1.8-.2 4.4-2 2-.5 2-1 .6 0z"/>
<path fill="#980205" d="M388 112.6l.7-.1.7.2 1.8 1 .4.5.3 1 .5.7 0 27.5-.8 1.5-1.2 1.2-1 .5-1.4 0-4.6-2.3-2-.5-2-1-1.7-.2-2-1-1.7-.3-.8-.5-.8 0-.2-.2-1 0-.8-.5-.7 0-.3-.3-2-.2-.7-.5-.7 0-.3-.3-1 0-.3-.2-1 0-.2-.3-1 0-1.5-.5-1.3 0-.2-.2-1 0-.2-.3-1 0-.3-.2-1 0-.3-.3-1 0-1.4-.5-2.3 0-.3-.2-1.2 0-.2-.3-2.3 0-1.5-.5-2.2 0-.3-.2-2.3 0-.2-.3-2.5 0-.3-.2-2.2 0-.2-.3-2.3 0-.3-.2-3.4-.1-.3-.2-3.4-.2.5-1.2 0-.8.8-1.7 0-.5-.8-1.8 0-.7-.5-1 .1-.4 1.8 0 .5-.3 3.5 0 .2-.2 2.3 0 .3-.3 3.4 0 .3-.2 2.5 0 1.5-.5 4.7-.3 1.6-.5 2.4 0 1.6-.5 1 0 .2-.2 2.2 0 1.6-.5 1 0 .2-.3 1 0 .2-.2 1.3 0 1.5-.5 1 0 .2-.3 1 0 .3-.2.7 0 .8-.5 3-.5.8-.5.7 0 .3-.3 2.2-.2 2-1 1.8-.3 4.4-2 2-.5 2-1 .6 0z"/>
<path fill="#d60000" d="M388.1 112.6l.6-.1.7.3 1.8 1 .4.4.2 1 .5.7 0 27.5-.7 1.5-1.2 1.1-1 .5-1.4 0-4.6-2.2-2-.5-2-1-1.7-.3-2-1-1.7-.2-.8-.5-.8 0-.2-.3-1 0-.8-.5-.7 0-.3-.2-2-.3-.7-.5-.7 0-.3-.2-1 0-.3-.3-1 0-.2-.2-1 0-1.5-.5-1.3 0-.2-.3-1 0-.2-.2-1 0-.3-.3-1 0-.3-.2-1 0-1.4-.5-2.3 0-.3-.3-1.2 0-.2-.2-2.3 0-1.5-.5-2.2 0-.3-.3-2.3 0-.2-.2-2.5 0-.3-.3-2.2 0-.2-.2-2.3-.1-.3-.2-3.2 0-.5-.2-3.3-.2.5-1.2 0-.8.7-1.7 0-.5-.7-1.8 0-.7-.5-1 0-.3 1.8-.1.5-.2 3.5 0 .2-.2 2.3-.1.5-.2 3.2 0 .3-.3 2.5 0 1.5-.5 4.7-.2 1.6-.5 2.4 0 1.6-.5 1 0 .2-.3 2.2 0 1.6-.5 1 0 .2-.2 1 0 .2-.3 1.3 0 1.5-.5 1 0 .2-.2 1 0 .3-.3.7 0 .8-.5 3-.5.8-.5.7 0 .3-.2 2.2-.3 2-1 1.8-.2 4.4-2 4.6-1.5z"/>
<path fill="#ff0000" d="M388.1 112.6l1.3.2 1.8 1 1.1 2.1 0 27.5-.8 1.5-1.1 1.1-1 .5-1.4 0-4.6-2.3-2-.5-2-1-1.7-.2-2-1-1.7-.3-.8-.5-.8 0-.2-.2-1 0-.8-.5-.7 0-.3-.3-2-.2-.7-.5-.7 0-.3-.3-1 0-.3-.2-1 0-.2-.3-1 0-1.5-.5-1.3 0-.2-.2-1 0-.2-.3-1 0-.3-.2-1 0-.3-.3-1 0-1.4-.5-2 0-.6-.2-1.2 0-.2-.3-2.3 0-1.5-.5-2 0-.5-.2-2.3 0-.2-.3-2.2 0-.6-.2-4.7-.3-.3-.2-7-.4.5-1.2 0-.8.8-1.7-1.3-4.3 1.8 0 .5-.3 3.5 0 .2-.2 2.3 0 .5-.3 3.2 0 .6-.2 2.2 0 1.5-.5 4.7-.3 1.6-.5 2.4 0 1.6-.5 1 0 .2-.2 2.2 0 1.6-.5 1 0 .2-.3 1 0 .2-.2 1.3 0 1.5-.5 1 0 .2-.3 1 0 .3-.2.7 0 .8-.5 3-.5.8-.5.7 0 .3-.3 2.2-.2 2-1 1.8-.3 4.4-2 4.6-1.5z"/>
<path fill="#ff2a00" d="M388.2 112.6l1.2.3 1.8 1 1 2 0 27.5-.7 1.5-1.1 1-1 .5-1.4 0-4.6-2.2-2-.5-2-1-1.7-.3-2-1-1.7-.2-1.8-.8-1 0-1.8-.7-2-.3-1.7-.7-1 0-.3-.3-1 0-2.7-.7-1.3 0-.2-.3-1 0-.2-.2-1 0-.3-.3-1 0-2.7-.7-2 0-.6-.3-1.2 0-.2-.2-2.3 0-1.5-.5-2 0-.5-.3-2.3 0-.2-.2-2.2 0-.6-.3-4.6-.2-.4-.3-6.4-.3-.4-.2 1.2-3.5-1.1-4.1 1.5-.1.5-.3 3.5 0 .4-.2 2.1-.1.5-.2 6-.3 1.8-.5 4.4-.2 1.8-.5 2.2 0 2.8-.8 2.2 0 2.8-.7 1 0 .2-.3 1.3 0 2.7-.7 1 0 1.8-.8 3-.5 1.8-.7 2.2-.3 2-1 1.8-.2 4.4-2 4.6-1.5z"/>
<path fill="#ff5800" d="M388.4 112.6l2.8 1.4.9 2.2 0 27-.7 1.7-1 .9-1.1.6-1.2 0-4.7-2.2-1.7-.6-2.3-.9-1.5-.3-2.2-1-1.5-.2-2-.8-.8 0-2-.7-1.7-.3-2-.7-5-1-1-.1-6.7-1.4-2-.1-2-.5-2 0-1.8-.5-2 0-.5-.2-2 0-.5-.3-2.2 0-.6-.2-2-.1-.4-.2-2 0-.6-.3-3.2 0-.5-.3-2.9-.1 1.1-3.5-.9-4.1 1.2 0 .5-.2 3.5-.1.5-.3 2 0 .5-.2 6-.3 1.8-.5 4.4-.3 1.8-.5 2.2 0 3-.8 2 0 4.3-1 1 0 3.7-.7 2-.7 2.8-.6 1-.4 3-.6 2.2-1 1.6-.2 4.7-2 4.3-1.5z"/>
<path fill="#ff8b00" d="M388.2 112.9l.2-.2.8.3 2 1.1.8 2.1 0 27-.8 1.7-.8.8-1.2.6-1 0-4.5-2.1-4.3-1.6-1.4-.3-2.3-1-1.5-.2-2-.8-.8 0-1-.5-2.7-.5-2-.7-5-1-1-.1-6.7-1.5-2 0-2-.5-2 0-1.8-.5-7.2-.5-.6-.3-2 0-.4-.2-2-.1-.6-.2-3.1-.1-.6-.2-2.5-.2.9-3.3-.9-3.5.2-.4 1.6-.3 5.7-.4.5-.2 6-.3 1.8-.5 4.4-.3 1.8-.5 2.2 0 3-.7 2 0 4.3-1 4.7-.8 2-.7 2.8-.6 1-.5 3-.5 2.2-1 1.6-.2 9.2-3.6z"/>
<path fill="#ffc400" d="M388.4 112.9l.8.2 1.8 1.1.9 2 0 27-.9 1.7-.7.7-1.1.6-1 0-4.5-2.2-2-.6-2-.9-1.7-.3-2-.9-1.8-.4-1.8-.6-1-.1-.7-.4-3-.6-1.7-.7-5.3-1.1-1 0-6.7-1.5-2 0-2-.5-2 0-1.8-.5-7-.5-.8-.3-4.2-.3-.8-.3-3-.1-.4-.2-2.4-.3.9-3-.8-3.6 1.3-.3 3.2-.2 3.2-.6 5.8-.3 1.9-.5 4.3-.3 1.8-.5 2.2 0 3-.7 2 0 4.3-1 5-.9 1.7-.6 3-.6.8-.4 3.2-.6 2-.9 1.8-.4 4.5-1.9 4.5-1.6z"/>
<path fill="#eafc1e" d="M388.3 113.2l.9.1 1.8 1.1.7 1.8 0 27-.9 1.7-.6.6-1 .5-1 0-4.5-2.2-4-1.5-1.7-.3-2-.9-4.3-1-1-.5-2.7-.6-2-.7-13-2.5-1.8 0-2.2-.6-1.8 0-2-.5-7-.6-.5-.2-10.4-1.3.6-3.2-.6-2.8.9-.3 3-.2 3.5-.6 5.7-.4 1.8-.5 4.2-.3 2-.5 2 0 3.3-.8 2 0 9-1.8 2-.7 2.7-.5 1-.5 3-.5 2-.9 1.8-.4 9-3.5zM330.2 128.6l-.2.6.4.2.4-.5-.4-.3zM334.4 126.9l-.2.5.5.2.3-.7z"/>
<path fill="#caff1c" d="M388.1 113.4l.9 0 1.8 1 .7 2 0 26.8-.8 1.5-.7.7-1 .5-1.9-.5-3.1-1.6-4.3-1.6-1.5-.3-4.8-1.7-5.4-1.3-2-.7-6-1.1-6.8-1.5-2 0-2-.5-2 0-1.8-.5-7-.7-10.8-1.5.6-3-.6-2.5.6-.3 3.2-.2 3.3-.7 5.7-.4 1.8-.5 4.5-.3 1.7-.5 2.3-.1 3-.7 2-.1 9-1.7 2-.8 2.7-.5 1-.5 3-.5 2.3-1 1.5-.2 9.2-3.6zM330.2 128.4l-.3.8.5.3.4-.6zM334.4 126.7l-.3.5.3.6.6-.3.1-.6-.1-.2z"/>
<path fill="#b4ff16" d="M388.1 113.6l.3-.1.6.1 1.4.9.9 1.9 0 26.5-.8 1.7-1.5 1.1-1.8-.5-3.2-1.6-4-1.5-1.8-.4-4.5-1.6-5.7-1.4-2-.7-12.8-2.6-1.8 0-2.2-.5-1.8 0-2-.5-7-.7-10.5-1.5.7-3-.7-2 .3-.3 3.2-.3 3.3-.6 5.7-.5 2-.5 4.3-.3 2-.5 2-.1 3.1-.7 1.9-.1 9-1.7 5.7-1.7 3-.6 2.3-1 1.7-.3zM330.2 128.2l-.4 1 .6.3.4-.1.1-.5zM334.4 126.5l-.5.7.2.4.3.3.6-.3.2-.7-.2-.4z"/>
<path fill="#a0ff1d" d="M388.1 113.9l.6-.2 1.6.9.8 1.8 0 26.5-.9 1.7-1.2.9-1.8-.5-3.1-1.6-7.9-2.8-10.2-2.8-12.8-2.6-1.8 0-2.2-.5-1.8-.1-2-.5-1.7 0-11-1.6-2.7-.1-1.7-.5.7-3-.7-1.3-.1-.4.2-.1 1 .1 0 .7.4.5-.1.8.3.3.4.1.6-.4-.1-.6-1-1.2.3-.4 1.6-.1.6-.3 1.3 0 .2 1 .5.4.9-.8-.1-.8.2-.2 5-.4 2-.6 4.3-.3 2-.5 2 0 3.3-.8 1.7 0 9.3-1.9 5.7-1.7 3-.5 2-.9 1.7-.4zM335.7 131.6l-.2.3.2.2.4-.2 0-.3z"/>
<path fill="#90ff2f" d="M388.1 114.2l.6-.2 1.3.7.8 1.7 0 26.5-.7 1.5-1.4.9-4.5-2.1-4-1.5-1.8-.4-4.7-1.7-7.5-2-13-2.6-1.8 0-6-1.1-4-.3-1.2-.4-1.5.1-2.5-.4-.5-.3.7-.7-.1-.3-.3-.1-.6.1 0 .8-.4.2-5-.5-1.4-.5.6-2.4.2-.1.8.6.8-.3 0-.8-.8-1 .2-.4 1.8-.1 1-.3.3.1.5 1 .4.2.6-.3 1-1.4 4.4-.4 4.6-.8 1.7-.1 2-.5 2 0 3.3-.8 1.7 0 9.3-1.9 5.7-1.7 3-.5 2.3-1 1.5-.3zM333 128.1l-.2.3.4.2.1-.2zM328.6 127.4l.6 0 0 .5-.2.2-.3-.2z"/>
<path fill="#82ff4a" d="M388.1 114.4l.6-.2 1.1.7.7 1.7 0 26.3-.8 1.5-1 .7-4.5-2.1-7.8-2.8-14-3.7-2.2-.2-7-1.5-1.5 0-6.3-1.1-4-.3-1.2-.5-1.5.1-2.5-.3-.1-.3.6-.5-.1-.3-.6-.2-.6.1-.3.7-.4.2-4.7-.5-1-.5.4-1.9 1 .3.8-.4-.1-.8-.7-1 .3-.2 2.5-.2.2.7-.4-.1-.3.6.1.2.4.2.3-.2.2-.7 1 .3 1-1.4.5-.2 6-.6 2.8-.6.7.2 3.3-.8 1.7 0 3.3-.8 2-.1 9-1.7 5.7-1.7 3.3-.7 2-.8 1.7-.4z"/>
<path fill="#76ff70" d="M388.2 114.6l.5-.1.9.7.5 1.4-.2 3.3.2 1-.1 5-.5 1.3.1 1.4.4 1 .1 13-.6 1.6-.8.6-8.3-3.5-2-.4-4.4-1.6-10.6-2.7-.7-.5-2.3 0-1.4-.3-.8-.5-1.5.1-3.3-.8-1.7 0-2-.6-2 0-1-.4-5.3-.4-1-.4-1.7 0-2.2-.4.9-.2.1-.3-1.5-.6-.6.1-.4.7-.3.1-5.3-.8.3-1.6 1.3 0 .3-.4-.7-1.5.1-.3 1.7 0 .2 1 .6.3.5-.2.3-.4.7 0 1.3-1.5 4-.2 1.4-.4.8 0 2.8-.5.7.2 3.3-.8 2-.2 3.2-.7 1.8 0 9-1.8 5.9-1.8 3.1-.6 6.4-2.2 1.9-.9z"/>
<path fill="#6cff96" d="M388.4 114.9l.3-.1.7.6.4 1.2-.1 9.3-.4 1-.1 1.5.5 1.2.1 8-.6.9-.1.7.7 1.2 0 2.2-.6 1.6-.5.3-.5-.4-.8 0-2.7-1.4-4.3-1.6-10.8-3.2-.9-.5-.7 0-2.3-.5-3-.9-2.3-.1-1.2-.2-1-.6-1.5.1-3.3-.8-1.7 0-1.5-.4-.8-.6-.7.4-1 0-1-.6-2.7 0-3-.5-2.3-.1-1.3-1-1.4-.3-.6 0-.7.7-4.5-.6-.5-.2.3-1.2 1.2-.2.3-.4-.5-1.6 1.2-.1.5 1.2 1.2 0 .8-.4 1-1.4 3.3-.3 1 .2 1.4-.6 3.6-.5 1 .1 8.2-1.6 1.8 0 9.2-1.9 5.8-1.7 3.2-.6 2-.9 4.2-1.2 2-1z"/>
<path fill="#64ffbc" d="M388.1 115.4l.3-.2.5.2.6 1.2-.1 9.3-.5 2.7.5 1 .1 8-.5.7-.3.9.8 1.4 0 2-.8 1.6-.5-.6-1 .1-2.5-1.2-4.3-1.7-.9-.2-.5-.3-.8 0-4-1.4-2-.4-2-.7-1.8-.9-.4.3-2.3-.5-1-.4-1.3-.1-.7-.4-3.5-.4-.8-.6-1.7.1-3.3-.7-3-.3-1-.8-1 .5-.7 0-1.3-.7-.7.2-1.5-.1-5.3-.6-.7-.2-.8-.7-1.4-.3-.6 0-.7.5-4.3-.6-.3-.2.2-.7.9-.1.4-.5.1-.2-.5-1.3 1-.2.2 1 1.8.2.5-.4 1-1.4 3.3-.4 1 .4.4-.4 2.3-.5 3-.2 1.5-.3 1 .3.5-.4.7-.3 1.6-.1 3.2-.8 1.8 0 9.2-1.9 6.8-1.9 2.2-.4 2-.9 4.2-1.1 2-1.1zM343 130.4l-.4.5.6.9.4-1.4-.2-.2z"/>
<path fill="#60f8e1" d="M388.4 115.6l.9 1-.2 9.3-.4 2.7.4 1 .1 7.8-.5.5-.2 1.5.8 1.5 0 1.7-.6 1-.7-.2-.8.1-2.5-1.2-3.3-1.1-1-.7-.7-.1-.5-.8-.5 0-.5.4-.5-.1-3.3-1.1-4-1.1-.4-.6-1.6-.6-.7.4-2-.4-.7-.4-5.6-.9-1-.8-1 .4-4-.8-3-.3-1-.8-1.4.5-1.6-.8-.7.3-2.2-.3-.2-.2.6-2-.2-.4-.7.2-.7.4.5 1.3 0 .5-.4.1-3.4-.3-1.6-.8-1.7-.3-.7.4-1-.1-2.3-.5-.3-.5.8-1.2 2.2-.1 1-1.5 3.6-.5 1 .4.4-.4 1.3-.3 3.5-.5 2-.2 1 .4.8-.6.7-.3 1.3 0 3.4-.8 1.6 0 9.2-1.9 9-2.3 2-.8 4.2-1.2 1-.7 5.3-2zM337.2 128.4l-.4.2.2.5.3-.5zM331.5 128.4l.7-.1 0 .6-.5.1z"/>
<path fill="#5ee7ff" d="M386.8 116.2l1.4-.3.8.7 0 .9-.6.7.5.7.1 1.3-.1 6-.4 2.4.3 1 .1 7-.2.4-.7-.1.5 1.3-.2 1.2.7 1.5 0 1.7-.3.6-.3.1-1.2-.1-5.8-2.3-2.2-1.5-.5 0-.7.3-2.8-.8-.5-.5-1 0-3-.9-.6-.6-1.9-.7-.5.5-8.3-1.8-.1-.3.5-.7-.4-.3-.5 0-1.5 1-4-.8-3-.3-1-.7-1.4.4-1.6-.7-.7.2-2-.3-.1-.5.6-1.5-.5-.6-1.6.6 0 .5.5.7-.2.7-3.4-.4-1.6-.6-1.7-.3-1.5.1-2.4-.7.1-.5.5-.5 2-.1 1-1.4 2-.1 1.8-.4.8.4.4-.5 4.8-.8 1.8-.1 1.2.3 1.2-.8 1.8-.1 3.2-.8 1.8 0 9.2-1.9 8.8-2.3 2.2-.9 3.8-1 1.2-.8zM337.2 128.1l-.5.5 0 .6.3.1.5-.7.1-.4zM377 123.6l.2.5.3-.2-.1-.4zM385.2 120.1l-.2.3.4.3.3-.4zM386.4 128.3l-.2.3.5.2.4-.2-.1-.4z"/>
<path fill="#48b9ff" d="M386.8 116.4l1.4-.2.5.7-.3.6-1.2.9-.1.2 1.1 0 .4.8-.1 7.2-.3 2 .3 1 .1 6.6-.2.3-.7-.3-.2.4.8 1.6-.3 1.2.7 1.2 0 1.8-.3.7-1-.1-6-2.3-.7-.7-1.5-.8-1.2.3-2.7-.9-.3-.5-1.3.1-2.7-.8-.8-.6-1.2-.4-.8-.5-.2 0-.3.5-.3 0-6.7-1.4-.5-.4-.2-1-.6-.2-.4.1-1.6.9-3.7-.8-3.3-.4-.7-.5-1.7.2-1.6-.6-2.2 0-.4-.1-.1-.3.8-1.3-.5-.9-.8.1-1.4.6 0 .5.6.7-.2.4-3.2-.4-4.4-1.2.1-1 .7-1.1 1-.1.1 1 .5.2 1-1.4 1-.3.4 0 .6.5.4-.6 2.6-.6 2.4-.3 2.8.1 1-.6 2-.2 3.2-.7 1.8-.1 8-1.6 10.2-2.6 2-.9 4-1.1 1.3-.7zM387 127.8l-1.2.6 0 .2.9.4.7-.1 0-.5zM353.4 130.1l-.6.3-.1.4.4.1.9-.5zM377 123.4l-.3.5.3.3.4.2.4-.5-.1-.5zM385 119.9l-.3.5.3.3.4.1.6-.4.1-.2-.4-.3zM386.4 139l-.2.4.2.5.3.2.5-.2.1-.5-.6-.5z"/>
<path fill="#3086ff" d="M387 116.6l1-.1.3.4-.2.5-1 .8-.2.4.1.4 1-.2.3.4-.1 8-.3.7-.2.1-.5-.9-1.8 1.3.6.6 1 .3 1 0 .2.3.1 6-.9.4-.2.6.8 1.3.1.7-.4.6-1.3-.6-.4.8.2.6.5.4 1-.4.5.2.2 2.2-.2.5-6.5-2.4-.5-.6-1-.3-.8-.5-1.4.1-2.4-.8-.6-.5-1 0-.8-.2-.2-.3-2-.3-.6-.5-1.4-.3-.8-.8-.5.1-.3.6-6.7-1.4-.4-.4-.1-.8-.5-.3-.7 0-1.6.8-3.7-.8-3.3-.4-.7-.3-1.7 0-1.8-.7-.8.1-1.2 0-.2-.4.4-.4 1.3.2-1.7-1.9-2.2.7-.2.2-.1 1-2.4-.5.1-2.5.8.2.4-.5 2.6-.7 2.4-.4.8.2 1-.3 1.2 0 .8-.5 7-.9 8-1.6 4-1.1.8 0 3.2-1.1 1.2-.1 3.3-1.3 1.5-.2zM353.4 129.9l-.9.5 0 .8.2.1 1.3-.5 1.4-.2-.5-.4zM362.2 133.5l-.2.4.2.2.3-.2-.1-.3zM369.7 128.6l-.4 1-.6.8 0 .4 1.3-1.2zM373.7 121.9l-.2.3.1.4.6 0 0-.4zM375.4 129.1l-.6.3-.1.2.3.3.5-.3.2-.2zM377.2 123.1l-.5.3-.2.5.5.6.4.1.4-.2.2-.8-.3-.4zM383.4 124.3l-.2.6.2.6.4-.3.1-.6zM384.2 135.9l-.5.4 0 .3.9 0 .1-.4zM385 119.5l-.4.7.4.7.7 0 .8-.7-.1-.3zM355.7 130.9l.4.5.4 0-.3-.4zM384.7 130.6l-.2.3.2.4.5.3.3-.2-.1-.7z"/>
<path fill="#1f60ff" d="M386.7 117.2l1-.3.2.3-1 1-.4 1.2-.8.1-1.3-.7-.2 0 0 .4.3 1.4.5.5.4.1 1.3-.8.3-1 .8-.2-.1 7.4-.3-.1-.4-.8-.6-.2.2 1.9-1.4 1 .5.7 1.9.5 0 .3.1 3.4-.3.3-.4-.1-.1.4.8.1.1 1.4-.6.4-.4.8-.5.6-.1 1-.5 1.2.7 1.6.6-.1.8-.5.1 1.8-.2.1-4.5-1.6-.5-.5 0-.8-.4-.2-1.1.3-.8 0-1-.7-1.2.2-1.6-.6-.1-.8-.3-.2-1.8.3-.7-.1-.3-.2-.2-1-.2-.2-.4.7-.4.2-3.2-.9-.8-1-.5.1-.5.5-4.8-1-.3-.2.6-.4.1-.6-.4-.4-.6.4-.1 1-.7-.1-.4-.1-.3-1.2-.3-.2-1 .1-1.3.7-10.4-1.9-.4-.3.1-.4.7-.4.1-.4-.6-.6-.5.4 0 .6-.3.1 0-3.3 3-.8.8.5.5-.5.7-.2.8.8.4-.2.2-.8.6-.2 2.8-.4 8-1.6 3.8-1.1 1 .1 1-.5.7.1.7-.6.8-.2.8-.1.4.9.6.2.7-.6-.4-.8.1 0 2.4-1 1.6-.2 4.8-2.1 1-.1zM385 130.3l-.9.6.9.9.4.2.5-.4.1-.4-.6-.8zM353.7 129.4l-1.5 1-.1 1 .3.4 1-.6 1.3-.3.7.2.8.7.5-.2.2-.2-.3-.5-1.6-1.1zM355.7 127.1l-.4.3.1.4.6.2.4-.4.2-.2-.3-.2zM358 128.4l-.6.8.3.3.5-.1.5-.8-.3-.3zM363.7 128.4l-1.3.5.1.3.7.2.8-.2.3-.6zM365.4 130.3l-.2.3 1.2.7.6-.1-.1-.6-.5-.2zM366.4 124.8l.2.6.6 0-.3-.5zM369.7 128.1l-.4.5-.3 1-.8 1 .2.5.7-.2 1.2-1.3-.2-1.2zM371.2 124.4l.2.6.6-.3-.3-.3zM372.4 133.6l-.2.1 0 .3.5-.1zM373.2 128.8l.2.5 1.6 1 .4-.2.7-.7-.4-.4-1.3.2zM377 123l-.6.4-.1.8.9.7.5 0 .4-.5.2-1-.3-.3zM378.4 128.1l0 .5.6-.2 0-.3zM379 121.1l-.2.5.4.5 1.5-.4.3-.3 0-.2-.3-.2zM383.2 123.8l-.3.6 0 1.8-.7 1.4.2.5.6-.2.2-.4.2-1.3 1-1.6-.4-.7zM366.2 133.3l-.4.6.4.4.4-.7zM371.4 135.6l0 .3.3.1.5-.1-.2-.4zM374.7 135.3l.1.6.4.2.1-.5zM381 134.4l.4 1 .5-.2-.4-.6zM383 134.8l-.4.4.9.4-.3 1.3 1.7 0 .1-.5-.3-.8-1-.8zM387.1 137.6l.3 0 .3.2 0 .9-.6-.3z"/>
<path fill="#1548ff" d="M383.2 118.9l.3 0 .8 2 .6.5 0 .8-.7.4-.8 0-1 .8-.8 0 .1.2.6.6.2 1.2-.3 1.2-.6 1.3.6.6.8-.1.7-1 .3-1.3.6-.5-.1 4.6-1 .7 1 1 .2 2.7-1.3-.6-.7.4-.7 0-1.8-1.2-.3.2-.2.8.3.4 1.7 1.4.5-.2.6.1 0 .5-.5.5.1.3 2 .2.3.2.3 1.3 0 1.7-1.6-.4-.3-.8-.4-.4-2.3.2-.7-.7-1 .1-1.7-.7-.3-.5-.7-.4-1 .3-1.3-.3 0-.9.3-.3 1 .8.4 0 .4-.4.7-1.3-.6-.5.1-.6 1-.3.6-.6.1-.5-.3-.4-.4.2-1.3 1.5-1.3-.5-1 .3-1-.5-1 .5-.1.4.4.7-.9 1-.1.6-1.7-.5-.8-1-.3-.1 0-3.2.3.2.8-.2 1.4-1.2.5-.8-.5-1.5-.4-.4-1 .9-.3 1-.8 1 0-4.2.8-.8 0-1.8 1.3-.2.7.1.5-.6 1.5-.4.3 0 .1.4.6.5.5 0 1-.8-.1-.7 1.9-.8 1.2-.2.3.5-.1 1.2-2 .4-.7.8-1 .6 1-.1 1.5 1 1 .1.2 1.2.8-.3.2.1-.2.9-.8.1-.3.5 0 1 .6.2 1.8-1.5.3-1.4-.5-.8-.3-.8-.6-.4-.7 0 0-.6.5-1 .3-.2 1.5-.4.5-1.1-.5-.3-1.3.2-.4-.2.1-.2zM382.7 132l-.4.4.2.5.5.3.1-.8zM371.2 123.8l-.4.4 0 .7.4.4.8 0 .4-.7-.7-.7zM374.2 125.3l-.7.6-.1 1.4-1.2.4-.6.9 2.6 1.6.5.5-.2.9.7.2.4-.4 0-1 .8-1-.4-.7-1.6.1-.7-.4-.1-.8.8-1.2 0-.8zM377.7 133.7l-.2.5.2.3.5.1.2-.2-.1-.5zM379 135.1l-.6.8.3.5.7-.3.4-.7-.4-.3zM371.7 130.2l-.7 1 0 .4.4.5 1.3.2.2-.4-.3-1.3-.4-.4zM372.9 134.4l.5-.2.3.4-.4.8-.8-.2 0-.3z"/>
</g></g>
<text x="393.0" y="105.3" style="font-family:'Liberation Sans',sans-serif;font-size:4px" fill="#3c3c3c">1.0</text>
<rect x="391.8" y="103.7" width="0.9" height="0.4" fill="#888"/>
<text x="393.0" y="118.2" style="font-family:'Liberation Sans',sans-serif;font-size:4px" fill="#3c3c3c">0.5</text>
<rect x="391.8" y="116.5" width="0.9" height="0.4" fill="#888"/>
<text x="393.0" y="131.0" style="font-family:'Liberation Sans',sans-serif;font-size:4px" fill="#3c3c3c">0.0</text>
<rect x="391.8" y="129.4" width="0.9" height="0.4" fill="#888"/>
<text x="392.1" y="143.8" style="font-family:'Liberation Sans',sans-serif;font-size:4px" fill="#3c3c3c">−0.5</text>
<rect x="391.8" y="142.2" width="0.9" height="0.4" fill="#888"/>
<text x="392.1" y="156.7" style="font-family:'Liberation Sans',sans-serif;font-size:4px" fill="#3c3c3c">−1.0</text>
<rect x="391.8" y="155.1" width="0.9" height="0.4" fill="#888"/>
<text transform="translate(403.3,129.6) rotate(-90)" text-anchor="middle" style="font-family:'Liberation Sans',sans-serif;font-size:3.8px" fill="#3c3c3c">z [AU]</text>
<text x="343.9" y="159.1" text-anchor="middle" style="font-family:'Liberation Sans',sans-serif;font-size:4.2px" fill="#3c3c3c">2</text>
<rect x="343.7" y="155.3" width="0.4" height="0.9" fill="#888"/>
<text x="362.1" y="159.1" text-anchor="middle" style="font-family:'Liberation Sans',sans-serif;font-size:4.2px" fill="#3c3c3c">3</text>
<rect x="361.9" y="155.3" width="0.4" height="0.9" fill="#888"/>
<text x="375.1" y="159.1" text-anchor="middle" style="font-family:'Liberation Sans',sans-serif;font-size:4.2px" fill="#3c3c3c">4</text>
<rect x="374.9" y="155.3" width="0.4" height="0.9" fill="#888"/>
<text x="385.1" y="159.1" text-anchor="middle" style="font-family:'Liberation Sans',sans-serif;font-size:4.2px" fill="#3c3c3c">5</text>
<rect x="384.9" y="155.3" width="0.4" height="0.9" fill="#888"/>
<text x="358.7" y="162.7" text-anchor="middle" style="font-family:'Liberation Sans',sans-serif;font-size:3.8px" fill="#3c3c3c">r [AU]</text>
<clipPath id="cp14"><rect x="418.4" y="103.9" width="66.6" height="51.4"/></clipPath>
<g clip-path="url(#cp14)"><g filter="url(#bl)">
<rect x="416.4" y="101.9" width="70.6" height="55.4" fill="rgb(104,4,10)"/>
<path fill="#68040a" d="M422.9 101.9l64 0 0 55.3-64 0-5.4-27.6z"/>
<path fill="#68040a" d="M423.4 101.9l63.5 0 0 55.3-63.5 0-5.4-27.6z"/>
<path fill="#68040a" d="M423.8 101.9l63.1 0 0 55.3-63.1 0-5.4-27.6z"/>
<path fill="#6d040a" d="M424.1 102.2l.1-.3 62.7 0 0 55.3-62.8 0-5.3-27.6.9-5.4z"/>
<path fill="#800308" d="M424.5 101.9l62.4 0 0 55.3-62.4 0-4.7-22.8-.7-4.8.7-4.7z"/>
<path fill="#930206" d="M424.8 101.9l62.1 0 0 55.3-62.1 0-3.3-17-1.5-6.3-.6-4.3.6-4.4 1.5-6.3z"/>
<path fill="#a60104" d="M425.1 101.9l61.8 0 0 55.3-61.8 0-3.4-17.3-1.5-6.3-.4-4 .3-4 1.6-6.4z"/>
<path fill="#ba0102" d="M425.4 102.2l0-.3 61.5 0 0 55.3-61.5 0-3.4-17.6-1.7-6.2-.2-3.8.2-3.7 1.7-6.5z"/>
<path fill="#cb0000" d="M425.8 101.9l61.1 0 0 55.3-61.2 0-3.5-17.8-1.7-6.2-.1-3.6.1-3.4 1.8-6.6z"/>
<path fill="#d60000" d="M426.1 101.9l60.8 0 0 55.3-60.8 0-3.6-18-1.9-6 0-6.8 1.9-6.5z"/>
<path fill="#e10000" d="M426.4 102.2l0-.3 60.5 0 0 55.3-60.5 0-3.7-18.6-.7-2.4-1.3-3.3.3-2.3-.1-3.2-.2-1 1-2.5 1-3.5z"/>
<path fill="#ec0000" d="M426.8 101.9l60.1 0 0 55.3-60.1 0-3.8-18.8-.9-3-1-2.2-.4-.3.4-.5.1-2.2-.1-3.3-.4-.5.4-.2.7-1.8 1.2-3.8z"/>
<path fill="#f70000" d="M427.1 102.2l.1-.3 59.7 0 0 55.3-59.7 0-3.9-19-.7-2.3-1.3-2.7-.5-.3.5-.7.2-2.3-.2-2.7-.5-.8.5-.2 2.1-5.3z"/>
<path fill="#ff0300" d="M427.6 102.2l.1-.3 59.2 0 0 55.3-59.3 0-3.8-19-1.3-3.3-1.1-1.7-.6-.3.6-.7.4-2.6-.4-2.4-.6-.8.6-.2.5-.8 1.9-4.5z"/>
<path fill="#ff0e00" d="M428.5 101.9l58.4 0 0 55.3-58.4 0-1.9-11.3-1.5-5.7-2.3-5.3-1-1.5-1-.5 1-1.5.3-1.8-.3-1.7-1-1.5 1-.5 1.5-2.5 1.7-4.2 1.6-5.8z"/>
<path fill="#ff1900" d="M435.2 101.9l51.7 0 0 55.3-51.7 0 0-11.3-.2-2-.5-1.5-.8-1.2-2.8-1.9-6.3-2.4-2.5-3.5-1.2-.5 1.2-1.7.2-1.6-.2-1.4-1.2-1.8 1.2-.5 2.5-3.6 7.3-2.9 1.3-1 1.1-1.2.6-1.6.2-2z"/>
<path fill="#ff2400" d="M439.3 101.9l47.6 0 0 55.3-47.6 0-.1-11.3-.3-2-.6-1.5-.9-1.2-1.8-1.4-5.7-2.2-1.7-.3-3.3-1.2-1.3-1.1-1.2-1.6-1.5-.5 1.5-2 .2-1.3-.3-1.2-1.4-2 1.5-.5 1-1.4 1.5-1.3 1.3-.6 7-2.2 3.4-1.6 1.2-1.2.9-1.4.4-2.3z"/>
<path fill="#ff3000" d="M442.6 101.9l44.3 0 0 55.3-44.3 0-.1-11.3-.4-2.3-.7-1.5-2.2-1.7-2-1.1-2.6-1-1.7-.3-7.7-2.4-1.3-.9-1.2-1.3-1.6-.5.5-1 1-1.3.3-1-.3-1-1-1.2-.5-1 1.3-.5 2.2-1.9 1.6-.8 11-3.2 3-1.8 1.2-1.3.7-1.5.4-2.2z"/>
<path fill="#ff3b00" d="M445.6 101.9l41.3 0 0 55.3-41.3 0-.2-11.6-.6-2.2-1.2-1.7-2-1.4-4.4-1.8-2.6-.8-1.7-.2-2.7-1-1.8-.2-3.2-1.2-1.3-.8-.9-.9-1.4-.2-.3-.3.3-1 1.1-1.3.4-1-.4-1-1.4-2 0-.2.3-.3 1.4-.5 1.9-1.3 1.3-.6 9.2-2.7 1.8-.2 2.2-1 3.5-1.8 1.4-1.4.7-1.2.4-2.2z"/>
<path fill="#ff4800" d="M448.4 101.9l38.5 0 0 55.3-38.5 0-.3-11-.6-2.6-1.1-1.5-1.2-.9-3.3-1.7-1.7-.4-5.3-1.7-1.7-.3-3-1-1.8-.2-3.5-1.2-1.5-1.3-1.5-.2-.4-.3-.1-.3.3-.7 1.7-2.3-1.7-2.2-.3-.8.3-.4 1.7-.6 2.8-1.6 4.7-1.4 1.5-.2 3-.9 1.8-.2 3.4-1.3 4.6-1.9 1.4-1.2 1.1-1.7.5-2.3z"/>
<path fill="#ff5500" d="M451.1 101.9l35.8 0 0 55.3-35.8 0-.1-7-.5-3.8-.9-2.5-2-2.3-2.2-1.3-3.5-1.4-1.7-.2-5.3-1.7-1.7-.2-3-1-1.8-.2-1.5-.7-1.7-.4-1.6-1.1-1.7-.2-.3-.3-.1-.3.3-.7 1.6-2.3-1.6-2.2-.3-.8.4-.4 1.9-.6 2.6-1.4 9.2-2.4 1.8-.2 8-2.6 1.3-.6 1.7-1.4 1.4-2.1.8-2.7.4-3.6z"/>
<path fill="#ff6200" d="M453.7 101.9l33.2 0 0 55.3-33.2 0-.3-6-.7-4-.8-2-1-1.6-2.3-2.3-2-1.2-3.2-1.1-3.2-.7-5.3-1.6-1.7-.1-2.9-1-1.9-.2-1.5-.7-1.7-.4-1.6-1-1.7-.2-.3-.5 1.2-2.2.7-.8-1.6-2.2-.3-.8.3-.4.7-.4 1.6-.2 2.2-1.1 1.5-.3 3-1.1 1.5-.1 3.2-1 1.8-.1 6.5-2 1.5-.3 2.5-1.1 2-1.6 2-2.7 1-2.8.6-3.8z"/>
<path fill="#ff6e00" d="M456.3 101.9l30.6 0 0 55.3-30.6 0-.6-5.3-1.1-4-1.7-3.3-2.7-3-2.3-1.4-4.5-1.6-3-.5-5.5-1.6-1.7-.1-2.8-1-2-.2-1.5-.7-1.7-.4-.6-.4-.7-.1-.3-.3-1.4-.2-.5-.5 1.2-2.2.6-.8-.6-.7-1.2-2.3.9-.7 2-.3 1.8-.9 1.5-.3 3-1 1.7-.2 3-.9 1.8-.1 6.5-2 1.7-.2 2.6-1 3-2.2 2.1-2.6 1.6-3.6.9-3.7z"/>
<path fill="#ff7c00" d="M458.7 101.9l28.2 0 0 55.3-28.2 0-1-5.3-1.5-4-2.7-4-3.3-2.9-3.3-1.7-3.5-1-3-.5-5.2-1.5-2-.1-2.8-1-1.8-.1-1.4-.7-2-.5-.3-.3-2.7-.6-.4-.4 1.1-2.2.7-.8-.7-.7-1.1-2.3 1-.7 2.1-.2 1.5-.9 1.5-.2 3-1.1 1.7-.1 3-.9 1.8-.1 6.8-1.9 1.4-.2 2.6-.8 3.2-2.1 2.8-2.8 2.2-3.6 1.4-3.8z"/>
<path fill="#ff8b00" d="M461.1 101.9l25.8 0 0 55.3-25.8 0-1.2-4.8-2.2-4.5-3.3-4.2-3-2.5-3.2-1.7-1.3-.5-4.7-1.3-1.8-.1-5.2-1.5-2-.1-2.8-.9-1.8-.2-1.4-.7-3.3-.7-1.9-.9 1-2.2.6-.8-.6-.7-1-2.3.9-.6 2-.3 1.5-.7 1.8-.3 2.7-1 1.7-.1 3-.9 2-.2 6.6-1.8 2.7-.4 3.3-1.5 2.4-1.6 3-3 2.6-3.6 1.8-4.2z"/>
<path fill="#ff9a00" d="M463.6 101.9l23.3 0 0 55.3-23.3 0-2-5.2-3-4.8-2.7-3-2-1.8-2.3-1.5-2.4-1.3-2.3-.8-4.5-1.2-2-.2-5.2-1.4-2-.2-2.8-.9-1.8-.1-1.4-.7-3.3-.7-1.7-.8.2-.7 1.3-2.3-1.4-2.4-.1-.6.7-.5 3.3-.7.2-.3 1.8-.3 3-1 1.4-.1 3-.9 2-.1 6.6-1.7 2.7-.5 3.5-1.4 3.5-2.2 3-2.8 2.3-2.7 2.7-4.8z"/>
<path fill="#ffa900" d="M466.4 102.2l.1-.3 20.4 0 0 55.3-20.5 0-1.3-2.8-2.6-4.2-2.3-2.9-4.3-4-4.3-2.8-4.4-1.9-4.8-1.2-2-.1-5.2-1.5-2-.1-2.6-.8-2-.3-1.4-.7-2-.1-.3-.3-.9-.1-1.6-1 1.3-2.8-1.2-2.4 0-.6.5-.4 3.2-.8.2-.2 1.8-.2 3-1.1 1.4-.1 3.3-.9 1.7 0 6.6-1.8 3-.4 3.2-1.3 3.5-1.9 3.3-2.5 2.4-2.5 3.9-5.1z"/>
<path fill="#ffb900" d="M470.1 102.2l.2-.3 16.6 0 0 55.3-16.8 0-1.8-2.6-5.7-6.4-4.2-3.8-5.5-3.6-5.7-2.4-4.8-1.2-2-.1-5.2-1.4-1.8-.1-2.8-.9-2-.2-1.2-.6-2.2-.2-.3-.2-.7-.1-1.6-1 1.2-2.8-1.2-2.4 0-.3.6-.6 1.7-.5.3-.2 1-.1.2-.3 1.8-.1 3-1 1.7-.2 3-.8 1.7-.1 6.6-1.7 3-.4 5.7-2.4 4.3-2.7 2.7-2.3 6.7-6.9z"/>
<path fill="#ffc903" d="M476.1 102.2l.5-.3 6.9 0 3.4 1.4 0 52.7-2.5 1.2-8.3 0-10.7-8-2.5-2.2-3.5-2.6-6.5-4-4.5-1.8-4.8-1.2-3.2-.4-5.2-1.4-1.8-.1-2.8-.9-2-.2-1.2-.6-2.2-.1-2.3-1.3 0-.2 1-2.6-1-2.4.4-.8 1.9-.8 1-.1.2-.2 2-.1.2-.3 2.6-.7 1.7-.1 2.7-.9 2-.1 6.6-1.6 3-.4 5.7-2.2 6.5-4 13.5-10.7z"/>
<path fill="#ffdf0f" d="M477.5 105.4l2.9-.1 2 .2 2 .8 2.5 1.4 0 43.7-2.5 1.6-1.5.6-1.7.4-2.8 0-1.5-.3-4.7-2.2-5.3-2.9-3.8-2.7-5.7-3.5-3.2-1.7-3.6-1.5-2.2-.8-6-1.5-1.8 0-5.2-1.4-2-.1-2.8-.9-2-.1-1.2-.6-2.2-.2-1-.4-1.1-1 1-2.6-1-2.4.2-.6.8-.4 2.3-.9 2-.1.2-.3 1 0 .3-.3 1.3-.3 1.7-.1 3-.9 2-.1 6.5-1.6 1.5-.1 4.7-1.4 3.6-1.5 4.4-2.4 7-4.7 7.8-4.5zM427.4 127.4l.2.6.3-.2 0-.6z"/>
<path fill="#fff51b" d="M477.5 107.6l2.9-.1 2 .4 2.8 1.3 1.7 1.6 0 37.4-1.7 1.8-2 1.1-1.6.5-1.4.2-2.3-.1-1.7-.5-10.3-4.5-2.7-1.7-4.6-2.5-6.7-3.1-3.5-1.1-5.8-1.4-2-.1-5.2-1.4-2-.1-1.5-.6-.7 0-.3-.3-2.3-.1-1.2-.5-1.9-.2-1.1-.5-1-.9.8-2.6-.9-2.4.8-.8 1.3-.7.8-.1.2-.2 2-.2.2-.2 1-.1.3-.2 1-.1.3-.2 1.7-.1 3-.9 2-.1 6.5-1.6 1.6-.1 5.9-1.7 6.7-3.1 4-2.5 6.8-3.5 4.5-2zM426.4 128.1l-.2.1 0 .3.5.1 0-.2zM427.6 127.1l-.3.3.3.7.5-.7z"/>
<path fill="#f3fc1e" d="M478.1 109.2l3.1 0 2.7 1.1 1.8 1.6 1.2 2.1 0 9-.8 6.6.8 6.7 0 8.8-1.5 2.4-1.5 1.4-1.5.8-2.2.5-2 0-1.6-.4-10.4-4-7.3-3.7-7-2.9-3.3-1-6-1.5-2 0-5.2-1.4-2-.1-1.2-.6-1 0-.3-.2-2.3-.1-1.2-.6-1.8-.1-1.2-.8-.8-.9.8-2.3-.8-2.4 1.8-1.4 1-.4 2-.1.2-.3 1 0 .3-.3 1 0 .3-.3 1.7 0 3-.9 2-.1 1.5-.5 5-1.1 1.8-.1 4.4-1.2 7-2.7 5-2.7 7-3.1 4.8-1.8zM426.2 128.1l-.1.5.7 0-.2-.4zM427.6 127.1l-.2.1-.1.4.3.6.3-.1.3-.7-.1-.2z"/>
<path fill="#e2fe1e" d="M478.1 110.4l3.1 0 2.4 1.2 1.5 1.6 1.1 2.7 0 2.7-1.4 11 1.4 11 0 2.6-.3 1.2-1.1 2-1.6 1.5-1.6.8-2.7.3-2-.4-10.7-3.6-1.8-1-5.5-2.4-7-2.6-9.3-2.4-2 0-5.2-1.4-2-.1-.2-.2-2-.3-.3-.3-2.3-.1-1.2-.5-1.9-.3-1.6-1.5.7-2.3-.7-2.4 1.6-1.3 1.1-.5 1.8-.1 1.5-.5 1-.1.3-.2 2-.1.2-.2 1-.1.2-.2 1.3-.3 2-.1 1.5-.5 5-1.1 1.8 0 2.4-.6 5.8-1.8 4.5-1.8 4-2 7-2.8 4.7-1.6zM426.2 128l-.2.2 0 .4.4.2.6-.2-.3-.4zM427.4 127.1l-.2.5.4.7.3-.1.3-1z"/>
<path fill="#d4ff1e" d="M478.2 111.4l2.7 0 2.1 1 1.2 1.2 1 2.6 0 2.2-1.5 11.2 1.5 11.3 0 2.3-1.3 2.7-1.3 1.2-1.2.6-2.8.3-1.7-.4-1.5-.7-3-.7-1.8-.8-4.2-1.1-2.8-1.3-7-2.6-8-2.5-3.2-.6-2.8-.8-2 0-2.4-.8-1 0-.3-.3-1 0-.3-.3-2.2 0-.2-.2-2-.3-.3-.3-2.3-.1-.2-.2-2.8-.7-1.3-1.4.5-2.3-.7-2.2 1.5-1.4 1-.5 1.8-.2 1.5-.5 1-.1.3-.2 2-.1.2-.2 1 0 .2-.3 1 0 .3-.2 2.3-.1 1.2-.5 5-1.1 1.8 0 2.4-.6 8-2.5 9.8-3.9 8.5-2.8zM425.9 128.1l0 .5.3.2.7.1.2-.3-.5-.6zM427.4 127l-.3.6.2.6.3.2.4-.2.2-1z"/>
<path fill="#caff1c" d="M477.8 112.4l2.6-.2 2 .8 1.1 1.2.9 2 0 2.2-1.5 11.2 1.5 11.3 0 2-1 2.3-1.2 1.2-1.3.6-2.3.1-1.4-.3-1.6-.7-3.2-.7-1.5-.7-4.5-1.1-1.8-.8-5.4-1.9-10.6-3.1-3.2-.6-2.5-.8-2.3 0-.2-.3-1 0-.2-.2-3.3-.5-.3-.3-2.2 0-.2-.3-2-.3-.3-.2-2.3-.1-2.7-1.1-1.4-1.5.6-2-.6-2.2 2.1-1.8 3-.5.3-.3 1 0 .3-.3 2 0 .2-.3 1 0 .2-.2 1-.1.3-.2 2.3 0 1.2-.5 2.2-.3.3-.3 1 0 1.5-.5 1.8 0 2.4-.6 10.6-3.1 2.7-1.2 4.5-1.5zM427.4 127l-.5 1-1-.1-.2.5.2.4 1.3.1.2-.4.5-.1.4-1.2zM428.9 131.5l-.2.1.2.3.5-.3z"/>
<path fill="#b4ff16" d="M478.6 113.9l1.8 0 1.2.6 1.1 1.9 0 1.8-1.5 11 1.3 11.2.2.8 0 1.4-.7 1.6-.8.8-.8.4-1.5.1-1.3-.3-1.7-.8-3-.5-1.7-.7-4.6-.9-2.4-1-8-1.9-1.3-.5-3.5-.5-.2-.3-1 0-1.3-.5-3.5-.5-.2-.2-2-.3-.3-.3-2.3 0-.2-.2-1 0-.2-.3-3.3-.5-.3-.3-2.2 0-.2-.3-2-.3-.3-.2-2-.2-2.7-1.5-1.1-1.1.5-2 .3-.3 1.3 0 .4-.2.6-.7.2-1-.2-.4-.8 0-1 .7-.3-.1 0-.5 1.2-1 2.7-1 .9 0 .3-.3 2 0 1.4-.6 1 0 .3-.2 2.3-.1 1.2-.5 3.5-.5.3-.2 1 0 .2-.3 2 0 .2-.3 3.3-.5.3-.2 1 0 .2-.3 3.5-.5 1.3-.5 5.2-1.2 2-.9 5.5-1.2 1.7-.7zM428.9 131.3l-.3.3.3.5.8-.5z"/>
<path fill="#a0ff1d" d="M478.7 114.6l.2-.2 1.3 0 1 .5.9 1.5 0 1.8-.2.2 0 1.8-.3.2 0 1.8-.2.2 0 2-.3.2 0 1.8-.2.2 0 1.8-.3.2 0 2 .3.3 0 1.7.2.3 0 1.7.3.3 0 2 .2.3 0 1.7.3.3.2 3.4-.5 1-1.4 1.3-1.3 0-2.5-1-3.2-.5-1.6-.8-1 0-.2-.2-3.5-.5-2.5-1-1-.1-.2-.2-2.3-.3-1.3-.5-3.4-.5-1.3-.5-4.7-.7-1.3-.5-3.5-.6-1.2-.5-1 0-.3-.2-2.3 0-.2-.3-1 0-.2-.2-3.3-.6-.3-.2-2.2-.1-2.5-.9-1.7-.3-2.9-2.1-.4-.4.3-1.8 1.2-.2.8-.8.4-1.5-1.1-.3 1.7-1 2.2-.9 1.8-.1 1.4-.5 1 0 .3-.3 2.3 0 1.2-.5 4.8-.8.2-.2 2 0 1.5-.5 1-.1 1.3-.5 4.7-.7 1.3-.5 2.2-.3.2-.2 1 0 1.3-.5.7-.1.8-.4.8-.1.2-.2 2.2-.3 1.3-.5 1 0 .3-.2 1 0 .2-.3.8 0 .7-.5 4-.7.7-.5 1.8-.3.2-.2zM428.6 131.3l-.2.6.2.4 1.5-.4.2-.3z"/>
<path fill="#90ff2f" d="M478.8 114.6l1.4-.1 1 .5.8 1.4 0 1.8-.2.2 0 1.8-.3.2 0 1.8-.2.2 0 2-.3.2 0 1.8-.2.2 0 1.8-.3.2 0 2 .3.3 0 1.7.2.3 0 1.7.3.3 0 2 .2.3 0 1.7.3.3.2 3.4-.5 1-1.3 1.2-2.3-.3-1.5-.7-3.2-.5-1.6-.8-4.7-.7-2.5-1-1 0-.2-.3-2.3-.2-1.3-.5-3.4-.5-1.3-.5-4.7-.8-1.3-.5-3.5-.5-.2-.3-2-.3-.3-.2-2.3 0-.2-.3-1 0-.2-.2-2-.3-1.6-.5-2-.2-4.3-1.8-.2-.3.3-.2 1.3-.5-.3-.4-1.8-.3-.4.7-1.5-1 .2-1.5.5 0 .6-.5 1.3-2.5 2.3-1.4 1.6-.2 2.9-.9 2.1 0 1.2-.5 4.8-.8.2-.3 2 0 .2-.2 3.3-.5.3-.3 4.7-.8 1.3-.5 3.4-.5 1.3-.5.7 0 .8-.5 3.2-.5 1.3-.5 1 0 .3-.2 1 0 .2-.3.8 0 .7-.5 1.7-.2.3-.3 1 0 .3-.2.7 0 .7-.5zM436.4 130.4l-.5.5.5.4.2-.7z"/>
<path fill="#82ff4a" d="M478.9 114.6l1.3 0 1 .5.7 1.3 0 1.8-.2.2 0 1.8-.3.2 0 1.8-.2.2 0 2-.3.2 0 1.8-.2.2 0 1.8-.3.2 0 2 .3.3 0 1.7.2.3 0 1.7.3.3 0 2 .2.3 0 1.7.3.3.2 3.4-.5 1-1.2 1.1-2.3-.3-1.5-.7-3.2-.5-1.6-.7-4.7-.8-2.5-1-1 0-.2-.2-3.3-.6-.3-.2-3.4-.5-1.3-.5-4.7-.8-1.3-.5-3.4-.5-2.6-.7-2-.1-5-1.4-2-.3-3.4-1.8 0-.2.5-.2-.4-.8-2.4-.4-.6-.6.1-1 .6-.8.3-.8 1-.8 2.3-1.3 4.3-1.6 2-.1 1.4-.5 4.6-.9.3-.2 1.9 0 .3-.2 3.2-.6.3-.2 4.7-.8 1.3-.5 3.4-.5 1.3-.5.7 0 .8-.5 3.2-.5 2.6-.7 1-.1.2-.2.8 0 .7-.5 3-.5.3-.2.7-.1.7-.4zM430.2 128.3l-.4.6.4.3.5-.8-.3-.2zM436.4 130.1l-.8.5.8 1.2.6-1.4-.1-.3z"/>
<path fill="#76ff70" d="M479.1 114.6l.9 0 1.2.6.6 1.4-.5 5.6-.2.2 0 2-.3.2 0 1.8-.2.2 0 1.8-.3.2 0 2 .3.3 0 1.7.2.3 0 1.7.3.3 0 2 .2.3.5 5.2-.5 1.2-1.3 1-.9 0-2.7-.9-3-.5-1.8-.8-4.5-.8-2.7-1-14-2.8-7.5-1.8-1.8-.1-1.2-.3-5.7-1.8-.6-.9-1.4-.2-1.6-1.4-1.3-.4-.3-.5 0-1.5.9-1.1 1.3-.8.7-.3.5 0 .8.7.2-.5-.2-.4-.5-.1.1-.2 3.6-1.6 2-.3 1.5-.6 4.7-1.1 1.8-.1 4-1 4.5-.8 1.5-.5 3.2-.5 2-.5 1-.5 6.6-1.3 1.9-.8 3.8-.7 1-.5zM430.2 128.1l-.6.8.3.5.5-.2.5-.8-.3-.4zM436.2 130.1l-.9.5 1.1 1.5.5-.9.3-1-.3-.3z"/>
<path fill="#6cff96" d="M479 114.9l.9-.1 1.2.6.6 1.2-.5 5.3-.3.5 0 1.8-.5 2.4 0 1.6-.2.4 0 2 .2.6 0 1.4.3.6 0 1.4.2.6 0 1.7.3.5.5 5-.6 1.2-1.2.9-1.7-.3-1.8-.7-3-.5-1.8-.7-4.4-.8-2.8-1-13.8-2.9-7.4-1.9-2-.2-6.6-2.3-.4-.5-1.9-.8-1.6-1.3 0-1.4.5-1.3 1.2-.8.4.3.4.8.5-1.6.7-.4 1 .1 1.1-.4.4-.7 1.5-.3 5.2-1.8 3-.4 9.8-2.3 3.5-.6 2-.5.7-.5 6.6-1.2 2-.8zM436.4 129.8l-1.2.6-.1.2.9 1.6.4.1 1-1.9-.2-.5zM438.9 125.3l-.3.3.3.3.4-.5z"/>
<path fill="#64ffbc" d="M479 115.2l.6-.2 1 .4.8 1.2-.5 5.3-.2.5 0 1.8-.5 2.4 0 1.6-.3.4 0 2 .3.6 0 1.4.2.6 0 1.4.3.6 0 1.7.2.5.5 5-.7 1.2-.8.6-.5.1-2.8-.9-3-.6-1.7-.7-4.5-.8-2.8-1-8-1.6-10.4-2.6-3-1-1.8-.2-4.5-1.7-.7-.5-1.3-.2-.3-.5-.4.1-1.5-1.2 0-2.3.7-.3.2-.8 4-1.8 1.3.5 1.5-1.3 1-.5 3.8-1.1 1.4-.1 5.3-1.5 8-1.6 4-1.3 5.5-1.1 2-.7zM436.9 129.6l-2 .8.1.8.6.4.6 1 .4-.3 1.2-1.7-.4-.8zM439.6 132.6l-.2.6.5.5.3-.5zM441.2 125.9l-.3.5.5.2.2-.2.1-.5zM442.4 133l-.3.4.8.4.1-.6zM451.4 135.1l-.2.6.4-.3zM452.4 133.6l-.4.3.2.2.7-.2zM455.4 136.1l.2.6.6-.2-.3-.4z"/>
<path fill="#60f8e1" d="M479.3 115.4l1.1.3.6 1.2-1.3 11-.2.7 0 2 .2.8 1.3 10.8-.6 1.2-.8.5-3-.9-3-.6-1.7-.7-4.5-.8-2.8-1-13.7-3.1-2.3-.7-1.2-.8-.5.3-.7-.1-2.3-.8-.6-.5-.1-.8-.4-.5-.8.3-.1.2.7.8-.2.2-.8-.1-1-.4-.3-1-.7-.5-.4.2-.3.6-2-.8.5-1.1 1.3-.1-1.3-1.6-.8-.1-1.6.4.1-2 .9-.7 1.2-.7 1-.2 1 .2 1.2-1 .4.1-.2.8.2.2.8.1.9-1.8.4-.3 17.3-4.2 3.7-1.2 5.5-1.1 2-.7zM446.6 130.1l-.7.3 0 .5.5 0 .8-.5zM451.4 134.8l-.6.8.1.7.5-.1.3-.6.1-.4zM451.9 133.6l-.2.6.2.1 1-.1.2-.3-.5-.4zM455.6 135.9l-.4.2-.1.3.3.4.8.1.1-.5z"/>
<path fill="#5ee7ff" d="M479.4 115.9l.6.3.4.7-1.2 11-.3.7 0 2.3.3.5.5 5.8.7 4.4 0 .6-.8 1.2-2.7-.8-3-.6-1.7-.7-4.6-.9-1.7-.7-7.5-1.7-1-.7-.8 0-.1-.9-.6-.6-1.3.1.3 1-.3.2-2.4-.6-.4-.3.2-1.6 1.3-.4 0-.6-.4-.2-.7 0-.5.2-.5 1-1 1.4-2-.6-.6-.4-1.2-.1-2.8-.9-.3-.8-.4-.4-.7 0-.5.4-.1.4-.2-.1-.8-.3-.9-1.3-.1-.5-1.7-1.5.1-2.5.6-.4.8.3.2-.1 0-.6.6-.3.4.5 1 .1 1.5-1.7 9.3-2.5 1.2.1 1-.6 1.8-.2 7.8-2.3 5.4-1.2 2-.7zM446.9 129.9l-1.2.5 0 .8 2.6-.8zM461.6 136.6l-.1.6.1.6.6 0 .7-.6zM470.4 123.3l-.4.6.6.4.3-.7zM471.9 139.6l0 .3.3.2.5-.5-.3-.2zM478.4 119.9l-.2 0-.3.5.5.4.7-.4-.1-.2zM437.9 131.6l1.1.3-.1.5z"/>
<path fill="#48b9ff" d="M479.4 116.4l.4.8-.3 2.2-.3.3-1-.1-.4.6.4.7 1 .1.1.4-.3 1 .1 1.2-.5 4-.3.8 0 1.8-.7.7.9 1.3.3 1.4.4 4.3-.1 1.5.7 2.5-.4 1-2.2-.8-2.8-.5-2.2-.9-4.3-.7-1.7-.7-3.3-.8-.4-.3.7-.8.1-.5-1.1-.3-.8-.9-.3-.1.2 1.3-.1 1.2-3-.7-.2-.5.2-.5-.3-.2-1 .4-1-.9-1.5-.1-.4 0-.1.7-1.5-.3-.3-.1.1-1 1-.3.3-.4 0-.6-.3-.3-.8-.1-.8.3-1.2 1.9-6-1.8-.8-.3-.7-.8-1 .2-.5-.3-.1-5.2.6-.1.5-.7.8-.5 2.4-.9 1.6-.2 5.2-1.5.8.3 1.7-.9 2.3-.5 1 0 .7-.5 4.5-1.3 6.5-1.4 2-.7 1.7.3 1-.9zM443.2 126.6l-.1.6.5 0 .1-.3zM445.4 126.4l-.5.5.5.4.4-.4-.2-.5zM446.9 129.5l-1.4.9-.1 1 .2.3 1-.6 1.3-.3.7.2.8.6.4-.2-.2-.4-1.2-.9zM448.6 127.4l0 .3.6.1.3-.4-.3-.2zM451.2 128.6l-.2.3.2.3.4-.6zM455.4 133.5l-.3.4.3.3.4-.3-.2-.4zM462.9 129.1l-.9 1.3.2.2.8-1zM470.2 123.3l-.4.6.4.5.4.1.4-.3 0-.8zM471.9 139.3l-.3.3.3.9.3.1.9-.7-.5-.6zM477.4 136l-.3.4.5.3.3-.5-.3-.3z"/>
<path fill="#3086ff" d="M478 117.2l1.2-.3.1.3-.3 2-.4.2-.7-.2-.2 1 .2.7.8.5 0 .2-.3.8.1 1.2-.5 1 .3 1-.5 2.8 0 1.8-.6.7.8 1.3.5 3.7-.1.4-.8-.8-.9.9.2.3 1.3.4.4.8.6 4-.3.4-4.5-1.2-.3-.2-.2-1-1.3-.9-1 .3-.2.9-3.5-.7-1.5-.7-3.2-.7-.2-.2.5-.5.1-.5-1.4-.5-.8-1.1-.5.1 0 .2.3 1.3 0 .5-.3.1-2.5-.6 0-.5-.2-.4-1.3.3-1-.7-2.2-.4-.2-.3.2-1.3-.3-.5-1.5.1-.6.4-.7 1.2-.2 0-3.5-1.2-.9-.7.2-1.3.8-.4 1.4-.1 1.2.7.6-.4-.3-.5-3-1.8-.9.5 0-3.4.3-.3 5.1-1.7 1.8-.2.7-.5 3.5-.9.8 0 6.3-2 5.4-1.1 2.3-.8 1.4.3.8-.8zM448.9 127l-.6.6.9.4.7-.6-.2-.2zM451.2 128.3l-.6.9.3.4.5-.2.5-.8-.3-.3zM455.2 133.4l-.2.8.6.1.4-.4-.1-.4-.3-.3zM457.2 128.4l-1.5.5.5.4.7 0 .5-.4zM458.9 130.5l-.2.1.9.6.4 0-.1-.6zM462.9 128.3l-.3.3-.3 1-.7 1 0 .3.6 0 1.2-1.3-.2-1.2zM466.6 122.1l0 .5.3.2.5 0 .3-.4-.5-.5zM468.4 129.1l-.7.3 0 .2.5.5.4-.2.4-.5-.1-.3zM470.2 123.1l-.4.3-.2.5.3.5.7.3.5-.3.1-1-.3-.3zM476.6 124.1l-.3.8.3.8 1-1.1-.3-.4zM459.2 133.6l.2.5.2-.5-.2-.1z"/>
<path fill="#1f60ff" d="M478.1 117.6l.4 0-.1.8-.2.2-.6 0-.3.3.3 1.7.5.8-.3 2-.4.2-.8.1-.4.3-.1 2.2-.8 1.4.3.5.6-.1.4-.8.2-1 .8-.6-.7 5.3.5.7.2 2.8-.1.2-.9 0-.8.6.8.4-.2 1.3 1.1.3.5.4.4 3.9-4-1 .2-.5 1.3 0 0-.6-.5-.3-1.5.5-1.5-.8-.9.4-.3.4-2.8-.6-.1-.4.3-.4.8 0 .4-.3-.4-.5-1.6.5-.4.8-1.5-.5.6-1 0-.8-.1-.3-.8-.3-.4-.5-.6.1-.2.5 1.2.5.2.5-.2.5-.7.5-1.1-.3 0-1-1.6-.4-.8-1.2-.5.1-.3.3.3 1.5-2-.5-.7-.6-1.2.1-3.1-1.2-.1-1.8-.6-.5 0-7.5.2-.3 10.5-3.2.7.3 1.3-.8 5.3-1.1 1.2-.6 1.2 0 .8-.5 2.5-.7.5.2zM454.9 131.5l-.1.4.7.5.1-.8-.2-.2zM457.2 125.9l-.4.3.1.2.7.6.1-.6zM458.4 130.1l-.2.6 1.4.9.6-.1.3-.3-.2-.6-.7-.4zM461.2 124.1l-.6.6-1-.2-.2.1.1.8.7.4 1.2-.4.2-.5zM461.9 122.6l-.2.3.2.3.4-.3zM462.6 128.1l-.4 1.4-.9 1.1.1.6.8-.1 1.4-1.5-.3-1.4-.1-.3zM464.4 124.2l0 .8.8-.1-.1-.5zM465.9 127.9l-.3.3 0 .2.9 1 1.7 1 1-.8.1-.4-.4-.3-1.5.2-.7-.5-.5-.7zM466.6 121.8l-.2.6.2.5.8.1.5-.4.1-.2-.4-.5zM469.9 123.1l-.5.5 0 .6 1 .8.5 0 .4-.6.1-1.2-.8-.2zM471.9 127.9l-.4.3.1.5.6-.2.2-.3zM472.2 121l-.2.6.4.6 1.5-.4.3-.4.1-.2-.4-.2-1 .2zM455.4 132.8l-.7.8.1.8.4.3.4-.1.6-.7-.3-1-.3-.2zM456.9 128.1l-1.5.5-.3.6.3.3.8.1 1.2-.3.3-.4-.1-.5-.2-.3zM459.2 133.1l-.4.8.6.6.4-.3.3-1-.5-.2zM465.2 130.6l-.6.6.3.4.5-.2 0-.5zM467.6 133.8l-.2.4 0 1 .5.7.5.3.3-.6-.7-.7-.1-1zM474.2 134.3l-.3.1.4.8.6.2.3-.2-.1-.3zM465.4 133.5l-.3.4.5.4.5-.4 0-.3z"/>
<path fill="#1548ff" d="M476.6 118.9l.6.8 0 1.5-.3 1.3-1 .9-.9.2.6.6.1 1.2-.3 1.2-.5 1 .3.7 1 .1 0 2.5.5 3-.6.5-.7.1-2-1.3-.3.2-.2.5.3.7 1.4 1.2.3.2.7-.3.5.2-.4 1.3 1.3.2.4 3.1-.9-.3-.2-.8-.4-.4-1-.1-1 .4-.4-.1-.6-.7-1.5.3-1.5-.4.2-.5-.2-.6-.5-.4-.8 0 1.2-1.7-.1-.6-.3-.2 0-.5 1-.5.4-.5.1-.5-.3-.4-.2 0-1.2 1.3-.6.1 0-1.5.3-.5 0-1 .9-1-.6-.7-.6-.1 0-4 .4-.2 1.4 1 .9 0 .3 1.3.8-.4.2.1-.2.9-.8.1-.4.8.2.8.5.1.5-.3 1.3-1.2.3-1.4-.6-.8-.2-.8-.6-.4-.7-.1 0-.5.5-1 1.8-.6.5-1.1-.5-.3-1.3.2-.4-.2-.2-.4zM475.9 132.1l-.2.5.5.5.2-.2 0-.5zM470.9 133.6l-.4.6.4.4.5 0 .2-.2 0-.5zM472.2 135.1l-.7.8.4.6.7-.4.4-.7-.4-.4zM470.8 120.6l.4 0 .4.8 0 1.1-1.4.2-1.3 1-.3-.1 0-2.2z"/>
</g></g>
<text x="486.2" y="105.3" style="font-family:'Liberation Sans',sans-serif;font-size:4px" fill="#3c3c3c">1.0</text>
<rect x="485.0" y="103.7" width="0.9" height="0.4" fill="#888"/>
<text x="486.2" y="118.2" style="font-family:'Liberation Sans',sans-serif;font-size:4px" fill="#3c3c3c">0.5</text>
<rect x="485.0" y="116.5" width="0.9" height="0.4" fill="#888"/>
<text x="486.2" y="131.0" style="font-family:'Liberation Sans',sans-serif;font-size:4px" fill="#3c3c3c">0.0</text>
<rect x="485.0" y="129.4" width="0.9" height="0.4" fill="#888"/>
<text x="485.3" y="143.8" style="font-family:'Liberation Sans',sans-serif;font-size:4px" fill="#3c3c3c">−0.5</text>
<rect x="485.0" y="142.2" width="0.9" height="0.4" fill="#888"/>
<text x="485.3" y="156.7" style="font-family:'Liberation Sans',sans-serif;font-size:4px" fill="#3c3c3c">−1.0</text>
<rect x="485.0" y="155.1" width="0.9" height="0.4" fill="#888"/>
<text transform="translate(496.5,129.6) rotate(-90)" text-anchor="middle" style="font-family:'Liberation Sans',sans-serif;font-size:3.8px" fill="#3c3c3c">z [AU]</text>
<text x="437.1" y="159.1" text-anchor="middle" style="font-family:'Liberation Sans',sans-serif;font-size:4.2px" fill="#3c3c3c">2</text>
<rect x="436.9" y="155.3" width="0.4" height="0.9" fill="#888"/>
<text x="455.3" y="159.1" text-anchor="middle" style="font-family:'Liberation Sans',sans-serif;font-size:4.2px" fill="#3c3c3c">3</text>
<rect x="455.1" y="155.3" width="0.4" height="0.9" fill="#888"/>
<text x="468.3" y="159.1" text-anchor="middle" style="font-family:'Liberation Sans',sans-serif;font-size:4.2px" fill="#3c3c3c">4</text>
<rect x="468.1" y="155.3" width="0.4" height="0.9" fill="#888"/>
<text x="478.3" y="159.1" text-anchor="middle" style="font-family:'Liberation Sans',sans-serif;font-size:4.2px" fill="#3c3c3c">5</text>
<rect x="478.1" y="155.3" width="0.4" height="0.9" fill="#888"/>
<text x="451.9" y="162.7" text-anchor="middle" style="font-family:'Liberation Sans',sans-serif;font-size:3.8px" fill="#3c3c3c">r [AU]</text>
<clipPath id="cp15"><rect x="511.8" y="103.9" width="66.6" height="51.4"/></clipPath>
<g clip-path="url(#cp15)"><g filter="url(#bl)">
<rect x="509.8" y="101.9" width="70.6" height="55.4" fill="rgb(104,4,10)"/>
<path fill="#68040a" d="M516.4 101.9l63.9 0 0 55.3-63.9 0-5.3-27.6z"/>
<path fill="#68040a" d="M517 101.9l63.3 0 0 55.3-63.3 0-5.4-27.6z"/>
<path fill="#68040a" d="M517.5 101.9l62.8 0 0 55.3-62.8 0-5.4-27.6z"/>
<path fill="#6d040a" d="M517.9 101.9l62.4 0 0 55.3-62.4 0-3.6-18.4-1.2-4.9-.6-4.3.6-4.2 1.2-5.1z"/>
<path fill="#800308" d="M518.3 101.9l62 0 0 55.3-62 0-3.7-19-1.4-4.8-.3-3.8.3-3.7 1.4-4.9z"/>
<path fill="#930206" d="M518.7 101.9l61.6 0 0 55.3-61.7 0-3.8-19.5-1.4-4.3-.2-3.8.2-3.7 1.5-4.7z"/>
<path fill="#a60104" d="M519 101.9l61.3 0 0 55.3-61.3 0-3.8-19.6-.6-2-1-2.4-.1-6.8 1.7-5z"/>
<path fill="#ba0102" d="M519.4 101.9l60.9 0 0 55.3-61 0-3.9-19.8-.6-2-1.1-2.2.2-3-.2-3.8 1.8-4.8z"/>
<path fill="#cb0000" d="M519.7 101.9l60.6 0 0 55.3-60.6 0-3.9-19.8-.7-2.2-1.2-2 .2-3-.3-3.8 1.4-2.8.6-2z"/>
<path fill="#d60000" d="M520 102.2l.1-.3 60.2 0 0 55.3-60.2 0-3.9-19.8-.9-2.5-1.4-2 .5-3.3-.5-3.2 1.5-2.5.7-2z"/>
<path fill="#e10000" d="M520.5 101.9l59.8 0 0 55.3-59.9 0-3.9-20-1.1-2.6-1.3-1.7.5-3.3-.5-3.2 1.7-2.5.7-1.7z"/>
<path fill="#ec0000" d="M520.9 101.9l59.4 0 0 55.3-59.4 0-4-20-1.3-2.8-1.5-1.5.8-3.3-.8-3.2 1.9-2.2.9-2z"/>
<path fill="#f70000" d="M521.3 102.2l0-.3 59 0 0 55.3-59 0-4-20-.6-1.6-1.1-1.6-1.5-1.1 1-3.3-1-3.2 2.3-2.2.9-2z"/>
<path fill="#ff0300" d="M521.9 101.9l58.4 0 0 55.3-58.4 0-4-19.8-1.1-2.2-1.2-1.5-1.4-.8.5-1 .6-2.3-.6-2.2-.5-1 .5-.2 2.1-2 1.1-2.3z"/>
<path fill="#ff0e00" d="M522.8 101.9l57.5 0 0 55.3-57.5 0-2.6-15.3-1-3.5-.8-1.8-.9-1.2-1.9-1.9-1.4-.6.6-1 .7-2.3-.7-2.2-.6-1 .6-.2 1.6-1.3 1.3-1.3.8-1.2.9-2.2.8-3z"/>
<path fill="#ff1900" d="M528.8 101.9l51.5 0 0 55.3-51.5 0 0-15-.1-1.8-.4-1.2-.7-.8-1.3-.9-3.3-1-4.2-.8-3.1-2.3-1.4-.4.9-1.8.5-1.6-.5-1.4-1-1.8 4.8-3 6.1-1.2 2.2-1.1.8-.9.5-1.3.2-1.7z"/>
<path fill="#ff2400" d="M533 101.9l47.3 0 0 55.3-47.3 0-.1-14.8-.1-1.9-.4-1.1-1.4-1.5-2.2-.9-2.2-.6-6-.9-2-.5-2.3-1.2-.8-.6-1.2-.3 1.2-2 .3-1.3-.3-1.2-1.2-2 5.3-2.5 5.7-.8 5.1-1.5.6-.3 1.3-1.1.5-1.3.1-1.7z"/>
<path fill="#ff3000" d="M536.4 101.9l43.9 0 0 55.3-43.9 0-.1-15.3-.3-1.7-.6-1.3-2.1-1.3-2.3-.8-4.2-.9-6.2-.8-2.8-.7-1.5-.7-.5-.5-1.5-.3 1.3-2 .4-1.3-.4-1.2-1.3-2 5.3-2.1 6-.8 3-.7 2.4-.3 2.3-.8 1.8-1.1.5-.4.5-1.3.2-1.7z"/>
<path fill="#ff3b00" d="M539.4 101.9l40.9 0 0 55.3-40.9 0-.1-15.6-.4-1.7-1-1.3-2.3-1.1-2.3-.7-6.5-1.3-6.2-.7-3-.8-1.3-.5-.3-.4-1.5-.2 1.6-3.3-.5-1.2-1.1-1.5 0-.5.5-.3 1.1-.2 3.7-1.4 5.8-.6 7.7-1.4 3.5-1.3 1.8-1.3.6-1.3.2-1.7z"/>
<path fill="#ff4800" d="M542.3 101.9l38 0 0 55.3-38 0-.1-14.8-.3-2-.9-1.2-1-.8-4.2-1.5-9-1.7-6.2-.6-3-.8-1.6-.7-1.4-.2.4-1.3 1.3-2-1.7-2.7 0-.5.4-.3 1.4-.2 3.4-1.1 5.8-.7 3-.6 2.7-.2 4.5-.9 3.2-1.1 2.3-1.4.7-1.3.3-2z"/>
<path fill="#ff5500" d="M545.1 101.9l35.2 0 0 55.3-35.2 0-.2-14.3-.7-2.3-1.6-1.9-2.3-1.1-4.5-1.1-9-1.5-6-.5-6-1.6.2-1.3 1.3-2-1.5-2.7.2-.8 1.7-.2 3.1-1 6-.6 3-.6 2.5-.1 4.5-.8 5.5-1.6 1.3-.6.7-.7 1.2-2 .5-2.3z"/>
<path fill="#ff6200" d="M547.9 101.9l32.4 0 0 55.3-32.4 0-.1-8.3-.4-4-.9-3-.9-1.6-1.1-1.1-1.7-1.1-2.5-1-6.7-1.2-6-.8-.6-.2-6.2-.6-.8-.3-3.7-.7-.3-.3-1.2-.3.4-1.1 1.2-2-1.5-2.7-.1-.3.4-.4 1.9-.3 2.7-.8 2.5-.2.7-.3 2.8-.1 3-.6 2.5-.1 8-1.5 2.3-.5 1.2-.6 2.3-1.8 1.5-2.2.9-3.3.3-3.7z"/>
<path fill="#ff6e00" d="M550.7 101.9l29.6 0 0 55.3-29.6 0-.3-7.3-.8-4.3-2-4.1-2.8-2.9-2-1-2.5-.8-8.3-1.2-.4-.2-3.8-.4-.8-.3-6.2-.5-.8-.4-3.7-.5-1.4-.7 1.5-3-1.4-2.7-.1-.3.5-.4 3.6-.6.8-.4 2.5-.2.7-.3 2.8-.1 3-.6 2.8-.1.4-.2 1.8-.1 4-.9 3.8-.6 1.2-.4 3-1.8 1.3-1.5 1.3-2 1.3-3.5.8-4.5z"/>
<path fill="#ff7c00" d="M553.5 101.9l26.8 0 0 55.3-26.8 0-.7-6.3-1.6-5.3-1.8-3.2-2.4-2.6-2-1.6-4.7-1.6-6-.8-.5-.2-1.5-.1-.7-.3-1.6 0-.7-.3-1.5 0-.8-.3-6.2-.6-.5-.2-4-.6-1.2-.6.7-2 .7-1-1.4-2.7.1-.5.5-.2 3.6-.5.5-.3 2.5-.2.7-.3 2.8-.2 3-.5 2.8-.1.7-.3 3.7-.4 1.8-.5 3.8-.5 1.4-.5 2.9-1.5 1.1-.9 2-2.3 1.6-2.6 1-2 1.3-4.7z"/>
<path fill="#ff8b00" d="M556.2 101.9l24.1 0 0 55.3-24.1 0-.6-3.8-.8-2.8-1.1-3-1.7-3.1-2.1-2.9-2.9-2.4-2-1.4-4.4-1.4-8.3-1-.7-.3-1.6 0-.7-.3-1.5 0-.8-.3-6.2-.6-.5-.3-4-.4-1-.7 1.2-2.9-1.2-2.7.1-.5.6-.2 3.3-.4.5-.3 2.5-.2.7-.3 2.8-.1 3-.6 2.8-.1.7-.3 3.7-.3 1.8-.6 4-.4 4.1-1.7 1.1-.8 2-1.8 2-2.3 2.5-4.1 1.6-4z"/>
<path fill="#ff9a00" d="M559.2 101.9l21.1 0 0 55.3-21.2 0-1.1-4-1.2-2.8-2.7-4.8-1.8-2.4-2-2.1-4.3-3-1-.6-4.4-1.3-12.8-1.6-.8-.2-2.7-.1-.7-.3-2.8-.2-.5-.2-3.9-.4-1-.8 1.1-2.8-.9-2.2-.2-.8.9-.4 3-.3.5-.4 2.8-.2.4-.2 2.8-.1 3-.6 2.8-.1.7-.3 3.7-.3 1.8-.5 4-.4 4.2-1.6 1.3-.8 4-3.4 3.4-4.4 2.8-5.2z"/>
<path fill="#ffa900" d="M562.7 102.2l.1-.3 17.5 0 0 55.3-17.6 0-1-2.3-2.9-4.9-2-2.8-4-4.6-2.5-2.2-5-3-4.7-1.3-24-2.9-.9-.8.9-2.8-1-2.7.4-.5.6-.2 3-.3.2-.3 2.8-.2.4-.2 3-.2 2.8-.5 2.8-.1 3-.5 1.4-.1 2-.5 3.8-.4 4.2-1.4 1.3-.7 2.1-1.4 3.2-2.7 3.7-4 4.2-6.1z"/>
<path fill="#ffb900" d="M568.3 102.2l.4-.3 8.3 0 3.3 1.7 0 52.1-1 .6-1.7.9-9.3 0-1.7-1.6-3.3-3.7-5.4-5.5-4.9-4.5-2.7-2.1-5-2.6-4.7-1.2-10.6-1.2-2.7-.6-3-.1-.5-.2-3-.2-.3-.3-3.5-.2-1-.8-.1-.5.8-2.3-.9-2.7 1.2-.7 5.6-.7.4-.3 3-.1.6-.2 1.7-.1.5-.2 2.8-.1.7-.3 3.9-.3 1.8-.5 3.8-.4 5.5-1.9 5.3-3.5 4-3.5 10-10.4z"/>
<path fill="#ffc903" d="M569.7 106.4l2.6-.1 2.7.7 2.8 1.6 2.5 2.5 0 37.1-2.3 2.3-2.4 1.5-2 .8-2 .3-2-.2-1.8-.6-7-5-8-6.4-2.4-1.5-5.1-2.4-4.7-1.1-8.3-.9-.5-.3-1.8 0-.4-.3-1.8 0-.5-.3-3-.1-.5-.2-6.4-.6-.7-.3-.6-.7.7-2.6-.7-2.4.6-.8.7-.2 2.2-.2.2-.3 6.2-.5.6-.3 1.7 0 .5-.3 3 0 .5-.3 4-.3 1.7-.5 3.8-.3 4.5-1.3 3.3-1.7 3.2-2.1 14-10.5 1.5-.8z"/>
<path fill="#ffdf0f" d="M569.5 108.9l1.8-.1 1.5.2 1.5.5 1.7 1 2.6 2.7 1.2 2.2.5 1.6 0 4-1.2 8.6 1.2 8.7 0 4.1-.6 1.8-1.4 2.4-2 2-2.3 1.3-2.7.6-2-.1-1.5-.5-6.5-3.8-8.5-5.8-2.2-1.2-1.6-.5-3.7-1.8-1.5-.2-3-.8-6.2-.6-.6-.3-1.7 0-.5-.3-1.8 0-.4-.2-1.8-.1-.5-.2-3-.1-.5-.3-3-.1-.2-.3-2.8-.1-1-.5-.3-.5.5-2.6-.7-2.4.8-.8 2.5-.4.2-.2 2.9-.2.3-.2 3-.1.6-.3 1.7 0 .5-.3 3 0 .5-.3 4-.3 1.7-.5 4-.4 2.8-.9 1.5-.2 6.5-3.4 5.8-3.8 8.7-5.2z"/>
<path fill="#fff51b" d="M569 110.6l2-.1 1.3.1 2.7 1.2 2.3 2.4 1 2 .4 1.4 0 2.8-1.3 9.2 1.3 9.6 0 2.7-.5 1.5-1.3 2.2-1.8 1.8-1.8 1-2.3.4-2.7-.4-6.7-3.4-9.8-5.7-6.5-2.6-1.5-.2-3-.8-6.2-.6-.6-.3-1.7 0-.5-.2-1.8-.1-.4-.2-1.8 0-.5-.3-3-.1-.3-.3-3.2 0-.2-.3-2.4-.1-1.1-.6-.5-.7.6-2.3-.6-2.2.9-1 2.1-.3.2-.3 3-.1.2-.3 3-.1.6-.2 1.7-.1.5-.2 3-.1.5-.2 1.7 0 .6-.3 1.7 0 1.7-.5 4-.4 2.8-.9 1.5-.2 5.5-2.5 7-4zM519.6 128.3l-.3.3.3.2.6-.2z"/>
<path fill="#f3fc1e" d="M569 111.9l2.8-.1 2.5 1 2 2.1.9 1.7.3 1.3 0 2.3-1.4 9.4 1.4 9.6-.1 2.4-.4 1.3-1.1 2-1.5 1.5-1.6.9-1.8.3-2.4-.4-12-5.7-3.6-2-7.4-2.9-1.8-.2-3-.8-1.8 0-.4-.3-6.3-.5-.5-.3-4-.3-.5-.3-6.5-.4-.2-.2-2.7-.4-1-1 .5-2.3-.5-2.2 1-1 1.7-.3.2-.3 3-.1.2-.2 3.3-.1.3-.3 1.7 0 .5-.3 3 0 .5-.3 1.7 0 .6-.2 1.7 0 1.7-.6 4-.3 2.8-.9 1.5-.1 6.7-2.8 5.8-3zM519.3 128.4l0 .2.3.3.5 0 .2-.3-.5-.3z"/>
<path fill="#e2fe1e" d="M569 112.9l2.6-.2 2.1.9 1.7 1.8.9 1.8.2 1 0 2-1.4 9.4 1.4 9.6 0 2.2-.3 1-1.2 2-1.2 1.2-1.5.8-1.7.2-1.8-.3-3-1.5-10-4.2-2.8-1.5-7.4-2.6-1.8-.2-3-.8-1.8 0-.4-.3-6.3-.5-.5-.3-1.8 0-.2-.2-2-.1-.2-.2-6.8-.4-.2-.3-2.3-.3-1-1 .3-2.3-.3-2.2 1-1 1.5-.5 3-.2.2-.2 3.3-.1.3-.2 2 0 .2-.3 3 0 .5-.3 1.7 0 .6-.3 1.7 0 1.7-.5 4-.3 2.8-.8 1.8-.2 6.4-2.5zM519.6 128.1l-.4.3.1.4 1 .1.1-.3-.2-.2z"/>
<path fill="#d4ff1e" d="M569.4 113.6l2.2 0 1.7.8 1.4 1.5.9 2.3 0 1.7-1.4 9.7 1.4 9.8 0 1.8-1 2.5-1.3 1.2-1.3.7-1 .2-1.7-.2-3.3-1.5-11.2-4.4-1.5-.9-2.5-.9-1.8-.3-3.4-1.2-1.8-.1-3-.9-4-.2-.2-.3-2 0-.3-.3-4.3-.2-.2-.3-2 0-.2-.2-6.8-.5-.2-.2-1.8-.3-1.3-1.3.4-2-.4-2 .9-1 1.5-.7 2.9-.1.2-.3 3.3 0 .3-.3 2 0 .2-.3 3.2 0 .3-.2 2 0 .3-.3 2 0 1.4-.5 4-.3 2.8-.9 1.8-.1 11-4 1.4-.8 4.8-1.7zM519.3 128.1l-.2.5.2.3 1 .1.5-.4-1-.5z"/>
<path fill="#caff1c" d="M569.4 114.4l1.9-.1 1.5.6 1.2 1.3.9 2 0 1.7-1.5 9.7 1.5 9.8 0 1.8-.9 2-1.2 1.2-1 .5-2.4 0-3.1-1.5-11.3-4-1.7-.9-2.5-.8-1.5-.2-3.7-1.3-1.8 0-.2-.3-1 0-.3-.3-1 0-.3-.2-2 0-.2-.3-2 0-.2-.2-4.3-.3-.3-.2-2 0-.2-.3-2 0-.2-.3-6.8-.4-1.9-.8-1.1-1.2.4-2-.4-1.5 1.1-1.3 1.1-.6 2.8-.2.2-.2 3.3-.1.3-.3 2 0 .2-.2 3.2-.1.3-.2 2 0 .3-.3 2 0 .2-.2 1 0 .2-.3 4.3-.2.3-.3 1 0 1.2-.6 1.8-.1 11.2-3.7 1.5-.8 1.7-.4 6.6-2.5zM520.8 127.6l-.2.8-.8-.4-.5 0-.2.4 0 .5.9.1 1-.2.4-1.2z"/>
<path fill="#b4ff16" d="M569.6 115.9l1.4-.2.8.3 1 .9.7 1.5-.8 6.8-.7 4.2 1.5 10.2 0 1.3-.7 1.5-1.5 1.2-1.5-.1-3-1.4-6-1.9-.8-.4-4.7-1.2-1.7-.8-2-.4-.3-.2-2-.1-.2-.2-2.1-.3-1.2-.5-2 0-.2-.3-2.3-.2-.3-.3-2 0-.2-.2-2 0-.2-.3-4.3-.3-.3-.2-2 0-.2-.3-2 0-.2-.2-3-.1-.6-.2-2.2-.1-.8-.2-.7-.6-1.7-1.4.4-1.9 1.8-.2.6-.5.1-1.2-.7-.1-.8.4-.6-.3.9-1 .5-.2 2-.3.2-.3 3.3-.1.3-.2 2 0 .2-.3 3.2 0 .3-.2 2-.1.3-.2 2 0 .2-.3 1 0 .2-.2 4.3-.3.3-.2 2-.3.2-.3 2 0 .2-.2 1 0 1.3-.5 1 0 1.3-.6 6.4-1.5 1.6-.7 2-.4 1.4-.7 1.6-.3z"/>
<path fill="#a0ff1d" d="M569.8 116.4l.2-.2 1 0 .6.2.9 1 .5 1-.2 3-.3.2 0 1.6-.2.2 0 1.8-.3.2 0 1.5-.2.3 0 1.4-.3.3 0 1.5.3.2 0 1.6.2.2 0 1.5.3.3 0 1.7.2.3 0 1.4.3.3.2 3-.5 1-1.5 1.2-1 0-3-1.5-1.4-.3-1.6-.7-.7 0-.7-.5-1.6-.3-.7-.4-5-1.1-1.5-.7-1 0-.2-.3-1 0-.3-.2-2 0-.3-.3-2-.2-1.2-.5-2-.1-.2-.2-2.3-.3-.3-.2-2 0-.2-.3-6.5-.5-.3-.3-2 0-.2-.2-2-.1-.2-.2-3.1-.1-2.9-.9-2.2-2.1.1-1.2 1.3-.1.8-.7.2-1.2-.9-.2 2.4-1.4 5.3-.5.2-.2 3.2 0 .3-.3 2 0 .3-.2 2-.1 1.4-.5 4.3-.2.3-.3 2-.2.2-.3 2 0 .2-.3 2-.2.3-.3 2-.2.3-.3 2.2-.2 1.2-.5 2-.3.3-.2 1-.1 1.5-.7 2-.3 1.5-.7 1.5-.3.8-.4.4-.1 1.6-.7.7 0zM522 131.3l-.2.3.2.3 1-.3-.1-.2zM529.8 130.6l-.4.3.2.3.3 0z"/>
<path fill="#90ff2f" d="M569.9 116.4l1.1-.1.6.2.8.9.5 1-.2 3-.3.2 0 1.6-.2.2 0 1.8-.3.2 0 1.5-.2.3 0 1.4-.3.3 0 1.5.3.2 0 1.6.2.2 0 1.5.3.3 0 1.7.2.3 0 1.4.3.3.2 3-.5 1-1.4 1.1-1 0-3-1.5-1.4-.2-1.6-.8-.7 0-.7-.5-1.6-.2-.7-.5-5-1-1.5-.8-1 0-1.5-.5-2 0-1.3-.5-2-.3-.2-.2-2 0-.2-.3-2.3-.2-.3-.3-6.4-.5-.3-.2-2-.1-.3-.2-2 0-.2-.3-1.8 0-.4-.3-2.8-.3-2.2-1.1 1.2-.4 0-.2-1.5-.5-.7.3-1.3-1.2 0-.6.7-.3.7-.7.3-1 2.1-1.4 2.2-.4.5-.3 1.8-.1.3-.2 3.1-.1.3-.2 2-.1.3-.2 2 0 1.4-.5 4.3-.3.3-.2 1 0 1.2-.5 3.2-.3.3-.2 2-.3 1.3-.5 2.2-.3 1.2-.5 2-.2.3-.3 1 0 2.5-1 1 0 1.5-.7 1.5-.3 2-1 1.5-.2zM523.6 128.4l-.4.5.4.3.5-.8zM529.6 130.4l-.5.2 0 .3.7.6.4-.3 0-.8z"/>
<path fill="#82ff4a" d="M570 116.4l1 0 .6.2.7.8.5 1-.2 3-.3.2 0 1.6-.2.2 0 1.8-.3.2 0 1.5-.2.3 0 1.4-.3.3 0 1.5.3.2 0 1.6.2.2 0 1.5.3.3 0 1.7.2.3 0 1.4.3.3.2 3-.5 1-1.3 1-1 0-3-1.4-1.4-.3-1.6-.7-.7-.1-.7-.4-1.6-.3-.7-.5-5-1-1.5-.7-2.2-.3-.3-.2-2-.1-1.3-.5-2-.2-.2-.3-2 0-1.5-.5-1 0-.3-.2-6.2-.6-.5-.2-1.7-.1-.6-.2-3.7-.5-3.3-1.1-.8-1.1-1.7-.5-1.2-1.3.5-.7 2.2-1.7 3-1.3 2.3-.5 2.7-.2.6-.2 1.7-.1.5-.2 1.8-.1 1.6-.4 4.1-.3 2.5-.8 2 0 .2-.2 1 0 3.6-1 2.2-.3 1.2-.5 3.3-.5 1.5-.7 2-.3 1.5-.7 1.5-.3 2-1 1.5-.3zM523.8 128l-.7.6.2.7.5-.2.5-.7-.3-.4zM529.8 130.1l-1.1.5.3.6.8.5.6-.5.1-.8-.2-.3z"/>
<path fill="#76ff70" d="M570.3 116.4l1.3.4.6.6.5 1.2-.5 4.6-.2.2-.3 3.5-.2.3-.1 1.4-.2.3 0 1.5.2.2.1 1.6.2.2.3 3.5.2.3.5 4.4-.5 1.3-1.4 1-.5 0-3.3-1.5-1.2-.3-5.5-2-4.7-1-1.8-.7-2.5-.5-1.7-.1-3.8-1-1.8 0-3-.8-6.1-.6-4.3-.8-5.2-2-2.6-2 .2-.2.6.1.6-.6.4-.8 1.2-.6.2-.1.6.8.7-1.4 2.3-.9 5.3-1 1.7-.1 1.7-.5 4-.3 2.7-.8 1.8 0 5-1.3 6.5-1.2 1.7-.8 1.8-.2 1.8-.8 1.2-.2 2.2-1.1 1.3-.2zM530 129.9l-1.2.4-.3.3 1.1 1.4.4-.1.7-1.3-.1-.6z"/>
<path fill="#6cff96" d="M570.2 116.6l.6 0 .6.3 1.2 1.7-.5 4.3-.3.5 0 1.5-.2.5 0 1.2-.3.6 0 1.2-.2.5 0 1.5.2.5 0 1.3.3.4 0 1.3.2.5 0 1.5.3.5.5 4.2-.7 1.3-1.1.8-.5 0-3-1.4-6-1.8-.7-.5-5-1.1-1.6-.6-2.7-.6-1.7 0-3.6-1-1.7-.1-3.3-.8-3.7-.4-6.3-1.5-.8-.5.8-1.8-.3-.7-.4-.2-1.9.7 0 .8.6.4 0 .5-3.2-1.3-1.2-1.2.3-.4.7-.6 1-.1 1-.9 2.2-.9 8.8-2.1 3.7-.4 3-.8 1.7 0 4.8-1.3 6.8-1.3 1.4-.7 2-.3 1.6-.7 1.4-.3 2-1 1.6-.3z"/>
<path fill="#64ffbc" d="M570.3 116.9l.3-.1.7.3 1 1.5-.5 4.3-.3.5-.2 3.2-.3.6 0 1.2-.2.5 0 1.5.2.5 0 1.3.3.4.2 3.3.3.5.5 4.2-.7 1.3-1 .6-3.3-1.5-6.7-2.3-4.8-1-1.8-.8-2.4-.5-1.8-.1-3.8-1-1.6-.1-3.1-.9-3.7-.6-.9-.3-.4-.5-1.3.2-1-.3-1.2-.7-.5.2-1.3-.3-.3-.4.3-.4 1.2.2-1.6-1.8-2 .5-.6.6-1.4-1.1 1.2-1.1 2.2-1 2.8-.4.5-.5 1.5.3 1-.9 3-.8 3.8-.5 2.7-.8 1.7-.1 5-1.4 6.6-1.3 1.7-.8 1.7-.3 3-1zM545.3 133.6l-.1.3.4.2.8-.2 0-.3-.4-.1z"/>
<path fill="#60f8e1" d="M570.3 117.4l.3-.1.5.3.6 1.3-1.5 10 0 1.5 1.5 10-.6 1.2-.5.4-3-1.4-6.8-2.3-4.8-1.1-1.7-.7-2.7-.7-1.6 0-3.2-.9-.4-.3.4-.6-.2-.6-1.2 0-1.1 1-6.5-1.3-1.5-.6-2.7-.5-.6-.7-1.5-.9-.7-.9-1.9.1.3-.4 1-.8 3.4-1.1 1.4-.2 1-.4.8.4.2-.6 2-.6 3.8-.6 2.8-.8 1.7-.2 11.5-2.8 6.5-2.1zM538.8 126.4l-.3.2.3.5.3-.5zM539.8 130.1l-.5.3 0 .6 1.5-.6zM563.6 123.6l.2.5.3-.2-.1-.4z"/>
<path fill="#5ee7ff" d="M570.1 118.2l.5-.1.2.8-.1 2-.2 1.7-.8 2 .1 1.8-.6 1 .5.8-.2 2.2.5 2.8 0 3.4.5.6.5 3-.4 1.1-4-1.8-.6-.4-1.7-.1-1.3-.5-.4-.9-.6.4-1.7-.4-.7-.5-1.6 0-2.2-.8-1-1-.5.1-.5.4-4.5-.9-.6-.3.6-.7-.3-.4-.5.1 0 .8-.5.2-.7-.2-.4-1-.3-.2-1 0-1.3.5-6.3-1.3-4.2-1.2.4-.6-.2-.5-.4.1-.3.7-1-.5-.5-.5.2-.7 1.7-1 2.1-.8 1.2-.1 1-.4.8.4.8-.8 3.2-.6 3-.8 1.5-.2 12.3-3.1.4.1.1.7.5.2.4-.4-.7-.8.3-.1 4.2-1.3zM540 129.9l-.9.5-.1 1.1 1.3-.6 1.4-.3.1-.2-1.2-.6zM563.6 123.4l-.3.5.3.3.4.1.3-.8-.3-.2z"/>
<path fill="#48b9ff" d="M569.9 118.9l.3 0 0 .3-.1 1.4-.3 1.8-.5 1.5-.1 2.3-.6 1.4.4 4.8.3 1 .1 1-.3.8.4.7 0 1 .3.5.3 1.2.2 1.6-.3.3-.8-1.1-.4-.2-1.2.2-1.6-.7-1.7-.3-1.5-1-1.1 0-1.4-.4-.5-.7-1-.2-.5-.5-.4.3.1.3.8 0-.2.4-2.3-.6-1.5-.9-1 .1-4.2-.8-.2-.8-.4-.3-.4.1-.6.6-.7-.3-.5-.7-2 .3-5.2-1.4-.1-.3.5-.4 1.3-.3.7.1.8.7.5-.3-.3-.5-1.2-.8-1.2-.6-1.6.7-.4 1.5-2.4-.8-.6-.5 0-1.2.2-.6 2.5-1 15.5-3.8.8.2 1.4-.7 1.3-.1 2.3-.7 1 .5.6-.4.4-.8 2.7-.9 1.2 0 .3-.4.8-.4zM542.3 127l-.4.6.7.3.5-.5-.3-.3zM544.6 128.6l-.3.6.3.1.5-.7zM556.3 128.8l-.4.8-.6.8 0 .3 1.2-1.1zM561.8 129.3l-.2.4.6-.3zM563.6 123.2l-.4.7.4.5.4.1.4-.3 0-.8zM565.6 120.9l0 .7.4.1.4-.3z"/>
<path fill="#3086ff" d="M568.6 119.9l.8 0-1.2 9 0 1.7.5 3.8-.9 0-.2.2.4.8.9.5.5 2.7-.1.4-2.5-.3-3.8-1.5-2.7-.8-.5-.5-1.2-.6-1.3.4-4-1.3-.3-1.1-.5.1-.5.7-1.4-.1-.8-.2-.8-.8-1 .3-1.2-.6-1.5 0-1.3-.4-.6-.4.3-.5-.3-.5-2.4-1.5-.4-.5 0-.5.6-.5.4-.1.4.2.8 0 1.2-1 2-.6 1.8-.3 4.8-1.3.4.6.6.1 1-.3.7-1.1 4.3-1 1.2 0 1.2-.9 2.8-.9 1 .8 1.2-.4.5-.3.1-.5-.8-.1-.1-.2zM544.6 128.3l-.7.9.4.5.6-.3.5-.8-.4-.4zM550.3 128.4l-1.3.4 0 .4.8.2.8-.2.3-.6zM552 130.4l-.1.2 1.1.7.5-.1.1-.3-.6-.5zM556 128.4l-.2 1-.9 1.2.1.4.6-.1 1.2-1.3-.2-1.3zM557.8 124.4l.2.4.4-.2-.4-.3zM561.6 129.1l-.6.3 0 .2.8.5.7-.7-.2-.3zM563.6 123.1l-.5.3-.1.5.3.5.7.4.5-.4.2-1-.4-.3zM561.6 135.6l-.2.3.4.3.1-.3zM540.9 131.2l.9-.1.3.3-.1.2z"/>
<path fill="#1f60ff" d="M568.4 120.6l.2 0-1.2 8.3 0 1.7.5 3.3-1.1-.4-.2.4 1.5 2 .4 2.5-1.5-.3-4.6-1.7-.1-.8-.7-.7 0-1-.3-.2-.6.2-.1 1.8-1.3-.3-.7-.4-.8.1-4-1.3-.1-.6-.4-.4-1.3.5-1.2-.1-1.5-.7-.2-.9-.5-.4 0-1.6 1 .2 1-.3.6-.9-.4-.6-2.2.4 0-1.2.3-.3 1.1-.5 1 .7.3-.2 0-.9 1.5-.4 1.2.2.8-.3.5-.6 2-.6.5.7.5.1.5-.5-.4-.4.2-.2 6.4-2.1.6.5 1.7-.5zM551.8 130l-.4.6.4.4 1.5.7.7-.5 0-.3-1-.8zM556.3 127.9l-.5.5-.2 1-1.1 1.5.3.3.8 0 1.5-1.6-.3-1.4-.2-.3zM558.3 130.6l-.4.8.1.3.8 0 .2-.3-.2-.8zM559.3 127.8l-.5.6 2.8 2.2.2 0 .9-1 0-.4-.3-.3-1.6.1-.8-.5-.2-.6zM563.8 122.9l-.7.3-.4.7.3.5 1 .7.7-.5.3-1.4zM565 127.9l-.2.5.5.3.4-.3.1-.5zM566.6 126.8l-.3 1 .7-.4-.2-.7zM559 133.3l-.7.6.5.5.8-.5 0-.3zM561.8 130.7l-.3.5.1.4.3-.2z"/>
</g></g>
<text x="579.6" y="105.3" style="font-family:'Liberation Sans',sans-serif;font-size:4px" fill="#3c3c3c">1.0</text>
<rect x="578.4" y="103.7" width="0.9" height="0.4" fill="#888"/>
<text x="579.6" y="118.2" style="font-family:'Liberation Sans',sans-serif;font-size:4px" fill="#3c3c3c">0.5</text>
<rect x="578.4" y="116.5" width="0.9" height="0.4" fill="#888"/>
<text x="579.6" y="131.0" style="font-family:'Liberation Sans',sans-serif;font-size:4px" fill="#3c3c3c">0.0</text>
<rect x="578.4" y="129.4" width="0.9" height="0.4" fill="#888"/>
<text x="578.7" y="143.8" style="font-family:'Liberation Sans',sans-serif;font-size:4px" fill="#3c3c3c">−0.5</text>
<rect x="578.4" y="142.2" width="0.9" height="0.4" fill="#888"/>
<text x="578.7" y="156.7" style="font-family:'Liberation Sans',sans-serif;font-size:4px" fill="#3c3c3c">−1.0</text>
<rect x="578.4" y="155.1" width="0.9" height="0.4" fill="#888"/>
<text transform="translate(589.9,129.6) rotate(-90)" text-anchor="middle" style="font-family:'Liberation Sans',sans-serif;font-size:3.8px" fill="#3c3c3c">z [AU]</text>
<text x="530.5" y="159.1" text-anchor="middle" style="font-family:'Liberation Sans',sans-serif;font-size:4.2px" fill="#3c3c3c">2</text>
<rect x="530.3" y="155.3" width="0.4" height="0.9" fill="#888"/>
<text x="548.7" y="159.1" text-anchor="middle" style="font-family:'Liberation Sans',sans-serif;font-size:4.2px" fill="#3c3c3c">3</text>
<rect x="548.5" y="155.3" width="0.4" height="0.9" fill="#888"/>
<text x="561.7" y="159.1" text-anchor="middle" style="font-family:'Liberation Sans',sans-serif;font-size:4.2px" fill="#3c3c3c">4</text>
<rect x="561.5" y="155.3" width="0.4" height="0.9" fill="#888"/>
<text x="571.7" y="159.1" text-anchor="middle" style="font-family:'Liberation Sans',sans-serif;font-size:4.2px" fill="#3c3c3c">5</text>
<rect x="571.5" y="155.3" width="0.4" height="0.9" fill="#888"/>
<text x="545.3" y="162.7" text-anchor="middle" style="font-family:'Liberation Sans',sans-serif;font-size:3.8px" fill="#3c3c3c">r [AU]</text>
<clipPath id="cp20"><rect x="45.0" y="169.8" width="66.6" height="51.4"/></clipPath>
<g clip-path="url(#cp20)"><g filter="url(#bl)">
<rect x="43.0" y="167.8" width="70.6" height="55.4" fill="rgb(104,4,10)"/>
<path fill="#68040a" d="M104.3 184.8l.2-.2 2 0 1.7.7.8.7.2 1 .8 1 .2 2.6.3.2 0 9.2-.3.3 0 1.5-.2.2 0 .8-.8 1.2 0 .6-1.4 1.4-.6 0-.2.3-2.5.2-1.3-.5-1 0-.2-.2-2.2 0-.3-.3-3.3-.5-.2-.2-2 0-.2-.3-1 0-.3-.2-1 0-.3-.3-2 0-.2-.2-1 0-.2-.3-1 0-.3-.2-2 0-.3-.3-1 0-.2-.2-1 0-.2-.3-2 0-.3-.2-1 0-.3-.3-1 0-.2-.2-2 0-.2-.3-1 0-.3-.2-1 0-.3-.3-2 0-.2-.2-1 0-1.2-.5-2.3 0-.3-.3-1 0-1.2-.5-2.2 0-.3-.2-1 0-.3-.3-2-.3-.2-.2-2.2 0-.3-.2-2-.3-.3-.2-2-.1-.2-.2-3.5-.5-1.2-1.4.3-.3 0-.5.6-.7 1.6-.5 2.2 0 1.2-.5 1 0 .3-.2 2-.1.3-.2 1 0 .2-.2 1-.1.2-.2 2 0 .3-.3 1 0 .3-.2 1 0 .2-.3 2 0 .2-.2 1 0 .3-.3 1 0 .3-.2 2 0 .2-.3 1 0 .2-.2 1 0 .3-.3 2 0 .3-.2 1 0 .2-.3 1 0 .2-.2 2 0 .3-.3 1 0 .3-.2 1 0 .2-.3 2 0 .2-.2 3.3-.5.3-.3 2.2 0 1.2-.5 1 0 .3-.2 2.3 0 1.2-.5 1 0 .2-.3 2.3 0 1.3-.5 1 0 .2-.2 2.2 0 .3-.3z"/>
<path fill="#980205" d="M104.4 184.8l2.1-.1 1.7.7.7.6.2 1 .8 1 .2 2.6.3.2 0 9.2-.3.3 0 1.5-.2.2 0 .8-.8 1.2 0 .6-1.3 1.3-.8.3-2.5.2-1.3-.4-1-.1-.2-.2-2.2 0-.3-.2-3.3-.6-.2-.2-2 0-.2-.2-1-.1-1.6-.4-2-.1-.2-.2-1 0-1.5-.5-2 0-.3-.2-1-.1-1.4-.4-2-.1-.3-.2-1 0-1.5-.5-2 0-.2-.2-1-.1-1.6-.4-2-.1-.2-.2-1 0-1.2-.5-2.3 0-.3-.3-1 0-1.2-.5-2.2 0-.3-.2-1 0-.3-.3-2-.2-.2-.3-2.2 0-2.6-.7-2 0-.2-.3-3.5-.5-1.1-1.3.2-.3 0-.5.6-.6 1.6-.5 2.2 0 2.5-.8 2 0 1.5-.5 1 0 .2-.2 2 0 1.6-.5 1 0 .2-.3 2 0 1.5-.5 1 0 .3-.2 2 0 1.4-.5 1 0 .3-.3 2 0 1.5-.5 1 0 .2-.2 2-.1 1.6-.4 1-.1.2-.2 2 0 .2-.2 3.3-.6.3-.2 2.2 0 1.2-.5 1 0 .3-.2 2.3-.1 1.2-.4 1-.1.2-.2 2.3 0 1.3-.5 1 0 .2-.2 2.2-.1z"/>
<path fill="#d60000" d="M104.4 184.8l2.1-.1 1.7.8.6.5.3 1 .7 1 .3 2.6.2.2 0 9.2-.2.3 0 1.5-.3.2 0 .8-.7 1.2 0 .6-1.3 1.3-.8.2-2.5.3-1.3-.5-3.4-.3-3.8-1-2 0-2.8-.7-2 0-2.7-.8-2 0-2.7-.7-2 0-2.8-.8-1.8 0-1.7-.5-1 0-.3-.2-2 0-2.4-.8-2.3 0-2.5-.7-2.2 0-3.8-1-2 0-2.8-.8-2 0-.2-.2-3.5-.6-1-1.2.2-.3 0-.5.5-.5 1.6-.5 2.2-.1 2.5-.7 2 0 2.7-.7 2-.1 2.8-.7 2 0 2.8-.8 2 0 2.7-.7 2 0 2.7-.8 2 0 2.8-.7 2 0 3.8-1 2.2 0 2.5-.8 2.3 0 2.4-.7 2.3 0 2.5-.8 2.2 0z"/>
<path fill="#ff0000" d="M104.5 184.8l2 0 1.7.8.5.4.3 1 .7 1 .3 2.6.2.2 0 9-.2.5 0 1.5-.3.2 0 .8-.7 1.2 0 .6-1.2 1.2-.8.2-2.2.3-2.8-.7-2.2 0-3.8-1-1.8 0-3-.8-1.7 0-3-.7-1.7 0-3-.8-1.8 0-3-.7-1.8 0-3-.8-1.9 0-2.5-.7-2.2-.1-2.6-.7-2.1 0-3.9-1-2 0-2.8-.7-1.7 0-3.7-.8-1.2-1.2.6-1.2 1.8-.6 2 0 2.8-.8 1.7 0 2.9-.7 1.8 0 3-.8 1.8 0 3-.7 1.8 0 3-.8 1.7 0 3-.7 1.7 0 3-.8 1.8 0 3.8-.9 2.2-.1 2.5-.7 2.3 0 2.5-.8 2.2 0 2.7-.7 2 0z"/>
<path fill="#ff2a00" d="M104.4 185l.4-.2 1.4 0 2.4 1.2.3 1 .7 1 .3 1.3 0 1.3.2.4 0 8.8-.2.5 0 1.3-1.1 3-1 1-1 .4-2 .3-2.8-.8-2 0-4-1-1.8 0-3-.7-1.7 0-3-.8-1.7 0-3-.7-1.8 0-3-.8-1.8 0-3-.7-1.7-.1-2.7-.7-2 0-2.8-.8-2 0-4-1-2 0-2.8-.7-1.7-.1-3.7-.7-1-1.1.5-1 1.7-.7 2 0 2.8-.8 1.7 0 3-.7 1.7 0 3-.8 1.8 0 3-.7 1.8 0 3-.8 1.7 0 3-.8 1.7 0 3-.7 1.8 0 4-1 2 0 2.8-.8 2 0 2.7-.7 2 0 2.7-.8 2 0z"/>
<path fill="#ff5800" d="M104.6 185l1.6-.1 2.2 1.1 1.1 2.3.3 2.3.2.4 0 8.8-.2.5 0 1.3-1.1 3-1 1-.9.3-2 .3-2.8-.8-2 0-4-1-1.8 0-3-.7-1.7-.1-3-.7-1.7 0-3-.7-1.8-.1-3-.7-1.8 0-3-.7-1.7-.1-2.7-.7-2 0-2.8-.8-2 0-4-1-2 0-2.8-.7-1.7-.1-3.7-.8-.8-.9.5-1 1.5-.6 2 0 2.8-.7 1.7-.1 3-.7 1.7 0 3-.8 1.8 0 3-.7 1.8-.1 3-.7 1.7 0 3-.7 1.7-.1 3-.7 1.8 0 4-1 2 0 2.8-.7 2-.1 2.7-.7 2 0 2.7-.8 2 0z"/>
<path fill="#ff8b00" d="M104.8 185l1.4.1 2 .9 1.2 2.3.2 2.3.3.4 0 8.8-.3.5 0 1.3-1.1 2.9-1 1-.8.3-1.9.2-2.6-.6-2.2-.1-4-1-1.7 0-3.1-.7-1.6 0-3.1-.8-1.7 0-3-.7-1.7-.1-3.1-.7-1.6 0-2.9-.7-1.8 0-2.7-.8-2 0-3-.8-1.8 0-4.2-1-1.8 0-2.7-.7-1.7-.1-3.8-.8-.7-.8.2-.8 1.7-.6 1.8 0 3-.8 1.5 0 3.3-.8 1.4 0 3.3-.8 1.7 0 3-.8 1.8 0 2.9-.7 1.9 0 2.8-.7 1.6-.1 3.1-.7 1.7 0 4.1-1 1.9 0 2.8-.8 2 0 2.7-.7 2 0 2.8-.7 1.9-.1z"/>
<path fill="#ffc400" d="M104.7 185.3l1.3-.1 2 .8 1.2 2.3.3 2.3.2.4 0 8.8-.2.5 0 1.3-1 2.7-1 1-1 .4-1.5.2-2.8-.7-2 0-4-1-1.7 0-7.7-1.5-1.8 0-3-.7-1.8-.1-3-.7-1.7 0-3-.8-1.7 0-2.8-.7-2-.1-2.8-.7-2 0-4-1-2-.1-2.7-.7-1.7-.1-3.8-.9-.4-.5.1-.6.5-.3 1-.3 2-.1 2.8-.8 1.8 0 3-.8 1.7 0 3-.7 1.7-.1 3-.7 1.8 0 3-.8 1.5 0 8-1.5 1.7 0 4-1 2 0 2.8-.7 1.8 0 3-.8 1.7 0 3-.7 1.7 0z"/>
<path fill="#eafc1e" d="M104.5 185.6l1.5-.3 2 1 .3 1 .7 1 .5 2.7 0 8.6-.2 2-1 2.7-1.1 1-.7.2-1.5.3-2.8-.8-2 0-4-1-1.7 0-3-.7-1.7 0-3-.8-1.8 0-3-.7-1.8-.1-3-.7-1.7 0-3-.7-1.7-.1-2.8-.7-2-.1-2.8-.7-2-.1-4-1-2 0-2.7-.8-1.5-.1-3.8-.9-.2-.2.2-.5 1.3-.4 1.7-.1 3-.8 1.6-.1 3-.7 1.7-.1 3-.7 1.7-.1 3-.7 1.8 0 3-.8 1.8 0 3-.7 1.7-.1 3-.7 1.7 0 4-1 2 0 2.8-.8 2 0 2.8-.7 2 0 2.7-.8 1.7 0z"/>
<path fill="#caff1c" d="M104.9 185.6l1.1-.1 1.8.8 1 2 .5 3 0 8.3-.2 1.7-1.1 3-.8.8-.7.2-1.5.3-2.8-.7-2-.1-4-.9-1.7-.1-3-.7-1.7 0-3-.7-1.8-.1-3-.7-1.5 0-3.3-.7-1.7-.1-3-.7-1.6-.1-2.9-.7-1.8 0-3-.8-1.7 0-4.3-1.1-1.7 0-3-.8-1.5-.1-3.2-.9 0-.3.7-.3 1.7-.1 3-.9 1.6 0 3.2-.8 1.5-.1 8-1.5 1.5-.1 7.8-1.5 1.7 0 3.3-.7 1.4-.1 4-.9 2-.1 2.8-.7 2 0 2.8-.7 2-.1 2.7-.7 2 0z"/>
<path fill="#b4ff16" d="M104.9 185.8l.9-.1 1.7.7 1.1 2.2.5 2.7 0 8.3-.3 1.7-1 2.9-.8.7-.8.3-1.2.1-2.8-.6-1.7 0-4.3-1-1.4 0-8-1.5-1.6-.1-3.2-.7-1.5 0-3.3-.8-1.4 0-3.3-.7-1.5-.1-3-.7-1.8 0-3-.8-1.7-.1-4.3-1.1-1.7 0-6-1.5 3.7-1.2 1.8-.2 3-.7 1.5-.1 3.3-.8 1.4 0 8-1.6 1.6 0 8-1.5 1.4-.1 4.3-.9 1.7-.1 3-.7 1.8 0 3-.8 1.8 0 3-.7 1.7 0z"/>
<path fill="#a0ff1d" d="M105 186l.8 0 1.4.6 1.1 2 .5 2.7 0 8.3-.3.4 0 1.3-1 2.7-.5.6-.8.3-1.2.1-2.8-.6-1.7 0-4.3-1-1.4 0-3.3-.8-1.5 0-3.2-.7-1.6 0-3.2-.8-1.5 0-3.3-.7-1.4-.1-3-.7-1.8-.1-3-.7-1.8-.1-2.7-.7-2-.2-4-1-1.7-.2-3-.9-1.6-.1 7-1.8 1.6-.1 7.7-1.6 1.5 0 8-1.6 1.5 0 3.3-.7 1.7-.1 4-1 1.7 0 3-.7 1.8-.1 3-.7 1.8 0 3-.7 1.7-.1z"/>
<path fill="#90ff2f" d="M104.6 186.6l.9-.3 1.3.5.9 1.8.6 3 0 7.7-.3 2-1 2.6-1 .6-1 .1-2.5-.5-1.7-.1-4.3-.9-1.5-.1-12.8-2.2-1.4-.1-3.3-.7-1.5-.1-3.2-.7-1.6-.1-3-.7-1.7-.1-3-.8-1.7-.1-7.7-1.8 4.1-1.2 1.6-.2 8-1.7 1.4 0 3.3-.8 1.5-.1 8-1.5 1.5 0 4.3-1 1.7 0 3-.8 1.7 0 3-.7 1.8-.1 3-.7z"/>
<path fill="#82ff4a" d="M104.5 187l1-.2 1 .5.7 1.5.5 2.8 0 7.7-.6 3-.7 1.5-.4.2-1 .1-2.5-.5-1.7-.1-4.3-.9-1.5-.1-3.2-.7-1.6 0-3.2-.7-1.5-.1-3.3-.7-6.2-.9-7.8-1.6-1.4 0-3.3-.8-1.5-.1-4.2-1.1-1.9-.2 7.3-1.7 1.3-.1 8-1.6 6.3-.8 3.2-.8 1.5 0 4.3-1 1.7-.1 3-.7 1.7 0 3-.7 1.8-.1 3-.7z"/>
<path fill="#76ff70" d="M104.7 187.6l.8-.2.4.2.6 1.2.5 2.8 0 7.7-.5 2.7-.7 1.5-4.8-.5-4.2-.9-1.6-.1-12.7-2.2-1.5-.1-3.2-.7-1.6-.1-7.7-1.5-1.7-.1-3-.8-1.8-.2-2.9-.7 4.1-1.1 1.6-.2 8-1.6 1.4-.1 8-1.5 1.6 0 4.2-1 1.8-.1 3-.7 1.4 0 3.3-.7 1.5-.1 3.2-.7z"/>
<path fill="#6cff96" d="M104.9 188l.5 0 .5 1 .5 2.8 0 7.2-.5 3-.7 1.1-29-4.7-15.2-2.8 11.8-2.3 11.2-1.8 4-.9 1.8-.1 3-.6 1.7-.1 3-.7 1.7-.1 3-.7z"/>
<path fill="#64ffbc" d="M103.6 188.8l1.4-.1.6 1.3.2 1.8 0 7.2-.5 2.8-.3.6-.2.1-28.3-4.6-7.7-1.5-1.8-.2-2.6-.6 3.8-1 15.8-2.6 4.2-.9 1.6-.1 3.2-.7 1.5 0 3.3-.7z"/>
<path fill="#60f8e1" d="M103.8 189.3l.9 0 .5 2.7 0 4-.3.8.3 2.2-.3 1.8-.4 1-3.3-.3-9-1.7-1.4 0-9.6-1.6-6.2-1.1-2-.7-1.2.2-2.8-.7-2.6-.3 11.4-2.2 6.2-.8 4.2-1 1.8-.1 3-.7 1.8-.1 7.7-1.4z"/>
<path fill="#5ee7ff" d="M101.4 190l1.5 0 .6 1.1.4-.5-.2-.3.3-.3.5 1.8.1 4.2-.5.8.4 1 .1 1-.3 1.8-.3.5-4.5-.5-7.3-1.3-1.2 0-14.2-2.4-3.3-1-1.5.2-2.2-.5 3.4-.8 11-1.8 4.3-.9 1.5-.1 8-1.4 1.2 0z"/>
<path fill="#48b9ff" d="M100.9 190.8l1.3-.2.6.4.4 1.1.6-.1 0 4.3-.2.5.2 2-.6 1.5-1.4.1-1.8-.7-.5.3-8.5-1.3-14.2-2.4-2.8-.7.1-.3 2.9-.6.8.2 1-.4 9.7-1.8 1.7-.2 3-.6.6.1 4.2-.8 1.5 0z"/>
<path fill="#3086ff" d="M101.3 191.6l.9-.2.2.4-.4 1.8.7 1-.2 5-1 0-4-.7-.5-.4-1 .3-3.8-.7-1.2-.1-3.8-.7-1-.6-1 .4-9.1-1.5 1.7-.1.7-.4 3.3-.6 1.7.4 1-.7 4-.9 9.3-1.4 2.2.1z"/>
<path fill="#1f60ff" d="M96.9 193l1.6-.1.7.1-.1.6-.9.2-.1.2 0 .6.4 0 1.5-.9.5-.8.7.1 0 5-1.2.2-4.8-.4-.2-.8-.8.6-1.7-.4-.7-.5-1 .5-1.6-.4.8-1.2 0-1 .2-.6 1.8-.2.2.3.6.2.4-.7.3-.2zM93.2 194.8l0 .3 1.6 1.1.4-.2.7-.7-.4-.4-1.5.3zM87.9 194.3l.9-.2.2.2.1.7-.4.8-1.2.8-1.5-.5-1.5 0-3.6-.5 2.3-.2z"/>
</g></g>
<text x="112.8" y="171.2" style="font-family:'Liberation Sans',sans-serif;font-size:4px" fill="#3c3c3c">1.0</text>
<rect x="111.6" y="169.6" width="0.9" height="0.4" fill="#888"/>
<text x="112.8" y="184.1" style="font-family:'Liberation Sans',sans-serif;font-size:4px" fill="#3c3c3c">0.5</text>
<rect x="111.6" y="182.5" width="0.9" height="0.4" fill="#888"/>
<text x="112.8" y="196.9" style="font-family:'Liberation Sans',sans-serif;font-size:4px" fill="#3c3c3c">0.0</text>
<rect x="111.6" y="195.3" width="0.9" height="0.4" fill="#888"/>
<text x="111.9" y="209.8" style="font-family:'Liberation Sans',sans-serif;font-size:4px" fill="#3c3c3c">−0.5</text>
<rect x="111.6" y="208.2" width="0.9" height="0.4" fill="#888"/>
<text x="111.9" y="222.6" style="font-family:'Liberation Sans',sans-serif;font-size:4px" fill="#3c3c3c">−1.0</text>
<rect x="111.6" y="221.0" width="0.9" height="0.4" fill="#888"/>
<text transform="translate(123.1,195.5) rotate(-90)" text-anchor="middle" style="font-family:'Liberation Sans',sans-serif;font-size:3.8px" fill="#3c3c3c">z [AU]</text>
<text x="63.7" y="225.0" text-anchor="middle" style="font-family:'Liberation Sans',sans-serif;font-size:4.2px" fill="#3c3c3c">2</text>
<rect x="63.5" y="221.2" width="0.4" height="0.9" fill="#888"/>
<text x="81.9" y="225.0" text-anchor="middle" style="font-family:'Liberation Sans',sans-serif;font-size:4.2px" fill="#3c3c3c">3</text>
<rect x="81.7" y="221.2" width="0.4" height="0.9" fill="#888"/>
<text x="94.9" y="225.0" text-anchor="middle" style="font-family:'Liberation Sans',sans-serif;font-size:4.2px" fill="#3c3c3c">4</text>
<rect x="94.7" y="221.2" width="0.4" height="0.9" fill="#888"/>
<text x="104.9" y="225.0" text-anchor="middle" style="font-family:'Liberation Sans',sans-serif;font-size:4.2px" fill="#3c3c3c">5</text>
<rect x="104.7" y="221.2" width="0.4" height="0.9" fill="#888"/>
<text x="78.5" y="228.6" text-anchor="middle" style="font-family:'Liberation Sans',sans-serif;font-size:3.8px" fill="#3c3c3c">r [AU]</text>
<clipPath id="cp21"><rect x="138.3" y="169.8" width="66.6" height="51.4"/></clipPath>
<g clip-path="url(#cp21)"><g filter="url(#bl)">
<rect x="136.3" y="167.8" width="70.6" height="55.4" fill="rgb(104,4,10)"/>
<path fill="#68040a" d="M156.3 168l0-.2 50.5 0 0 55.2-50.5 0-5.9-25.2-1.4 0-.2-.3-2-.2-.2-.3-2 0-1.3-.5-1.3 0-.4-.7 0-.8 1-.7 1.7 0 .3-.2 1 0 .2-.3 2 0 .2-.2 2-.3.4-.3z"/>
<path fill="#68040a" d="M157 168l.1-.2 49.7 0 0 55.2-49.8 0-5.9-25.2-2.1-.1-.2-.2-2-.3-.2-.2-2 0-1.3-.5-1.3 0-.4-.7 0-.8 1-.6 1.7-.1.3-.2 1 0 .2-.2 2-.1 1.2-.4 2.2-.4z"/>
<path fill="#68040a" d="M157.6 167.8l49.2 0 0 55.2-49.2 0-5.8-25-.8-.2-2-.1-.2-.2-2-.3-.2-.2-2 0-1.3-.5-1.3 0-.4-.7 0-.8 1-.6 1.7 0 1.5-.5 2 0 1.2-.5 1 0 .3-.3 1.4-.1z"/>
<path fill="#6d040a" d="M158.2 167.8l48.6 0 0 55.2-48.7 0-5.8-25-1 0-.3-.3-2 0-.2-.2-2-.3-.2-.2-2-.1-1.3-.5-1.3 0-.3-.6 0-.8.9-.6 1.7 0 1.5-.5 2 0 1.2-.5 1 0 .3-.3 2-.1z"/>
<path fill="#800308" d="M158.6 167.8l48.2 0 0 55.2-48.2 0-5.8-24.7-.5-.3-1 0-.3-.3-2 0-2.4-.8-2 0-1.3-.5-1.3 0-.3-.6 0-.8.9-.5 1.7-.1 1.5-.5 2 0 1.2-.5 3.3-.3.5-.3z"/>
<path fill="#930206" d="M159 168l.1-.2 47.7 0 0 55.2-47.7 0-5.8-24.7-2-.4-.3-.2-2-.1-2.4-.7-1.8 0-1.5-.5-1.3 0-.3-.6 0-.8.9-.5 1.7-.1 1.7-.5 1.8 0 2.5-.7 2-.1.3-.3.7 0z"/>
<path fill="#a60104" d="M159.5 167.8l47.3 0 0 55.2-47.3 0-5.8-24.7-1.1-.1-1.6-.5-2-.1-2.4-.7-1.8 0-1.5-.5-1.3-.1-.2-.5 0-.8.8-.5 1.7 0 1.7-.5 1.8 0 2.5-.8 2-.1 1.5-.5z"/>
<path fill="#ba0102" d="M160 167.8l46.8 0 0 55.2-46.8 0-5.8-24.7-1.6-.1-1.6-.5-2-.1-2.4-.7-1.8 0-1.5-.6-1.3 0-.2-1.3.8-.5 1.7 0 1.7-.5 1.8 0 1.2-.5 3.3-.4.3-.2 1.6-.3z"/>
<path fill="#cb0000" d="M160.4 167.8l46.4 0 0 55.2-46.4 0-5.8-24.7-2-.1-1.6-.6-1.7 0-2.7-.8-1.8 0-1.5-.5-1.1 0-.4-1 .2-.4.7-.3 1.6-.1 1.7-.5 1.8 0 2.5-.7 2-.1 1.3-.6 1.1 0z"/>
<path fill="#d60000" d="M160.9 167.8l45.9 0 0 55.2-45.9 0-5.8-24.4-.5-.3-2-.2-1.6-.5-1.8 0-2.6-.8-1.8 0-1.5-.5-1 0-.4-.5 0-.5.1-.4.8-.3 1.5-.1 1.7-.5 1.8 0 2.6-.7 1.9-.1 1.3-.5 1.5-.1z"/>
<path fill="#e10000" d="M161.4 167.8l45.4 0 0 55.2-45.5 0-5.7-24.4-3-.5-1.6-.5-1.7-.1-2.7-.7-1.8 0-1.5-.5-1-.1-.4-.9.1-.3.8-.4 1.5 0 1.7-.5 1.8 0 2.8-.8 1.7-.1 1.3-.5 2-.1z"/>
<path fill="#ec0000" d="M161.9 167.8l44.9 0 0 55.2-44.9 0-5.7-24.2-1.6-.6-1.8-.1-1.8-.5-1.7-.1-2.7-.8-1.8 0-1.5-.5-1 0-.3-.9.8-.7 1.5 0 1.7-.5 1.8 0 2.8-.8 1.7-.1 1.3-.5 2.2-.1.4-.3z"/>
<path fill="#f70000" d="M162.5 167.8l44.3 0 0 55.2-44.4 0-5.6-24.2-2-.4-.2-.2-2-.2-1.6-.5-1.7 0-2.7-.8-1.8 0-1.5-.5-.7 0-.3-.2-.3-.7.8-.6 1.5 0 1.7-.5 1.8-.1 2.8-.7 1.7-.1 1.3-.5 2.2-.2.2-.3.8 0z"/>
<path fill="#ff0300" d="M163.2 167.8l43.6 0 0 55.2-43.6 0-5.7-24.2-1.5-.1-1.4-.5-1.8-.1-1.8-.6-1.7-.1-2.7-.7-1.8-.1-1.5-.5-.7 0-.3-.1-.3-.7.8-.6 1.5 0 1.7-.5 1.8 0 2.8-.8 1.7-.1 1.5-.6 2-.1.2-.2 1.5-.4z"/>
<path fill="#ff0e00" d="M164.8 167.8l42 0 0 55.2-42 0 0-.7-.2-.3 0-.7-.3-.3 0-.7-.5-1.3 0-1-.2-.2 0-.8-.6-1.2 0-1-.2-.2 0-.8-.2-.2 0-.8-.6-1.2 0-1-.2-.3 0-.7-.5-1.3 0-1-.3-.3 0-.7-.2-.3 0-.7-.2-.3-.3-2-.3-.2 0-.8-.2-.2-.5-2.5-1.3-.5-2-.1-1.4-.6-1.8-.1-1.8-.5-1.7-.1-2.7-.8-1.8 0-2.4-.6-.3-.7.7-.5 1.5-.1 1.7-.5 1.8 0 2.8-.8 1.7-.1 1.3-.5 2.2-.1 1.2-.6 2 0 .3-.3.5-2.5.2-.3 0-1 .3-.2 0-.8.5-1.2 0-1 .2-.2 0-.8.3-.2 0-.8.5-1.2 0-1 .2-.3 0-.7.6-1.3 0-1 .2-.3 0-.7.2-.3 0-.7.6-1.3 0-1 .2-.2 0-.8.5-1.2 0-1 .3-.2z"/>
<path fill="#ff1900" d="M178.6 167.8l28.2 0 0 55.2-28.2 0-.2-7.7-.7-4.7-1.7-4.3-1.7-3.1-1.5-2.2-1 0-.2-.2-2 0-.3-.3-1 0-.3-.2-2 0-1.2-.5-2 0-.2-.3-1 0-.3-.2-2 0-1.3-.5-2-.1-1.4-.6-1.8-.1-1.8-.6-1.7-.1-2.7-.7-1.8 0-1.2-.5-1.1-.1-.3-.4.1-.5.5-.3 1.5 0 1.7-.5 1.8 0 2.8-.8 1.7-.1 1.5-.6 2-.1 1.2-.6 2 0 .3-.3 1 0 .3-.2 2 0 1.2-.5 2 0 .2-.3 1 0 .3-.2 2 0 .3-.3 1 0 .2-.2 2 0 3.2-5.5 1.7-4.3.7-4.5z"/>
<path fill="#ff2400" d="M183.8 167.8l23 0 0 55.2-23 0-.3-7.2-.5-2.5-.7-2.3-1.4-2.4-5.9-7.3-2 0-.2-.3-1 0-.2-.2-2-.1-1.6-.5-2 0-1.2-.5-2 0-1.5-.5-2 0-1.3-.5-2-.1-.2-.2-3-.4-1.8-.6-1.7-.1-2.7-.7-1.8-.1-2.2-.5-.4-.4.1-.4.7-.4 1.3 0 1.9-.5 1.8-.1 2.6-.7 1.7-.1 1.5-.6 2-.1 1.2-.5 2-.1 1.6-.5 2 0 1.2-.5 2 0 1.5-.5 2 0 .3-.2 1 0 .2-.3 2 0 1.2-.5 1 0 4.4-5 3-4.8.7-2.2.4-2.6z"/>
<path fill="#ff3000" d="M188.6 167.8l18.2 0 0 55.2-18.2 0-.5-6.7-.6-2.3-.9-2-1.8-2.7-7.9-7.5-1.6-.3-.3-.2-2-.1-1.4-.5-2 0-1.6-.5-2 0-1.2-.5-2 0-1.5-.5-2 0-1.3-.5-2-.1-.2-.2-3-.5-1.8-.6-1.4 0-3-.8-1.6 0-2.4-.6-.3-.3 0-.3.7-.4 5-.6 2.6-.7 1.7-.2 1.5-.5 2-.2 1.2-.5 2-.1 1.6-.4 2-.1 1.2-.4 2-.1 1.5-.4 2-.1 1.5-.5 2 0 1.2-.5 1 0 .3-.3 1.6 0 1.4-1.6 4.5-3.9 3.5-4.2 1.2-2.6.6-2.2z"/>
<path fill="#ff3b00" d="M193.8 167.8l13 0 0 55.2-13 0-.2-3.2-.5-2.8-.9-2.2-1.1-2-2.8-3.1-9.9-7.7-2.1-.2-1.3-.6-2 0-1.4-.5-2 0-1.6-.5-2 0-1.2-.5-2 0-1.5-.5-2 0-1.3-.5-1.7-.1-1.7-.6-1.8-.1-1.5-.5-1.7-.2-2.8-.7-1.8-.1-2.4-.6-.3-.2 0-.3.7-.4 1.6 0 1.7-.5 1.7-.1 2.8-.7 1.5-.1 1.5-.6 2-.1 1.2-.6 2 0 1.6-.5 2 0 1.2-.5 2 0 1.5-.5 2 0 1.5-.5 2-.1 1.2-.5 1 0 .3-.2 2-.1.3-.2.7 0 3.5-2.9 4.5-3.2 3-2.7 1.6-2 1.3-2 .8-2.3.6-2.7z"/>
<path fill="#ff4800" d="M202.8 168l0-.2 4 0 0 55.2-4 0-.9-2.4-1-2-1.5-2-1.4-1.6-3.2-2.8-3.2-2.3-7.6-4.7-4.4-3.2-2 0-.3-.3-1 0-1.3-.5-2 0-1.4-.5-2-.1-1.6-.4-2-.1-1.2-.4-1.8 0-1.7-.5-2-.1-1.3-.5-1.7 0-1.7-.6-1.8-.2-1.5-.5-1.7-.1-2.8-.8-1.8 0-2.2-.5-.4-.3 0-.3.6-.3 1.6-.1 1.7-.5 1.7 0 2.8-.8 1.5-.1 1.5-.6 2-.1 1.5-.6 1.7 0 1.8-.5 1.8 0 1.2-.5 2 0 1.5-.5 2 0 1.5-.5 2 0 1.2-.5 1-.1.3-.2 2 0 1.3-.6 1.2 0 2-1.6 11-6.9 5.2-4.3 1.6-1.7 1.3-1.7 1-2z"/>
<path fill="#ff5500" d="M199.8 179.3l1.8-.2 1.4.2 2.6 1.2 1.2.9 0 28.3-1.5 1.1-2.3.8-2.4.3-3.6-.9-9.7-4.8-3.3-1.8-1.7-1.3-2.7-1.1-2 0-.3-.3-1 0-1.3-.5-2-.1-1.4-.5-2 0-1.6-.5-2 0-1.2-.5-1.8 0-1.7-.5-2 0-1.3-.5-1.7 0-1.7-.7-1.8-.1-1.5-.5-1.7-.2-2.8-.7-1.8-.1-2.2-.5-.3-.2 0-.3.5-.3 1.6 0 1.7-.5 1.7 0 2.8-.8 1.8-.2 1.2-.5 2-.2 1.5-.5 1.7-.1 1.8-.5 1.8 0 1.2-.4 2-.1 1.5-.4 2-.1 1.5-.4 2-.1 2.5-.8 2 0 1.3-.5 2-.1 7.7-4.5 6.3-3.2 2.7-1.1z"/>
<path fill="#ff6200" d="M200.3 181l1.7.2 2.3 1 1 .6 1.5 1.5 0 22.3-2 2.1-3.2 1.2-1.6.1-2.4-.3-3.6-1.3-6.4-2.9-3.6-1.8-1.5-1.1-1.7-.1-1.2-.5-2-.1-2.6-.7-2-.1-1.4-.5-1.8 0-1.8-.5-2 0-1.2-.5-1.8 0-1.7-.5-2-.1-1.3-.4-1.7-.1-1.7-.6-1.6-.1-1.7-.6-1.7-.1-2.8-.8-1.8 0-2.4-.7.4-.5 1.6 0 1.7-.5 1.7-.1 2.8-.8 1.8-.2 1.2-.5 2-.1 1.5-.6 1.7 0 1.8-.5 1.8 0 1.2-.5 2 0 1.8-.5 1.7 0 1.7-.6 1.8 0 2.5-.7 2-.1 1.3-.5 3.2-.3 1.8-.8 1.7-1.1 1.5-.6 1.5-1 6.5-2.8 2.8-.9z"/>
<path fill="#ff6e00" d="M199 182.3l2.3-.1 2.5 1.1 1.8 1.5 1.2 1.7 0 18-1.5 2.1-1 .9-3.3 1.3-1 .1-2.4-.3-3.6-1.1-3.4-1.3-6.3-2.9-.5-.5-.8 0-.2-.3-2 0-1.2-.5-2-.1-2.6-.8-1.7 0-1.7-.5-1.8 0-1.8-.5-1.7 0-1.5-.5-1.8 0-1.7-.5-1.8-.1-1.5-.4-1.7-.1-5-1.3-1.7-.2-1.6-.5-3-.3-2.3-.6.3-.4 1.6-.1 1.7-.5 1.7 0 2.8-.8 1.8-.2 1.3-.6 1.9-.1 1.5-.6 1.7 0 1.8-.5 1.8 0 1.4-.5 1.8 0 1.8-.5 1.7 0 1.7-.5 1.8 0 2.5-.8 2-.1 1.3-.5 2 0 .2-.3 1 0 .2-.2 1.8-.1 1.8-1.2 6.2-2.8 3.5-1.2z"/>
<path fill="#ff7c00" d="M199.6 183l1.7.1 2.5 1.2 1.5 1.5 1.5 2.7 0 14.1-1.2 2.2-1.6 1.8-1 .6-2.2.8-3.2-.1-3.3-1-6.7-2.6-1.8-1-1.5-.3-.3-.2-1-.1-.2-.2-2-.1-1.2-.5-2-.1-2.6-.7-1.7 0-1.7-.5-1.8-.1-1.8-.5-1.7 0-1.5-.5-1.8 0-1.7-.5-1.7 0-1.6-.5-1.7-.1-1.7-.6-1.6-.1-1.7-.6-1.7-.2-2.8-.7-1.8-.1-2.1-.5.1-.3 1.6-.1 1.7-.5 1.7 0 2.8-.9 1.8-.1 1.4-.6 1.8-.2 1.5-.5 1.7-.1 1.8-.5 1.8 0 1.4-.5 1.8 0 1.8-.5 1.7 0 1.7-.5 1.8 0 2.8-.8 1.7 0 1.3-.5 2-.1 1.4-.5 2-.1 3-1.1 1.6-1 6.4-2.4 2.6-.6z"/>
<path fill="#ff8b00" d="M197.8 183.8l3-.1 2.8 1.2 1.1 1.1.8 1.3.9 2.3.4 1.7 0 8.5-.7 2.8-1.1 1.8-1.4 1.8-3 1.2-3-.1-1.8-.7-1.5-.2-2-.9-1.5-.3-1.5-.8-1.5-.4-1.5-1-2 0-1.5-.5-2-.1-1.2-.5-1.8 0-2.8-.8-1.7-.1-1.7-.5-1.8 0-1.8-.5-1.7 0-1.5-.5-1.8 0-1.7-.5-1.7 0-1.6-.5-1.7-.1-5-1.4-1.7-.1-2.8-.8-1.5-.1-1.7-.4 2.8-.8 1.6-.1 2.8-.8 1.8-.2 1.4-.6 1.8-.1 1.5-.6 1.7 0 1.8-.5 1.8 0 1.4-.5 1.8 0 1.8-.5 1.7 0 1.7-.5 1.8-.1 2.8-.8 1.7 0 1.3-.5 2-.1 1.4-.5 2 0 .3-.3 1 0 .3-.3 1.7-.3 1.3-.8 1.7-.5 1.7-.8 1.6-.3 1.7-.8z"/>
<path fill="#ff9a00" d="M197.9 184.3l2.9-.1 2.5 1.2 1.1 1.2 1.1 2 1 3.7 0 6.3-.9 3.7-1 1.7-1.3 1.7-3 1.2-2.7-.1-1.8-.7-1.5-.2-1.7-.8-1.8-.3-1.5-.8-1.5-.4-.2-.3-1 0-.3-.3-2 0-1.5-.6-2 0-1.2-.5-1.8-.1-2.8-.8-1.7 0-1.7-.5-1.8-.1-1.8-.5-1.7 0-1.5-.5-1.8 0-1.7-.5-1.7 0-1.6-.5-1.7-.1-1.7-.6-1.6-.1-1.7-.6-1.6-.2-2.9-.8-1.5 0-1.4-.4 8.7-1.8 1.4-.6 1.8-.2 1.5-.5 1.7-.1 1.8-.5 1.8 0 1.4-.5 1.8 0 1.8-.5 1.7 0 1.7-.5 1.8 0 2.8-.8 1.7-.1 1.5-.5 1.8 0 1.4-.5 2-.1 1.6-.5 2-.1 1.2-.8 1.5-.3 1.7-.9 1.6-.3 1.7-.7z"/>
<path fill="#ffa900" d="M197.5 184.8l3.1-.2 2.4 1.2 1 1 1.1 2 .9 3.5 0 6.3-.9 3.7-2.1 3-2.7 1.1-2.7-.1-6.6-1.8-1.4-.8-1.8-.2-.2-.2-1-.1-.3-.2-2-.1-1.5-.5-2-.1-1.2-.5-1.8 0-2.8-.8-1.7-.1-1.7-.5-1.8 0-1.8-.5-1.7 0-1.5-.5-1.8 0-1.7-.5-1.7 0-1.6-.5-1.5-.1-1.9-.6-1.6-.2-1.7-.6-7.1-1.3 2.4-.6 1.4-.1 2.9-.9 1.7-.2 1.4-.6 2-.2 1.3-.5 1.7 0 1.8-.5 1.8 0 1.4-.5 1.8-.1 1.8-.4 1.7-.1 1.7-.5 1.8 0 2.8-.8 1.7 0 1.5-.6 1.8 0 1.4-.5 2-.1 1.6-.5 2-.1.2-.2 2.8-.6 1.7-.9z"/>
<path fill="#ffb900" d="M199.5 185l1.3.1 1.8.9 1 .9 1.2 2.1.8 3.6 0 5.7-.8 3.7-2.1 3-2.7 1-2.4-.1-1.6-.5-1.4-.2-1.8-.7-1.8-.4-1.2-.6-2 0-1.5-.6-2 0-1.5-.5-1.8-.1-1.4-.5-1.8-.1-2.8-.8-1.7 0-1.7-.5-1.8-.1-1.8-.4-1.7-.1-1.5-.4-1.8-.1-1.7-.4-1.7-.1-1.3-.4-1.7-.1-1.8-.6-1.8-.3-1.7-.6-6.5-1.2 1.8-.5 1.7-.1 2.7-.9 1.6-.2 1.4-.6 2-.2 1.4-.5 1.6-.1 1.8-.5 1.8 0 1.4-.5 1.8 0 1.8-.5 1.7 0 1.7-.5 1.8 0 2.8-.8 1.7-.1 1.5-.5 1.8-.1 1.7-.5 1.7 0 1.6-.6 2 0 1.2-.6 1.8 0 1.7-.8 1.5-.2 1.5-.7 2.5-.5z"/>
<path fill="#ffc903" d="M197.5 185.6l3.1-.2 1.8.9 1 1 1 1.7.9 3.3 0 6-.8 3.5-.9 1.5-1.2 1.5-2.4.9-2.2-.1-1.8-.6-1.4-.1-1.8-.8-1.8-.1-1.2-.5-2-.1-1.5-.5-2-.1-1.5-.5-1.8 0-1.4-.6-1.8 0-2.8-.8-1.7-.1-1.7-.5-1.8 0-1.8-.5-1.6 0-1.4-.4-1.8-.1-1.9-.5-1.5 0-1.8-.5-1.4-.1-9.6-2.5-1.8-.1 3.1-.5 2.7-.9 1.6-.2 1.4-.6 2-.3 1.6-.5 1.4-.1 2-.5 1.6 0 1.4-.4 1.8-.1 1.8-.5 1.7 0 1.7-.5 1.8 0 2.8-.8 1.7 0 1.5-.6 1.8 0 1.7-.6 1.7 0 1.6-.5 2-.1 1.2-.5 2-.1.2-.2 1 0 .3-.3 1.7-.3 1.6-.6z"/>
<path fill="#ffdf0f" d="M197.7 185.8l2.6-.1 1.9.9.8.8 1.2 1.9.8 3.3 0 5.7-.8 3.5-2 2.8-2.4.8-2-.1-1.5-.6-3-.4-.3-.3-2 0-1.2-.5-2-.1-1.5-.5-1.7-.1-1.8-.5-1.8-.1-1.4-.5-1.8-.1-2.8-.8-1.6 0-1.8-.5-1.6 0-2-.5-1.4 0-1.8-.5-1.5 0-2-.6-1.5 0-1.8-.5-1.4-.1-9.8-2.5.2-.3 1.3-.1 9.3-2.5 1.4-.1 2-.5 1.6 0 1.7-.5 1.5 0 2-.5 1.5 0 2-.5 1.5-.1 2.8-.7 1.7-.1 1.5-.5 1.8-.1 1.7-.5 1.7-.1 1.8-.5 1.8-.1 1.2-.5 2 0 .2-.3 1 0 .3-.3 2 0 1.3-.6 1.7-.2z"/>
<path fill="#fff51b" d="M197.8 186l2.5 0 1.7.8.8.8 1 1.7.9 3.3 0 5.7-.8 3.3-1.9 2.7-2.2.8-2 0-1.2-.6-2 0-.3-.2-1-.1-.3-.2-2-.1-1.2-.5-1.8 0-1.7-.6-1.7 0-1.8-.5-1.8-.1-1.4-.5-1.8-.1-2.5-.8-1.7 0-2-.6-1.6 0-2-.5-1.4 0-1.6-.5-1.7 0-2-.5-1.5 0-1.5-.5-1.7-.1-1.8-.7-1.5-.2-2-.7-3.9-.9 10.2-2.9 1.7-.1 1.7-.4 1.6 0 1.7-.5 1.5 0 2-.5 1.5-.1 2-.5 1.5 0 2.9-.8 1.6 0 1.5-.6 1.8 0 1.7-.6 1.7 0 1.8-.6 1.8 0 1.2-.5 2-.1 1.5-.5 2-.1 1.3-.5 1.9 0z"/>
<path fill="#f3fc1e" d="M197.6 186.3l.2-.2 2.5 0 .5.5 1 .2 1 1 1 1.8.5 2.7.2.3 0 5.7-.2.3 0 1-.5 1.2 0 .8-2 2.7-.5 0-1.5.7-2 0-1.2-.5-2 0-1.6-.5-2-.1-1.2-.5-1.8 0-1.7-.6-1.7 0-1.8-.6-1.8-.1-1.4-.5-1.7 0-2.6-.8-1.7-.1-1.8-.5-1.8-.1-2-.5-1.4 0-1.6-.4-1.7-.1-1.7-.4-1.8-.1-1.5-.5-1.7-.1-8.5-2.4 9.5-2.8 1.7-.1 1.7-.5 1.8 0 1.5-.5 1.7 0 1.8-.5 1.8 0 1.7-.5 1.5 0 3-.9 1.8 0 1.2-.5 1.8-.1 1.7-.5 1.7-.1 1.8-.6 1.8 0 1.2-.5 2-.1 1.5-.5 2 0 1.3-.5z"/>
<path fill="#e2fe1e" d="M197.6 186.3l.2-.2 2.5 0 .5.5 1 .3.9.9 1 1.8.5 2.7.3.3 0 5.7-.3.3 0 1-.5 1.2 0 .8-1.9 2.6-.5 0-1.5.8-2 0-1.2-.5-2-.1-1.6-.5-2 0-1.2-.5-1.8-.1-1.7-.5-1.7-.1-1.8-.5-1.8-.1-1.2-.5-1.8-.1-2.7-.8-1.7-.1-1.8-.5-1.8 0-1.7-.5-1.7 0-1.6-.5-1.7 0-1.7-.5-1.8-.1-1.5-.4-1.7-.2-7.9-2.3 3.9-1.2 1.7-.7 1.7-.2 1.6-.6 1.7-.1 1.7-.5 1.8 0 1.5-.5 1.7 0 1.8-.5 1.8-.1 1.7-.4 1.7-.1 2.8-.8 1.8-.1 1.4-.5 1.6 0 1.7-.6 1.7 0 1.8-.6 1.8-.1 1.2-.5 2 0 1.5-.5 2-.1 1.3-.5z"/>
<path fill="#d4ff1e" d="M197.7 186.3l2.6-.1.5.4 1 .3.9.9 1 1.8.5 2.7.2.3 0 5.7-.2.3 0 1-.5 1.2 0 .8-1.9 2.6-.5 0-1.5.7-2 0-1.2-.5-2 0-1.6-.5-2-.1-1.2-.5-1.8 0-1.7-.6-1.7-.1-1.8-.5-1.6-.1-1.6-.5-1.6-.1-2.7-.8-1.7 0-1.8-.5-1.8-.1-2-.5-1.4 0-1.6-.5-1.7 0-1.7-.5-1.8-.1-1.5-.4-1.7-.2-7.4-2.2 3.6-1.1 1.5-.7 1.7-.3 1.6-.5 1.7-.1 1.7-.5 1.8-.1 1.5-.4 1.7-.1 1.8-.4 1.8-.1 1.7-.5 1.7 0 2.8-.8 1.8-.1 1.4-.5 1.6-.1 1.7-.5 1.7-.1 1.8-.5 1.8-.1 1.4-.5 1.8-.1 1.5-.5 2-.1 1.3-.5z"/>
<path fill="#caff1c" d="M197.7 186.3l2.6-.1.5.5 1 .3.8.8 1 1.8.5 2.7.3.3 0 5.7-.3.3 0 1-.5 1.2 0 .8-1.8 2.5-.5.1-1.5.7-2 0-1.2-.5-1.8 0-1.8-.5-1.8-.1-1.4-.5-1.8-.1-1.7-.5-1.7-.1-1.8-.5-1.5-.1-1.5-.5-1.8-.1-2.7-.8-1.7-.1-1.8-.5-5.2-.6-1.6-.5-1.7 0-1.7-.5-1.8-.1-1.5-.4-1.5-.1-7-2.2 3-1 1.5-.7 1.7-.2 1.6-.7 5.2-.6 1.5-.4 1.7-.1 1.8-.4 1.8-.1 1.7-.5 1.7-.1 2.8-.8 1.8 0 1.4-.6 1.6 0 2-.6 1.4 0 1.8-.6 1.8-.1 1.4-.5 1.8-.1 1.5-.5 2 0 1.3-.5z"/>
<path fill="#b4ff16" d="M198 186.3l2.2 0 .6.5 1 .3.7.7 1 1.8.5 2.7.3.3 0 5.7-.3.3 0 1-.2.2-.3 1.8-1.7 2.4-2.1.8-1.7 0-1.4-.5-1.8 0-1.8-.6-1.7 0-1.5-.6-1.8 0-5-1.2-1.7-.1-1.5-.5-1.8-.2-2.7-.8-1.5 0-2-.6-5-.6-1.8-.5-1.4 0-2-.5-1.6 0-1.7-.5-1.5-.2-5.2-1.8 3-1.3 1.4-.3 1.8-.7 1.5-.1 2-.5 1.5 0 1.8-.5 1.4 0 2-.5 1.6 0 2-.5 1.4-.1 2.8-.8 1.8-.1 1.4-.5 1.8-.2 1.8-.5 1.4-.1 2-.6 1.8-.1 1.2-.4 1.8-.1 1.8-.6 1.7 0 1.5-.5 1.8-.1z"/>
<path fill="#a0ff1d" d="M197.9 186.6l2.1-.2 1.6.8.6.6 1.1 1.9.8 3.1 0 5.2-.8 3.4-1.6 2.4-2.1.9-1.6 0-1.4-.5-1.8-.1-1.8-.5-1.4-.1-1.6-.5-5.2-.8-1.8-.5-1.6-.1-1.6-.6-1.5-.1-3-.9-1.5-.1-2-.5-1.5-.1-5.3-1-5-.6-3-.6-4.1-1.5 1.7-.8 3.4-1.1 15-2.3 3-.8 1.6-.1 1.7-.6 5-.8 1.7-.6 1.6 0 1.7-.6 1.5-.1 1.8-.5 1.7-.1 1.5-.5z"/>
<path fill="#90ff2f" d="M197.8 186.8l2-.2 1.8.8 1.5 2.4.8 3 0 5.2-.8 3.3-1.5 2.4-2.3.8-1 0-1.7-.5-1.6-.1-2-.5-1.4-.1-1.6-.5-1.7-.1-5.3-1.3-1.4-.1-1.8-.7-1.5-.1-2.7-.9-1.6-.1-2-.5-11.7-1.8-3.3-.7-2.7-.9.5-.4 3.2-1 15-2.3 6.3-1.6 5-.9 2-.6 1.5-.1 1.5-.6 1.7-.1 1.8-.5 1.8-.1 1.4-.5z"/>
<path fill="#82ff4a" d="M197.9 187l1.9-.1 1.5.7.5.4 1 1.8.8 3 0 5.2-.8 3.3-1.5 2.2-2 .7-1 0-1.5-.5-1.8 0-1.7-.6-1.5-.1-1.8-.5-1.4-.2-2-.6-4.8-.9-1.8-.6-1.4-.2-3-.9-10.3-1.9-4.7-.6-4.6-1 2.3-.8 15-2.4 13-3.2 1.5-.2 1.8-.6 5-.7 1.4-.5z"/>
<path fill="#76ff70" d="M198.3 187.3l1.3-.1 1.7.9 1.1 1.9.7 3 0 4.8-.7 3.2-1.4 2-2 .9-7.2-1.3-1.5-.6-5-1-9.5-2.5-15.2-2.5-1.7-.4 2.9-.8 11.8-1.8 3-.9 8-1.7 2-.7 1.4-.2 1.8-.6 1.2-.1 2-.6 1.6-.1 1.7-.6z"/>
<path fill="#6cff96" d="M199 187.8l1.6.5 1 1.7.8 3.3 0 4.3-.9 3.7-1.2 1.5-1.5.5-6.8-1.4-1.7-.6-14.5-3.4-13.7-2.3 3.2-.8 8.5-1.3 14.2-3.3 5.3-1.4z"/>
<path fill="#64ffbc" d="M198.3 188.8l.7-.1.8.3.4.6.7 1.4.5 2.3 0 4.3-.8 3.2-.9 1.2-.9.4-6.5-1.2-1.7-.6-11.6-2.4-3-.8-10.4-1.8 3.2-.8 2.5-.2 1-.4 1.5-.1 14.5-3.2 5.3-1.3z"/>
<path fill="#60f8e1" d="M196.8 189.8l2-.2.3.2.5.8.7 3 0 3.7-.8 3.3-.7.9-6.2-1.1-16.6-3.6-7-1.2 2-.3 1.3-.5 1.7-.2z"/>
<path fill="#5ee7ff" d="M197.2 190.8l.6-.2.7.2.7 2.8-.8.7.8 1 0 1.3-.2 2-.7 1.9-3.3-.5-1.7-.6-.7.2-2.1-.6-.5-.4-1 .2-6.7-1.3-.7-.2.5-.5-.1-.5-.5.3-.3.4-.4.1-1.2-.7-1.3-.1-.7.2-5-.9 2.2-.5 2 0 1-.7 2.5-.6 6.7-1.1 3.3-.8 1.3 0 2.2-.7 2-.2.8.5zM198 196.4l-.3.4.1.3.5.2.6-.3-.2-.4z"/>
<path fill="#48b9ff" d="M197.2 191.6l.5 0 .4 2.2 0 2.2-1 .8.8 1.2-.3 1.5-4.8-.7-1.8-.5-.4-.3-1 .2-1-.2-.4-.2.3-.5-.2-.3-.7.7-1.6-.2-1-.8-1 .4-1.5-.3 1.1-2.8 1.4-.2.8.4.8-.7.7-.2 5.3-.9.4.2 1.3-.6 1-.1.6.4.1.9.4-.9zM180.3 194.6l1.7-.3.8 1.3-1.8.8-4.6-.8z"/>
<path fill="#3086ff" d="M193.8 193l1.2-.1.2.7.6.4 1-.9.2 2.9-.3.8.2.5-.3 1.2-.8-.6-.5.3-2.3-.3-4-.7-.7-.6-.5.3-1.5-.2-1-.5-.7.1-1.2-.3.2-1.2 2-.1 1.2.6.4-.3-.5-.4.1-.4 4.2-.7.4.1-.1.7.5.2.4-.5-.3-.4.1-.2.3 0 .7.4zM188.6 194.7l-.8.6-.1.5.3.4 1.1-1.2zM180.6 195.3l1.4-.2.1.2 0 .3-.5.2-1.5-.2z"/>
<path fill="#1f60ff" d="M193.6 194.3l1.2-.1.6.4-.1 2.3-5.5-.8-.6-.3.6-.8 1-.3 1 .2z"/>
</g></g>
<text x="206.1" y="171.2" style="font-family:'Liberation Sans',sans-serif;font-size:4px" fill="#3c3c3c">1.0</text>
<rect x="204.9" y="169.6" width="0.9" height="0.4" fill="#888"/>
<text x="206.1" y="184.1" style="font-family:'Liberation Sans',sans-serif;font-size:4px" fill="#3c3c3c">0.5</text>
<rect x="204.9" y="182.5" width="0.9" height="0.4" fill="#888"/>
<text x="206.1" y="196.9" style="font-family:'Liberation Sans',sans-serif;font-size:4px" fill="#3c3c3c">0.0</text>
<rect x="204.9" y="195.3" width="0.9" height="0.4" fill="#888"/>
<text x="205.2" y="209.8" style="font-family:'Liberation Sans',sans-serif;font-size:4px" fill="#3c3c3c">−0.5</text>
<rect x="204.9" y="208.2" width="0.9" height="0.4" fill="#888"/>
<text x="205.2" y="222.6" style="font-family:'Liberation Sans',sans-serif;font-size:4px" fill="#3c3c3c">−1.0</text>
<rect x="204.9" y="221.0" width="0.9" height="0.4" fill="#888"/>
<text transform="translate(216.4,195.5) rotate(-90)" text-anchor="middle" style="font-family:'Liberation Sans',sans-serif;font-size:3.8px" fill="#3c3c3c">z [AU]</text>
<text x="157.0" y="225.0" text-anchor="middle" style="font-family:'Liberation Sans',sans-serif;font-size:4.2px" fill="#3c3c3c">2</text>
<rect x="156.8" y="221.2" width="0.4" height="0.9" fill="#888"/>
<text x="175.2" y="225.0" text-anchor="middle" style="font-family:'Liberation Sans',sans-serif;font-size:4.2px" fill="#3c3c3c">3</text>
<rect x="175.0" y="221.2" width="0.4" height="0.9" fill="#888"/>
<text x="188.2" y="225.0" text-anchor="middle" style="font-family:'Liberation Sans',sans-serif;font-size:4.2px" fill="#3c3c3c">4</text>
<rect x="188.0" y="221.2" width="0.4" height="0.9" fill="#888"/>
<text x="198.2" y="225.0" text-anchor="middle" style="font-family:'Liberation Sans',sans-serif;font-size:4.2px" fill="#3c3c3c">5</text>
<rect x="198.0" y="221.2" width="0.4" height="0.9" fill="#888"/>
<text x="171.8" y="228.6" text-anchor="middle" style="font-family:'Liberation Sans',sans-serif;font-size:3.8px" fill="#3c3c3c">r [AU]</text>
<clipPath id="cp22"><rect x="231.9" y="169.8" width="66.6" height="51.4"/></clipPath>
<g clip-path="url(#cp22)"><g filter="url(#bl)">
<rect x="229.9" y="167.8" width="70.6" height="55.4" fill="rgb(104,4,10)"/>
<path fill="#68040a" d="M244.1 168l.1-.2 56.2 0 0 55.2-56.3 0-2.5-12.2-.8-3-.9-1.9-1-.9-3-.4-2.7-.8-1.8-1.1-1.5-1.4 0-11.5 1.7-1.7 1.6-.9 2-.7 3.7-.5 1-.9 1-2.2.7-2.7z"/>
<path fill="#68040a" d="M245 167.8l55.4 0 0 55.2-55.4 0-2.6-12.8-1.5-4.7-.7-1.2-1.3-1-2.5-.3-2.2-.7-1.6-.8-1.2-1.1-.9-1.4-.6-1.3 0-4.3 1-2.1 2.3-2.1 2-.9 4-.7 1.4-1.7.9-1.9.9-3.2z"/>
<path fill="#68040a" d="M245.7 167.8l54.7 0 0 55.2-54.7 0-2.7-13.2-1.6-5-1-1.5-1.5-1-4-.8-2-1.1-1.1-1.1-.7-1.3-.4-1.2-.1-1.5.2-1.5.5-1.2 1.9-2.2 2-1.1 4.2-.8 1.2-1.2.8-1.1 1.6-4.9z"/>
<path fill="#6d040a" d="M246.4 167.8l54 0 0 55.2-54.1 0-2.8-14-.9-2.8-.9-2.2-1.1-1.4-1.7-1-3.7-.7-1.8-1-1-1-.6-1.1-.4-2.5.5-2.3 1.7-2.1 1.8-.9 4-.8 1.4-1.2 1-1.2.9-2 .8-3z"/>
<path fill="#800308" d="M246.9 168l0-.2 53.5 0 0 55.2-53.5 0-2.8-14-.9-3-.9-2-1.3-1.7-.9-.7-1.5-.8-3.2-.4-1.5-.8-1.5-1.8-.5-2 .1-1.2.4-1.3 1.7-2 1.5-.8 1.8-.2 2.2-.6 1.8-1.4.9-1.3.9-2 .8-3z"/>
<path fill="#930206" d="M247.5 167.8l52.9 0 0 55.2-52.9 0-2.9-14-.8-3-.9-2-1-1.5-1.3-1.2-2-.9-3-.4-1.4-.8-1.4-1.6-.4-2.3.5-2 1.5-1.7 1.5-.7 3.7-.7 2.1-1.4 1.2-1.8.9-2 .8-3z"/>
<path fill="#a60104" d="M248 167.8l52.4 0 0 55.2-52.4 0-2.8-14-.9-3-.8-2-1.3-1.9-1.3-1.1-2.1-1-3.2-.5-1.2-.6-1.3-1.6-.3-2 .4-1.7 1.4-1.7 1.3-.6 1.7-.2 2.3-.6 2-1.3 1.6-2.2.8-2 .9-3.2z"/>
<path fill="#ba0102" d="M248.6 167.8l51.8 0 0 55.2-51.9 0-2.8-14-.8-3-1-2.2-1.7-2.2-1.3-1.1-2-.8-3.3-.5-1-.5-1.1-1.4-.4-2 .5-1.7 1.3-1.4 1.3-.6 1.4-.1 2.3-.6 2.3-1.3 1.7-2.3.9-2.3.9-3z"/>
<path fill="#cb0000" d="M249.1 167.8l51.3 0 0 55.2-51.3 0-3-14.4-.9-3-1-2.3-1.7-2-1.6-1.1-2-.8-2-.2-2-.7-1.2-1.5-.3-1.7.4-1.5 1.4-1.4 1-.5 1.4-.1 2.3-.5 2.3-1.2 2-2.3 1-2.2.9-3.3z"/>
<path fill="#d60000" d="M249.6 167.8l50.8 0 0 55.2-50.8 0-2.9-14.4-.9-3-1.1-2.3-1.1-1.5-2.4-1.9-2.3-.8-1.7-.1-2.1-.7-1.1-1.3-.3-1.7.4-1.5 1.3-1.3 1-.4 3.5-.5 2.2-1 1.7-1.6.9-1.2 1-2.2 1-3.3z"/>
<path fill="#e10000" d="M250.2 167.8l50.2 0 0 55.2-50.2 0-2.9-14.2-.9-3.2-1-2-1.2-1.9-3-2.1-2.3-.7-3-.5-.7-.3-1.1-1.3-.2-1.5.3-1.3 1.4-1.4 4.3-.8 2.3-.9 2-1.6 1.1-1.5 1-2.2.9-3z"/>
<path fill="#ec0000" d="M250.8 167.8l49.6 0 0 55.2-49.6 0-2.8-14-1-3.2-1-2.2-1.6-2.2-3.2-2.1-2.3-.6-1.7-.2-1.8-.5-1.1-1.2-.2-1.5.4-1.3 1.1-1.1.8-.3 3.5-.5 2.5-1 2-1.4 1.3-1.7 1.2-2.4.9-3z"/>
<path fill="#f70000" d="M251.5 167.8l48.9 0 0 55.2-48.9 0-3-14.4-.9-3-1.2-2.5-2-2.2-3-1.7-5.9-1.4-.9-1-.3-1.5.3-1.1 1.2-1.2.8-.3 3.3-.4 2.5-.9 2.2-1.4 2-2.4 1-2 1-3.3z"/>
<path fill="#ff0300" d="M252.3 167.8l48.1 0 0 55.2-48.1 0-2.8-14-1-3.2-1.3-2.5-.8-1.1-1.8-1.6-2.2-1.2-3.2-1.1-1.8-.1-1.8-.5-1-1.1-.1-1.3.4-1.2 1.3-1.1 4-.6 2.2-.7 2-1.1 1.3-1 1.7-2.3 1.2-2.5.9-3z"/>
<path fill="#ff0e00" d="M253.6 167.8l46.8 0 0 55.2-46.9 0-1.5-8.4-1-4.6-1-3-1.5-3-1.9-2.2-2-1.6-3.2-1.5-2.2-.6-1.8-.1-1.8-.5-.8-.9-.1-1.3.3-1 1.2-1.1 4-.6 2.2-.6 2.2-1.1 3.3-3.1 1.6-2.8 1.5-4 1-4.4z"/>
<path fill="#ff1900" d="M261 167.8l39.4 0 0 55.2-39.4 0-.1-6.7-.3-3.5-.6-2.5-1.4-2.1-2-1.5-2-.9-4.4-1.4-3.4-3.1-2.2-1.5-3.2-1.3-5.2-1-1-.7-.4-.8.1-1.2 1.3-1.4 4-.6 2.4-.7 2-.9 3-2.2 2.8-2.6 4.2-1.1 3-1.7 1.2-1 1.1-1.8.8-2.8.3-3.4z"/>
<path fill="#ff2400" d="M267 167.8l33.4 0 0 55.2-33.4 0-.1-7-.4-3.7-.8-2.5-1.5-2-2.6-1.9-2.4-1-4.6-1.3-4.7-.9-5.3-3.2-3.2-1.2-5.2-.9-1-.8-.2-.8.1-1 1.3-1.3 3.8-.5 2.4-.6 2.3-1 4.7-3 5-.9 3.6-1 2.2-.8 2-1 1.1-.9 2-2.2.9-2.6.4-3.7z"/>
<path fill="#ff3000" d="M272.1 167.8l28.3 0 0 55.2-28.3 0-.1-7.7-.6-3.7-.7-1.8-.8-1.2-2.5-2.2-5.6-2.4-4.6-1.1-7.3-1.1-5-2.5-3.5-1.2-5.2-.9-1-.9 0-1.5 1.2-1.2 1.8-.1 4.4-.9 2.3-.8 4.5-2.4 5.5-.8 7.7-2 3.6-1.4 2.2-1.3 2-2.1 1.1-2.8.5-3.7z"/>
<path fill="#ff3b00" d="M277.2 167.8l23.2 0 0 55.2-23.2 0-.1-7-.5-3.7-1.4-3-2-2-3.6-1.9-4.2-1.4-6-1.5-6-.9-1.8-.5-1.7-.1-8.3-3-5.2-.8-1-.9 0-1.5 1.2-1.1 1.6-.1 4.4-.8 2.3-.7 4.3-2 6-.8 1.7-.5 6-1.1 5.7-1.7 2.3-.9 2.3-1.3 2.3-2.5 1-2.5.5-3.8z"/>
<path fill="#ff4800" d="M282.6 167.8l17.8 0 0 55.2-17.8 0-.1-6.7-.6-3.7-.7-1.8-.8-1.2-2.5-2.2-2.5-1.3-5.5-2-6-1.2-1.7-.6-8.6-1.2-2-.5-1.4-.1-2-.4-6.6-2.3-5.2-.8-1-1 .1-1.2 1.1-1 1.6 0 4.7-.9 6.3-2.3 6-.7 1.7-.5 6.3-.9 8-2 2.2-.7 3.2-1.5 2.1-1.3 1.3-1.2 1-1.2.7-1.6.7-3.7z"/>
<path fill="#ff5500" d="M289.5 167.8l10.9 0 0 55.2-10.9 0-.3-7-.5-2.2-.7-1.8-2.4-2.7-2-1.3-3.2-1.7-2.2-.8-8-2.2-6.3-1.1-1.7-.5-8.6-1.1-1.7-.5-3.7-.4-6.6-2.1-5.2-.7-.8-.6-.1-1.3 1.1-1.1 1.6 0 4.7-.8 6.3-2 6.2-.7 1.8-.5 6-.8 2.2-.6 6-1.1 7.8-2.3 4.4-2 3.3-2.6 1.6-2.7.8-3.8z"/>
<path fill="#ff6200" d="M294.8 181.3l2.1-.1 3.5 1.2 0 26.2-2.5 1.1-2.7.1-2-.4-2.6-1.1-10-3.3-10.4-2.4-6-.8-1.8-.6-1.8-.1-5.2-.8-1.8-.1-1.7-.5-3.7-.4-6.6-1.8-5.2-.7-.7-.8 0-1 .9-.9 6.3-.9 6.3-1.8 6.2-.6 1.8-.5 6.2-.7 2-.6 8.2-1.3 10.3-2.6 9-3.4z"/>
<path fill="#ff6e00" d="M295 183.8l1.2.1 2.2.6 1 .5 1 .9 0 19.3-1.2 1-2 .8-4 .2-2.3-.7-12.5-2.8-6-1-4.2-.9-4-.4-1.8-.6-1.8 0-5.2-.9-1.8 0-1.7-.5-3.7-.4-6.6-1.6-4.2-.5-1-.2-.6-.7 0-1 .8-.8 6.3-.8 6.3-1.6 6.2-.6 1.8-.5 6.2-.7 2-.6 8.5-1.2 2-.6 8.3-1.5 2-.6 4.4-1z"/>
<path fill="#ff7c00" d="M294.6 185l1.3.1 2.3.7 2.2 1.7 0 15.9-1.5 1.4-2.3 1-3.4.2-2-.6-8.3-1.3-4.3-1-6.2-.8-2-.6-6.2-.7-1.8-.5-8.8-.9-1.4-.5-4-.3-6.6-1.6-4-.3-1.2-.4-.6-.7.1-.8 1-.8 6-.6 6.3-1.5 6.4-.6 1.6-.5 6.2-.7 2-.5 8.5-1.1 2-.5 8.5-1.3 2-.6z"/>
<path fill="#ff8b00" d="M292.7 186l2.7-.1 2.2.6 2.8 2.2 0 13.5-2 1.9-1.8.9-3.4.2-1.8-.5-8.5-1.2-4.3-.9-6.2-.7-1.8-.5-6.4-.7-1.5-.5-1.8 0-5.3-.9-2 0-1.4-.5-4-.3-3-.7-1.6-.1-1.7-.6-4.3-.3-1.2-.4-.5-.6.1-.8.9-.7 1.5 0 .5-.2 4.3-.4 6-1.4 6.4-.5 1.6-.5 4.2-.4.8-.2 1.4-.1 1.8-.5 8.5-1 2-.5 6.3-.8 4.2-.9z"/>
<path fill="#ff9a00" d="M293.1 186.6l2.3-.1 2.2.6 2.3 1.9.5 1.3 0 10.5-.5 1-1.7 1.7-1.8.9-3.2.2-1.8-.5-8.5-1-1.7-.6-8.6-.9-2-.6-3.7-.3-.7-.2-1.8-.1-1.8-.5-1.7 0-5.3-.8-1.7 0-1.7-.5-4-.3-2.8-.6-1.8-.1-1.7-.6-4.3-.3-1.2-.4-.4-.5.1-.8.8-.6 6.3-.6.4-.3 1.8-.1 1.8-.6 1.4 0 .8-.3 6.2-.5 1.8-.5 1.8 0 .7-.3 3.7-.3 2-.5 8.6-.9 1.7-.5 6.5-.7 4-.9z"/>
<path fill="#ffa900" d="M293.1 187l2.3 0 2 .6 2 1.7 1 1.8 0 8.6-1 1.9-1.5 1.5-1.5.8-3 .2-1.8-.5-1.7 0-.7-.3-6-.6-2-.5-8.6-.9-2-.5-3.7-.3-.7-.3-1.8 0-1.5-.5-2 0-2.7-.5-1.8-.1-.5-.2-2 0-1.5-.5-4.2-.3-.6-.3-1.7 0-.5-.3-1.8-.1-1.7-.5-4.3-.3-.2-.3-.8 0-.5-.5.1-.5.7-.8 6.3-.6.4-.2 1.8-.1 1.8-.6 6.2-.5.5-.3 2 0 1.5-.5 6.5-.6 1.7-.4 8.6-.9 2-.5 8.4-.9 1.8-.5 1.8-.1z"/>
<path fill="#ffb900" d="M293 187.6l2.2-.2 2.1.6 1.9 1.6.8 1.7.3 1 .1 5.7-.4 1.6-.8 1.6-1.6 1.6-1.2.6-3 .3-1.5-.5-2 0-2.7-.5-1.8-.1-.5-.2-1.7 0-1.8-.5-4.2-.3-.6-.3-1.7 0-.5-.3-1.8 0-1.7-.5-4-.3-.5-.2-2 0-1.5-.6-2 0-.5-.2-4-.3-.5-.2-2 0-1.5-.5-1.8 0-.4-.3-2 0-.6-.3-1.7 0-.5-.3-1.8 0-.2-.3-1 0-.2-.2-4.6-.3-.2-.2-.8-.1-.4-.4 0-.5.7-.7 4-.3.3-.2 2.2 0 .2-.3 1.8 0 1.8-.6 6.2-.5.5-.3 2 0 1.5-.5 2 0 .5-.2 4-.3 1.7-.5 1.8 0 .5-.3 1.7 0 .6-.2 4.2-.3 1.8-.5 6.4-.6.6-.3 1.7 0 1.7-.5z"/>
<path fill="#ffc903" d="M293.3 187.8l1.9-.1 1.9.6 1.8 1.6.2.7.6 1 .5 2 0 4-.5 1.7-.8 1.7-1.6 1.6-.7.1-.4.4-2.8.3-1.5-.5-2-.1-.5-.2-6.2-.5-1.6-.5-4.4-.3-.3-.3-2 0-.3-.2-2 0-.2-.3-1 0-.2-.2-2 0-.3-.3-2 0-.3-.2-2.2 0-1.2-.5-2.3 0-.3-.3-2 0-.2-.2-2 0-.2-.3-2.3 0-1.3-.5-2 0-.2-.2-2.2 0-.3-.3-4.3-.3-1.4-.5-2 0-.3-.2-2.3-.1-.2-.2-.8 0-.3-.4 0-.5.6-.6 4-.3.3-.3 2.2 0 .2-.2 2-.1.3-.2 1 0 .3-.3 4.2-.2.2-.3 2 0 .3-.2 2.3 0 1.2-.5 2.2 0 .3-.3 2 0 .3-.2 2 0 .2-.3 1 0 .2-.2 4.3-.3.3-.2 2.2 0 .2-.3 2 0 .3-.2 1 0 .3-.3 2 0 .2-.2 2-.1.2-.2 2.3 0 .3-.3 2 0 1.4-.5 1.8 0 .5-.2 1.7-.1.6-.2 1.7 0z"/>
<path fill="#ffdf0f" d="M293.2 188l2-.1.2.2 1.5.3 1.9 1.6 0 .6.8 1 0 .7.5 1.3 0 4-.3.2-.2 1.5-.8 1.5-1.6 1.7-.6 0-.4.5-2.8.2-1.2-.5-2 0-.6-.2-2 0-.2-.3-2 0-.2-.2-2-.1-1.6-.4-1.7 0-.5-.3-2 0-.5-.2-2-.1-.3-.2-2 0-1.4-.5-2 0-.3-.2-2-.1-.3-.2-2.2 0-1.2-.5-2 0-.6-.2-2-.1-.2-.2-2 0-.2-.3-2.3 0-1.3-.5-1.7 0-.5-.2-2 0-.5-.3-2 0-.3-.2-2-.1-1.4-.4-2-.1-.3-.2-2.3 0-.2-.2-.8-.1-.3-.3 0-.5.6-.6 4-.3.5-.2 2 0 .5-.3 1.7 0 1.6-.5 6.4-.5.6-.2 2 0 1.2-.5 6.8-.6 1.4-.4 9-.8 1.6-.5 2 0 .2-.2 2-.1.5-.2 2 0 .3-.2 2-.1 1.4-.5 2 0 .3-.2z"/>
<path fill="#fff51b" d="M293.4 188l1.5 0 2 .5 1.5 1.3.3.2.2 1 .5.6 0 .7.5 1.3 0 4-.2.2-.3 1.5-.7 1.5-1.5 1.5-.6.1-.7.5-1.5 0-.8.2-1.4-.5-2 0-.6-.2-6.2-.5-1.8-.5-8.7-.8-1.7-.5-4-.2-.6-.3-2 0-1.4-.5-2 0-.6-.2-4-.3-.4-.2-2 0-1.6-.5-1.7 0-.5-.3-2 0-.5-.2-4-.3-1.7-.5-1.8 0-.5-.2-2.3-.1-1.2-.5 0-.5.5-.5 4-.3.5-.3 2 0 .5-.2 1.7 0 1.8-.5 6.2-.5.6-.3 2 0 1.4-.5 2 0 .6-.2 4-.3 1.7-.5 8.7-.7 1.8-.5 8.8-.8 1.7-.5 1.7 0 .6-.2 1.7 0 .5-.3z"/>
<path fill="#f3fc1e" d="M293.6 188l1.3 0 1.8.6 1.7 1.4.4 1 .4.6.1.7.4 1.3.1 3.7-.6 2-.7 1.5-1.3 1.3-1.3.7-1.5 0-.8.3-1.4-.5-2 0-.6-.3-6.2-.5-1.8-.5-8.7-.7-1.7-.5-4-.3-.6-.2-2 0-1.4-.5-2 0-.6-.3-4-.2-.4-.3-2 0-1.6-.5-8.7-.7-1.7-.5-1.8 0-.5-.3-2 0-1.3-.5 0-.5.6-.5 3.7-.3.5-.2 2 0 .5-.3 1.7 0 1.8-.5 6.2-.5.6-.2 2 0 1.4-.5 2 0 .6-.3 4-.2 1.7-.5 8.7-.8 1.8-.5 8.8-.7 1.7-.5 1.7 0 .6-.3 1.7 0 .5-.2 1.8 0z"/>
<path fill="#e2fe1e" d="M293.6 188.3l1-.1 2 .6 1.6 1.2.9 1.8.5 2 0 3.5-.6 2-.8 1.5-1.2 1.2-1.4.7-2 .1-1.4-.4-1.8 0-.8-.2-6-.5-2-.5-8.4-.8-2-.5-6.3-.5-1.7-.5-8.8-.7-1.8-.5-8.4-.8-4.3-.7-1.7 0-1.3-.4-.2-.2.7-.7 8.2-.7 2-.5 1.6 0 5.2-.8 1.8 0 1.7-.5 6.3-.5 2-.5 8.4-.7 2-.5 8.6-.8 2-.5z"/>
<path fill="#d4ff1e" d="M293.4 188.6l1.2-.3 1.8.5 1.5 1.3.9 1.7.5 2 0 3.5-.5 1.7-.9 1.8-1 1-1.3.7-2 .1-1.2-.3-8.8-.8-1.7-.5-8.7-.7-1.8-.5-1.8 0-3-.5-1.7 0-1.5-.5-9-.8-1.5-.5-8.7-.7-1.8-.5-1.8 0-.7-.3-1.7 0-1.2-.4.4-.5 1.5 0 .5-.3 6.5-.5 1.7-.5 8.8-.7 1.5-.5 6.5-.5 1.8-.5 8.7-.8 1.7-.5 6.3-.5.7-.2 1.8 0 1.8-.5z"/>
<path fill="#caff1c" d="M293.9 188.6l.7-.1 1.8.5 1.4 1.3.1.5.7 1 .5 2 0 3.5-.5 1.7-.9 1.8-1.1 1-1.2.6-1.8 0-1.2-.3-8.5-.7-2-.5-8.5-.8-2-.5-6.2-.5-1.8-.5-1.8 0-5.2-.7-1.8 0-1.7-.5-8.5-.8-2-.5-4-.2-1.1-.3.1-.3 2.2-.3 6.3-.5 2-.5 8.5-.8 1.8-.5 6.2-.5 2-.5 8.5-.7 2-.5 8.5-.8 2-.5z"/>
<path fill="#b4ff16" d="M294 189l1.9.4 1.2 1.2.7 1.2.6 2.2 0 3-.6 2-.8 1.6-.8.8-1 .5-1.6 0-9.4-1-2.3-.5-8.3-.8-2.2-.4-6-.6-2-.4-8.5-.8-2-.5-8.3-.8-3.8-.5 1.4-.4 4-.3 2-.4 8.2-.8 2-.5 6-.5 2.2-.5 8.3-.8 2.3-.4 8.2-.8 2.2-.5z"/>
<path fill="#a0ff1d" d="M292.1 189.8l2.3-.2 1 .3.9.9.7 1.2.5 2 0 3-.5 1.8-.7 1.5-.7.6-1 .4-10.2-1-2.2-.4-16.6-1.8-2-.5-19-2z"/>
<path fill="#90ff2f" d="M294.1 190.3l.5 0 .8.7.7 1.3.5 2 0 2.5-.6 2-.6 1.2-1 .7-20.2-2.2-2.3-.5-16.5-1.8-4.1-.6 7.6-1.2z"/>
<path fill="#82ff4a" d="M293.8 191l.5.3.6 1 .6 2 0 2.5-.5 1.8-.8 1.4-37.4-4.4 2.1-.5z"/>
<path fill="#76ff70" d="M292.2 192l1.2 0 .8 2.6 0 2.2-.8 2.2-19-2.1-9.9-1.3 2.9-.7z"/>
<path fill="#6cff96" d="M290.9 193.3l1-.1.4.4.2 1 0 2-.3 1.2-18.8-2.2z"/>
</g></g>
<text x="299.7" y="171.2" style="font-family:'Liberation Sans',sans-serif;font-size:4px" fill="#3c3c3c">1.0</text>
<rect x="298.5" y="169.6" width="0.9" height="0.4" fill="#888"/>
<text x="299.7" y="184.1" style="font-family:'Liberation Sans',sans-serif;font-size:4px" fill="#3c3c3c">0.5</text>
<rect x="298.5" y="182.5" width="0.9" height="0.4" fill="#888"/>
<text x="299.7" y="196.9" style="font-family:'Liberation Sans',sans-serif;font-size:4px" fill="#3c3c3c">0.0</text>
<rect x="298.5" y="195.3" width="0.9" height="0.4" fill="#888"/>
<text x="298.8" y="209.8" style="font-family:'Liberation Sans',sans-serif;font-size:4px" fill="#3c3c3c">−0.5</text>
<rect x="298.5" y="208.2" width="0.9" height="0.4" fill="#888"/>
<text x="298.8" y="222.6" style="font-family:'Liberation Sans',sans-serif;font-size:4px" fill="#3c3c3c">−1.0</text>
<rect x="298.5" y="221.0" width="0.9" height="0.4" fill="#888"/>
<text transform="translate(310.0,195.5) rotate(-90)" text-anchor="middle" style="font-family:'Liberation Sans',sans-serif;font-size:3.8px" fill="#3c3c3c">z [AU]</text>
<text x="250.6" y="225.0" text-anchor="middle" style="font-family:'Liberation Sans',sans-serif;font-size:4.2px" fill="#3c3c3c">2</text>
<rect x="250.4" y="221.2" width="0.4" height="0.9" fill="#888"/>
<text x="268.8" y="225.0" text-anchor="middle" style="font-family:'Liberation Sans',sans-serif;font-size:4.2px" fill="#3c3c3c">3</text>
<rect x="268.6" y="221.2" width="0.4" height="0.9" fill="#888"/>
<text x="281.8" y="225.0" text-anchor="middle" style="font-family:'Liberation Sans',sans-serif;font-size:4.2px" fill="#3c3c3c">4</text>
<rect x="281.6" y="221.2" width="0.4" height="0.9" fill="#888"/>
<text x="291.8" y="225.0" text-anchor="middle" style="font-family:'Liberation Sans',sans-serif;font-size:4.2px" fill="#3c3c3c">5</text>
<rect x="291.6" y="221.2" width="0.4" height="0.9" fill="#888"/>
<text x="265.4" y="228.6" text-anchor="middle" style="font-family:'Liberation Sans',sans-serif;font-size:3.8px" fill="#3c3c3c">r [AU]</text>
<clipPath id="cp23"><rect x="325.2" y="169.8" width="66.6" height="51.4"/></clipPath>
<g clip-path="url(#cp23)"><g filter="url(#bl)">
<rect x="323.2" y="167.8" width="70.6" height="55.4" fill="rgb(104,4,10)"/>
<path fill="#68040a" d="M388 178.6l.7-.3 2.5 1.3.5.4.2 1 .5.8 0 27.5-.7 1.5-1.3 1.2-1 .5-1.4 0-4.6-2.2-2-.5-2-1-1.7-.3-2-1-1.7-.2-.8-.5-.8 0-.2-.3-1 0-.8-.5-.7 0-.3-.2-2-.3-.7-.5-.7 0-.3-.2-1 0-.3-.3-1 0-.2-.2-1 0-.2-.3-1 0-.3-.2-1.3 0-.2-.3-1 0-.2-.2-1 0-.3-.3-1 0-.3-.2-1 0-.2-.3-1 0-.2-.2-2.3 0-.3-.3-1.2 0-.2-.2-2.3 0-.3-.3-1 0-.2-.2-2.2 0-.3-.3-5-.2-.3-.3-2.2 0-.2-.2-2.3 0-.3-.3-3.4 0-.3-.2-3.3 0-.2-.2 1-2.6 0-.4.5-.8 0-.5-.5-.7-.2-1.3-.8-1.5.2-.5 1.8 0 .2-.2 3.8 0 .2-.3 2.3 0 .3-.2 3.4 0 .3-.3 2.5 0 .2-.2 1 0 .3-.3 4.7-.2.3-.3 1 0 .3-.2 2.4 0 .3-.3 1 0 .3-.2 1 0 .2-.3 2.2 0 .3-.2 1 0 .3-.3 1 0 .2-.2 1 0 .2-.3 1.3 0 .3-.2 1 0 .2-.3 1 0 .2-.2 1 0 .3-.3.7 0 .8-.5 3-.5.8-.5.7 0 .3-.2 2.2-.3 2-1 1.8-.2 4.4-2 2-.5 2-1 .6 0z"/>
<path fill="#980205" d="M388 178.6l.7-.2.7.2 1.8 1 .4.4.3 1 .5.8 0 27.5-.8 1.5-1.2 1.2-1 .5-1.4 0-4.6-2.3-2-.5-2-1-1.7-.2-2-1-1.7-.3-.8-.5-.8 0-.2-.2-1 0-.8-.5-.7 0-.3-.3-2-.2-.7-.5-.7 0-.3-.3-1 0-.3-.2-1 0-.2-.3-1 0-1.5-.5-1.3 0-.2-.2-1 0-.2-.3-1 0-.3-.2-1 0-.3-.3-1 0-1.4-.5-2.3 0-.3-.2-1.2 0-.2-.3-2.3 0-1.5-.5-2.2 0-.3-.2-2.3 0-.2-.3-2.5 0-.3-.2-2.2 0-.2-.3-2.3 0-.3-.2-3.4-.1-.3-.2-3.4-.1 1-2.6 0-.4.5-.8 0-.5-.5-.7-.2-1.3-.8-1.5.1-.4 1.8 0 .5-.3 3.5 0 .2-.2 2.3 0 .3-.3 3.4 0 .3-.2 2.5 0 1.5-.5 4.7-.3 1.6-.5 2.4 0 1.6-.5 1 0 .2-.2 2.2 0 1.6-.5 1 0 .2-.3 1 0 .2-.2 1.3 0 1.5-.5 1 0 .2-.3 1 0 .3-.2.7 0 .8-.5 3-.5.8-.5.7 0 .3-.3 2.2-.2 2-1 1.8-.3 4.4-2 2-.5 2-1 .6 0z"/>
<path fill="#d60000" d="M388.1 178.6l.6-.2.7.3 1.8 1 .4.3.2 1 .5.8 0 27.5-.7 1.5-1.2 1.1-1 .5-1.4 0-4.6-2.2-2-.5-2-1-1.7-.3-2-1-1.7-.2-.8-.5-.8 0-.2-.3-1 0-.8-.5-.7 0-.3-.2-2-.3-.7-.5-.7 0-.3-.2-1 0-.3-.3-1 0-.2-.2-1 0-1.5-.5-1.3 0-.2-.3-1 0-.2-.2-1 0-.3-.3-1 0-.3-.2-1 0-1.4-.5-2.3 0-.3-.3-1.2 0-.2-.2-2.3 0-1.5-.5-2.2 0-.3-.3-2.3 0-.2-.2-2.5 0-.3-.3-2.2 0-.2-.2-2.3-.1-.3-.2-3.2 0-.5-.2-3.3-.1 1-2.6 0-.4.5-.8 0-.5-.5-.7-.3-1.3-.7-1.5 0-.3 1.8-.1.5-.2 3.5 0 .2-.2 2.3-.1.5-.2 3.2 0 .3-.3 2.5 0 1.5-.5 4.7-.2 1.6-.5 2.4 0 1.6-.5 1 0 .2-.3 2.2 0 1.6-.5 1 0 .2-.2 1 0 .2-.3 1.3 0 1.5-.5 1 0 .2-.2 1 0 .3-.3.7 0 .8-.5 3-.5.8-.5.7 0 .3-.2 2.2-.3 2-1 1.8-.2 4.4-2 4.6-1.5z"/>
<path fill="#ff0000" d="M388.1 178.6l1.3.1 1.8 1 1.1 2.1 0 27.5-.8 1.5-1.1 1.1-1 .5-1.4 0-4.6-2.3-2-.5-2-1-1.7-.2-2-1-1.7-.3-.8-.5-.8 0-.2-.2-1 0-.8-.5-.7 0-.3-.3-2-.2-.7-.5-.7 0-.3-.3-1 0-.3-.2-1 0-.2-.3-1 0-1.5-.5-1.3 0-.2-.2-1 0-.2-.3-1 0-.3-.2-1 0-.3-.3-1 0-1.4-.5-2 0-.6-.2-1.2 0-.2-.3-2.3 0-1.5-.5-2 0-.5-.2-2.3 0-.2-.3-2.2 0-.6-.2-4.7-.3-.3-.2-7-.3 1-2.6 0-.4.5-.8 0-.5-.5-.7 0-.6-1-2.5 1.8 0 .5-.3 3.5 0 .2-.2 2.3 0 .5-.3 3.2 0 .6-.2 2.2 0 1.5-.5 4.7-.3 1.6-.5 2.4 0 1.6-.5 1 0 .2-.2 2.2 0 1.6-.5 1 0 .2-.3 1 0 .2-.2 1.3 0 1.5-.5 1 0 .2-.3 1 0 .3-.2.7 0 .8-.5 3-.5.8-.5.7 0 .3-.3 2.2-.2 2-1 1.8-.3 4.4-2 4.6-1.5z"/>
<path fill="#ff2a00" d="M388.2 178.6l1.2.2 1.8 1 1 2 0 27.5-.7 1.5-1.1 1-1 .5-1.4 0-4.6-2.2-2-.5-2-1-1.7-.3-2-1-1.7-.2-1.8-.8-1 0-1.8-.7-2-.3-1.7-.7-1 0-.3-.3-1 0-2.7-.7-1.3 0-.2-.3-1 0-.2-.2-1 0-.3-.3-1 0-2.7-.7-2 0-.6-.3-1.2 0-.2-.2-2.3 0-1.5-.5-2 0-.5-.3-2.3 0-.2-.2-2.2 0-.6-.3-4.6-.3-.4-.2-6.4-.3-.4-.2 1.4-3.5 0-.5-.4-.7-.9-2.9 1.5-.1.5-.3 3.5 0 .4-.3 2.1 0 .5-.2 6-.3 1.8-.5 4.4-.2 1.8-.5 2.2 0 2.8-.8 2.2 0 2.8-.7 1 0 .2-.3 1.3 0 2.7-.7 1 0 1.8-.8 3-.5 1.8-.7 2.2-.3 2-1 1.8-.2 4.4-2 4.6-1.5z"/>
<path fill="#ff5800" d="M388.4 178.6l2.8 1.3.9 2.1 0 27-.7 1.8-1 .9-1.1.6-1.2 0-4.7-2.2-1.7-.5-2.3-1-1.5-.3-2.2-1-1.5-.3-2-.7-.8 0-2-.7-1.7-.3-2-.7-5-1-1 0-6.7-1.5-2-.1-2-.5-2 0-1.8-.5-2 0-.5-.2-2 0-.5-.3-2.2 0-.6-.2-2-.1-.4-.2-2 0-.6-.3-3.2 0-.5-.3-2.9-.1 1.4-3.5 0-.5-1.3-3 .1-.6 1.2 0 .5-.2 3.5-.1.5-.3 2 0 .5-.2 6-.3 1.8-.5 4.4-.3 1.8-.5 2.2 0 3-.7 2-.1 4.3-.9 1-.1 3.7-.7 2-.8 2.8-.5 1-.5 3-.5 2.2-.9 1.6-.3 4.7-2 4.3-1.5z"/>
<path fill="#ff8b00" d="M388.2 178.8l.2-.2.8.3 2 1.1.8 2 0 27-.8 1.8-.8.8-1.2.6-1 0-4.5-2.2-4.3-1.5-1.4-.3-2.3-1-1.5-.2-2-.8-.8 0-1-.5-2.7-.5-2-.7-5-1-1-.1-6.7-1.5-2 0-2-.5-2 0-1.8-.5-7.2-.5-.6-.3-2 0-.4-.2-2-.1-.6-.2-3.1 0-.6-.3-2.5-.3 1.2-3.2-.1-.8-1.1-2.7.2-.4 1.6-.3 5.7-.4.5-.2 6-.3 1.8-.5 4.4-.3 1.8-.5 2.2 0 3-.7 2 0 4.3-1 4.7-.8 2-.7 2.8-.6 1-.5 3-.5 2.2-1 1.6-.2 9.2-3.6z"/>
<path fill="#ffc400" d="M388.4 178.8l.8.2 1.8 1 .9 2 0 27-.9 1.8-.7.8-1.1.5-1 0-4.5-2.2-2-.6-2-.9-1.7-.3-2-.9-1.8-.4-1.8-.6-1-.1-.7-.4-3-.6-1.7-.7-5.3-1.1-1 0-6.7-1.5-2 0-2-.5-2 0-1.8-.5-7-.5-.8-.3-4.2-.3-.8-.3-3-.1-.4-.2-2.4-.3 1.1-3 0-.8-1-2.8 1.3-.3 3.2-.2 3.2-.6 5.8-.3 1.9-.5 4.3-.3 1.8-.5 2.2 0 3-.7 2 0 4.3-1 5-.9 1.7-.6 3-.6.8-.4 3.2-.6 2-.9 1.8-.4 4.5-1.9 4.5-1.6z"/>
<path fill="#eafc1e" d="M388.3 179l.9.2 1.8 1.1.7 1.7 0 27-.9 1.8-.6.6-1 .5-1 0-4.5-2.2-4-1.5-1.7-.3-2-.9-4.3-1-1-.5-2.7-.6-2-.7-13-2.5-1.8 0-2.2-.6-1.8 0-2-.5-7-.6-.5-.2-10.4-1.2.8-2.6.1-.7-.9-2.7.9-.4 3-.2 3.5-.6 5.7-.4 1.8-.5 4.2-.3 2-.5 2 0 3.3-.8 2 0 9-1.8 2-.7 2.7-.5 1-.5 3-.5 2-.9 1.8-.4 9-3.5zM330.2 194.5l-.1.5.3.3.4-.5-.4-.4zM334.4 192.8l-.2.5.5.2.3-.7z"/>
<path fill="#caff1c" d="M388.1 179.3l.9 0 1.8 1 .7 2 0 26.7-.8 1.6-.7.7-1 .5-1.9-.5-3.1-1.6-4.3-1.6-1.5-.3-4.8-1.7-5.4-1.3-2-.7-6-1.1-6.8-1.5-2 0-2-.5-2 0-1.8-.5-7-.7-10.7-1.5.8-2.5-.1-.8-.7-2.2.5-.3 3.2-.2 3.3-.7 5.7-.4 1.8-.5 4.5-.3 1.7-.5 2.3-.1 3-.7 2-.1 9-1.7 2-.8 2.7-.5 1-.5 3-.5 2.3-1 1.5-.2 9.2-3.6zM330.2 194.3l-.2.7.4.4.3-.1.2-.5zM334.4 192.6l-.3.4.3.7.6-.3.1-.6-.1-.2z"/>
<path fill="#b4ff16" d="M388.1 179.6l.3-.2.6.1 1.4.9.9 1.9 0 26.5-.8 1.8-1.5 1-1.8-.5-3.2-1.6-4-1.5-1.8-.4-4.5-1.6-5.7-1.4-2-.7-12.8-2.6-1.8 0-2.2-.5-1.8 0-2-.5-1.7-.1-.7-.2-7-.7-3.3-.6-2.7-.2-1.9-.5.6-2 .1-1-.7-1.7.1-.5 3.2-.3 3.3-.6 5.7-.5 2-.5 4.3-.3 2-.5 2-.1 3.1-.7 1.9-.1 9-1.7 5.7-1.7 3-.6 2.3-1 1.7-.3zM330.2 194.1l-.4.9.6.5.4-.2.2-.5zM334.4 192.4l-.5.6.2.6.3.2.6-.3.2-.7-.2-.4z"/>
<path fill="#a0ff1d" d="M388.1 179.8l.6-.2 1.6 1 .8 1.7 0 26.5-.9 1.7-1.2.9-1.8-.5-3.1-1.6-7.9-2.8-10.2-2.8-12.8-2.6-1.8 0-2.2-.5-1.8-.1-2-.5-1.7 0-11-1.6-2.7-.1-1.6-.5.5-1.5.3-1.5-.7-1-.1-.8 1 0 0 .8.4.5-.2.7.8.5.7-.5-.2-.4-1-1.3.3-.4 1.6-.1.6-.3 1.3 0 .2 1.1.5.3.9-.9-.1-.7.2-.2 5-.4 2-.6 4.3-.3 2-.5 2 0 3.3-.8 1.7 0 9.3-1.9 5.7-1.7 3-.5 2-.9 1.7-.4zM335.7 197.5l-.2.3.2.2.4-.2 0-.2z"/>
<path fill="#90ff2f" d="M388.1 180l.6-.1 1.3.7.8 1.7 0 26.5-.8 1.6-1.3.8-4.5-2.1-4-1.5-1.8-.4-4.7-1.7-7.5-2-13-2.6-1.8 0-6-1.1-4-.3-1.2-.4-1.5.1-2.5-.4-.5-.2.7-.8-.1-.2-.3-.2-.6.1 0 .8-.4.2-5-.5-1.2-.4.6-2.3 1 .3.7-.3-.1-.7-.8-1 .2-.5 1.8-.1 1-.3.3.1.5 1 .4.2.6-.3 1-1.4 4.4-.4 4.6-.8 1.7-.1 2-.5 2 0 3.3-.8 1.7 0 9.3-1.9 5.7-1.7 3-.5 2.3-1 1.5-.3zM333 194l-.2.3.4.2.1-.2zM328.7 193.3l.3-.1.2.4-.2.2z"/>
<path fill="#82ff4a" d="M388.1 180.3l.6-.2 1 .7.7 1.8-.3 3.2.2 1-.1 4.8-.5 1.4.5 2.6.2 13-.8 1.7-.9.7-4.5-2.1-7.8-2.8-14-3.7-2.2-.2-7-1.5-1.5 0-6.3-1.1-4-.3-1.2-.5-1.5.1-2.5-.3-.1-.3.6-.5-.1-.2-.6-.3-.6.1-.3.6-.4.3-4.7-.5-.9-.5.6-1.7 1 .1.5-.4-.1-.7-.7-1 .3-.3 2.5-.2.2.7-.4-.1-.3.6.1.3.4.1.3-.1.2-.8 1 .3 1-1.4.5-.2 6-.6 2.8-.6.7.2 3.3-.8 1.7 0 3.3-.8 2-.1 9-1.7 5.7-1.7 3.3-.7 2-.8 1.7-.4z"/>
<path fill="#76ff70" d="M388.3 180.6l.4-.2.8.6.5 1.6-.1 9.2-.5 1.5 0 1.3.5 1 .1 8.2-.3.8.3 1.7 0 2.3-.5 1.4-.8.7-8.3-3.5-2-.4-4.4-1.6-10.6-2.7-.7-.5-2.3 0-1.4-.3-.8-.5-1.5.1-3.3-.8-1.7 0-2-.6-2 0-1-.4-5.3-.4-1-.4-1.7 0-2.2-.4.9-.3.1-.2-1.5-.6-.6.1-.4.7-.3.1-5.3-.8.5-1.5 1.1-.1.3-.4-.7-1.5.1-.3 1.7 0 .2 1.1.6.2.5-.2.3-.4.7 0 1.3-1.5 4-.2 1.4-.4.8 0 2.8-.5.7.2 3.3-.8 2-.2 3.2-.7 1.8 0 9-1.8 5.9-1.7 3.1-.7 6.4-2.2 1.9-.9z"/>
<path fill="#6cff96" d="M388.4 180.8l.3 0 .6.5.4 1.3-.1 9.2-.4 1.1-.1 1.7.5 1 .1 8-.7 1.4.7 1.6 0 2-.5 1.3-.5.5-.5-.5-.8.1-7-3-10.8-3.2-.9-.5-.7 0-2.3-.5-3-.9-2.3-.1-1.2-.2-1-.6-1.5.1-3.3-.8-1.7 0-1.5-.4-.8-.6-.7.4-1 0-1-.6-2.7 0-3-.5-2.3-.1-1.3-1-1.4-.3-.6 0-.7.7-4.5-.6-.4-.3.3-1 1.1-.2.3-.5-.5-1.6 1.2-.1.5 1.2 1.2 0 .8-.4 1-1.4 3.3-.3 1 .2 1.4-.6 3.6-.5 1 .1 8.2-1.6 1.8 0 9.2-1.9 5.8-1.7 3.2-.6 2-.9 4.2-1.2 2-1z"/>
<path fill="#64ffbc" d="M388.2 181.3l.6 0 .7 1.3-.2 9.2-.4 2.8.4 1 .1 7.7-.7 1.7.7 1.6.1 2-.8 1.4-.5-.5-1 .1-2.5-1.2-4.3-1.7-.9-.1-.5-.4-.8 0-4-1.4-2-.4-2-.7-1.8-.9-.4.3-2.3-.5-1-.4-1.3-.1-.7-.4-3.5-.4-.8-.6-1.7.1-3.3-.7-3-.3-1-.8-1 .5-.7 0-1.3-.7-.7.2-1.5-.1-5.3-.6-.7-.2-.8-.7-1.4-.3-.6 0-.4.5-.6 0-4-.6-.1-.2.3-.8.6 0 .5-.7-.5-1.3 1-.2.2 1 1.8.2.5-.4 1-1.4 3.3-.4 1 .4.4-.4 2.3-.5 3-.2 1.5-.3 1 .3.5-.4.7-.3 1.6-.1 3.2-.8 1.8 0 9.2-1.9 6.8-1.9 2.2-.4 2-.9 4.2-1.1 2-1.1 4.3-1.6zM343 196.3l-.4.5.6.9.4-1.4-.2-.2z"/>
<path fill="#60f8e1" d="M386.9 181.8l1.5-.2.8 1-.1 9.2-.4 2.8.3 1 .1 7.4-.5.6-.1 1.7.7 1.5 0 1.8-.5.9-1.5-.1-2.5-1.2-3.3-1.2-1-.6-.7-.1-.5-.8-.5 0-.5.4-.5-.1-3.3-1.1-4-1.1-.4-.6-1.6-.6-.7.4-2-.4-.7-.4-5.6-.9-1-.8-1 .4-4-.8-3-.3-1-.8-1.4.5-1.6-.8-.7.3-2.2-.2-.2-.3.6-2-.2-.4-.7.1-.7.6.5 1.2 0 .5-.4.1-3.4-.3-1.6-.8-1.7-.3-.7.4-1-.1-2.3-.5-.3-.5.8-1.2 2.2-.1 1-1.5 3.6-.5 1 .4.4-.4 1.3-.3 3.5-.5 2-.2 1 .4.8-.6.7-.3 1.3 0 3.4-.8 1.6 0 9.2-1.9 9-2.3 2-.8 4.2-1.2 1-.7zM337.2 194.3l-.4.3.2.4.3-.4zM331.5 194.3l.7-.1 0 .6-.5.1z"/>
<path fill="#5ee7ff" d="M386.8 182l1.4-.1.5.4.2.5 0 .5-.6.7.5.8.1 1.2-.1 6.3-.3 2.3.3 1 .1 7-.2.3-.8-.3.6 1.4-.2 1.3.6 1.5 0 1.8-.5.6-1.2-.1-5.8-2.3-2.2-1.5-.5 0-.7.3-2.8-.8-.5-.5-1 0-3-.9-.6-.6-1.9-.7-.5.5-8.3-1.8-.1-.2.5-.8-.4-.3-.5.1-1.5.9-4-.8-3-.3-1-.7-1.4.4-1.6-.7-.7.2-2-.3-.1-.5.6-1.5-.5-.6-1.6.6 0 .5.5.8-.2.6-3.4-.4-1.6-.6-1.7-.3-1.5.1-2.4-.7.1-.5.5-.5 2-.1 1-1.4 2-.1 1.8-.4.8.4.4-.5 4.8-.8 1.8-.1 1.2.3 1.2-.8 1.8-.1 3.2-.8 1.8 0 9.2-1.9 8.8-2.3 2.2-.9 3.8-1 1.2-.8zM337.2 194l-.5.6 0 .5.3.1.5-.6.1-.6zM377 189.5l.2.5.3-.2-.1-.4zM385.2 186l-.2.3.4.3.3-.4zM386.7 194l-.5.3 0 .3.8.1.1-.4z"/>
<path fill="#48b9ff" d="M386.9 182.3l1.3-.2.4.7-.2.6-1.2.9-.1.3 1.1 0 .4.7-.1 7.5-.4 1.8.4 1 .1 6.4-.2.3-.7-.3-.3.6.8 1.2-.2 1.8.6 1 0 2-.4.4-1-.2-5.8-2.2-.7-.7-1.5-.8-1.2.3-2.7-.8-.3-.6-1.3.1-2.7-.8-.8-.6-1.2-.4-.8-.5-.2 0-.3.5-.3 0-6.7-1.4-.5-.3-.2-1-.6-.3-.4.1-1.6.9-3.7-.8-3.3-.4-.7-.5-1.7.2-1.6-.6-2.2 0-.4-.2-.1-.2.8-1.2-.5-1-.8.1-1.4.6 0 .5.6.8-.2.3-3.2-.4-4.4-1.2.1-1 .7-1.1 1-.1.1.9.5.3 1-1.4 1-.3.4 0 .6.5.4-.6 2.6-.6 2.4-.3 2.8.1 1-.6 2-.2 3.2-.7 1.8-.1 8-1.6 10.2-2.6 2-.9 4-1.1 1.3-.7zM353.4 196l-.6.3-.1.4.4.1.9-.5zM377 189.3l-.3.5.3.3.4.2.4-.5-.1-.5zM385 185.8l-.3.5.3.4.4 0 .6-.4.1-.3-.4-.2zM386.7 193.8l-.9.5 0 .3 1.4.4.3-.2 0-.5-.3-.5zM386.4 204.8l-.2.5.2.5.3.2.5-.2.1-.5-.6-.5z"/>
<path fill="#3086ff" d="M387.1 182.6l.9-.2.3.4-.2.5-1 .7-.3.6.2.3 1-.1.3.2-.2 7.8-.4.9-.5-.8-.6.7-1.2.7.4.5 2.2.4.1.4.1 6-.8.2-.3.8.9 1.2 0 .8-.3.5-1.3-.6-.4.8.2.6.5.4 1-.4.5.3 0 2.5-6.5-2.3-.5-.6-1-.3-.8-.5-1.4.1-2.4-.8-.6-.5-1 0-.8-.2-.2-.3-2-.3-.6-.4-1.4-.4-.8-.8-.5.2-.3.5-6.7-1.4-.4-.4-.1-.8-.5-.3-.7 0-1.6.8-3.7-.8-3.3-.4-.7-.3-1.7 0-1.8-.7-.8.1-1.2 0-.2-.3.4-.5 1.3.2-1.7-1.9-2.2.6-.2.3-.1 1-2.4-.5.1-2.5.8.2.4-.5 2.6-.7 2.4-.4.8.2 1-.3 1.2 0 .8-.5 7-.9 8-1.6 4-1.1.8 0 3.2-1.1 1.2-.1 3.3-1.3 1.5-.2 4.8-2zM353.4 195.8l-.9.5 0 .7.2.2 1.3-.5 1.4-.1-.5-.6zM362.2 199.4l-.2.4.2.2.3-.2-.1-.3zM369.7 194.5l-.4 1.1-.6.7 0 .4 1.3-1.1zM373.7 187.8l-.2.2.1.6.6 0 0-.6zM375.4 195l-.6.3-.1.3.3.2.5-.2.2-.3zM377.2 189l-.5.3-.2.5.5.6.4.1.4-.2.2-.7-.3-.5zM383.4 190.2l-.2.6.2.6.4-.4.1-.4-.2-.4zM384.2 201.8l-.5.4 0 .4.9 0 .1-.6zM384.7 185.5l0 1.1.5.3.8-.3.5-.6-.3-.3-1.2-.3zM355.7 196.8l.4.5.4 0-.3-.4zM384.7 196.5l-.2.3.2.4.5.3.4-.2-.1-.7z"/>
<path fill="#1f60ff" d="M386.8 183l.9-.1.1.1-1 1-.3 1.3-.8.1-1.3-.7-.2 0-.1.3.4 1.6.7.5.5-.1 1-.7.4-1 .6-.3.1.3-.2 6.7-.2.3-.4-.7-.6-.3.1 2-1.3 1 .2.5 2 .8.1.2.1 3.2-.2.4-.4-.1-.3.5.9.2.1 1.3-.5.3-.4 1-.6.4 0 1-.5 1.3.7 1.6.6 0 .7-.6.2 1.5-.2.4-4.5-1.6-.5-.6 0-.7-.4-.3-1.1.4-.8 0-1-.7-1.2.2-1.6-.6-.1-.7-.3-.3-1.8.3-.7-.1-.3-.2-.2-1-.2-.2-.4.7-.4.2-3.2-1-.8-.9-.5.1-.5.5-4.8-1-.3-.1.6-.6.1-.4-.4-.5-.6.5-.1.9-.7-.1-.4-.1-.3-1.3-.3-.1-1 .1-1.3.7-10.4-1.9-.4-.2.1-.5.7-.4.1-.4-.6-.6-.5.3 0 .7-.3.1 0-3.2 3-.9.8.5.5-.5.7-.2.8.8.4-.3.2-.7.6-.3 2.8-.3 8-1.6 3.8-1.1 1 .1 1-.5.7.1.7-.6.8-.2.8-.1.4.9.6.2.7-.6-.4-.7.1-.1 2.4-.9 1.6-.3 4.8-2.1 1-.1zM385 196.2l-.9.6.9 1 .4.1.6-.3 0-.6-.6-.7zM353.7 195.3l-1.5 1-.1 1 .3.4 1-.7 1.3-.2.7.2.8.7.5-.1.2-.3-.3-.5-1.6-1.1zM355.7 193l-.4.3.1.4.6.2.4-.3.2-.3-.3-.3zM358 194.3l-.6.7.3.4.5-.1.5-.7-.3-.4zM363.7 194.3l-1.3.5.1.2.7.3.8-.2.3-.5zM365.4 196.2l-.2.4 1.2.6.6-.2-.1-.4-.5-.3zM366.4 190.7l.2.6.6 0-.3-.5zM369.7 194l-.4.6-.3 1-.8 1 .2.4.7-.2 1.2-1.2-.2-1.3zM371.2 190.3l.2.6.6-.3-.3-.3zM372.4 199.5l-.2.1 0 .3.5-.1zM373.2 194.7l.2.5 1.6 1 .4-.2.7-.7-.4-.4-1.3.2zM377 188.9l-.6.4-.1.7.9.8.5 0 .4-.5.2-1-.3-.3zM378.4 194l0 .5.6-.2 0-.3zM379 187l-.2.6.4.4 1.5-.4.3-.3 0-.3-.3-.1zM383.2 189.7l-.3.6 0 1.7-.8 1.6.3.4.6-.2.2-.4.2-1.4 1-1.4-.3-.8zM366.2 199.2l-.4.6.4.4.4-.6zM371.4 201.5l0 .3.3.1.5-.1-.2-.4zM374.7 201.2l.1.6.4.2.1-.4zM381 200.3l.4 1 .5-.3-.4-.4zM383 200.7l-.4.3.9.6-.3 1.2 1.7 0 .1-.5-.3-.8-1-.9zM387.1 203.6l.6.2 0 .8-.5-.3z"/>
<path fill="#1548ff" d="M383.2 184.8l.3 0 .8 2 .5.5-.1 1-1.3.1-1 .9-.8 0 .1.3.6.4.2 1.3-.3 1.3-.6 1.2.6.6.5 0 .8-.8.5-1.6.4-.2-.1 4.2-.8.8.8 1 .2 2.8-1.1-.7-.7.4-.7 0-1.8-1.2-.3.2-.2.7.3.5 1.7 1.4.5-.2.6.1 0 .5-.5.5.1.3 2 .2.3.2.2 2.8-1.5-.2-.3-.8-.4-.4-2.3.2-.7-.7-1 .1-1.7-.7-.3-.5-.7-.4-1 .3-1.3-.3 0-.9.3-.3 1 .8.4 0 .4-.5.7-1.2-.6-.5.1-.6 1-.3.6-.6.1-.5-.3-.4-.4.2-1.3 1.5-1.3-.5-1 .3-1-.5-1 .5-.1.4.4.8-.9 1-.1.4-1.7-.4-.8-1-.3 0 0-3.3.3.2.8-.2 1.4-1.3.5-.7-.5-1.5-.4-.4-1 .9-.3 1-.8 1 0-4.3.8-.7 0-1.7 1.3-.3.7.1.5-.6 1.5-.4.3 0 .1.4.6.5.5 0 1-.7-.1-.8 1.9-.8 1.2-.2.3.5-.1 1.2-2 .4-.7.8-1 .6 1-.1 1.5 1 1 .1.2 1.2.8-.3.2.1-.2.9-.8.1-.4.5.1 1 .6.2 1.8-1.4.4-1.6-.6-.7-.3-.7-.6-.5-.7 0 0-.5.5-1 .3-.3 1.5-.4.5-1.1-.5-.3-1.3.2-.4-.1.1-.3zM382.7 197.9l-.4.4.7.8.1-.8zM371.2 189.7l-.4.3 0 .8.4.4.8 0 .4-.6-.7-.8zM374.2 191.2l-.7.6-.1 1.4-1.2.4-.6 1 2.6 1.4.5.6-.2 1 .7.1.4-.4 0-1 .8-1-.4-.7-1.6.1-.7-.4-.1-.7.8-1.3 0-.7zM377.7 199.6l-.2.4.2.4.5.1.2-.2-.1-.5zM379 201l-.6.8.3.5.7-.3.4-.7-.4-.3zM371.7 196.1l-.7.9 0 .6.4.4 1.3.2.2-.4-.3-1.2-.4-.5zM372.9 200.3l.5-.2.3.4-.4.8-.8-.3 0-.2z"/>
</g></g>
<text x="393.0" y="171.2" style="font-family:'Liberation Sans',sans-serif;font-size:4px" fill="#3c3c3c">1.0</text>
<rect x="391.8" y="169.6" width="0.9" height="0.4" fill="#888"/>
<text x="393.0" y="184.1" style="font-family:'Liberation Sans',sans-serif;font-size:4px" fill="#3c3c3c">0.5</text>
<rect x="391.8" y="182.5" width="0.9" height="0.4" fill="#888"/>
<text x="393.0" y="196.9" style="font-family:'Liberation Sans',sans-serif;font-size:4px" fill="#3c3c3c">0.0</text>
<rect x="391.8" y="195.3" width="0.9" height="0.4" fill="#888"/>
<text x="392.1" y="209.8" style="font-family:'Liberation Sans',sans-serif;font-size:4px" fill="#3c3c3c">−0.5</text>
<rect x="391.8" y="208.2" width="0.9" height="0.4" fill="#888"/>
<text x="392.1" y="222.6" style="font-family:'Liberation Sans',sans-serif;font-size:4px" fill="#3c3c3c">−1.0</text>
<rect x="391.8" y="221.0" width="0.9" height="0.4" fill="#888"/>
<text transform="translate(403.3,195.5) rotate(-90)" text-anchor="middle" style="font-family:'Liberation Sans',sans-serif;font-size:3.8px" fill="#3c3c3c">z [AU]</text>
<text x="343.9" y="225.0" text-anchor="middle" style="font-family:'Liberation Sans',sans-serif;font-size:4.2px" fill="#3c3c3c">2</text>
<rect x="343.7" y="221.2" width="0.4" height="0.9" fill="#888"/>
<text x="362.1" y="225.0" text-anchor="middle" style="font-family:'Liberation Sans',sans-serif;font-size:4.2px" fill="#3c3c3c">3</text>
<rect x="361.9" y="221.2" width="0.4" height="0.9" fill="#888"/>
<text x="375.1" y="225.0" text-anchor="middle" style="font-family:'Liberation Sans',sans-serif;font-size:4.2px" fill="#3c3c3c">4</text>
<rect x="374.9" y="221.2" width="0.4" height="0.9" fill="#888"/>
<text x="385.1" y="225.0" text-anchor="middle" style="font-family:'Liberation Sans',sans-serif;font-size:4.2px" fill="#3c3c3c">5</text>
<rect x="384.9" y="221.2" width="0.4" height="0.9" fill="#888"/>
<text x="358.7" y="228.6" text-anchor="middle" style="font-family:'Liberation Sans',sans-serif;font-size:3.8px" fill="#3c3c3c">r [AU]</text>
<clipPath id="cp24"><rect x="418.4" y="169.8" width="66.6" height="51.4"/></clipPath>
<g clip-path="url(#cp24)"><g filter="url(#bl)">
<rect x="416.4" y="167.8" width="70.6" height="55.4" fill="rgb(104,4,10)"/>
<path fill="#68040a" d="M435.2 167.8l51.7 0 0 55.2-51.7 0-4-12.7-1.8-4-.8-.8-1-.6-3.2-.9-3-1.4-1.2-1.4-.6-2.4.6-3.2-.6-3.3.5-2.3.6-1 .9-.8 3.8-1.5 2.5-.7 1.7-1.8 1.6-3.5z"/>
<path fill="#68040a" d="M436.2 167.8l50.7 0 0 55.2-50.7 0-4.3-13.4-1.7-3.8-.9-1-1.9-1-3-.8-2.8-1.3-1.3-1.4-.4-1 0-1 .9-2.7-.9-3.3.5-1.7 1.5-1.5 3.7-1.4 1.8-.4 1.6-1 1.4-1.5 1.8-4z"/>
<path fill="#68040a" d="M437 167.8l49.9 0 0 55.2-49.9 0-4.4-13.7-1.8-3.7-1.5-1.6-2.9-1.3-1.8-.2-3-1.4-1.2-1.3-.3-.8.1-.7 1-2.7-1.1-3.3.4-1.3 1.7-1.4 3.7-1.4 1.5-.2 2.4-1.4 1.1-1.2 1.8-3.8z"/>
<path fill="#6d040a" d="M437.8 167.8l49.1 0 0 55.2-49.2 0-4.3-13.6-.9-2.4-.9-1.4-2-1.9-3.2-1.4-1.5-.2-1.5-.6-2-1-.9-.9-.2-1 1.2-3-1.2-3.3.3-.9 1.6-1.4 6.4-2.2 2.1-1.2.8-1 1-1.8.9-2.2z"/>
<path fill="#800308" d="M438.4 168l0-.2 48.5 0 0 55.2-48.5 0-4.4-13.7-1-2.5-.7-1.2-1.2-1.3-1.3-1-3.2-1.3-2-.3-3-1.3-1-1-.2-.6 1.4-3.2-1.3-3 .1-.9 1.8-1.5 3.5-1.2 1.5-.3 3-1.4 1.2-1 1.1-1.5 1.7-4z"/>
<path fill="#930206" d="M439.1 167.8l47.8 0 0 55.2-47.9 0-4.1-13.2-1.7-4-2-2-1.3-.8-3.3-1.3-1.7-.2-3.5-1.6-.8-1.1 1.4-3.2-1.4-3.3.8-1.1 1-.7 3.8-1.3 1.4-.3 3.3-1.4 1.9-1.9 1-1.8.9-2.2z"/>
<path fill="#a60104" d="M439.6 168l.1-.2 47.2 0 0 55.2-47.3 0-4.4-14-1-2.4-1-1.6-2-1.6-1.3-.7-3.3-1.2-1.7-.2-1.3-.5-2-.9-.9-1.1 1.5-3.2-1.5-3.3.7-.9 1.2-.8 3.6-1.2 1.4-.2 3.6-1.5 1.8-1.7.9-1.2 1.6-3.8z"/>
<path fill="#ba0102" d="M440.3 167.8l46.6 0 0 55.2-46.7 0-4.1-13.2-1.8-4-1.2-1.5-2.9-1.8-3.6-1.2-1.7-.2-3.3-1.4-.7-.7-.2-.2 1.7-3.2-1.7-3.3 1.9-1.5 3.6-1.2 1.4-.2 3.6-1.3 1.9-1.5.9-1 1.1-1.8.9-2.2z"/>
<path fill="#cb0000" d="M440.9 167.8l46 0 0 55.2-46.1 0-4-13-.9-2.4-1-1.8-1.5-1.8-3.2-1.8-1.8-.3-1.8-.8-1.7-.2-4-1.9-.2-.2.6-.8 1.2-2.4-1.2-2.6-.6-.7 1.9-1.3 3.6-1.2 1.4-.2 3.6-1.3 2.2-1.5 1.2-1.2 1-1.6 1-2.4z"/>
<path fill="#d60000" d="M441.5 167.8l45.4 0 0 55.2-45.4 0-4.3-13.7-1.1-2.5-1.2-1.8-1.5-1.4-3.2-1.6-1.8-.3-1.8-.7-1.7-.3-4.1-1.9.6-.8 1.3-2.4-1.3-2.6-.6-.7.1-.2.5 0 1.2-1 8.8-2.6 2-1.3 2.2-2.1 1.9-4.3z"/>
<path fill="#e10000" d="M442.1 167.8l44.8 0 0 55.2-44.8 0-4.1-13.4-1.2-2.8-1.2-1.6-2.2-1.9-2-.9-4.5-1.5-2-.3-4.1-1.8.7-.8 1.3-2.4-1.3-2.6-.7-.7.1-.1.5-.1 1.2-.8 3.6-1.2 1.4-.2 3.8-1.2 3.5-2.1 1.4-1.6.9-1.7 1.1-2.7z"/>
<path fill="#ec0000" d="M442.8 167.8l44.1 0 0 55.2-44.2 0-4.1-13.7-1.2-2.5-1.3-1.8-2.7-2-3.2-1.3-1.8-.3-1.5-.7-2-.3-4.1-1.6 1.4-1.8.8-1.4-2.1-3.4 1.3-.4.4-.4 3.6-1.2 1.7-.2 1.7-.7 1.8-.4 4.2-2.3 1.3-1.5 1.1-2.1 1-2.4z"/>
<path fill="#f70000" d="M443.4 168l0-.2 43.5 0 0 55.2-43.5 0-4-13.4-.9-2.3-1.5-2-1.1-1-2.4-1.5-3.3-1.3-1.8-.2-1.5-.7-1.7-.2-1.8-.9-1.8-.3-.7-.4 1.7-2.2.5-1-.5-1-1.7-2.4 5.3-1.8 1.7-.3 1.7-.7 1.8-.3 4.5-2.3 1.7-1.8 1.2-2 1-2.4z"/>
<path fill="#ff0300" d="M444.1 168l.1-.2 42.7 0 0 55.2-42.7 0-3.7-13-1-2.4-1.1-1.6-2.5-2.1-2.3-1.3-3.2-1.1-2-.4-1.5-.6-1.7-.2-1.8-.9-1.8-.2-.7-.4 1.8-2.2.5-1-2.3-3.3 5.3-1.8 1.7-.3 1.7-.6 2-.5 4.3-1.9 1.3-.9 1.5-1.7 1.1-1.8.9-2.5z"/>
<path fill="#ff0e00" d="M445.1 167.8l41.8 0 0 55.2-41.8 0-3.3-12.7-1.1-2.5-1.5-2-3-2.1-2.6-1.3-1.4-.3-1.8-.8-2-.3-1.5-.6-1.7-.2-1.8-.9-1.8-.2-.6-.3 2.4-3.2-2.4-3.3 1.4-.4.2-.3 2-.3 1.8-.8 1.5-.2 1.7-.6 2-.4 4.3-1.8 2.2-1.5 2.2-2.2.9-1.5.9-2.3z"/>
<path fill="#ff1900" d="M446.5 167.8l40.4 0 0 55.2-40.4 0-.5-11-.4-1.7-1-1.5-1.2-1-2.2-1.3-2-1.4-5.6-2.9-1.4-.3-1.8-.7-2-.3-1.5-.6-1.7-.2-1.3-.5-.3-.3-2-.2-.5-.3.5-1 1.8-2.2-1.8-2.3-.5-1 1.5-.7 2-.2 1.8-.8 1.5-.2 1.7-.6 2-.3 4.4-1.7 4.4-2.9 3-1.6 1.4-1.3.9-1.4.3-1.8.2-8.5z"/>
<path fill="#ff2400" d="M449.8 167.8l37.1 0 0 55.2-37.1 0 0-7.2-.3-3.2-.7-2.6-1.4-1.9-13.8-6-1.4-.3-1.8-.7-1.8-.2-1.4-.6-2-.3-1.6-.7-2-.2-.3-.3.3-1 1.9-2.2-1.9-2.3-.3-.7.3-.6.8-.1.2-.2 2-.3 1.8-.7 1.5-.2 1.7-.6 2-.3 2.8-1.2 1.8-.4 4.2-2.3 2.6-.7 2.2-.9 1.2-.6 1.2-.9 1.3-2 .6-2.3.3-3.3z"/>
<path fill="#ff3000" d="M452.8 167.8l34.1 0 0 55.2-34.1 0-.2-6.4-.6-3.8-1.3-3-2.1-2.3-1-.7-9.4-3-4.3-1.8-1.7-.3-1.8-.7-1.8-.2-1.4-.6-2-.3-1.6-.7-1.9-.2-.2-.2-.1-.2.3-.8 1.8-2.2-1.8-2.3-.3-.7.3-.6.7 0 .2-.3 2-.2 1.8-.7 1.8-.2 1.7-.7 1.7-.2 2.8-1.1 1.8-.4 4-1.9 3-.6 3.4-1.2 1.3-.6 1.9-1.6 1.5-2.3 1-3 .4-3.2z"/>
<path fill="#ff3b00" d="M455.5 167.8l31.4 0 0 55.2-31.4 0-.4-5.7-1-4-.9-2-.9-1.5-2.4-2.3-2-1.3-9.7-2.7-4.3-1.7-1.7-.3-1.8-.6-1.8-.2-1.4-.6-2-.3-.3-.3-1 0-.3-.3-1.7-.2-.4-.4 2-3-1.7-2.3-.3-.7.4-.6 1-.3 2-.1 1.5-.7 1.8-.2 1.7-.7 1.7-.2 2.8-1 1.8-.4 4-1.7 2-.2 4.4-1.3 2.3-1.1 2.3-1.8 2-2.5 1.1-2.5.8-4z"/>
<path fill="#ff4800" d="M457.9 167.8l29 0 0 55.2-29 0-.7-5.4-1.4-4.3-2.4-3.7-3.2-2.7-2.3-1.2-9.7-2.4-4.3-1.6-1.7-.3-1.8-.6-1.8-.2-1.4-.6-2-.2-.3-.3-1-.1-.3-.2-1.5-.2-.5-.4 1.3-2.3.6-.7-1.6-2.3-.3-.7.3-.5.7-.3 2.3-.2 1.5-.6 1.8-.2 1.7-.7 1.7-.2 2.8-1 1.9-.3 4.1-1.6 1.8-.1 4.7-1.3 3.3-1.6 3.1-2.4 1.5-2 1.8-4 .8-3.3z"/>
<path fill="#ff5500" d="M460.2 167.8l26.7 0 0 55.2-26.7 0-.9-5-1.7-4.2-1.1-1.8-2.1-2.4-3-2.6-3.2-1.7-10-2.2-4.3-1.5-1.5-.2-2-.7-1.8-.2-1.4-.6-2-.2-1.6-.5-1.4-.2-.5-.4 1.2-2.3.7-.7-.7-.8-1.2-2.2 1-.8 2.2-.2.3-.2 3-.5 1.7-.7 1.7-.2 2.8-1 2-.3 4-1.4 1.8-.1 4.7-1.3 3.3-1.4 3.4-2.2 2.8-3.3 1.7-3 1.3-3.7z"/>
<path fill="#ff6200" d="M462.4 168l0-.2 24.5 0 0 55.2-24.5 0-1.3-5-1.7-3.7-2.5-3.3-2.3-2.2-2-1.5-4.4-2.3-1.8-.2-6.8-1.7-1.4-.2-4.3-1.5-1.5-.1-1.8-.6-2-.2-1.4-.7-2-.1-.3-.2-2.7-.6-.4-.3 1.1-2.3.7-.7-.7-.8-1.1-2.2 1-.8 2.1-.2.3-.2 3-.5 1.7-.6 1.7-.2 2.8-1 2-.2 4-1.4 1.8-.1 4.7-1.2 3.5-1.4 3.5-1.9 1.5-1.3 2.4-2.8 1.9-2.8 1.6-3.7z"/>
<path fill="#ff6e00" d="M464.7 167.8l22.2 0 0 55.2-22.2 0-1.4-4.2-2.4-4.5-2-2.5-1.8-1.8-4.5-3.2-4.4-2.1-1.8-.1-6.5-1.7-1.7-.2-4.3-1.4-1.5-.1-1.8-.6-2-.2-1.2-.6-2.2-.1-.3-.3-1-.1-2-.7 1.7-3-1.7-3 1-.7 2-.2.3-.3 1 0 .2-.3 1.8-.1 1.7-.6 2-.2 2.5-.9 2-.3 4-1.3 2-.1 4.5-1.1 3.5-1.3 3.5-1.7 4.3-3.7 2.9-3.5 2.2-4z"/>
<path fill="#ff7c00" d="M467.2 167.8l19.7 0 0 55.2-19.7 0-1.9-4.4-3.9-5.6-4.2-3.8-4.3-2.7-4.7-2-1.8-.1-6.5-1.7-1.7-.1-4-1.3-1.8-.2-1.8-.6-2-.2-1.2-.5-2.2-.1-.3-.3-1-.1-1.8-.7 1.6-3-1.6-3 .8-.6 2-.3 1.5-.6 2-.1 1.5-.6 2-.1 2.5-.9 2-.3 4-1.2 2-.1 4.8-1.2 3.2-1.1 4.5-2.1 5.5-4.6 2.9-3.2 2.5-4z"/>
<path fill="#ff8b00" d="M470.3 167.8l16.6 0 0 55.2-16.7 0-2.3-4.2-5.7-6.4-3.8-3-4.2-2.6-5.8-2.4-2-.2-6.5-1.6-1.7-.2-4-1.2-1.8-.2-1.8-.6-2-.1-1.2-.6-2.2-.1-2.8-1 0-.6 1.3-2.4-1.3-2.6 0-.4.5-.6 3.3-.6.2-.2 2-.1 1.5-.6 2-.1 2.7-1 1.8-.1 4-1.3 2 0 4.8-1.2 6.7-2.4 2-1.1 5.7-4.4 2.9-2.6 2.6-3 2-3z"/>
<path fill="#ff9a00" d="M473.9 168l.1-.2 12.9 0 0 55.2-13 0-1.6-2.4-3.9-4.3-6.5-5.3-3.3-2.1-4.4-2.5-5.8-2.2-2-.2-6.5-1.6-1.5 0-4.2-1.3-1.8-.1-1.8-.7-2 0-1.2-.6-2.2-.1-.3-.3-.7 0-1.7-1 1.3-2.7-1.3-2.6 0-.2.7-.7 3-.7.2-.2 2-.1.2-.3 1 0 .3-.2 2-.2 2.7-.9 2-.2 3.8-1.1 2-.1 4.8-1.1 7-2.3 7.7-4.9 5.5-4.2 4-4z"/>
<path fill="#ffa900" d="M480 169.3l3.4.5 3.5 1.6 0 48.3-1 .6-2 .9-2 .5-1.7.1-1.8-.3-2-1.1-6.6-5.1-4.2-2.5-3.7-2.6-7.7-4.1-5.8-2.1-2-.1-6.5-1.6-1.5-.1-4.2-1.2-1.8-.1-1.5-.6-2.3-.1-1.2-.5-2.2-.1-2.5-1.3 1.2-2.7-1.2-2.6 0-.2.5-.5 2-.8 1 0 .2-.3 2-.1.2-.2 1-.1.3-.2 2-.1 2.7-.9 2-.2 3.8-1.1 3.2-.3 4.8-1.2 4-1.4 1.8-.4 7.7-4.3 5.7-3.6 9.6-6.9 1.4-.7z"/>
<path fill="#ffb900" d="M479.3 172.8l1.9 0 2 .5 2 1.1 1.7 1.5 0 39.3-1.5 1.4-2 1.1-3 .6-1.8-.1-1.2-.3-7.2-4.1-4.3-2-5-2.9-4.5-2.1-4.5-1.8-3.5-1.1-1.8-.1-6.4-1.6-1.8-.1-4.2-1.2-1.8-.1-.2-.3-1 0-.3-.2-2.3-.1-1.2-.5-2.1-.1-1.1-.5-1.3-1.1 1.1-2.4-1.1-2.8 1-.7 1.4-.5.9-.1.2-.3 2 0 .2-.3 1 0 .3-.3 2.3 0 .2-.3 2.2-.6 2-.1 4-1.2 1.8 0 1.5-.3 4.5-1.1 4-1.4 1.8-.3 14.2-7.2 7.5-4.2 2-.9z"/>
<path fill="#ffc903" d="M479.5 174.8l2.1.2 2.3 1 2 1.8 1 1.5 0 13.5-.4 2.8.4 2.7 0 13.5-.8 1.2-1.5 1.5-2.2 1.4-2.2.4-2.8-.4-5.5-2.3-1.5-.9-4.2-1.7-7.3-3.6-4.5-1.8-5.8-1.8-2-.1-6.4-1.6-1.8-.1-4.2-1.2-1.8 0-.2-.3-1 0-.3-.3-2.3 0-1.2-.6-2-.1-2.3-1.5 1-2.4-.9-2.8 2.2-1.2.8-.1.2-.2 2-.1.2-.3 1 0 .3-.3 2.3 0 .2-.3.8 0 1.4-.6 2-.1 4-1.1 2 0 6-1.4 4-1.4 1.8-.2 21.8-9.9 2-.7zM427.6 193.1l-.2.2.2.5.4-.5z"/>
<path fill="#ffdf0f" d="M478.4 176.3l2.8 0 2.2 1.1 1.8 1.9.9 1.7.4 1.3 0 2.5-1.4 10.8 1.4 10.7-.1 2.7-.4 1.3-1.1 2-1.5 1.4-1.5.8-1.3.4-1.4 0-2.3-.5-4.7-1.8-1.6-.8-4.4-1.5-7.3-3.3-4.5-1.6-5.8-1.8-2 0-6.4-1.6-1.8-.1-2.5-.6-.3-.2-1-.1-.2-.2-2-.1-.2-.2-1 0-.3-.3-2.3-.1-1.2-.5-2-.2-1.9-1.4.8-2.4-1-2.6 2.1-1.3 1-.4 2-.1 1.5-.5 2.3-.1 1.2-.5 1 0 .2-.3 2-.1 4-1.1 2 0 6-1.4 4-1.3 1.8-.2 4-1.8 11.5-4.5 6.5-2.5zM427.6 193l-.2.3.2.6.5-.6z"/>
<path fill="#fff51b" d="M477.9 177.6l2.7-.2 2 .8 1.8 1.8.7 1.6.3 1-.1 2.2-1.4 10.8 1.4 10.7 0 2.5-1.3 2.8-1.2 1.2-1.4.7-2.5.2-1.7-.4-1.8-.7-3-.9-1.8-.8-4.2-1.2-3-1.4-5.5-2-9.3-2.8-2 0-6.4-1.6-1.8-.1-.2-.2-1-.1-.3-.2-2.3-.3-.2-.2-2-.1-.2-.2-1-.1-.3-.2-2.3-.1-1.2-.5-2-.3-1.7-1.5.8-2.2-.9-2.6 1.8-1.2 1.2-.5 1.8-.1 1.5-.5 2.3-.1 1.2-.5 1 0 .2-.3 2.3 0 .3-.2 1-.1 1.2-.5 1.2-.3 2 0 2.8-.8 3.2-.6 4-1.2 1.8-.2 6.2-2.4zM426.2 194l0 .5.5.1-.1-.4zM427.6 193l-.3.3.3.7.5-.7-.1-.3z"/>
<path fill="#f3fc1e" d="M478.5 178.3l2.1 0 1.6.7 1.3 1.3.9 2.3 0 2-1.4 11 1.4 11 0 2-1 2.3-1.2 1.2-1.3.6-2 .1-1.5-.3-1.8-.7-3-.8-1.7-.8-4.5-1.1-7.2-2.7-10.6-3-2 0-3.7-1-1-.1-.3-.2-1-.1-.2-.2-2 0-.2-.3-1 0-.3-.2-1 0-.3-.3-1 0-.2-.3-2 0-1.5-.5-2.3-.1-1.2-.5-1.8-.4-1.7-1.4.8-2.2-.7-2.6 2.6-1.6 1.8-.1 1.5-.6 2.3 0 1.2-.6 1 0 .2-.2 2.3-.1.3-.2 2-.3.2-.2 1 0 .2-.3 2.3-.1 2.5-.7 3.2-.6 4-1.1 2-.2 6-2.3zM426.2 193.9l-.2.7.9 0-.3-.5zM427.4 193l-.2.6.4.5.3-.1.3-.9z"/>
<path fill="#e2fe1e" d="M478.6 179l1.8 0 1.2.6 1.3 1.2.8 2 0 1.8-1.5 10.7 1.5 11.3 0 2-1 2-1.1.9-1 .5-2 .1-1.2-.4-1.8-.7-3-.7-1.4-.7-4.6-1-4-1.5-6.4-1.7-1.6-.6-4.4-1-1.3-.5-2.3 0-.2-.3-1 0-.2-.2-2-.3-.3-.2-1 0-.3-.3-1 0-.2-.2-2 0-.2-.3-1 0-.3-.3-1 0-.3-.2-1 0-.2-.3-2 0-1.5-.6-2.3 0-1.2-.6-1.8-.4-1.3-1.3.6-2.2-.8-2.3 2.5-1.8 3-.5.3-.3 2.3 0 1.2-.5 1-.1.2-.2 2.3 0 .3-.3 2-.3.2-.2 1 0 .2-.3 2.3 0 .3-.2 2-.3.2-.2 3.5-.6.3-.2 3.4-.9 2-.1 3.8-1.4 10.2-2.8 1.8-.7zM426.2 193.9l-.3.1 0 .6 1 .1.1-.4-.3-.3zM427.4 192.9l-.3.7.5.6.3-.2.3-1z"/>
<path fill="#d4ff1e" d="M478.4 179.8l1.8-.1 1 .4 1.2 1.2.6 1.5 0 1.8-1.5 10.4 1.3 11 .2.8 0 1.5-.8 1.7-.8.9-1 .5-1.5 0-1.3-.3-1.7-.7-3-.6-1.7-.8-4.6-.9-3.7-1.3-6.7-1.6-1.6-.6-.7 0-.3-.2-1-.1-.2-.3-2.2-.2-1.3-.5-2.3 0-.2-.3-1 0-1.2-.5-1 0-.3-.2-1 0-.3-.3-1 0-.2-.3-2 0-.2-.2-1 0-.3-.3-1 0-.3-.2-1-.1-.2-.2-2-.1-1.5-.5-2.1-.1-2.9-1.1-1.5-1.3.7-2-.7-2.3 2.5-1.7 2.7-.6.3-.2 2.3-.1 1.2-.5 1 0 .2-.3 2.3 0 .3-.3 2-.2.2-.3 1 0 .2-.2 2.3-.1.3-.2 2-.3.2-.2 3.5-.5 1.3-.5 2.2-.3.2-.2 2-.1 4-1.4 10-2.5 2-.7 4-.9zM426.2 193.8l-.4.2 0 .6.4.2.7 0 .2-.5zM427.4 192.9l-.4.7.2.4.4.3.4-.3.3-1z"/>
<path fill="#caff1c" d="M478.8 180.3l1.4 0 .7.3 1 1 .5 1.2 0 1.5-.2.5 0 1.5-.3.5 0 1.5-.2.5 0 1.5-.3.5 0 1.5-.2.5 0 1.5-.3.7.5 5.3.3.5 0 1.5.2.5 0 1.5.3.5 0 1.5.2.5 0 1.5-.5 1.3-1.5 1.2-1.5 0-2.7-1-3-.5-1.8-.8-4.5-.8-4-1.3-3-.6-.3-.3-3.4-.5-1.3-.5-1 0-.3-.2-3.4-.5-1.3-.5-2.3-.1-.2-.2-1 0-1.2-.5-1 0-.3-.3-1 0-.3-.2-1 0-.2-.3-2 0-.2-.2-1-.1-.3-.2-1 0-1.5-.5-2-.1-1.5-.5-2-.1-3-1.4-1.2-1 .6-2.3-.6-1.7 2.2-1.9 3-.9 2.3-.1 1.2-.5 1 0 .2-.3 2.3 0 .3-.2 2-.3.2-.3 1 0 .2-.2 2.3 0 .3-.3 2-.2.2-.3 3.5-.5 1.3-.5 2.2-.3.2-.2 2.3 0 1.3-.5.7 0 .7-.5 2-.3 1.3-.5 8-1.7 2-.8 4-.7zM427.6 192.8l-.5.2-.2.8-1 0-.2.5.2.5 1.3 0 .7-.5.4-1.3zM428.9 197.3l-.1.5.5 0 .2-.2z"/>
<path fill="#b4ff16" d="M478.7 180.8l.2-.2 1 0 .7.3 1 .9.5 1-.3 3.5-.2.3 0 1.7-.3.3 0 1.7-.2.3 0 1.7-.3.3 0 1.7-.2.3 0 2 .2.2 0 1.8.3.2 0 1.8.2.2 0 1.8.3.2 0 1.8.2.2.3 3.5-.5 1-1.4 1.2-1.3 0-2.5-1-3.2-.5-1.6-.8-4.7-.7-.3-.3-1.7-.2-.7-.5-.8 0-.2-.3-1 0-.3-.2-1 0-1.3-.5-3.4-.5-1.3-.5-4.7-.8-1.3-.5-2.3 0-.2-.3-1 0-1.2-.5-1 0-.3-.2-1 0-1.5-.5-2-.1-.2-.2-1 0-.3-.3-1 0-1.5-.5-1.9 0-1.6-.6-1.7-.2-3-1.8-.9-.7.5-2 .3-.3 1.1 0 .4-.2.6-.7.3-1.1-.1-.2-.5-.1-1.3.1.6-.5 3-1.3 2-.2 2.4-.8 2.3 0 .3-.3 2-.3.2-.2 1 0 .2-.3 2.3 0 .3-.2 2-.3.2-.2 3.5-.5 1.3-.5 2.2-.3.2-.3 2.3 0 1.3-.5.7 0 .7-.5.8 0 .2-.2 1 0 1.3-.5 3.5-.5.2-.3 1 0 1.3-.5 1 0 .3-.2 1 0 .2-.3.8 0 .7-.5 1.7-.2.3-.3 1 0 .3-.2 1-.1 2.4-.9zM428.9 197.2l-.4.4.3.4.6-.1.4-.3z"/>
<path fill="#a0ff1d" d="M478.8 180.8l1.4-.1.4.2.9.9.5 1-.2 3.5-.3.3 0 1.7-.2.3 0 1.7-.3.3 0 1.7-.2.3 0 1.7-.3.3 0 2 .3.2 0 1.8.2.2 0 1.8.3.2 0 1.8.2.2 0 1.8.3.2.2 3.5-.5 1-1.3 1.1-1.3 0-2.5-1-3.2-.5-1.6-.7-4.7-.8-3.7-1.2-1 0-.3-.3-1 0-1.3-.5-3.4-.5-1.3-.5-4.7-.8-1.3-.5-2.3 0-.2-.2-1 0-1.2-.5-1 0-.3-.3-1 0-1.5-.5-2 0-.2-.3-1 0-.3-.2-.9-.1-1.6-.5-1.8-.1-3.2-1.1-3.4-2.3.4-1.7 1-.2.8-.7.5-1.6-.5-.2 2.2-1.3 1.8-.3 2.7-.9 2-.1 2.5-.7 1-.1.2-.2 2.3 0 .3-.3 2-.2.2-.3 3.5-.5 1.3-.5 1 0 .2-.2 1-.1.2-.2 2.3 0 3.7-1.3 1 0 1.3-.5 3.5-.5.2-.2 1 0 1.3-.5 1 0 .3-.3 1 0 .2-.2.8 0 .7-.5 1.7-.3.3-.2 1 0 .3-.3 1 0 2.4-1zM428.6 197.2l-.3.6.3.5 1.7-.5.1-.2z"/>
<path fill="#90ff2f" d="M478.8 180.8l1.4-.1.4.3.9.8.5 1-.3 3.5-.2.3 0 1.7-.3.3 0 1.7-.2.3 0 1.7-.3.3 0 1.7-.2.3 0 2 .2.2 0 1.8.3.2 0 1.8.2.2 0 1.8.3.2 0 1.8.2.2.3 3.5-.5 1-1.3 1.1-1.3 0-2.5-1-3.2-.6-1.6-.7-4.7-.8-3.7-1.2-1 0-2.6-.7-3.4-.6-1.3-.4-4.7-.8-1.3-.5-2.3 0-.2-.3-1 0-1.2-.5-.9 0-2.9-.8-1.8 0-4-1.2-1.7-.2-3.5-1.5.2-.3 1-.3.1-.4-.3-.2-1.8-.4-.4.6-1.4-.8.2-1.2 1-.8.6-1.5.6-.5 1.4-1 4.3-1.5 2-.1 4-1.1 2-.1 2.5-.7 3.5-.5 1.3-.5 2.2-.3.2-.2 2.3-.1 3.7-1.2 1 0 1.3-.5 3.5-.5.2-.2 1-.1 2.6-.7 1 0 .2-.2.8-.1.7-.4 3-.6.3-.2 1 0 2.4-1zM436.4 196.3l-.5.5.5.4.2-.6z"/>
<path fill="#82ff4a" d="M479 180.8l1 0 .6.3.7.7.6 1.2-.3 3.3-.2.3-.1 1.7-.2.3 0 1.7-.2.3-.1 1.7-.2.3 0 1.7-.2.3 0 2 .2.2 0 1.8.2.2.1 1.8.2.2 0 1.8.2.2.1 1.8.2.2.3 3.2-.6 1.3-1.3 1-1 0-2.6-1-3.1-.5-1.7-.7-4.5-.8-3.9-1.2-6.8-1.3-7.5-1.8-2 0-6.5-1.7-1.5 0-5.7-1.7-2-1-.1-.8-.5-.5-2.4-.5-.6-.5.2-1 .8-1.5 2.3-1.4.9-.1 3.4-1.6 2-.3 3.7-1.1 2-.1 10-2.4 2 0 4-1.2 10.3-2.1 1.8-.7 5.2-1 .8-.5zM430.2 194.2l-.4.6.4.3.5-.8-.3-.2zM436.4 196l-.8.6.8 1.1.6-1.4-.1-.3z"/>
<path fill="#76ff70" d="M478.9 181l1-.1.7.4.5.5.6 1.2-.5 5-.2.6 0 1.4-.3.6 0 1.4-.2.6 0 1.4-.3.6 0 2 .3.4 0 1.6.2.4 0 1.6.3.4 0 1.6.2.4.5 5-.6 1.3-1.2.9-1.7-.3-1.8-.7-3-.5-1.8-.8-6.4-1.2-2-.8-12.8-2.6-1.5-.5-1.8 0-6.5-1.7-1.7-.2-3.5-1.3-1.5-.8-1.7-.4-1.6-1.2-1.2-.4-.5-.8.2-1.4 2-1.6 1.1-.2 1 .6.2-.6-.1-.5.9-.5.4-.2.8.4.4-.2-.5-.5.1-.1 1.8-.3 2.7-1 1.3-.4 2-.1 9.7-2.4 2 0 4-1.3 10.3-2 2-.8 4-.7 2.7-1zM430.2 194l-.6.8.3.5.5-.2.5-.8-.3-.5zM436.2 196l-.9.6 1.1 1.4.8-2-.3-.2z"/>
<path fill="#6cff96" d="M479.3 181l1.1.3 1.1 1.7-.5 5-.2.6 0 1.4-.3.6 0 1.4-.2.6 0 1.4-.3.6 0 2 .3.4 0 1.6.2.4 0 1.6.3.4 0 1.6.2.4.5 5-.6 1.3-1 .7-.7 0-2.6-.9-3.2-.6-1.5-.7-4.7-.8-3.8-1.2-12.8-2.7-1.4-.5-2-.1-6.6-1.9-1.4-.2-3.6-1.3-1.2-.8-1 0-2.4-1.5-.3-.5 0-1.3.7-1.2 1.2-.5.3.7.3.1.7-1.5.5-.3 1 0 1.5-.5 1-.6.5.1.2.5.6 0 .3-.8-.5-.2 1.2-.4 3-.6 7.4-2 2.6-.6 2-.1 4-1.2 10.2-2.1 1.8-.7 5.2-1.1 1.5-.7zM436.4 195.7l-1.2.6-.1.3 1.1 1.7.4-.3.8-1.7-.2-.5z"/>
<path fill="#64ffbc" d="M478.7 181.6l.9-.3.6.3.5.4.5 1.3-.5 4.7-.2.6-.1 1.4-.2.6 0 1.4-.2.6-.1 1.4-.2.6 0 2 .2.4.1 1.6.2.4 0 1.6.2.4.1 1.6.2.4.5 4.8-.6 1.3-1 .7-3-1-3-.5-1.7-.8-6.5-1.3-2-.7-6.8-1.4-7.4-2-3-.4-2.3-.7-.7-.6-.6.2-2-.6-.3-.4-.1-.8-.6-.3-.3.3.1.8-1.2-.2-1.8-.8 1.4-2-.6-1-1.8.4-.5.3.1.7.7.8-.1.6-1-.7-.4.1-.6-.2-.9-.8 0-2.2.7-.3.5-1 2-1 2.3-.5.7.4 1.5-1.2 1.2.2.4-.6 4.2-1.2 7.2-1.8 1.8-.1 4-1.3 10.2-2.1 2-.8 4-.8 2.8-.9zM441.2 191.7l-.3.6.5.2.3-.2 0-.5-.3-.2zM442.2 199l0 .4.7.4.1-.8-.4-.1zM452.4 199.5l-.4.3.2.2.7-.2zM455.6 202l-.2.3.5.3.2-.3z"/>
<path fill="#60f8e1" d="M479.3 181.8l.8.2.6 1.3-1.5 11.3 0 2 1.5 10.7-.4 1.5-.7.5-2.7-.8-3-.6-1.7-.7-4.6-.9-4-1.2-11.4-2.6-.6-.5.2-.7-.2-.7-.4.2-.6.9-.4.2-2-.4-.8-.4-1 .1-2.5-.7-.5-.5-.5-1.2-1 .2.3.9-1.6-.5-.4-.8-.6-.3-.4.2-.3.5-.5-.1-1.4-.6-.1-.3.5-.8 1.3-.2-1.3-1.5-.8-.1-1.6.4 0-1.8.3-.4.8-.6 2.1-.7 1 .1 1.2-.9.2.2 0 .7.8.3.3-.1.9-1.6 3.8-1.1 7-1.8 2-.2 4-1.3 10.2-2.2zM446.6 196l-.7.3 0 .5.5 0 .8-.5zM451.9 199.5l-.2.5.2.3 1-.2.2-.3-.5-.4zM455.6 201.8l-.4.1-.2.4.4.5.5.1.3-.1.1-.5zM478.4 186l-.3.3.3.2.3-.2z"/>
<path fill="#5ee7ff" d="M479.2 182.3l.4 0 .6 1 0 .5-.6 2.5.1 1.5-.2.5-.6 5.3-.3.7.1 2-.6.5.1.3.6.2.4 2 .5 4.3-.3 1.7.8 2.3-.6 1.2-4.7-1.1-2.7-1-4.6-.8-4.7-1.4-.7-.5 0-.2 1-.8-1.6-.6-.2.4.1 1-.3.3-2.8-.6-.8-.6-.7-.1-1-1.1-1.5 0-.2.7-1.8-.4-.4-.2.1-1.2 1.2-.6 0-.4-.4-.3-.7 0-.5.3-1.3 1.8-4-.7-2.8-.9-.3-.8-.4-.4-1.5.5-.8-.3-.9-1-.1-.5-1.7-1.5 0-2.2.7-.6.8.2.5-.8 1.7.4 1.3-1.4 3.5-1 6-1.6 1 .1 1-.4 2-.3 1.7-.4 1.3-.7 10.2-2.2 2-.7 1.8-.2 1.5-.6zM446.9 195.8l-1.2.5 0 .7 2.6-.7zM470.4 189.2l-.4.6.6.4.3-.6zM472.2 205.2l-.4.4.4.5.5-.5zM478.2 185.8l-.3.5.3.4.4 0 .7-.4 0-.3zM437.9 197.6l1.1.2-.1.4z"/>
<path fill="#48b9ff" d="M478.6 182.8l.7 0 .4.8-.4 1.7-.4.2-.7-.1-.4.6.1.6.5.4.7 0 .1.6-.4.7.1 1.3-.7 4.7 0 1.7-.7.8.8 1.2.4 1.6.4 4.2-.1 1.2.6 2.6-.4.7-5-1.3-.5-.4 0-.6-1.2-1-.8.3-.3.9-3.5-.7-5-1.4-.1-.3.7-.8-.1-.2-1.2-.4-.8-.8-.3 0 .1 1.7-.3.3-2.5-.6-.1-.7-.4-.3-.7.4-1.6-.9-1.4-.1-.6.4-1.2-.2 0-.8.8-.3.3-.5 0-.4-.3-.4-1.3.1-1.5 1.7-3.8-.8-3-1.1-.7-.7-.8.2-.7-.6-.1-5 .6 0 .5-.7 9-2.7 1-.3.8.2 1-.5 4-.7 1.4-.8 10.3-2.2 2-.7 1.7 0 .8-.6 3-.7zM477.6 201.8l-.5.5.5.3.4-.3zM443.2 192.4l-.1.6.5 0 .1-.2zM445.4 192.3l-.5.5.5.4.4-.4-.2-.5zM446.9 195.4l-1.4.9-.1 1 .2.3 1-.6 1.3-.3.7.2.8.6.4-.2-.2-.4-1.2-.9zM448.6 193.3l0 .3.6.1.3-.4-.3-.2zM451.2 194.5l-.2.3.2.3.4-.5zM455.4 199.4l-.3.4.3.3.4-.3-.2-.4zM462.9 195l-.9 1.3.2.2.8-.9zM470.2 189.2l-.4.6.4.5.4.1.4-.4 0-.7z"/>
<path fill="#3086ff" d="M478.5 183.3l.4-.1.2.4-.2 1.4-1.1 0-.2 1 .3.8.7.8-.3 1 .1 1-.5.7-.7-.3-.6 0-.3.8.3.8 1-1 .5.7-.4 3-.1 1.7-.4.8.7 1.2.5 3.6-1-.2-.7.9.2.3 1.2.4.4.6.6 4-.2.2-1.5-.5-3-.7-.2-.8-.8-.3-.8-.6-.9.1-.5.7-4-.9-3.6-1.1-.2-.1.2-.8-1.4-.6-.8-1-.5.2.2 1.2-.2.5-2.3-.5-.4-.7-1.3.1-1-.6-1.9-.4-.5-.4.2-1-.3-.6-1.5.1-.6.5-.7.9-2.7-.7-1.3-.5-.6-.5.2-1.2.8-.6 1.4 0 1.2.7.6-.4-.3-.5-3-1.8-.9.6.2-3.5.7-.5 4.5-1.5 1.8-.2.7-.4 2-.3 6.3-1.8 1.7-.3.7.3 1-.8 5.3-1.1 1.3-.5 1.4 0 .8-.5 3-.6zM448.9 192.9l-.6.7.9.3.7-.6-.2-.3zM451.2 194.2l-.6.8.3.5.5-.2.5-.7-.3-.4zM455.2 199.3l-.2.7.6.2.4-.4-.1-.4-.3-.3zM457.2 194.3l-1.5.5.5.4.7 0 .5-.4zM458.9 196.4l-.2.2.9.5.4-.1-.1-.5zM462.9 194.2l-.3.4-.3 1-.7 1 0 .2.6 0 1.2-1.2-.2-1.3zM466.6 188l0 .5.3.2.5 0 .3-.4-.5-.5zM468.4 195l-.7.3 0 .3.5.4.4-.2.4-.5-.1-.3zM470.2 189l-.4.3-.2.5.3.5.7.3.5-.3.1-1-.3-.3zM459.2 199.5l.2.5.2-.4-.2-.2z"/>
<path fill="#1f60ff" d="M476.2 184.6l.8 0 .4.8.2 1.2.5.7-.5 2-1.2.4-.3.3 0 2-.8 1.6.3.4.6-.2.7-1.8.5-.4-.5 5.2.4.8.3 2.7-.2.2-.8 0-.8.5.8.6-.2 1.2 1.1.2.5.6.3 2.2-.1 1.2-1.9-.4-.4-1.3-.5-.3-1.5.4-1.3-.7-1.4.5-2.6-.6 0-.3.8-.1.4-.4-.4-.5-1.7.5-.3.5-1.1-.3-.2-.2.5-1-.1-.8-.9-.3-.4-.5-.6.1-.2.5 1.2.5.2.5-.3.5-.6.2-.8-.2-.5-.8-1.4-.5-.8-1.1-.5.1-.3.3.3 1-.3.1-1.7-.4-.7-.4-1.1 0-3.2-1.2-.1-1.6-.6-.5 0-7.5.2-.2 3.5-1 .5.3.5-.6 2-.7 4-1 .5.2 1.5-.7 4.7-1.1.8.1 1-.7zM454.9 197.4l-.1.4.7.5.1-.7-.2-.3zM457.2 191.8l-.4.2.1.3.7.6.1-.6zM458.4 196l-.2.6 1.4.9.6-.1.3-.4-.2-.4-.7-.5zM461.2 190l-.6.6-1-.2-.2.1.1.8.7.4 1.2-.4.2-.5zM461.9 188.4l-.2.4.2.3.4-.3zM462.6 194l-.4 1.4-.9 1.2.1.5.8-.1 1.4-1.4-.3-1.6-.1-.2zM464.4 190.1l0 .8.8-.1-.1-.5zM465.9 193.8l-.3.2 0 .3.9 1 1.7 1 1-.7.1-.6-.4-.2-1.5.2-.7-.4-.5-.8zM466.6 187.7l-.2.6.2.5.8.1.5-.3.1-.3-.4-.5zM469.9 189l-.5.6 0 .4 1 .9.5 0 .4-.6.1-1.3-.8-.1zM471.9 193.8l-.4.2.1.6.6-.2.2-.4zM472.2 186.9l-.2.7.4.5 1.5-.4.3-.4.1-.3-.4-.1-1 .2zM455.4 198.7l-.7.9.1.7.4.3.4-.1.6-.7-.3-1-.3-.2zM456.9 194l-1.5.5-.3.5.3.4.8.1 1.2-.3.3-.4-.1-.5-.2-.3zM459.2 199l-.4.8.6.6.4-.4.3-1-.5-.1zM465.2 196.5l-.6.5.3.5.5-.2 0-.5zM467.6 199.7l-.2.3 0 1 .5.8.5.3.3-.5-.7-.8-.1-1zM474.2 200.2l-.3.1.4.7.6.3.3-.3-.1-.2zM465.4 199.4l-.3.4.5.4.5-.4 0-.2z"/>
<path fill="#1548ff" d="M476 185.3l1 0 .2.5 0 1.5-.2 1-.7.7-1.3.6.6.4.1 1.3-.3 1.3-.5 1 .3.6 1 .1 0 2.5.2 1.5 0 .2-.5-.5-.3.3.3.6.3.1.2-.3.3 1.1-.6.5-.7.1-2-1.3-.3.2-.2.5.3.7 1.4 1.2.3.2.7-.3.5.2-.4 1.2 1.4.3.3 2.8-1-.3-.5-.9-2 .2-1-.7-1 .2-1.7-.5-.1-.5-.7-.8-.8 0 1.2-1.8-.1-.4-.3-.3 0-.5 1-.5.4-.5.1-.5-.3-.4-.2 0-1.2 1.3-.6.1 0-1.5.3-.5 0-1 .9-1-.6-.7-.6 0 0-4 .4-.3 1.4 1 .9 0 .3 1.3.8-.4.2.1-.2.9-.8.1-.4.7.2.9.5.1.5-.3 1.3-1.1.3-1.6-.6-.7-.2-.7-.6-.5-.7-.1 0-.4.5-1 1.8-.7.5-1.1-.5-.3-1.3.2-.5-.4zM470.9 199.5l-.4.5.4.5.5 0 .2-.2 0-.5zM472.2 201l-.7.8.4.6.7-.4.4-.7-.4-.4zM470.8 186.8l.6 0 .3.5-.1 1.1-1.4.2-1.3 1-.3 0 0-2z"/>
</g></g>
<text x="486.2" y="171.2" style="font-family:'Liberation Sans',sans-serif;font-size:4px" fill="#3c3c3c">1.0</text>
<rect x="485.0" y="169.6" width="0.9" height="0.4" fill="#888"/>
<text x="486.2" y="184.1" style="font-family:'Liberation Sans',sans-serif;font-size:4px" fill="#3c3c3c">0.5</text>
<rect x="485.0" y="182.5" width="0.9" height="0.4" fill="#888"/>
<text x="486.2" y="196.9" style="font-family:'Liberation Sans',sans-serif;font-size:4px" fill="#3c3c3c">0.0</text>
<rect x="485.0" y="195.3" width="0.9" height="0.4" fill="#888"/>
<text x="485.3" y="209.8" style="font-family:'Liberation Sans',sans-serif;font-size:4px" fill="#3c3c3c">−0.5</text>
<rect x="485.0" y="208.2" width="0.9" height="0.4" fill="#888"/>
<text x="485.3" y="222.6" style="font-family:'Liberation Sans',sans-serif;font-size:4px" fill="#3c3c3c">−1.0</text>
<rect x="485.0" y="221.0" width="0.9" height="0.4" fill="#888"/>
<text transform="translate(496.5,195.5) rotate(-90)" text-anchor="middle" style="font-family:'Liberation Sans',sans-serif;font-size:3.8px" fill="#3c3c3c">z [AU]</text>
<text x="437.1" y="225.0" text-anchor="middle" style="font-family:'Liberation Sans',sans-serif;font-size:4.2px" fill="#3c3c3c">2</text>
<rect x="436.9" y="221.2" width="0.4" height="0.9" fill="#888"/>
<text x="455.3" y="225.0" text-anchor="middle" style="font-family:'Liberation Sans',sans-serif;font-size:4.2px" fill="#3c3c3c">3</text>
<rect x="455.1" y="221.2" width="0.4" height="0.9" fill="#888"/>
<text x="468.3" y="225.0" text-anchor="middle" style="font-family:'Liberation Sans',sans-serif;font-size:4.2px" fill="#3c3c3c">4</text>
<rect x="468.1" y="221.2" width="0.4" height="0.9" fill="#888"/>
<text x="478.3" y="225.0" text-anchor="middle" style="font-family:'Liberation Sans',sans-serif;font-size:4.2px" fill="#3c3c3c">5</text>
<rect x="478.1" y="221.2" width="0.4" height="0.9" fill="#888"/>
<text x="451.9" y="228.6" text-anchor="middle" style="font-family:'Liberation Sans',sans-serif;font-size:3.8px" fill="#3c3c3c">r [AU]</text>
<clipPath id="cp25"><rect x="511.8" y="169.8" width="66.6" height="51.4"/></clipPath>
<g clip-path="url(#cp25)"><g filter="url(#bl)">
<rect x="509.8" y="167.8" width="70.6" height="55.4" fill="rgb(104,4,10)"/>
<path fill="#68040a" d="M520.8 167.8l59.5 0 0 55.2-59.6 0-3.9-19.2-.8-1.5-.8-.7-1.4-.8-.7-1.2.1-1.8.7-2.2-.8-3.3.5-1.7 1-1 1.4-.8.9-1.8z"/>
<path fill="#68040a" d="M521.5 167.8l58.8 0 0 55.2-58.9 0-3.9-19.4-.8-1.6-1.4-1.1-1.3-.6-.6-1 .1-1.5.9-2.2-1.1-3.3.5-1.3 2.8-1.8 1-1.8z"/>
<path fill="#68040a" d="M522 168l.1-.2 58.2 0 0 55.2-58.3 0-4-19.7-.9-1.5-1.8-1.3-1.3-.6-.5-1.1 1.2-3.2-.9-2.3-.2-1.5 1-1 2.3-1.2 1.1-1.8z"/>
<path fill="#6d040a" d="M522.5 168l.1-.2 57.7 0 0 55.2-57.8 0-3.9-19.7-1.1-1.7-3.5-2-.3-.8 1.2-3.2-.9-2.3-.3-1.3 1.1-1.1 2.7-1.3.9-1.6.9-3.4z"/>
<path fill="#800308" d="M523 168l.1-.2 57.2 0 0 55.2-57.3 0-4-20-.6-1-.7-.7-3.4-1.8-.5-.7 1.3-3.2-1.1-2.6-.1-1 .9-.9 2.9-1.3.7-.8.5-1 .8-3.2z"/>
<path fill="#930206" d="M523.5 167.8l56.8 0 0 55.2-56.8 0-4-19.7-.6-1.3-.7-.7-4.2-2.3.1-1 1.2-2.4-1.4-3.3.9-1 3.4-1.5 1.2-1.8.8-3z"/>
<path fill="#a60104" d="M524 167.8l56.3 0 0 55.2-56.4 0-4-19.7-.5-1.3-1-1-4.3-2 .2-1 1.1-2.4-1.4-3.3 1-1 3.4-1.3 1.4-2 .8-3z"/>
<path fill="#ba0102" d="M524.4 167.8l55.9 0 0 55.2-55.9 0-4-19.7-.8-1.5-.7-.8-4.6-1.9-.2-.3 1.5-3.2-1.5-3.3.9-.8 3.8-1.4 1.5-2.1.7-3z"/>
<path fill="#cb0000" d="M524.9 167.8l55.4 0 0 55.2-55.5 0-4-19.7-.6-1.3-.9-1-5.2-2.2 1.6-3.2-1.6-3.3.9-.7 3.8-1.3 1.1-1 .7-1 .8-3z"/>
<path fill="#d60000" d="M525.3 168l0-.2 55 0 0 55.2-55 0-3.4-17.2-.8-3-.9-1.2-.8-.8-5.3-2 1.7-3.2-1.7-3.3.9-.6 3.8-1.1 1.6-1.3.9-1.5z"/>
<path fill="#e10000" d="M525.8 167.8l54.5 0 0 55.2-54.5 0-4-19.7-.7-1.3-1.3-1.2-5.6-2 1.6-3.2-1.6-3.3.8-.5 4.1-1.2 1.5-1 .9-1.3.9-3.3z"/>
<path fill="#ec0000" d="M526.3 168l0-.2 54 0 0 55.2-54 0-3.4-17.2-.9-3-.6-1-1.6-1.3-5.6-1.7 1.3-2 .4-1.2-.4-1.3-1.3-2 .8-.5 4-1 2.3-1.5.9-1.5.8-3z"/>
<path fill="#f70000" d="M526.9 167.8l53.4 0 0 55.2-53.5 0-3.1-16.4-.9-3.3-.9-1.5-1.9-1.3-3.7-1-.5-.4-1.6-.3 1.4-2 .4-1.2-.4-1.3-1.4-2 .8-.4 4-.9 2.6-1.4 1-1.6 1-3.4z"/>
<path fill="#ff0300" d="M527.5 167.8l52.8 0 0 55.2-52.8 0-3.1-16.2-1-3.5-1-1.5-2.4-1.5-3.7-.9-.3-.4-1.7-.2 1.8-3.2-1.8-3.3.7-.4 4-.8 2.3-1.1.8-.4 1.3-1.8 1-3.5z"/>
<path fill="#ff0e00" d="M528.5 168l.1-.2 51.7 0 0 55.2-51.8 0-2.6-15.7-.5-1.7-.8-1.8-1.6-2-3-1.7-3.7-.8-.3-.3-1.7-.2 2-3.2-2-3.3.7-.4 4-.7 2.9-1.2 1.8-1.4 1.2-1.8 1-3.2z"/>
<path fill="#ff1900" d="M534.4 167.8l45.9 0 0 55.2-45.9 0 0-14.4-.2-1.8-.5-1.2-.9-1-2-1-4.2-1.1-1.8-.1-1.8-1.1-3-1.3-3.7-.7-.3-.3-1.7-.2 2-3.2-2-3.3.7-.3 4.1-.7 2.9-1.1 2.8-1.5 6-1.2 2-.9.6-.6.7-1.2.2-1.8z"/>
<path fill="#ff2400" d="M538.9 167.8l41.4 0 0 55.2-41.4 0-.1-15-.3-1.7-.8-1.3-2.1-1.2-2.3-.7-6.5-1.3-2.2-.1-4.6-1.8-5.5-1.1.5-1.2 1.4-2-1.4-2-.5-1.3.5-.3 4-.6 5.3-1.9 9-1.5 2.3-.7 1.2-.7 1.2-1 .6-1 .2-2z"/>
<path fill="#ff3000" d="M542.6 167.8l37.7 0 0 55.2-37.7 0-.1-14.7-.4-2-1-1.3-1.1-.7-4.2-1.3-6.8-1.3-4.7-.4-4.3-1.5-5.4-1 .4-1.2 1.4-2-1.7-2.8-.1-.5.4-.3 4-.5 5-1.6 4.6-.8 2.7-.1 4.5-.9 3.2-1 2.3-1.3.9-1.2.3-2z"/>
<path fill="#ff3b00" d="M546 167.8l34.3 0 0 55.2-34.3 0 0-10.2-.3-3.5-1.1-3-1.9-1.7-2.4-1.1-2.3-.5-11.2-1.9-2.5-.1-4.3-1.3-3.7-.5-.3-.3-1.2-.2.3-1.1 1.3-2-1.6-2.8.3-.8 4.2-.4.5-.4 2.5-.5 1.5-.5 12-1.6 5.5-1.4 1.3-.6 1-.8 1.6-2.2.6-2.6z"/>
<path fill="#ff4800" d="M549.3 167.8l31 0 0 55.2-31 0-.2-7.4-.5-4-1.5-3.8-2.3-2.8-2-1.1-2.5-.9-13.3-2.1-2.7-.1-.7-.3-2.8-.5-.5-.4-4-.5-.3-.2-1.2-.3.4-1 1.2-2-1.6-2.9.4-.7 4.1-.4.5-.3 2.5-.4 1.3-.5 10-1.2 8-1.5 1.2-.5 2.8-1.9 1.7-2.5 1.4-3.8.5-4.2z"/>
<path fill="#ff5500" d="M552.5 167.8l27.8 0 0 55.2-27.8 0-.6-6.4-.6-3-.7-2.1-1-1.9-1.8-2.6-3-2.7-2-.9-2.5-.7-8.3-1.1-.4-.3-1.8 0-.5-.3-1.7 0-.6-.3-2.7-.1-.7-.3-2.8-.4-.5-.4-4-.4-1.4-.5 1.6-3-1.6-3 .5-.6 3.9-.3.5-.3 2.5-.4.7-.4 5-.5.8-.3 2.8 0 10-1.7 1.2-.4 3-1.6 1.2-1.2 1.8-2.2 2-3.9 1.2-4.8z"/>
<path fill="#ff6200" d="M555.5 167.8l24.8 0 0 55.2-24.8 0-.5-3.4-.8-3-2.4-5.8-2-2.8-2.8-2.6-2-1.5-4.4-1.4-8.6-1.1-.4-.2-1.6-.1-.7-.2-1.5-.1-.8-.2-2.7-.1-.7-.4-2.8-.3-.5-.3-4-.4-1.3-.5 1.5-3-1.4-2.8-.1-.2.6-.5 3.7-.3.5-.3 2.5-.4.7-.3 2.8-.2 3-.6 2.8-.1.4-.2 4-.4 1.8-.5 4-.5 4-1.7 1.2-.9 2.8-2.8 1.9-2.6 1.1-2 1.8-4.9z"/>
<path fill="#ff6e00" d="M558.5 167.8l21.8 0 0 55.2-21.8 0-.9-3.4-1.4-3.6-1.6-3-2.3-3.4-2.3-2.5-5-3.5-4.4-1.3-8.3-1-.7-.3-1.6 0-.7-.3-1.5 0-.8-.3-2.7-.1-.7-.3-2.8-.3-.5-.3-4-.3-1.1-.8 1.3-2.7-1.3-2.8 0-.2.4-.4 4-.4.2-.3 2.5-.3.7-.3 2.8-.2 3-.6 2.8 0 .7-.3 3.7-.3 1.8-.5 4-.4 4.2-1.7 1.3-.8 3.9-3.5 3.4-4.6 2.5-5.2z"/>
<path fill="#ff7c00" d="M562 167.8l18.3 0 0 55.2-18.4 0-1.6-3.7-1.5-2.7-1.8-2.8-2-2.4-2.4-2.9-2.3-2-5-3.1-4.7-1.3-10.6-1.2-3-.6-2.7-.1-.7-.3-2.8-.3-.6-.3-3.8-.3-1-.7 1.2-2.7-1.3-2.8.3-.5.7-.3 3.3-.2.2-.2 2.8-.3.4-.3 2.8-.2 3-.5 2.8-.1.7-.3 3.8-.3 1.9-.5 3.8-.4 4.2-1.4 1.3-.7 2-1.4 3-2.6 3.9-4.3 2.6-3.8 1.4-2.5z"/>
<path fill="#ff8b00" d="M566.4 168l.2-.2 13.7 0 0 55.2-13.9 0-3.4-4.8-5.7-6.1-4.5-4.3-2.5-1.9-5-2.7-4.7-1.3-12.8-1.4-.8-.3-2.7-.1-.5-.3-3-.3-.2-.2-3.9-.3-1.2-.7 1.1-2.7-1.1-2.8.4-.5.8-.3 2.9-.1.2-.3 2.8-.2.4-.3 3-.2 2.8-.5 2.8-.1 3-.5 1.4-.1 2-.5 3.8-.3 4.2-1.4 1.3-.6 5.3-3.6 4-3.5 6.8-7.5z"/>
<path fill="#ff9a00" d="M571.8 170.6l1.8 0 2.4.8 2.3 1.2 2 1.7 0 42.5-1.8 1.5-2.2 1.3-2 .7-1.7.3-1.8-.3-2.2-.9-1.8-1.1-2.8-2.5-3.2-2.3-8-6.5-2.5-1.6-5-2.4-4.7-1.2-10.6-1.1-2.7-.6-3-.1-.5-.3-3-.2-.2-.2-3.6-.3-1.1-.7-.1-.5.9-2.2-1-2.8.6-.5.7-.3 2.6-.1.2-.3 2.8-.1.4-.3 3-.2.6-.2 1.7-.1.5-.2 2.8-.1.7-.2 4-.4 1.7-.5 3.8-.3 4.5-1.3 3.3-1.7 5.2-3.6 12.8-10.1 2-1.1z"/>
<path fill="#ffa900" d="M570.4 174l2.6 0 3 1.3 2.8 2.5 1.5 2.4 0 13.2-.3 2.2.3 2.1 0 13.2-1.1 1.9-1.6 1.8-1.3 1-1.7 1-1.6.5-1.4.1-2-.3-1.6-.5-3.4-2.4-3.3-1.8-8.5-5.9-2.2-1.2-1.6-.5-3.7-1.8-4.7-1.1-8.3-.8-.5-.3-1.8 0-.4-.3-1.8 0-.5-.3-3-.1-.5-.2-3-.2-.2-.3-3.2-.2-.8-.2-.6-.8.8-2.4-.8-2.8.6-.5 3-.4.2-.2 2.8-.2.4-.3 3-.1.6-.3 1.7 0 .5-.2 3-.1.5-.3 4-.3 1.7-.5 3.8-.3 3-1 1.5-.2 6.5-3.4 14.8-9.5 1.2-.6z"/>
<path fill="#ffb900" d="M569.7 176l1.9-.1 1.2.2 2.8 1.3 2.3 2.6 1 2 .4 1.6 0 2.7-1.3 9.3 1.3 9.2-.1 3.2-.5 1.6-1.4 2.3-1.7 1.8-2 1.1-2.3.4-3-.6-8.5-4.5-8-4.8-6.5-2.7-1.5-.1-3-.9-6.2-.6-.6-.2-1.7 0-.5-.3-1.8 0-.4-.3-1.8 0-.5-.3-3 0-.5-.3-6-.6-1-.3-.5-.7.6-2.4-.7-2.6.8-.7 2.6-.4.2-.2 6.2-.5.6-.3 1.7 0 .5-.3 3 0 .5-.3 4-.3 1.7-.5 4-.3 2.8-.9 1.5-.2 5.5-2.5 7-4.1 9-4.8z"/>
<path fill="#ffc903" d="M569 177.6l3-.2 2.6 1.1 2 2.1.8 1.7.4 1.5 0 2.2-1.3 9.6 1.3 9.4 0 2.6-.4 1.2-1.2 2.2-1.6 1.6-1.6.8-1.7.4-2.7-.4-3-1.7-9-4.2-3.6-2-7.5-2.9-1.7-.2-3-.9-1.8 0-.4-.2-1.8-.1-.5-.2-1.7 0-.6-.3-6.2-.6-.5-.2-3-.1-.3-.3-3.2-.1-.2-.2-2.4-.2-1.3-.4-.4-.8.6-2.2-.7-2.6.9-.7 2.3-.3.2-.3 6.2-.4.6-.3 1.7 0 .5-.3 3 0 .5-.3 1.7 0 .6-.3 1.7 0 1.7-.5 4-.3 2.8-.9 1.5-.2 6.7-2.8 5.8-3z"/>
<path fill="#ffdf0f" d="M569.3 178.6l2.5-.1 2 .8 1.8 1.8 1.1 2.7 0 2.2-1.3 9.6 1.3 9.4 0 2.3-.3 1-1.1 2-1.3 1.3-1.4.8-1.6.3-2.2-.3-3-1.6-11-4.7-1.8-1.1-7.4-2.6-1.8-.1-3-.9-1.8 0-.4-.2-1.8 0-.5-.3-6.3-.6-.4-.2-1.8 0-.2-.3-3.3 0-.3-.3-3.2-.1-.2-.3-2.8-.3-1.1-1 .6-2.2-.6-2.3 1.1-1 1.8-.3.2-.2 3-.2.2-.2 3.3-.1.3-.2 2-.1.2-.2 3-.1.5-.2 1.7 0 .6-.3 1.7 0 1.7-.5 4-.3 2.8-.9 1.8-.2 6.4-2.5zM519.6 194.2l-.2.4.2.1.5-.1z"/>
<path fill="#fff51b" d="M569 179.6l2.6-.3 1.7.7 1.5 1.6 1 2.4 0 1.8-1.4 9.8 1.4 9.7 0 2-1.2 2.5-1.3 1.2-1.3.6-2.7 0-3.3-1.5-11.2-4.5-1.5-.8-2.5-1-1.8-.2-3.4-1.3-1.8-.1-3-.8-6.2-.6-.3-.2-2-.1-.3-.2-2 0-.2-.3-2 0-.2-.2-3.3-.1-.3-.2-3.2-.1-.2-.3-2.4-.3-1.2-1 .5-2.2-.6-2.3 1.3-1 1.4-.3.2-.2 3-.1.2-.3 3.3-.1.3-.2 2 0 .2-.3 3.2 0 .3-.2 4-.3 1.7-.5 4-.3 2.8-.9 1.8-.1 11-4 1.4-.9 4.8-1.7zM519.6 194.2l-.3.4.3.1.6-.1z"/>
<path fill="#f3fc1e" d="M569.2 180.3l2.1-.2 1.5.6 1.4 1.3.8 2 0 1.8-1.4 9.8 1.4 9.7 0 1.7-1 2.3-1 1-1.2.6-2.5 0-3-1.5-11.3-4.1-1.7-.9-2.5-.8-1.5-.1-3.7-1.3-1.8-.1-.2-.2-1-.1-.3-.3-1 0-.3-.2-2 0-.2-.3-2 0-.2-.2-4.3-.3-.3-.2-2 0-.2-.3-2 0-.2-.3-3.3 0-.3-.2-3.2-.2-.2-.2-1.9-.3-1.4-1.1.4-2.1-.4-2.3.9-.7 1.7-.8 2.9-.1.5-.3 3 0 .3-.3 2 0 .2-.3 3.2 0 .3-.2 2 0 .3-.3 2 0 .2-.2 1 0 .2-.3 4.3-.2.3-.3 1-.1 1.2-.5 1.8-.1 11.2-3.7 1.5-.8 1.7-.4 6.6-2.6zM519.3 194.2l-.1.4.3.2.6 0 .2-.2-.5-.5z"/>
<path fill="#e2fe1e" d="M569.6 180.8l1.7-.1 1.2.6 1.2 1.3.7 1.7 0 1.5-1.5 9.8 1.5 9.7 0 1.7-.9 1.8-1 1-.9.5-2 0-3-1.5-6.8-2.5-4.8-1.4-1.7-.8-2.3-.7-1.7-.1-3.5-1.2-2-.1-.2-.2-2.3-.3-.3-.2-2 0-.2-.3-2 0-.2-.2-2 0-.3-.3-2 0-.3-.2-4.2-.3-.2-.3-6.8-.4-2.2-.7-1.1-1 .4-2-.4-2 1.1-1 1.4-.7 2.8-.2.5-.3 3 0 .3-.3 2 0 .2-.2 3.2-.1.3-.2 2 0 .3-.3 2 0 .2-.2 1 0 .2-.3 4.3-.2.3-.3 2-.2.2-.3 1.8-.1 11.2-3.3 1.8-.8 1.7-.4 6.5-2.5zM519.6 194l-.4.3.1.5 1.1 0 .1-.2-.2-.3z"/>
<path fill="#d4ff1e" d="M569.4 181.6l1.6-.3 1 .4 1.2 1.1.6 1.5-.8 7-.7 4 1.5 10 0 1.5-.8 1.7-.8.8-.9.5-1.5 0-3.2-1.6-6.6-2.2-4-1.1-2.4-1.1-2.6-.6-1.7-.1-1.3-.6-2-.2-.2-.3-2 0-.2-.2-2.3-.3-.3-.2-2-.1-.2-.2-2 0-.2-.3-4.3-.2-.3-.3-2 0-.2-.2-2-.1-.2-.2-6.6-.4-1.9-.7-1.3-1.3.4-2-.4-1.5 1-1 1.2-.8 2.8-.3.2-.2 5.6-.4.2-.2 3.2 0 .3-.3 2 0 .3-.2 2 0 .2-.3 1 0 .2-.2 4.3-.3.3-.3 2-.2.2-.3 2 0 .2-.2 1 0 1.3-.6 4.3-1 4.4-1.2 1.6-.8 1.7-.3 6.5-2.4zM520.8 193.5l0 .9-1-.5-.5 0-.2.4.1.5 1.1.1.8-.3.3-1z"/>
<path fill="#caff1c" d="M569.6 182l1.5-.2.7.4.9.8.6 1.3-.3 3-.5 2.3 0 1.4-.5 2.3 0 1.3-.2.4.5 4.6.2.4 0 1.6.3.4 0 1.3.2.5 0 1.2.3.6 0 1.2-.6 1.2-.9.9-.7.4-1.3-.1-3-1.4-3.5-1.1-3.3-1.3-4.7-1.1-1.5-.7-2.2-.3-.3-.3-2 0-.3-.2-2-.3-1.2-.5-2 0-.2-.3-2.3-.2-.2-.3-2.1 0-.2-.2-2 0-.2-.3-4.3-.2-.3-.3-2 0-.2-.3-2 0-.2-.2-3-.1-.6-.2-2.7-.2-1.6-.6-1.6-1.3.5-2.3-.5-1.2 2.2-1.8 2.5-.2.2-.3 5.6-.3.2-.3 3.2 0 .3-.3 2 0 .3-.2 2 0 .2-.3 1 0 .2-.2 4.3-.3.3-.2 2-.3.2-.2 2-.1.2-.2 1 0 1.3-.5 1 0 1.3-.5 2.2-.3 1.2-.5 3-.6 1.8-.8 1.8-.3 1.7-.7 1.3-.3zM521 193.3l-.4.3 0 .5-1.3-.3-.3 1 1 .1 1-.2.5-1.1z"/>
<path fill="#b4ff16" d="M569.9 182.3l.1-.2 1 0 .6.3.9.9.5 1-.3 3-.2.3 0 1.4-.3.3 0 1.7-.2.3 0 1.5-.3.2 0 1.6-.2.2 0 1.5.2.3 0 1.4.3.3 0 1.5.2.2 0 1.8.3.2 0 1.6.2.2.3 3-.5 1-1.5 1.2-1 0-3-1.5-1.4-.3-1.6-.7-.7 0-.7-.5-1.5-.3-.8-.5-5-1-1.5-.7-1 0-.2-.3-1 0-.3-.2-2 0-.3-.3-2-.2-1.2-.5-2-.1-.2-.2-2.3-.3-.3-.2-2 0-.2-.3-6.5-.5-.3-.2-2-.1-.2-.2-2-.1-.2-.2-3.2 0-.4-.3-2-.3-.7-.2-2.4-2 .2-1.5.6-.3 1.1 0 .6-.4.2-1.3-1.3-.1-.1-.2 1-.7 2.1-.7 3-.1.3-.2 2-.1.2-.2 3.2-.1.3-.2 2 0 .3-.3 2 0 1.4-.5 4.3-.2.3-.3 2-.2.2-.3 2 0 .2-.3 2-.2.3-.3 2-.2.3-.3 2.2-.2 1.2-.5 2-.3.3-.2 1 0 1.5-.8 2-.2 1.5-.8 1.5-.2.8-.5.4 0 1.6-.8.7 0z"/>
<path fill="#a0ff1d" d="M569.9 182.3l1.1-.1.6.2.8.9.5 1-.2 3-.3.3 0 1.4-.2.3 0 1.7-.3.3 0 1.5-.2.2 0 1.6-.3.2 0 1.5.3.3 0 1.4.2.3 0 1.5.3.2 0 1.8.2.2 0 1.6.3.2.2 3-.5 1-1.4 1.1-1 0-3-1.5-1.4-.2-1.6-.8-.7 0-.7-.5-1.6-.2-.7-.5-5-1-1.5-.8-1 0-1.5-.5-2 0-1.3-.5-2-.3-.2-.2-2 0-.2-.3-2.3-.2-.3-.3-2 0-.2-.2-2 0-.2-.3-2 0-.3-.2-2-.1-.3-.2-2 0-.2-.3-1.8 0-.4-.2-3-.3-2.8-1.1-2.1-1.6 0-1.3 1.1-.1.8-.6.3-1.3-.3-.3 2-1 2.7-.4.5-.3 1.8 0 .2-.3 3.2 0 .3-.2 2-.1.3-.2 2 0 1.4-.5 4.3-.3.3-.2 2-.3.2-.2 3.2-.3.3-.2 2-.3 1.3-.5 2.2-.3 1.2-.5 2-.2.3-.3 1 0 2.5-1 1 0 1.5-.7 1.5-.3 2-1 1.5-.2zM522 197.1l-.3.5.1.3.8 0 .7-.3zM529.6 196.5l-.2.5.4.2.2-.4-.2-.3z"/>
<path fill="#90ff2f" d="M570 182.3l1 0 .6.2.7.8.5 1-.2 3-.3.3 0 1.4-.2.3 0 1.7-.3.3 0 1.5-.2.2 0 1.6-.3.2 0 1.5.3.3 0 1.4.2.3 0 1.5.3.2 0 1.8.2.2 0 1.6.3.2.2 3-.5 1-1.3 1-1 0-3-1.4-1.4-.3-1.6-.7-.7-.1-.7-.4-1.6-.3-.7-.5-5-1-1.5-.7-2.2-.3-.3-.2-2-.1-1.3-.4-2-.3-.2-.3-2 0-1.5-.5-1 0-.3-.2-2 0-.2-.3-6.2-.5-.6-.3-1.7-.1-.5-.2-1.8-.1-2.3-.6-2.2-1 .6-.2-.3-.5-2.2-.4-1.2-.9 0-.4 1.1-.8.5-1 2-1.2 3-1 1.6-.1.7-.3 2.7-.1.6-.3 1.7 0 .4-.2 1.9-.1 1.5-.5 4.2-.2 2.5-.8 3.2-.3 3.6-.9 2.2-.3 3.5-1 1 0 2.5-1 1 0 1.5-.7 1.5-.3 2-1 1.5-.3zM523.6 194.2l-.4.6.4.3.5-.8zM529.6 196.3l-.5.3-.1.2.8.6.4-.4 0-.7-.2-.2z"/>
<path fill="#82ff4a" d="M570.2 182.3l.7 0 .7.3.6.7.6 1.3-.6 4.4-.2.3 0 1.7-.2.3-.1 1.5-.2.2 0 1.6-.3.2 0 1.5.3.3 0 1.4.2.3.1 1.5.2.2 0 1.8.2.2.6 4.6-.6 1.2-1.3 1-.7 0-3.2-1.5-1.3-.3-5.4-1.9-4.8-1.1-1.7-.7-2.5-.5-1.7 0-3.8-1-1.8-.1-3-.7-1.7-.1-.5-.2-6.2-.7-4-.8-3.3-1.1-1.3-.9-1.7-.7-.9-.9.3-.6 1.3-.8.2.8.4.2.7-.9-.3-.5-.3 0 .3-.3 5.3-2 5-.5.5-.3 1.8 0 1.7-.5 4-.3 2.7-.8 1.8 0 5-1.3 6.5-1.3 1.7-.7 1.8-.3 1.7-.7 1.3-.3 2.2-.9 1.3-.3zM529.8 196l-1.1.6.2.4.9.7.6-.7.1-.7-.2-.3z"/>
<path fill="#76ff70" d="M570.1 182.6l.7-.2.7.4.5.5.6 1.3-.5 4.2-.2.5 0 1.5-.3.5 0 1.3-.2.4 0 1.3-.3.5 0 1.5.3.5 0 1.2.2.6 0 1.2.3.5 0 1.5.2.5.5 4.3-.6 1.2-1.2.9-.5 0-3-1.4-6-1.9-.7-.4-5-1.1-1.8-.8-2.5-.5-1.7 0-3.6-.9-2-.1-2.7-.8-6.3-.7-4.2-1-2.2-.7-.6-.4-2.4-.7-2.8-1.7.2-.3.6.1.2-.2.8-1 1.4-.6.2.4.4.2.4-1 2.6-1 5.4-1.2 1.8-.1 1.8-.5 3.7-.4 2.7-.7 1.8-.1 5-1.2 6.5-1.3 1.7-.8 1.8-.2 1.8-.8 1.4-.3 2-.9 1.6-.4zM530 195.8l-1.2.4-.3.4 1.1 1.5.4-.2.6-1.1 0-.8z"/>
<path fill="#6cff96" d="M570 182.8l.6-.2.7.3 1.1 1.7-.5 4.2-.3.5 0 1.5-.2.5 0 1.3-.3.4 0 1.3-.2.5 0 1.5.2.5 0 1.2.3.6 0 1.2.2.5 0 1.5.3.5.5 4.3-.7 1.2-.9.7-.5 0-3-1.4-6.7-2.3-4.8-1.1-1.8-.7-2.7-.6-1.5 0-3.8-1-1.7-.1-3-.8-6-1-1.9-.5.1-.2-.5-.3-.7.2-1.3-.3-.7-.4.7-1.4-.3-.8-.4-.2-1.7.6-.6 1.1-2.2-.8-1.2-.9.1-.3.9-.6 1-.2 1.2-.9 2-.7 2.8-.5 2.7-.8 1.5-.2 2-.6 3.8-.5 2.7-.8 1.7 0 11.6-2.7 1.4-.6 2-.4 3-1z"/>
<path fill="#64ffbc" d="M570.3 183l.3-.1.8.7.6 1.2-1.5 10 0 1.5 1.5 10-.6 1.3-.8.6-3-1.4-6.8-2.3-5-1.2-1.8-.7-2.4-.6-1.6 0-4-1.1-1.4-.1-3.3-.9-3.5-.5-1.5-.7-1 0-1.5-.3-1.2-.8-.3.3-1-.1-.5-.2.2-.4 1.3.3.1-.2-1.8-1.8-2 .5-.6.5-1.4-.9 1.2-1.1 2.2-.9 2.8-.4.8-.5 1.4.1.8-.6 3-.8 3.8-.5 3-.9 1.4 0 11.6-2.8 1.7-.7 1.7-.3 3.3-1.1zM545.8 199.3l-.6.3 0 .4.8.1.6-.2-.1-.3z"/>
<path fill="#60f8e1" d="M570.4 183.6l.5.2.5 1-1.5 10 0 1.8 1.5 9.4-.5 1.3-.3.3-2.8-1.3-6.8-2.3-5-1.2-1.2-1.1-.3.3-.9 0-5.8-1.2-.8-.3-.2-.9-.2-.4-1 0-1.3.8-6.5-1.3-4.2-1-.6-.5-1.5-.9-.7-.9-1.9.2.3-.6 1.1-.7 3.3-.9 2.4-.6.8.3.5-.5 1-.3.1.5.4.2.3-.2-.2-.8.1 0 3.8-.6 3-.8 1.5-.1 11.5-2.8 6.8-2.2zM539.8 196l-.5.3 0 .6 1.5-.6zM563.6 189.5l.2.5.3-.2-.1-.4z"/>
<path fill="#5ee7ff" d="M570.1 184.3l.3 0 .1.5 0 1.8-.2 1.7-.7 2.1-.1 1.6-.5 1.6.3.7.1 4 .3.7 0 1.6-.2.4.3.8 0 .8.5.7.4 2.7-.4.9-1.7-.9.4-.4-.2-.3-1.2.2-.8-.1-.8-.6-1.7-.1-1-.5-.5-.7-1 .1-1.2-.2-1-.8-1.3.2-2.5-.8-1-.8-1 .3-4.5-.9-.2-.3.2-.5-.3-.4-.4.1-.3.7-.3.1-.7-.2-.4-.8-.3-.3-.8 0-1.5.5-6.3-1.3-4.1-1.2.3-.4-.2-.6-.4 0-.3.7-1-.4-.5-.5.2-.8 1.8-.9 4.2-1.2.8.4.8-.8 3.2-.5 3-.9 1.8-.1 8.4-2.2 1 0 2.6-.8.4.6.6.1.5-.4-.3-.8 4.2-1.2zM540 195.8l-.9.5-.1 1.2 1-.6 1.7-.3.1-.3-1.2-.6zM563.6 189.3l-.3.5.3.3.4.1.3-.8-.3-.2z"/>
<path fill="#48b9ff" d="M569.8 185l.3 0-.2 1.6-.7 3.2-.1 2.2-.5 1.6.1 3 .5 3.7-.3.7.5.8.6 4.3-1.1-1.1-1.3.2-1.6-.7-1.7-.4-1.5-.9-2.5-.4-.5-.7-1.5-.6-1 .5-2-.7-.5-.4-1 .1-4-.8-.8-1.1-.4.1-.6.5-.7-.2-.5-.6-2 .2-5.2-1.4 0-.4.4-.3 1.3-.2.7.1.8.7.5-.3-.3-.5-1.2-.8-1.2-.6-1.5.6-.5 1.5-2.3-.7-.7-.5 0-1.3.2-.4 2.5-1 15.7-3.8.6.3.7-.6 4.3-1 1 .4.6-.3.4-.8 3-.9.4 0 .6.7.4 0 1.1-.3-.8-.1-.5-.4 0-.2zM542.3 192.9l-.4.7.7.2.4-.6-.2-.3zM544.6 194.5l-.3.5.3.2.5-.6zM552.6 199.7l0 .5.2.1.2-.5-.2-.2zM556.3 194.7l-.4.9-.6.7 0 .3 1.2-1zM561.8 195.2l-.2.4.6-.3zM563.6 189.1l-.4.7.4.5.4.1.4-.4 0-.7z"/>
<path fill="#3086ff" d="M569 185.8l.3.2 0 .6-.7 3 .2.7-.8 4.5 0 1.8.6 3.7-.8-.1-.2.4.4.8.8.4.5 2.8 0 .2-.3.1-2.2-.4-6.3-2.2-1.9-1.1-1.3.3-3.8-1.2-.5-1.1-.5.1-.5.7-1.4-.2-.8-.2-.8-.7-1 .2-1.2-.5-2.8-.5-.6-.3.3-.5-.3-.5-2.4-1.5-.4-.5 0-.5.7-.5 1.5.1 1.2-.9 2-.7 1.6-.2 5-1.3.5.5.5.1 1.1-.4.6-.9 4.5-1.1 1 0 1.2-.8 2.8-.9.2 0 .8.7 1.3-.3.6-.7-.1-.3-.6-.1zM544.6 194.2l-.7.8.4.6.6-.3.5-.7-.4-.5zM550.3 194.3l-1.3.4 0 .3.8.3.8-.2.3-.5zM552 196.3l-.1.3 1.1.6.5-.2.1-.2-.6-.5zM556 194.3l-.2 1-.9 1.3.1.3.6-.1 1.2-1.2-.2-1.4zM557.8 190.2l.2.6.4-.2-.4-.5zM561.6 195l-.6.3 0 .3.8.4.7-.7-.2-.3zM563.6 189l-.5.3-.1.5.3.5.7.4.5-.4.2-1-.4-.3zM561.6 201.5l-.2.5.4.2.1-.4zM540.9 197l.9 0 .3.3z"/>
<path fill="#1f60ff" d="M568.2 186.8l.2 0-.1 1.2-1 6.8 0 1.8.5 3.2-1-.4-.2.4 1.4 2 .4 2.5-5.9-2-.2-.7-.7-.8 0-1-.3-.2-.6.2-.1 1.5-.3.1-1.7-.6-.8.2-4-1.4-.1-.6-.4-.3-1.3.5-1.2-.2-1.5-.6-.2-.8-.5-.6 0-1.4 1 .1 1-.3.6-.8-.4-.7-2.2.4 0-1.3.3-.2 1.1-.5 1 .7.3-.2 0-.9 1.5-.4 1.2.2.8-.3.5-.6 2-.5.5.6.5.1.5-.4-.2-.7 6.4-2 .6.4 1.4-.4.6-.3zM551.8 195.9l-.4.7.4.3 1.5.7.7-.6 0-.2-1-.8zM556.3 193.8l-.5.5-.2 1-1.1 1.5.3.3.8 0 1.5-1.5-.3-1.6-.2-.2zM558.3 196.5l-.4.8.1.3.8 0 .2-.3-.2-.7zM559.3 193.7l-.5.6 2.8 2.2.2 0 .9-.9 0-.6-.3-.2-1.6.1-.8-.5-.2-.6zM563.8 188.8l-.7.2-.4.8.3.5 1 .7.7-.4.3-1.6zM565 193.8l-.2.5.5.3.4-.3.1-.5zM566.6 192.7l-.3 1 .7-.4 0-.5-.2-.2zM559 199.2l-.7.6.5.5.8-.5 0-.3zM561.8 196.6l-.3.4.1.5.3-.2z"/>
</g></g>
<text x="579.6" y="171.2" style="font-family:'Liberation Sans',sans-serif;font-size:4px" fill="#3c3c3c">1.0</text>
<rect x="578.4" y="169.6" width="0.9" height="0.4" fill="#888"/>
<text x="579.6" y="184.1" style="font-family:'Liberation Sans',sans-serif;font-size:4px" fill="#3c3c3c">0.5</text>
<rect x="578.4" y="182.5" width="0.9" height="0.4" fill="#888"/>
<text x="579.6" y="196.9" style="font-family:'Liberation Sans',sans-serif;font-size:4px" fill="#3c3c3c">0.0</text>
<rect x="578.4" y="195.3" width="0.9" height="0.4" fill="#888"/>
<text x="578.7" y="209.8" style="font-family:'Liberation Sans',sans-serif;font-size:4px" fill="#3c3c3c">−0.5</text>
<rect x="578.4" y="208.2" width="0.9" height="0.4" fill="#888"/>
<text x="578.7" y="222.6" style="font-family:'Liberation Sans',sans-serif;font-size:4px" fill="#3c3c3c">−1.0</text>
<rect x="578.4" y="221.0" width="0.9" height="0.4" fill="#888"/>
<text transform="translate(589.9,195.5) rotate(-90)" text-anchor="middle" style="font-family:'Liberation Sans',sans-serif;font-size:3.8px" fill="#3c3c3c">z [AU]</text>
<text x="530.5" y="225.0" text-anchor="middle" style="font-family:'Liberation Sans',sans-serif;font-size:4.2px" fill="#3c3c3c">2</text>
<rect x="530.3" y="221.2" width="0.4" height="0.9" fill="#888"/>
<text x="548.7" y="225.0" text-anchor="middle" style="font-family:'Liberation Sans',sans-serif;font-size:4.2px" fill="#3c3c3c">3</text>
<rect x="548.5" y="221.2" width="0.4" height="0.9" fill="#888"/>
<text x="561.7" y="225.0" text-anchor="middle" style="font-family:'Liberation Sans',sans-serif;font-size:4.2px" fill="#3c3c3c">4</text>
<rect x="561.5" y="221.2" width="0.4" height="0.9" fill="#888"/>
<text x="571.7" y="225.0" text-anchor="middle" style="font-family:'Liberation Sans',sans-serif;font-size:4.2px" fill="#3c3c3c">5</text>
<rect x="571.5" y="221.2" width="0.4" height="0.9" fill="#888"/>
<text x="545.3" y="228.6" text-anchor="middle" style="font-family:'Liberation Sans',sans-serif;font-size:3.8px" fill="#3c3c3c">r [AU]</text>
<g filter="url(#tb)" stroke="#222" stroke-width="0.25">
<text x="83.56" y="247.90" textLength="2.81" lengthAdjust="spacingAndGlyphs" style="font-family:'Liberation Serif';font-size:8.6px" fill="#222" >I</text>
<text x="175.97" y="247.90" textLength="5.24" lengthAdjust="spacingAndGlyphs" style="font-family:'Liberation Serif';font-size:8.6px" fill="#222" >II</text>
<text x="267.03" y="247.90" textLength="9.35" lengthAdjust="spacingAndGlyphs" style="font-family:'Liberation Serif';font-size:8.6px" fill="#222" >III</text>
<text x="360.96" y="247.90" textLength="8.61" lengthAdjust="spacingAndGlyphs" style="font-family:'Liberation Serif';font-size:8.6px" fill="#222" >IV</text>
<text x="455.26" y="247.90" textLength="5.95" lengthAdjust="spacingAndGlyphs" style="font-family:'Liberation Serif';font-size:8.6px" fill="#222" >V</text>
<text x="547.65" y="247.90" textLength="9.08" lengthAdjust="spacingAndGlyphs" style="font-family:'Liberation Serif';font-size:8.6px" fill="#222" >VI</text>
</g>
<defs><linearGradient id="cb" x1="0" x2="1" y1="0" y2="0">
<stop offset="0.0000" stop-color="rgb(0,0,118)"/>
<stop offset="0.0625" stop-color="rgb(0,0,215)"/>
<stop offset="0.1062" stop-color="rgb(0,18,255)"/>
<stop offset="0.1875" stop-color="rgb(16,60,255)"/>
<stop offset="0.2500" stop-color="rgb(36,108,255)"/>
<stop offset="0.2938" stop-color="rgb(70,180,255)"/>
<stop offset="0.3312" stop-color="rgb(96,236,255)"/>
<stop offset="0.3750" stop-color="rgb(96,255,208)"/>
<stop offset="0.4375" stop-color="rgb(112,255,130)"/>
<stop offset="0.5000" stop-color="rgb(136,255,56)"/>
<stop offset="0.5625" stop-color="rgb(168,255,20)"/>
<stop offset="0.6250" stop-color="rgb(214,255,30)"/>
<stop offset="0.6562" stop-color="rgb(255,250,30)"/>
<stop offset="0.6875" stop-color="rgb(255,196,0)"/>
<stop offset="0.7500" stop-color="rgb(255,120,0)"/>
<stop offset="0.8125" stop-color="rgb(255,56,0)"/>
<stop offset="0.8750" stop-color="rgb(255,0,0)"/>
<stop offset="0.9375" stop-color="rgb(200,0,0)"/>
<stop offset="1.0000" stop-color="rgb(104,4,10)"/>
</linearGradient></defs>
<rect x="180.2" y="252.3" width="230.8" height="13.4" fill="url(#cb)" stroke="#222" stroke-width="0.5"/>
<rect x="179.90" y="252.3" width="0.6" height="1.2" fill="#222" opacity="0.6"/>
<rect x="179.90" y="264.50" width="0.6" height="1.2" fill="#222" opacity="0.6"/>
<text x="177.98" y="273.80" textLength="4.61" lengthAdjust="spacingAndGlyphs" style="font-family:'Liberation Sans';font-size:8.4px" fill="#222" >0</text>
<rect x="208.75" y="252.3" width="0.6" height="1.2" fill="#222" opacity="0.6"/>
<rect x="208.75" y="264.50" width="0.6" height="1.2" fill="#222" opacity="0.6"/>
<text x="202.03" y="273.80" textLength="13.77" lengthAdjust="spacingAndGlyphs" style="font-family:'Liberation Sans';font-size:8.4px" fill="#222" >200</text>
<rect x="237.60" y="252.3" width="0.6" height="1.2" fill="#222" opacity="0.6"/>
<rect x="237.60" y="264.50" width="0.6" height="1.2" fill="#222" opacity="0.6"/>
<text x="231.13" y="273.80" textLength="13.52" lengthAdjust="spacingAndGlyphs" style="font-family:'Liberation Sans';font-size:8.4px" fill="#222" >400</text>
<rect x="266.45" y="252.3" width="0.6" height="1.2" fill="#222" opacity="0.6"/>
<rect x="266.45" y="264.50" width="0.6" height="1.2" fill="#222" opacity="0.6"/>
<text x="259.73" y="273.80" textLength="13.77" lengthAdjust="spacingAndGlyphs" style="font-family:'Liberation Sans';font-size:8.4px" fill="#222" >600</text>
<rect x="295.30" y="252.3" width="0.6" height="1.2" fill="#222" opacity="0.6"/>
<rect x="295.30" y="264.50" width="0.6" height="1.2" fill="#222" opacity="0.6"/>
<text x="288.83" y="273.80" textLength="13.52" lengthAdjust="spacingAndGlyphs" style="font-family:'Liberation Sans';font-size:8.4px" fill="#222" >800</text>
<rect x="324.15" y="252.3" width="0.6" height="1.2" fill="#222" opacity="0.6"/>
<rect x="324.15" y="264.50" width="0.6" height="1.2" fill="#222" opacity="0.6"/>
<text x="314.90" y="273.80" textLength="18.75" lengthAdjust="spacingAndGlyphs" style="font-family:'Liberation Sans';font-size:8.4px" fill="#222" >1000</text>
<rect x="353.00" y="252.3" width="0.6" height="1.2" fill="#222" opacity="0.6"/>
<rect x="353.00" y="264.50" width="0.6" height="1.2" fill="#222" opacity="0.6"/>
<text x="343.75" y="273.80" textLength="18.75" lengthAdjust="spacingAndGlyphs" style="font-family:'Liberation Sans';font-size:8.4px" fill="#222" >1200</text>
<rect x="381.85" y="252.3" width="0.6" height="1.2" fill="#222" opacity="0.6"/>
<rect x="381.85" y="264.50" width="0.6" height="1.2" fill="#222" opacity="0.6"/>
<text x="372.60" y="273.80" textLength="18.75" lengthAdjust="spacingAndGlyphs" style="font-family:'Liberation Sans';font-size:8.4px" fill="#222" >1400</text>
<rect x="410.70" y="252.3" width="0.6" height="1.2" fill="#222" opacity="0.6"/>
<rect x="410.70" y="264.50" width="0.6" height="1.2" fill="#222" opacity="0.6"/>
<text x="401.95" y="273.80" textLength="18.75" lengthAdjust="spacingAndGlyphs" style="font-family:'Liberation Sans';font-size:8.4px" fill="#222" >1600</text>
<text x="260.53" y="283.20" textLength="72.99" lengthAdjust="spacingAndGlyphs" style="font-family:'Liberation Sans';font-size:9.6px" fill="#222" >Temperature [K]</text>
</svg></body></html>
